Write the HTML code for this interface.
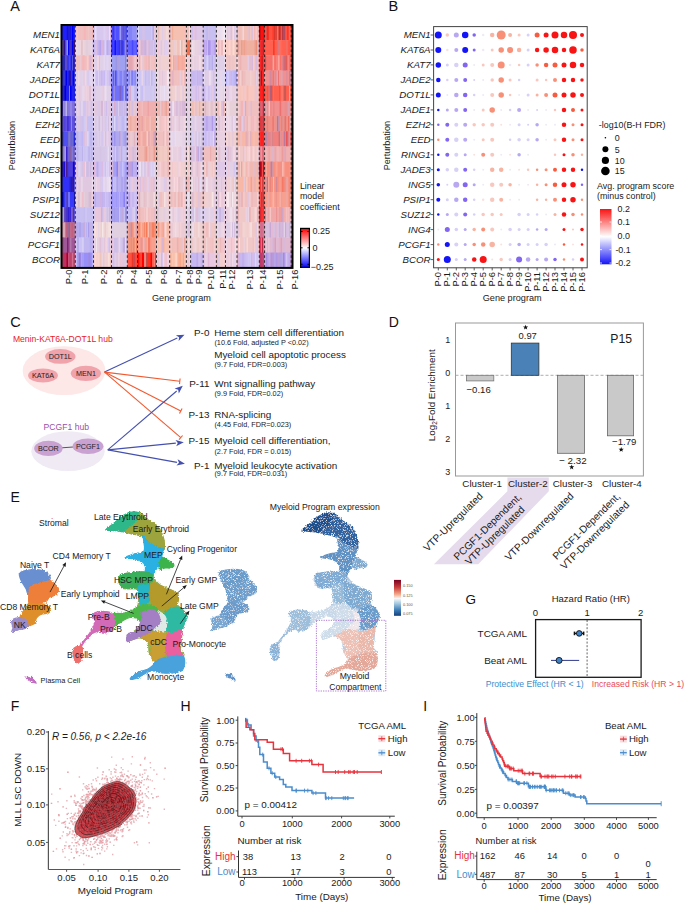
<!DOCTYPE html>
<html><head><meta charset="utf-8"><style>
html,body{margin:0;padding:0;background:#fff;}
svg{display:block;}
text{font-family:"Liberation Sans",sans-serif;}
</style></head><body>
<svg width="685" height="904" viewBox="0 0 685 904" font-family="Liberation Sans, sans-serif">
<rect width="685" height="904" fill="#fff"/>
<text x="10.3" y="11" font-size="14.5" fill="#111">A</text>
<g transform="translate(0,25.00)">
<rect x="62.0" width="13.3" height="15.48" fill="#2020ff"/>
<rect x="66.5" width="1.0" height="15.48" fill="#1b1ae4"/>
<rect x="67.5" width="1.0" height="15.48" fill="#0000ff"/>
<rect x="68.5" width="1.0" height="15.48" fill="#2c28ad"/>
<rect x="69.5" width="1.5" height="15.48" fill="#1a19dd"/>
<rect x="71.0" width="1.0" height="15.48" fill="#2a28dd"/>
<rect x="72.0" width="1.5" height="15.48" fill="#0000ff"/>
<rect x="75.3" width="18.2" height="15.48" fill="#f0c0c0"/>
<rect x="76.8" width="1.5" height="15.48" fill="#f7c6c9"/>
<rect x="78.3" width="1.5" height="15.48" fill="#f4bfc1"/>
<rect x="80.8" width="1.0" height="15.48" fill="#f7bec2"/>
<rect x="83.8" width="2.0" height="15.48" fill="#f5b5b9"/>
<rect x="88.3" width="1.0" height="15.48" fill="#f2c8c8"/>
<rect x="89.3" width="1.5" height="15.48" fill="#e9bfc9"/>
<rect x="92.3" width="1.2" height="15.48" fill="#ebadad"/>
<rect x="93.5" width="18.0" height="15.48" fill="#d8c8f0"/>
<rect x="93.5" width="1.5" height="15.48" fill="#d8c8f0"/>
<rect x="95.0" width="1.5" height="15.48" fill="#e5dbf5"/>
<rect x="103.5" width="1.5" height="15.48" fill="#ddd0f4"/>
<rect x="105.0" width="1.5" height="15.48" fill="#e4cae7"/>
<rect x="109.0" width="1.0" height="15.48" fill="#e8def6"/>
<rect x="110.0" width="1.0" height="15.48" fill="#e4bede"/>
<rect x="111.5" width="15.8" height="15.48" fill="#5050ff"/>
<rect x="112.5" width="1.5" height="15.48" fill="#4237e2"/>
<rect x="115.0" width="1.0" height="15.48" fill="#6262ff"/>
<rect x="119.5" width="1.5" height="15.48" fill="#9e9eff"/>
<rect x="121.0" width="1.5" height="15.48" fill="#7c63bc"/>
<rect x="124.0" width="1.5" height="15.48" fill="#615fe1"/>
<rect x="127.3" width="10.2" height="15.48" fill="#9090f8"/>
<rect x="128.3" width="2.0" height="15.48" fill="#8383f7"/>
<rect x="130.3" width="1.5" height="15.48" fill="#8181f7"/>
<rect x="136.3" width="1.2" height="15.48" fill="#a29ee5"/>
<rect x="137.5" width="19.0" height="15.48" fill="#c8c0f0"/>
<rect x="137.5" width="1.5" height="15.48" fill="#dfdaf6"/>
<rect x="142.5" width="2.0" height="15.48" fill="#d7c0e4"/>
<rect x="151.0" width="1.5" height="15.48" fill="#cfc9f5"/>
<rect x="152.5" width="1.5" height="15.48" fill="#b6abeb"/>
<rect x="154.0" width="1.5" height="15.48" fill="#e7c9e0"/>
<rect x="156.5" width="13.2" height="15.48" fill="#f0d0d0"/>
<rect x="157.5" width="2.0" height="15.48" fill="#eabebe"/>
<rect x="159.5" width="1.0" height="15.48" fill="#efcdcd"/>
<rect x="162.0" width="1.5" height="15.48" fill="#e3cde4"/>
<rect x="163.5" width="1.0" height="15.48" fill="#e9cfdd"/>
<rect x="165.5" width="1.0" height="15.48" fill="#f0d0d0"/>
<rect x="166.5" width="1.0" height="15.48" fill="#f5e0e0"/>
<rect x="169.0" width="0.7" height="15.48" fill="#e5cddf"/>
<rect x="169.7" width="16.7" height="15.48" fill="#f5c0b0"/>
<rect x="169.7" width="1.0" height="15.48" fill="#d8b5d0"/>
<rect x="170.7" width="1.5" height="15.48" fill="#f5c0b1"/>
<rect x="172.2" width="1.0" height="15.48" fill="#f1aa94"/>
<rect x="177.7" width="1.5" height="15.48" fill="#f5c0b1"/>
<rect x="184.2" width="1.5" height="15.48" fill="#f9beb8"/>
<rect x="186.4" width="4.2" height="15.48" fill="#f0c0c0"/>
<rect x="188.9" width="1.7" height="15.48" fill="#f6dbdb"/>
<rect x="190.6" width="12.6" height="15.48" fill="#e0c8e8"/>
<rect x="192.1" width="1.0" height="15.48" fill="#d3c0f1"/>
<rect x="194.6" width="1.5" height="15.48" fill="#eabdd7"/>
<rect x="196.1" width="1.0" height="15.48" fill="#ddc3e6"/>
<rect x="201.6" width="1.0" height="15.48" fill="#e0ceef"/>
<rect x="203.2" width="13.2" height="15.48" fill="#c8c0f0"/>
<rect x="203.2" width="2.0" height="15.48" fill="#c9c1f0"/>
<rect x="206.7" width="1.0" height="15.48" fill="#bab0ec"/>
<rect x="207.7" width="1.0" height="15.48" fill="#d8c3e7"/>
<rect x="208.7" width="1.5" height="15.48" fill="#c6beef"/>
<rect x="215.7" width="0.7" height="15.48" fill="#ccb5e3"/>
<rect x="216.4" width="9.1" height="15.48" fill="#e8e0f0"/>
<rect x="217.9" width="2.0" height="15.48" fill="#f0ddeb"/>
<rect x="220.9" width="1.0" height="15.48" fill="#e9e1f1"/>
<rect x="221.9" width="1.5" height="15.48" fill="#f2e2ee"/>
<rect x="223.4" width="1.5" height="15.48" fill="#f2edf6"/>
<rect x="225.5" width="11.5" height="15.48" fill="#e8d0e0"/>
<rect x="225.5" width="1.5" height="15.48" fill="#ecd9e6"/>
<rect x="227.0" width="1.5" height="15.48" fill="#e9c8d9"/>
<rect x="228.5" width="2.0" height="15.48" fill="#e3d0e9"/>
<rect x="230.5" width="2.0" height="15.48" fill="#e0bfd5"/>
<rect x="232.5" width="1.5" height="15.48" fill="#f7dae3"/>
<rect x="234.0" width="1.0" height="15.48" fill="#e1cae4"/>
<rect x="235.0" width="2.0" height="15.48" fill="#e4d0e7"/>
<rect x="237.0" width="22.3" height="15.48" fill="#f0c0b8"/>
<rect x="237.0" width="1.0" height="15.48" fill="#ecaea4"/>
<rect x="238.0" width="1.0" height="15.48" fill="#f4c2be"/>
<rect x="241.5" width="1.0" height="15.48" fill="#eac6cc"/>
<rect x="242.5" width="1.5" height="15.48" fill="#f5d6d1"/>
<rect x="245.5" width="1.0" height="15.48" fill="#f0c0b8"/>
<rect x="248.5" width="1.5" height="15.48" fill="#d9bddc"/>
<rect x="250.0" width="1.5" height="15.48" fill="#f2c7c0"/>
<rect x="251.5" width="1.5" height="15.48" fill="#dec0d8"/>
<rect x="253.0" width="1.0" height="15.48" fill="#f3cec8"/>
<rect x="254.0" width="1.5" height="15.48" fill="#f5b8b7"/>
<rect x="255.5" width="1.5" height="15.48" fill="#f7c8c6"/>
<rect x="258.0" width="1.3" height="15.48" fill="#f6bbba"/>
<rect x="259.3" width="5.3" height="15.48" fill="#ff1010"/>
<rect x="259.3" width="1.0" height="15.48" fill="#900000"/>
<rect x="263.8" width="0.8" height="15.48" fill="#9a0000"/>
<rect x="264.6" width="27.9" height="15.48" fill="#ff5040"/>
<rect x="265.6" width="1.0" height="15.48" fill="#b8778c"/>
<rect x="266.6" width="1.5" height="15.48" fill="#ff2713"/>
<rect x="268.1" width="1.0" height="15.48" fill="#ff2e1b"/>
<rect x="269.1" width="2.0" height="15.48" fill="#ff5142"/>
<rect x="272.1" width="1.5" height="15.48" fill="#ff4130"/>
<rect x="273.6" width="1.5" height="15.48" fill="#dc372c"/>
<rect x="275.1" width="2.0" height="15.48" fill="#dd453b"/>
<rect x="277.1" width="1.5" height="15.48" fill="#ff7265"/>
<rect x="278.6" width="2.0" height="15.48" fill="#bd322d"/>
<rect x="282.1" width="1.0" height="15.48" fill="#b23749"/>
<rect x="283.1" width="2.0" height="15.48" fill="#af4b60"/>
<rect x="287.6" width="1.0" height="15.48" fill="#ff1000"/>
<rect x="288.6" width="1.5" height="15.48" fill="#ff6759"/>
<rect x="290.1" width="2.0" height="15.48" fill="#ff5849"/>
</g>
<g transform="translate(0,40.18)">
<rect x="62.0" width="13.3" height="15.48" fill="#3030f0"/>
<rect x="62.0" width="1.5" height="15.48" fill="#725cb3"/>
<rect x="63.5" width="2.0" height="15.48" fill="#2e1095"/>
<rect x="65.5" width="1.5" height="15.48" fill="#6a6af4"/>
<rect x="67.0" width="1.0" height="15.48" fill="#8c8cf7"/>
<rect x="68.0" width="1.5" height="15.48" fill="#0505ed"/>
<rect x="69.5" width="1.5" height="15.48" fill="#4636c3"/>
<rect x="72.0" width="1.5" height="15.48" fill="#0000ec"/>
<rect x="73.5" width="1.8" height="15.48" fill="#37117c"/>
<rect x="75.3" width="18.2" height="15.48" fill="#e8d0d8"/>
<rect x="75.3" width="1.0" height="15.48" fill="#efdfe4"/>
<rect x="76.3" width="1.0" height="15.48" fill="#f3dae0"/>
<rect x="77.3" width="1.0" height="15.48" fill="#e7daef"/>
<rect x="78.3" width="1.5" height="15.48" fill="#e5d8ee"/>
<rect x="79.8" width="1.5" height="15.48" fill="#f1d4db"/>
<rect x="81.3" width="1.5" height="15.48" fill="#dfbdc8"/>
<rect x="82.8" width="1.5" height="15.48" fill="#ebd6dd"/>
<rect x="86.3" width="2.0" height="15.48" fill="#e3ccdd"/>
<rect x="88.3" width="1.0" height="15.48" fill="#e6d1de"/>
<rect x="89.3" width="1.5" height="15.48" fill="#e4d1e2"/>
<rect x="90.8" width="1.0" height="15.48" fill="#ecd9df"/>
<rect x="91.8" width="1.7" height="15.48" fill="#dcc8e4"/>
<rect x="93.5" width="18.0" height="15.48" fill="#c8b8f0"/>
<rect x="95.0" width="2.0" height="15.48" fill="#dabee3"/>
<rect x="97.0" width="1.5" height="15.48" fill="#c6b8f1"/>
<rect x="98.5" width="1.5" height="15.48" fill="#bca9ed"/>
<rect x="100.0" width="1.5" height="15.48" fill="#b7a2eb"/>
<rect x="101.5" width="1.0" height="15.48" fill="#dabde3"/>
<rect x="102.5" width="1.0" height="15.48" fill="#dcaed0"/>
<rect x="104.5" width="1.5" height="15.48" fill="#dbd1f5"/>
<rect x="107.0" width="1.5" height="15.48" fill="#b9abf0"/>
<rect x="110.0" width="1.5" height="15.48" fill="#cfb6e6"/>
<rect x="111.5" width="15.8" height="15.48" fill="#4040ff"/>
<rect x="111.5" width="1.0" height="15.48" fill="#2d2dff"/>
<rect x="114.5" width="1.5" height="15.48" fill="#1111ff"/>
<rect x="117.0" width="1.5" height="15.48" fill="#3c3cff"/>
<rect x="118.5" width="1.5" height="15.48" fill="#3131ff"/>
<rect x="120.0" width="1.5" height="15.48" fill="#5755e2"/>
<rect x="121.5" width="1.0" height="15.48" fill="#312ec7"/>
<rect x="124.5" width="2.0" height="15.48" fill="#8888ff"/>
<rect x="126.5" width="0.8" height="15.48" fill="#8167b1"/>
<rect x="127.3" width="10.2" height="15.48" fill="#6060ff"/>
<rect x="131.8" width="1.5" height="15.48" fill="#4747ff"/>
<rect x="136.8" width="0.7" height="15.48" fill="#2a2aff"/>
<rect x="137.5" width="19.0" height="15.48" fill="#d0b8e0"/>
<rect x="137.5" width="1.5" height="15.48" fill="#dfb7d3"/>
<rect x="139.0" width="1.0" height="15.48" fill="#e0d1eb"/>
<rect x="140.0" width="1.0" height="15.48" fill="#e0bfd9"/>
<rect x="141.0" width="1.5" height="15.48" fill="#e0b0cb"/>
<rect x="144.5" width="2.0" height="15.48" fill="#cbb1dd"/>
<rect x="146.5" width="2.0" height="15.48" fill="#dfc4e0"/>
<rect x="148.5" width="1.0" height="15.48" fill="#dab9d9"/>
<rect x="150.5" width="1.0" height="15.48" fill="#d2c5ee"/>
<rect x="152.5" width="1.5" height="15.48" fill="#d4c6ed"/>
<rect x="154.0" width="2.0" height="15.48" fill="#cdbdec"/>
<rect x="156.5" width="13.2" height="15.48" fill="#e8d0e0"/>
<rect x="156.5" width="1.0" height="15.48" fill="#ead5e3"/>
<rect x="157.5" width="1.5" height="15.48" fill="#f3c7d5"/>
<rect x="160.5" width="2.0" height="15.48" fill="#e0c7e1"/>
<rect x="162.5" width="1.5" height="15.48" fill="#efd1de"/>
<rect x="164.0" width="1.0" height="15.48" fill="#e1cce8"/>
<rect x="165.0" width="2.0" height="15.48" fill="#dfceef"/>
<rect x="169.7" width="16.7" height="15.48" fill="#f0c8c0"/>
<rect x="174.2" width="1.5" height="15.48" fill="#eacfd8"/>
<rect x="175.7" width="1.5" height="15.48" fill="#f2cfc8"/>
<rect x="177.2" width="1.5" height="15.48" fill="#eec2b9"/>
<rect x="178.7" width="1.0" height="15.48" fill="#f1beb9"/>
<rect x="179.7" width="1.5" height="15.48" fill="#f6dfda"/>
<rect x="181.2" width="1.5" height="15.48" fill="#eab4a9"/>
<rect x="182.7" width="1.5" height="15.48" fill="#f2cfc8"/>
<rect x="186.4" width="4.2" height="15.48" fill="#f07050"/>
<rect x="190.6" width="12.6" height="15.48" fill="#e8d0e0"/>
<rect x="190.6" width="1.5" height="15.48" fill="#f0cedc"/>
<rect x="192.1" width="1.0" height="15.48" fill="#efdde9"/>
<rect x="193.1" width="1.5" height="15.48" fill="#eddbe7"/>
<rect x="195.6" width="2.0" height="15.48" fill="#e9d2e1"/>
<rect x="199.6" width="2.0" height="15.48" fill="#e2cfea"/>
<rect x="201.6" width="1.0" height="15.48" fill="#e7cfdf"/>
<rect x="203.2" width="13.2" height="15.48" fill="#b8a0f0"/>
<rect x="204.7" width="1.5" height="15.48" fill="#cbade0"/>
<rect x="206.2" width="1.0" height="15.48" fill="#bdaaef"/>
<rect x="207.2" width="1.0" height="15.48" fill="#d1c2f5"/>
<rect x="208.2" width="1.5" height="15.48" fill="#a591e5"/>
<rect x="211.2" width="1.5" height="15.48" fill="#cbb9f4"/>
<rect x="212.7" width="1.5" height="15.48" fill="#c2b1f0"/>
<rect x="216.4" width="9.1" height="15.48" fill="#f0c8c8"/>
<rect x="216.4" width="1.5" height="15.48" fill="#f6dddd"/>
<rect x="217.9" width="1.5" height="15.48" fill="#edbcbc"/>
<rect x="219.4" width="2.0" height="15.48" fill="#f8ccd0"/>
<rect x="221.4" width="1.5" height="15.48" fill="#ebb7b7"/>
<rect x="222.9" width="1.0" height="15.48" fill="#f6dfdf"/>
<rect x="223.9" width="1.5" height="15.48" fill="#f5dbdb"/>
<rect x="225.5" width="11.5" height="15.48" fill="#f8c8c0"/>
<rect x="225.5" width="1.0" height="15.48" fill="#fadad4"/>
<rect x="226.5" width="2.0" height="15.48" fill="#f8ccc4"/>
<rect x="228.5" width="2.0" height="15.48" fill="#fcd3d2"/>
<rect x="232.5" width="2.0" height="15.48" fill="#fadad5"/>
<rect x="237.0" width="22.3" height="15.48" fill="#f0b0a0"/>
<rect x="237.0" width="1.0" height="15.48" fill="#dcacb5"/>
<rect x="238.0" width="1.0" height="15.48" fill="#e2a09c"/>
<rect x="239.0" width="2.0" height="15.48" fill="#f0b2a3"/>
<rect x="241.0" width="1.5" height="15.48" fill="#ec9d89"/>
<rect x="243.5" width="1.5" height="15.48" fill="#eda08c"/>
<rect x="245.0" width="1.5" height="15.48" fill="#eea9a2"/>
<rect x="254.0" width="1.5" height="15.48" fill="#eea698"/>
<rect x="255.5" width="1.5" height="15.48" fill="#ea917a"/>
<rect x="258.0" width="1.3" height="15.48" fill="#deb5c0"/>
<rect x="259.3" width="5.3" height="15.48" fill="#ff2020"/>
<rect x="259.3" width="1.0" height="15.48" fill="#e94748"/>
<rect x="261.8" width="1.0" height="15.48" fill="#db303a"/>
<rect x="262.8" width="1.5" height="15.48" fill="#e31113"/>
<rect x="264.6" width="27.9" height="15.48" fill="#ff6050"/>
<rect x="273.1" width="1.5" height="15.48" fill="#ff3521"/>
<rect x="277.6" width="2.0" height="15.48" fill="#d97980"/>
<rect x="279.6" width="1.0" height="15.48" fill="#ff7c6f"/>
<rect x="280.6" width="1.0" height="15.48" fill="#ff6a5b"/>
<rect x="285.1" width="1.0" height="15.48" fill="#ed695e"/>
<rect x="286.1" width="1.5" height="15.48" fill="#f06e63"/>
<rect x="288.6" width="1.0" height="15.48" fill="#ff4e3d"/>
<rect x="291.6" width="0.9" height="15.48" fill="#f2796f"/>
</g>
<g transform="translate(0,55.36)">
<rect x="62.0" width="13.3" height="15.48" fill="#3838f0"/>
<rect x="63.0" width="2.0" height="15.48" fill="#2b27b9"/>
<rect x="65.0" width="2.0" height="15.48" fill="#5a4bc8"/>
<rect x="69.0" width="1.0" height="15.48" fill="#4d4df2"/>
<rect x="71.0" width="1.0" height="15.48" fill="#1f1fee"/>
<rect x="72.0" width="1.0" height="15.48" fill="#5655df"/>
<rect x="73.0" width="1.5" height="15.48" fill="#1616ed"/>
<rect x="74.5" width="0.8" height="15.48" fill="#3f1f91"/>
<rect x="75.3" width="18.2" height="15.48" fill="#f0c0c0"/>
<rect x="75.3" width="1.5" height="15.48" fill="#f0c1c1"/>
<rect x="79.8" width="1.5" height="15.48" fill="#ecc8d2"/>
<rect x="82.3" width="2.0" height="15.48" fill="#f6b5ba"/>
<rect x="84.3" width="1.0" height="15.48" fill="#f4b8bb"/>
<rect x="86.8" width="1.5" height="15.48" fill="#f3cece"/>
<rect x="88.3" width="1.0" height="15.48" fill="#f7c5c8"/>
<rect x="89.3" width="2.0" height="15.48" fill="#dcb6d2"/>
<rect x="92.8" width="0.7" height="15.48" fill="#dfc3e0"/>
<rect x="93.5" width="18.0" height="15.48" fill="#e0d0e8"/>
<rect x="97.0" width="2.0" height="15.48" fill="#f2d5e3"/>
<rect x="99.0" width="1.0" height="15.48" fill="#d8c4e2"/>
<rect x="103.5" width="1.5" height="15.48" fill="#e4d8f1"/>
<rect x="105.0" width="1.5" height="15.48" fill="#ddd0f2"/>
<rect x="106.5" width="2.0" height="15.48" fill="#e1d5f1"/>
<rect x="111.5" width="15.8" height="15.48" fill="#a0a0f0"/>
<rect x="115.5" width="1.5" height="15.48" fill="#9b96e4"/>
<rect x="118.5" width="1.5" height="15.48" fill="#b69dd2"/>
<rect x="125.0" width="1.0" height="15.48" fill="#8686ec"/>
<rect x="126.0" width="1.3" height="15.48" fill="#aca9ec"/>
<rect x="127.3" width="10.2" height="15.48" fill="#e8b8c0"/>
<rect x="127.3" width="1.0" height="15.48" fill="#e6b1b9"/>
<rect x="128.3" width="2.0" height="15.48" fill="#e3a7b1"/>
<rect x="130.3" width="1.5" height="15.48" fill="#e1a2ad"/>
<rect x="131.8" width="1.0" height="15.48" fill="#e9aab4"/>
<rect x="134.3" width="2.0" height="15.48" fill="#f0c6cd"/>
<rect x="137.5" width="19.0" height="15.48" fill="#f0c0c0"/>
<rect x="137.5" width="1.5" height="15.48" fill="#ecc8d2"/>
<rect x="139.0" width="1.5" height="15.48" fill="#edb2b2"/>
<rect x="140.5" width="1.5" height="15.48" fill="#f4d2d2"/>
<rect x="142.0" width="1.5" height="15.48" fill="#ebc9d4"/>
<rect x="145.5" width="1.5" height="15.48" fill="#f3b8bb"/>
<rect x="148.0" width="2.0" height="15.48" fill="#eeb7b7"/>
<rect x="150.0" width="1.5" height="15.48" fill="#f2c9c9"/>
<rect x="151.5" width="2.0" height="15.48" fill="#f3c2c3"/>
<rect x="155.5" width="1.0" height="15.48" fill="#dcb9d5"/>
<rect x="156.5" width="13.2" height="15.48" fill="#f0d0d0"/>
<rect x="159.5" width="1.0" height="15.48" fill="#e6c9d9"/>
<rect x="166.5" width="2.0" height="15.48" fill="#f0d1d1"/>
<rect x="169.7" width="16.7" height="15.48" fill="#f8b0a0"/>
<rect x="169.7" width="1.0" height="15.48" fill="#f6b0a5"/>
<rect x="170.7" width="1.0" height="15.48" fill="#f9beb1"/>
<rect x="171.7" width="1.5" height="15.48" fill="#facabf"/>
<rect x="173.2" width="1.0" height="15.48" fill="#dfa9b6"/>
<rect x="174.2" width="1.5" height="15.48" fill="#eeb5b3"/>
<rect x="175.7" width="1.0" height="15.48" fill="#dbbbd2"/>
<rect x="176.7" width="1.0" height="15.48" fill="#efb8b5"/>
<rect x="177.7" width="1.5" height="15.48" fill="#f7a796"/>
<rect x="181.7" width="1.5" height="15.48" fill="#f6a99c"/>
<rect x="185.2" width="1.2" height="15.48" fill="#facbc0"/>
<rect x="186.4" width="4.2" height="15.48" fill="#f0d0d8"/>
<rect x="189.9" width="0.7" height="15.48" fill="#ebc2cc"/>
<rect x="190.6" width="12.6" height="15.48" fill="#e8d0e0"/>
<rect x="191.6" width="1.0" height="15.48" fill="#e6ccde"/>
<rect x="192.6" width="1.0" height="15.48" fill="#f1d9e4"/>
<rect x="196.6" width="1.0" height="15.48" fill="#ecd8e5"/>
<rect x="197.6" width="1.0" height="15.48" fill="#e7cedf"/>
<rect x="198.6" width="1.5" height="15.48" fill="#f5d9e3"/>
<rect x="200.1" width="1.0" height="15.48" fill="#eedce8"/>
<rect x="202.1" width="1.1" height="15.48" fill="#f1d2de"/>
<rect x="203.2" width="13.2" height="15.48" fill="#c8c0f0"/>
<rect x="203.2" width="1.0" height="15.48" fill="#d8d2f4"/>
<rect x="204.2" width="1.5" height="15.48" fill="#c6bdef"/>
<rect x="206.7" width="1.0" height="15.48" fill="#e0dbf6"/>
<rect x="209.2" width="1.0" height="15.48" fill="#bbb1ed"/>
<rect x="211.7" width="1.5" height="15.48" fill="#b7adeb"/>
<rect x="213.2" width="1.0" height="15.48" fill="#d7c2e6"/>
<rect x="216.4" width="9.1" height="15.48" fill="#e0d0e8"/>
<rect x="219.9" width="1.0" height="15.48" fill="#e0d0e8"/>
<rect x="223.9" width="1.0" height="15.48" fill="#e5d8ec"/>
<rect x="224.9" width="0.6" height="15.48" fill="#e4d8f0"/>
<rect x="225.5" width="11.5" height="15.48" fill="#f0c8c8"/>
<rect x="227.0" width="2.0" height="15.48" fill="#efc5c5"/>
<rect x="229.0" width="1.5" height="15.48" fill="#eec2c2"/>
<rect x="232.0" width="1.5" height="15.48" fill="#efc6c6"/>
<rect x="235.5" width="1.0" height="15.48" fill="#e7cfe3"/>
<rect x="237.0" width="22.3" height="15.48" fill="#f0c0c0"/>
<rect x="237.0" width="1.0" height="15.48" fill="#f6dbdb"/>
<rect x="239.5" width="2.0" height="15.48" fill="#edb3b3"/>
<rect x="247.5" width="2.0" height="15.48" fill="#e3cbe3"/>
<rect x="249.5" width="1.0" height="15.48" fill="#d5b7de"/>
<rect x="251.5" width="1.5" height="15.48" fill="#d9b8d9"/>
<rect x="253.0" width="1.5" height="15.48" fill="#f8cccf"/>
<rect x="255.5" width="1.5" height="15.48" fill="#dab9d9"/>
<rect x="257.0" width="1.0" height="15.48" fill="#e5c0d1"/>
<rect x="258.0" width="1.3" height="15.48" fill="#f6bcc0"/>
<rect x="259.3" width="5.3" height="15.48" fill="#ff3030"/>
<rect x="259.3" width="1.0" height="15.48" fill="#ff7272"/>
<rect x="260.3" width="1.5" height="15.48" fill="#ff1b1b"/>
<rect x="261.8" width="1.0" height="15.48" fill="#cf090b"/>
<rect x="262.8" width="1.8" height="15.48" fill="#bd5256"/>
<rect x="264.6" width="27.9" height="15.48" fill="#f87068"/>
<rect x="264.6" width="1.5" height="15.48" fill="#d05965"/>
<rect x="270.6" width="2.0" height="15.48" fill="#ec746f"/>
<rect x="272.6" width="1.5" height="15.48" fill="#faa39e"/>
<rect x="276.1" width="1.0" height="15.48" fill="#f9827b"/>
<rect x="277.1" width="1.0" height="15.48" fill="#db9090"/>
<rect x="278.1" width="1.5" height="15.48" fill="#fba9a4"/>
<rect x="281.6" width="1.0" height="15.48" fill="#fa8f89"/>
<rect x="282.6" width="1.5" height="15.48" fill="#bb7b96"/>
<rect x="284.1" width="2.0" height="15.48" fill="#ca6979"/>
<rect x="286.1" width="1.5" height="15.48" fill="#e25b57"/>
<rect x="287.6" width="1.0" height="15.48" fill="#fa9691"/>
<rect x="290.1" width="1.5" height="15.48" fill="#f76158"/>
</g>
<g transform="translate(0,70.54)">
<rect x="62.0" width="13.3" height="15.48" fill="#3030f0"/>
<rect x="64.5" width="1.0" height="15.48" fill="#3f3cc7"/>
<rect x="65.5" width="1.5" height="15.48" fill="#0000ec"/>
<rect x="67.0" width="1.5" height="15.48" fill="#2b29cd"/>
<rect x="68.5" width="1.5" height="15.48" fill="#0e0eee"/>
<rect x="70.0" width="1.5" height="15.48" fill="#2b13a6"/>
<rect x="71.5" width="1.0" height="15.48" fill="#4f4ff2"/>
<rect x="72.5" width="1.5" height="15.48" fill="#0000eb"/>
<rect x="75.3" width="18.2" height="15.48" fill="#e0d0e8"/>
<rect x="78.3" width="1.0" height="15.48" fill="#f2dae7"/>
<rect x="80.8" width="1.0" height="15.48" fill="#e0d0e8"/>
<rect x="81.8" width="1.5" height="15.48" fill="#e1d1e9"/>
<rect x="83.3" width="1.5" height="15.48" fill="#e5cae0"/>
<rect x="84.8" width="1.5" height="15.48" fill="#efd7e6"/>
<rect x="87.3" width="2.0" height="15.48" fill="#d9caf0"/>
<rect x="89.3" width="2.0" height="15.48" fill="#e1d5f1"/>
<rect x="91.3" width="1.0" height="15.48" fill="#f0d9e7"/>
<rect x="92.3" width="1.0" height="15.48" fill="#dfcfe8"/>
<rect x="93.5" width="18.0" height="15.48" fill="#d0c0f0"/>
<rect x="93.5" width="2.0" height="15.48" fill="#e5dcf7"/>
<rect x="95.5" width="1.0" height="15.48" fill="#cfc1f2"/>
<rect x="98.0" width="1.0" height="15.48" fill="#ddd2f4"/>
<rect x="101.0" width="1.5" height="15.48" fill="#c8b5ed"/>
<rect x="103.5" width="1.5" height="15.48" fill="#c9b9f2"/>
<rect x="105.0" width="1.0" height="15.48" fill="#e1c9ea"/>
<rect x="106.0" width="1.0" height="15.48" fill="#dacef3"/>
<rect x="107.0" width="2.0" height="15.48" fill="#d3c4f1"/>
<rect x="109.0" width="1.0" height="15.48" fill="#d4b8e6"/>
<rect x="110.0" width="1.5" height="15.48" fill="#c6b6f2"/>
<rect x="111.5" width="15.8" height="15.48" fill="#8080f8"/>
<rect x="113.0" width="1.0" height="15.48" fill="#5c5cf6"/>
<rect x="114.0" width="1.0" height="15.48" fill="#8988f0"/>
<rect x="115.0" width="1.5" height="15.48" fill="#5050f5"/>
<rect x="117.5" width="2.0" height="15.48" fill="#9999f9"/>
<rect x="122.5" width="1.0" height="15.48" fill="#b4b4fb"/>
<rect x="123.5" width="2.0" height="15.48" fill="#8482e7"/>
<rect x="125.5" width="1.0" height="15.48" fill="#7e7ce9"/>
<rect x="127.3" width="10.2" height="15.48" fill="#9898f8"/>
<rect x="128.8" width="1.0" height="15.48" fill="#8484f7"/>
<rect x="129.8" width="1.0" height="15.48" fill="#bfbffb"/>
<rect x="130.8" width="1.0" height="15.48" fill="#9785dd"/>
<rect x="131.8" width="1.0" height="15.48" fill="#7878f6"/>
<rect x="134.8" width="1.0" height="15.48" fill="#7b7bf6"/>
<rect x="135.8" width="1.0" height="15.48" fill="#bfbffb"/>
<rect x="136.8" width="0.7" height="15.48" fill="#bba8de"/>
<rect x="137.5" width="19.0" height="15.48" fill="#d0c8f0"/>
<rect x="140.0" width="1.5" height="15.48" fill="#d0c8f4"/>
<rect x="141.5" width="2.0" height="15.48" fill="#e8d4ea"/>
<rect x="143.5" width="1.5" height="15.48" fill="#d1c9f4"/>
<rect x="145.0" width="1.5" height="15.48" fill="#c5bbed"/>
<rect x="147.5" width="1.5" height="15.48" fill="#cac1ee"/>
<rect x="149.0" width="1.0" height="15.48" fill="#cac2ee"/>
<rect x="150.0" width="1.0" height="15.48" fill="#d8d1f2"/>
<rect x="151.0" width="1.5" height="15.48" fill="#c2b8ec"/>
<rect x="156.5" width="13.2" height="15.48" fill="#e8d0e0"/>
<rect x="156.5" width="1.0" height="15.48" fill="#f1e2ec"/>
<rect x="157.5" width="1.5" height="15.48" fill="#ebd6e4"/>
<rect x="159.0" width="1.5" height="15.48" fill="#eec9d8"/>
<rect x="162.0" width="1.0" height="15.48" fill="#e4c8da"/>
<rect x="165.5" width="1.5" height="15.48" fill="#f1d2df"/>
<rect x="167.0" width="2.0" height="15.48" fill="#f2e5ee"/>
<rect x="169.0" width="0.7" height="15.48" fill="#edd2df"/>
<rect x="169.7" width="16.7" height="15.48" fill="#f0c0c0"/>
<rect x="169.7" width="1.0" height="15.48" fill="#eeb7b7"/>
<rect x="171.7" width="2.0" height="15.48" fill="#e6b4c0"/>
<rect x="176.7" width="2.0" height="15.48" fill="#f0c1c1"/>
<rect x="179.7" width="1.5" height="15.48" fill="#eacddb"/>
<rect x="181.2" width="1.0" height="15.48" fill="#f5c2c4"/>
<rect x="182.2" width="1.0" height="15.48" fill="#f6c8ca"/>
<rect x="183.2" width="1.0" height="15.48" fill="#f4d2d2"/>
<rect x="184.2" width="1.5" height="15.48" fill="#f2b8ba"/>
<rect x="186.4" width="4.2" height="15.48" fill="#e8d0e8"/>
<rect x="188.9" width="1.0" height="15.48" fill="#e8d0e8"/>
<rect x="189.9" width="0.7" height="15.48" fill="#e6d1ed"/>
<rect x="190.6" width="12.6" height="15.48" fill="#c8b8f0"/>
<rect x="194.6" width="1.0" height="15.48" fill="#c9bdf3"/>
<rect x="195.6" width="1.5" height="15.48" fill="#cbbcf1"/>
<rect x="197.1" width="1.0" height="15.48" fill="#d5aed8"/>
<rect x="199.1" width="1.0" height="15.48" fill="#c4b7f2"/>
<rect x="202.6" width="0.6" height="15.48" fill="#c1b0ee"/>
<rect x="203.2" width="13.2" height="15.48" fill="#e0d0e8"/>
<rect x="203.2" width="1.5" height="15.48" fill="#eadfef"/>
<rect x="204.7" width="1.0" height="15.48" fill="#dbcbe9"/>
<rect x="205.7" width="1.5" height="15.48" fill="#decee7"/>
<rect x="207.2" width="1.0" height="15.48" fill="#e9cade"/>
<rect x="209.2" width="1.5" height="15.48" fill="#ede3f2"/>
<rect x="212.2" width="1.0" height="15.48" fill="#dcccec"/>
<rect x="213.2" width="1.5" height="15.48" fill="#d6c0e0"/>
<rect x="214.7" width="1.5" height="15.48" fill="#dfd1ef"/>
<rect x="216.4" width="9.1" height="15.48" fill="#e0d8f0"/>
<rect x="216.4" width="1.0" height="15.48" fill="#dcd3ee"/>
<rect x="219.9" width="2.0" height="15.48" fill="#e8d7eb"/>
<rect x="225.5" width="11.5" height="15.48" fill="#c0b8f8"/>
<rect x="227.0" width="1.0" height="15.48" fill="#d0cafa"/>
<rect x="228.0" width="1.0" height="15.48" fill="#d1cbfa"/>
<rect x="229.0" width="1.5" height="15.48" fill="#d7bbe3"/>
<rect x="232.5" width="1.0" height="15.48" fill="#cac3f9"/>
<rect x="233.5" width="2.0" height="15.48" fill="#beb5f7"/>
<rect x="235.5" width="1.0" height="15.48" fill="#ada2f6"/>
<rect x="237.0" width="22.3" height="15.48" fill="#f0c8c8"/>
<rect x="237.0" width="1.0" height="15.48" fill="#f3d4d4"/>
<rect x="238.0" width="1.5" height="15.48" fill="#ecb8b8"/>
<rect x="239.5" width="1.0" height="15.48" fill="#f7c4c8"/>
<rect x="240.5" width="1.0" height="15.48" fill="#f4d7d7"/>
<rect x="241.5" width="2.0" height="15.48" fill="#ebb6b6"/>
<rect x="243.5" width="2.0" height="15.48" fill="#edbebe"/>
<rect x="250.0" width="1.5" height="15.48" fill="#f2d0d0"/>
<rect x="254.5" width="1.5" height="15.48" fill="#eec1c1"/>
<rect x="256.0" width="1.0" height="15.48" fill="#e5cde3"/>
<rect x="257.0" width="1.0" height="15.48" fill="#efc5c5"/>
<rect x="258.0" width="1.3" height="15.48" fill="#f1cbcb"/>
<rect x="259.3" width="5.3" height="15.48" fill="#ff2020"/>
<rect x="259.3" width="1.5" height="15.48" fill="#d04b4d"/>
<rect x="260.8" width="1.0" height="15.48" fill="#930d2c"/>
<rect x="264.6" width="27.9" height="15.48" fill="#f09090"/>
<rect x="264.6" width="1.0" height="15.48" fill="#dea5b3"/>
<rect x="269.6" width="2.0" height="15.48" fill="#d0899e"/>
<rect x="272.6" width="1.5" height="15.48" fill="#ec7676"/>
<rect x="275.1" width="1.5" height="15.48" fill="#c793b0"/>
<rect x="276.6" width="1.5" height="15.48" fill="#f29e9e"/>
<rect x="278.1" width="1.0" height="15.48" fill="#ec7272"/>
<rect x="279.1" width="2.0" height="15.48" fill="#eb9a9c"/>
<rect x="281.1" width="1.5" height="15.48" fill="#dca6b6"/>
<rect x="286.1" width="1.5" height="15.48" fill="#de8d99"/>
<rect x="289.1" width="1.5" height="15.48" fill="#bd7fa1"/>
<rect x="290.6" width="1.9" height="15.48" fill="#dc878c"/>
</g>
<g transform="translate(0,85.72)">
<rect x="62.0" width="13.3" height="15.48" fill="#2020f0"/>
<rect x="64.5" width="1.5" height="15.48" fill="#0900ba"/>
<rect x="66.0" width="1.0" height="15.48" fill="#1d1df0"/>
<rect x="69.0" width="1.0" height="15.48" fill="#7c7cf6"/>
<rect x="70.0" width="1.5" height="15.48" fill="#0000ea"/>
<rect x="75.3" width="18.2" height="15.48" fill="#e8d0e0"/>
<rect x="75.3" width="1.0" height="15.48" fill="#deccee"/>
<rect x="78.8" width="1.5" height="15.48" fill="#e4c9db"/>
<rect x="80.3" width="1.0" height="15.48" fill="#e2cde7"/>
<rect x="82.3" width="2.0" height="15.48" fill="#e6d7ef"/>
<rect x="85.8" width="1.5" height="15.48" fill="#efd2df"/>
<rect x="87.3" width="1.0" height="15.48" fill="#f1cedb"/>
<rect x="89.3" width="1.5" height="15.48" fill="#dfbdd4"/>
<rect x="91.8" width="1.0" height="15.48" fill="#e1cfea"/>
<rect x="92.8" width="0.7" height="15.48" fill="#e7d5e9"/>
<rect x="93.5" width="18.0" height="15.48" fill="#e0d0e8"/>
<rect x="93.5" width="1.5" height="15.48" fill="#dacaed"/>
<rect x="95.0" width="1.0" height="15.48" fill="#decde7"/>
<rect x="102.5" width="2.0" height="15.48" fill="#eac9dd"/>
<rect x="104.5" width="2.0" height="15.48" fill="#eadfef"/>
<rect x="111.5" width="15.8" height="15.48" fill="#7070f8"/>
<rect x="111.5" width="2.0" height="15.48" fill="#6060f7"/>
<rect x="113.5" width="1.5" height="15.48" fill="#9489e2"/>
<rect x="119.5" width="1.5" height="15.48" fill="#7a60c2"/>
<rect x="123.0" width="1.0" height="15.48" fill="#9887d6"/>
<rect x="124.0" width="1.0" height="15.48" fill="#aaaafb"/>
<rect x="125.0" width="1.0" height="15.48" fill="#6363f7"/>
<rect x="127.3" width="10.2" height="15.48" fill="#c0b8f0"/>
<rect x="127.3" width="1.5" height="15.48" fill="#ada3ec"/>
<rect x="128.8" width="1.0" height="15.48" fill="#cbbbe9"/>
<rect x="129.8" width="1.5" height="15.48" fill="#d6acd1"/>
<rect x="131.3" width="1.5" height="15.48" fill="#d5d0f5"/>
<rect x="132.8" width="1.5" height="15.48" fill="#d1cbf4"/>
<rect x="135.3" width="1.0" height="15.48" fill="#c1baf0"/>
<rect x="137.5" width="19.0" height="15.48" fill="#d0c8f0"/>
<rect x="138.5" width="2.0" height="15.48" fill="#ddd7f4"/>
<rect x="140.5" width="1.0" height="15.48" fill="#c6bded"/>
<rect x="141.5" width="2.0" height="15.48" fill="#c9bff4"/>
<rect x="143.5" width="1.0" height="15.48" fill="#e1d3ed"/>
<rect x="150.0" width="1.0" height="15.48" fill="#d0c7f0"/>
<rect x="152.5" width="1.0" height="15.48" fill="#d6cff2"/>
<rect x="153.5" width="1.0" height="15.48" fill="#e6c6df"/>
<rect x="154.5" width="1.0" height="15.48" fill="#c9c0f2"/>
<rect x="155.5" width="1.0" height="15.48" fill="#e1cae6"/>
<rect x="156.5" width="13.2" height="15.48" fill="#e8d8e8"/>
<rect x="158.0" width="2.0" height="15.48" fill="#e5d3e5"/>
<rect x="160.0" width="1.0" height="15.48" fill="#eadcea"/>
<rect x="162.5" width="1.5" height="15.48" fill="#e7d9ee"/>
<rect x="164.0" width="1.0" height="15.48" fill="#e9dff6"/>
<rect x="167.5" width="1.0" height="15.48" fill="#e9e0f6"/>
<rect x="168.5" width="1.0" height="15.48" fill="#ede0ed"/>
<rect x="169.7" width="16.7" height="15.48" fill="#f0d0d0"/>
<rect x="170.7" width="1.5" height="15.48" fill="#efcccc"/>
<rect x="175.2" width="1.5" height="15.48" fill="#f4dddd"/>
<rect x="176.7" width="2.0" height="15.48" fill="#e5cee3"/>
<rect x="178.7" width="1.5" height="15.48" fill="#f2ccce"/>
<rect x="180.2" width="2.0" height="15.48" fill="#f2d7d7"/>
<rect x="182.2" width="2.0" height="15.48" fill="#e5cce0"/>
<rect x="186.4" width="4.2" height="15.48" fill="#e0d0e8"/>
<rect x="190.6" width="12.6" height="15.48" fill="#d8c8f0"/>
<rect x="194.6" width="1.0" height="15.48" fill="#e6c2df"/>
<rect x="195.6" width="1.5" height="15.48" fill="#d1beed"/>
<rect x="198.1" width="1.5" height="15.48" fill="#d9bee7"/>
<rect x="199.6" width="1.0" height="15.48" fill="#ead1e9"/>
<rect x="202.6" width="0.6" height="15.48" fill="#c9b3ea"/>
<rect x="203.2" width="13.2" height="15.48" fill="#d0c0f0"/>
<rect x="203.2" width="1.5" height="15.48" fill="#cab8ee"/>
<rect x="205.7" width="1.0" height="15.48" fill="#dcd0f4"/>
<rect x="206.7" width="1.0" height="15.48" fill="#e0d5f5"/>
<rect x="209.7" width="2.0" height="15.48" fill="#d9cdf3"/>
<rect x="211.7" width="2.0" height="15.48" fill="#e5cae6"/>
<rect x="215.7" width="0.7" height="15.48" fill="#dfd5f5"/>
<rect x="216.4" width="9.1" height="15.48" fill="#e8d8e8"/>
<rect x="217.9" width="1.0" height="15.48" fill="#e4d8f3"/>
<rect x="222.9" width="1.5" height="15.48" fill="#e3d4ec"/>
<rect x="224.4" width="1.0" height="15.48" fill="#eee2ee"/>
<rect x="225.5" width="11.5" height="15.48" fill="#e8d0e0"/>
<rect x="225.5" width="2.0" height="15.48" fill="#e6ccde"/>
<rect x="228.5" width="1.0" height="15.48" fill="#decae9"/>
<rect x="229.5" width="1.0" height="15.48" fill="#f5d9e3"/>
<rect x="230.5" width="1.5" height="15.48" fill="#e7d8ee"/>
<rect x="235.5" width="1.5" height="15.48" fill="#e8d5e9"/>
<rect x="237.0" width="22.3" height="15.48" fill="#f8c8c0"/>
<rect x="239.5" width="2.0" height="15.48" fill="#f7c4bb"/>
<rect x="243.0" width="1.5" height="15.48" fill="#edc5cd"/>
<rect x="246.5" width="2.0" height="15.48" fill="#f6bbb2"/>
<rect x="254.5" width="2.0" height="15.48" fill="#edc4cc"/>
<rect x="256.5" width="1.0" height="15.48" fill="#e1c2dc"/>
<rect x="257.5" width="1.8" height="15.48" fill="#f8c5bd"/>
<rect x="259.3" width="5.3" height="15.48" fill="#ff2020"/>
<rect x="262.8" width="1.0" height="15.48" fill="#ff0000"/>
<rect x="263.8" width="0.8" height="15.48" fill="#ff0000"/>
<rect x="264.6" width="27.9" height="15.48" fill="#ff6050"/>
<rect x="264.6" width="1.5" height="15.48" fill="#da6c66"/>
<rect x="267.6" width="1.0" height="15.48" fill="#e44844"/>
<rect x="268.6" width="1.0" height="15.48" fill="#f3837a"/>
<rect x="269.6" width="2.0" height="15.48" fill="#af627c"/>
<rect x="271.6" width="1.0" height="15.48" fill="#ff331e"/>
<rect x="272.6" width="1.0" height="15.48" fill="#e47e78"/>
<rect x="279.1" width="1.0" height="15.48" fill="#db5a52"/>
<rect x="281.1" width="2.0" height="15.48" fill="#ff7668"/>
<rect x="283.1" width="1.0" height="15.48" fill="#d0726f"/>
<rect x="284.1" width="2.0" height="15.48" fill="#c85956"/>
<rect x="289.1" width="1.0" height="15.48" fill="#ffa69d"/>
</g>
<g transform="translate(0,100.90)">
<rect x="62.0" width="13.3" height="15.48" fill="#8070e0"/>
<rect x="62.0" width="1.0" height="15.48" fill="#503ad4"/>
<rect x="63.0" width="1.0" height="15.48" fill="#9588e5"/>
<rect x="64.0" width="1.5" height="15.48" fill="#8d80dd"/>
<rect x="65.5" width="1.5" height="15.48" fill="#b9b0ee"/>
<rect x="68.5" width="1.5" height="15.48" fill="#877ad6"/>
<rect x="70.0" width="2.0" height="15.48" fill="#9385e5"/>
<rect x="75.3" width="18.2" height="15.48" fill="#d8c8e8"/>
<rect x="76.8" width="2.0" height="15.48" fill="#e6d3e8"/>
<rect x="78.8" width="1.0" height="15.48" fill="#e6cce3"/>
<rect x="81.3" width="1.5" height="15.48" fill="#e4daef"/>
<rect x="82.8" width="1.0" height="15.48" fill="#d4c6ef"/>
<rect x="83.8" width="2.0" height="15.48" fill="#d2c4ef"/>
<rect x="85.8" width="1.0" height="15.48" fill="#e1cbe5"/>
<rect x="88.3" width="1.5" height="15.48" fill="#e9cbe0"/>
<rect x="89.8" width="1.0" height="15.48" fill="#e2cae3"/>
<rect x="90.8" width="1.0" height="15.48" fill="#d0c3f3"/>
<rect x="93.5" width="18.0" height="15.48" fill="#e0c8e0"/>
<rect x="93.5" width="1.0" height="15.48" fill="#ebd3e4"/>
<rect x="98.5" width="1.5" height="15.48" fill="#d6c6f0"/>
<rect x="101.0" width="2.0" height="15.48" fill="#d7b7d7"/>
<rect x="103.0" width="1.0" height="15.48" fill="#e6d2e6"/>
<rect x="104.0" width="2.0" height="15.48" fill="#dcc7e5"/>
<rect x="106.0" width="1.5" height="15.48" fill="#d1bdeb"/>
<rect x="107.5" width="1.0" height="15.48" fill="#e6d2e6"/>
<rect x="108.5" width="1.5" height="15.48" fill="#dbc8ea"/>
<rect x="111.5" width="15.8" height="15.48" fill="#c8b8e8"/>
<rect x="112.5" width="1.5" height="15.48" fill="#ccc1ef"/>
<rect x="114.0" width="1.5" height="15.48" fill="#d9adce"/>
<rect x="116.5" width="1.5" height="15.48" fill="#c4b8ee"/>
<rect x="118.0" width="1.0" height="15.48" fill="#d9ceef"/>
<rect x="121.5" width="1.5" height="15.48" fill="#c7b9eb"/>
<rect x="123.0" width="1.0" height="15.48" fill="#e0bad5"/>
<rect x="125.0" width="1.0" height="15.48" fill="#d8b9dc"/>
<rect x="126.0" width="1.3" height="15.48" fill="#c5b7ec"/>
<rect x="127.3" width="10.2" height="15.48" fill="#e8c8d0"/>
<rect x="128.8" width="1.5" height="15.48" fill="#e2bbc5"/>
<rect x="131.3" width="2.0" height="15.48" fill="#d6bee2"/>
<rect x="134.8" width="2.0" height="15.48" fill="#ddc6e1"/>
<rect x="136.8" width="0.7" height="15.48" fill="#f2c0c9"/>
<rect x="137.5" width="19.0" height="15.48" fill="#f0b0b0"/>
<rect x="140.0" width="1.5" height="15.48" fill="#f1b4b4"/>
<rect x="141.5" width="1.5" height="15.48" fill="#f2bcbc"/>
<rect x="147.5" width="1.5" height="15.48" fill="#eda2a3"/>
<rect x="155.5" width="1.0" height="15.48" fill="#eda3a3"/>
<rect x="156.5" width="13.2" height="15.48" fill="#f0b8b0"/>
<rect x="160.0" width="1.5" height="15.48" fill="#eac6cd"/>
<rect x="161.5" width="1.5" height="15.48" fill="#f1b0ae"/>
<rect x="164.0" width="1.5" height="15.48" fill="#efb4ac"/>
<rect x="165.5" width="1.5" height="15.48" fill="#eba298"/>
<rect x="168.5" width="1.0" height="15.48" fill="#f3b8b7"/>
<rect x="169.7" width="16.7" height="15.48" fill="#e0c8e0"/>
<rect x="169.7" width="1.0" height="15.48" fill="#eecede"/>
<rect x="170.7" width="1.5" height="15.48" fill="#d4c2ed"/>
<rect x="172.2" width="2.0" height="15.48" fill="#eddfed"/>
<rect x="174.2" width="2.0" height="15.48" fill="#e5c5da"/>
<rect x="176.2" width="1.5" height="15.48" fill="#d8bad8"/>
<rect x="179.7" width="1.0" height="15.48" fill="#d6b7d6"/>
<rect x="180.7" width="1.5" height="15.48" fill="#e8bfd4"/>
<rect x="182.2" width="1.5" height="15.48" fill="#d5b5d5"/>
<rect x="183.7" width="1.5" height="15.48" fill="#d6b6d6"/>
<rect x="186.4" width="4.2" height="15.48" fill="#e0d0e8"/>
<rect x="186.4" width="1.5" height="15.48" fill="#e4c9e0"/>
<rect x="187.9" width="2.0" height="15.48" fill="#e7d1e5"/>
<rect x="189.9" width="0.7" height="15.48" fill="#dbc8e4"/>
<rect x="190.6" width="12.6" height="15.48" fill="#f0c8c0"/>
<rect x="190.6" width="1.0" height="15.48" fill="#f7c8c8"/>
<rect x="191.6" width="1.0" height="15.48" fill="#f0c7bf"/>
<rect x="192.6" width="1.0" height="15.48" fill="#ebb6ab"/>
<rect x="193.6" width="1.5" height="15.48" fill="#f5c8c5"/>
<rect x="195.1" width="2.0" height="15.48" fill="#e6c2ca"/>
<rect x="199.1" width="1.0" height="15.48" fill="#eab4a9"/>
<rect x="202.6" width="0.6" height="15.48" fill="#f1cdc5"/>
<rect x="203.2" width="13.2" height="15.48" fill="#e8c8d0"/>
<rect x="203.2" width="1.5" height="15.48" fill="#e6c4cd"/>
<rect x="204.7" width="1.5" height="15.48" fill="#e1b8c3"/>
<rect x="208.7" width="1.5" height="15.48" fill="#ecd1d8"/>
<rect x="211.2" width="1.5" height="15.48" fill="#e5c0ca"/>
<rect x="213.7" width="1.0" height="15.48" fill="#efd9df"/>
<rect x="214.7" width="1.5" height="15.48" fill="#e5c1ca"/>
<rect x="216.4" width="9.1" height="15.48" fill="#f0c0c0"/>
<rect x="219.4" width="1.5" height="15.48" fill="#f6d9d9"/>
<rect x="221.9" width="1.0" height="15.48" fill="#dbc0e1"/>
<rect x="222.9" width="1.0" height="15.48" fill="#ebacac"/>
<rect x="225.5" width="11.5" height="15.48" fill="#e8d0d8"/>
<rect x="225.5" width="1.5" height="15.48" fill="#e9d3da"/>
<rect x="227.0" width="1.5" height="15.48" fill="#f0e0e6"/>
<rect x="228.5" width="1.0" height="15.48" fill="#eedce2"/>
<rect x="237.0" width="22.3" height="15.48" fill="#f0c0c0"/>
<rect x="238.5" width="1.0" height="15.48" fill="#f6dada"/>
<rect x="239.5" width="1.5" height="15.48" fill="#efbebe"/>
<rect x="241.0" width="2.0" height="15.48" fill="#f3b4b7"/>
<rect x="243.0" width="2.0" height="15.48" fill="#e5c5d7"/>
<rect x="245.0" width="1.5" height="15.48" fill="#eaa9a9"/>
<rect x="246.5" width="1.5" height="15.48" fill="#f2bcbe"/>
<rect x="249.0" width="1.5" height="15.48" fill="#dfc3df"/>
<rect x="250.5" width="1.5" height="15.48" fill="#e6bac7"/>
<rect x="259.3" width="5.3" height="15.48" fill="#e06070"/>
<rect x="259.3" width="1.0" height="15.48" fill="#ca5362"/>
<rect x="262.8" width="1.5" height="15.48" fill="#d42238"/>
<rect x="264.6" width="27.9" height="15.48" fill="#f09090"/>
<rect x="264.6" width="1.0" height="15.48" fill="#ca9bb8"/>
<rect x="265.6" width="1.5" height="15.48" fill="#e4a4a7"/>
<rect x="267.1" width="1.5" height="15.48" fill="#f09191"/>
<rect x="268.6" width="1.5" height="15.48" fill="#f7c0c0"/>
<rect x="270.1" width="1.5" height="15.48" fill="#ef8989"/>
<rect x="273.1" width="1.5" height="15.48" fill="#ee8383"/>
<rect x="274.6" width="2.0" height="15.48" fill="#f09090"/>
<rect x="279.6" width="1.5" height="15.48" fill="#ec7272"/>
<rect x="281.1" width="1.0" height="15.48" fill="#e68b8d"/>
<rect x="284.1" width="1.5" height="15.48" fill="#f08e8e"/>
<rect x="285.6" width="1.0" height="15.48" fill="#e68b8d"/>
<rect x="288.1" width="1.5" height="15.48" fill="#daa1b2"/>
<rect x="291.1" width="1.4" height="15.48" fill="#d4a1b7"/>
</g>
<g transform="translate(0,116.08)">
<rect x="62.0" width="13.3" height="15.48" fill="#6050e0"/>
<rect x="63.5" width="2.0" height="15.48" fill="#5341dd"/>
<rect x="67.5" width="1.0" height="15.48" fill="#250fd4"/>
<rect x="68.5" width="1.0" height="15.48" fill="#4e3cdc"/>
<rect x="71.0" width="1.0" height="15.48" fill="#8f84e9"/>
<rect x="75.3" width="18.2" height="15.48" fill="#c8c0f0"/>
<rect x="76.8" width="2.0" height="15.48" fill="#e5c6df"/>
<rect x="78.8" width="1.5" height="15.48" fill="#d0caf2"/>
<rect x="80.3" width="2.0" height="15.48" fill="#d9c0e3"/>
<rect x="83.3" width="1.0" height="15.48" fill="#ccc5f7"/>
<rect x="84.3" width="1.5" height="15.48" fill="#d5cef3"/>
<rect x="85.8" width="1.0" height="15.48" fill="#eacce2"/>
<rect x="93.5" width="18.0" height="15.48" fill="#e0d0e8"/>
<rect x="94.5" width="1.0" height="15.48" fill="#e8d4e7"/>
<rect x="95.5" width="1.0" height="15.48" fill="#d5c0e0"/>
<rect x="96.5" width="2.0" height="15.48" fill="#ddd0f0"/>
<rect x="98.5" width="1.5" height="15.48" fill="#d4bedf"/>
<rect x="101.0" width="1.0" height="15.48" fill="#dcd1f4"/>
<rect x="102.0" width="1.5" height="15.48" fill="#d9c5e3"/>
<rect x="103.5" width="1.0" height="15.48" fill="#dfd0ec"/>
<rect x="104.5" width="1.5" height="15.48" fill="#dac7e4"/>
<rect x="106.0" width="1.0" height="15.48" fill="#d9cbef"/>
<rect x="108.0" width="1.0" height="15.48" fill="#d5c0e0"/>
<rect x="109.0" width="1.5" height="15.48" fill="#ded2f4"/>
<rect x="110.5" width="1.0" height="15.48" fill="#e5cae0"/>
<rect x="111.5" width="15.8" height="15.48" fill="#c0b8f0"/>
<rect x="111.5" width="1.0" height="15.48" fill="#d0cbf4"/>
<rect x="114.0" width="1.5" height="15.48" fill="#dbd6f6"/>
<rect x="117.5" width="1.0" height="15.48" fill="#c7c0f4"/>
<rect x="118.5" width="1.0" height="15.48" fill="#dfc8e4"/>
<rect x="119.5" width="2.0" height="15.48" fill="#cbc4f3"/>
<rect x="124.5" width="2.0" height="15.48" fill="#cec8f5"/>
<rect x="127.3" width="10.2" height="15.48" fill="#f0b8b0"/>
<rect x="130.3" width="1.0" height="15.48" fill="#eca79d"/>
<rect x="134.8" width="1.0" height="15.48" fill="#efb1a9"/>
<rect x="135.8" width="1.5" height="15.48" fill="#f2b5b3"/>
<rect x="137.5" width="19.0" height="15.48" fill="#f0b0a8"/>
<rect x="138.5" width="1.0" height="15.48" fill="#d5a2b7"/>
<rect x="139.5" width="2.0" height="15.48" fill="#f0aea5"/>
<rect x="141.5" width="1.5" height="15.48" fill="#eca3a3"/>
<rect x="144.5" width="1.5" height="15.48" fill="#f2bab3"/>
<rect x="149.5" width="1.5" height="15.48" fill="#f3bfb9"/>
<rect x="156.5" width="13.2" height="15.48" fill="#f0c8c8"/>
<rect x="156.5" width="1.0" height="15.48" fill="#f4d7d7"/>
<rect x="157.5" width="1.5" height="15.48" fill="#f3d4d4"/>
<rect x="160.5" width="1.0" height="15.48" fill="#ecbbbb"/>
<rect x="161.5" width="1.0" height="15.48" fill="#f7c2c6"/>
<rect x="164.5" width="2.0" height="15.48" fill="#f9ced2"/>
<rect x="166.5" width="1.0" height="15.48" fill="#ecb9b9"/>
<rect x="167.5" width="1.0" height="15.48" fill="#f6dfdf"/>
<rect x="169.7" width="16.7" height="15.48" fill="#e8d0e0"/>
<rect x="169.7" width="1.0" height="15.48" fill="#e6d1e6"/>
<rect x="170.7" width="1.0" height="15.48" fill="#e0c0d5"/>
<rect x="172.7" width="1.0" height="15.48" fill="#f0c7d6"/>
<rect x="174.7" width="1.5" height="15.48" fill="#eddae7"/>
<rect x="178.7" width="1.0" height="15.48" fill="#e0c0d6"/>
<rect x="181.2" width="1.0" height="15.48" fill="#eed0de"/>
<rect x="183.2" width="1.5" height="15.48" fill="#f2d2de"/>
<rect x="184.7" width="1.0" height="15.48" fill="#f1e2ec"/>
<rect x="186.4" width="4.2" height="15.48" fill="#e0d0e8"/>
<rect x="190.6" width="12.6" height="15.48" fill="#e0d0e8"/>
<rect x="192.1" width="1.0" height="15.48" fill="#dfcee7"/>
<rect x="193.1" width="1.5" height="15.48" fill="#e5c8df"/>
<rect x="194.6" width="1.5" height="15.48" fill="#e4d7eb"/>
<rect x="197.6" width="2.0" height="15.48" fill="#e2cbe3"/>
<rect x="201.6" width="1.6" height="15.48" fill="#d9c6e3"/>
<rect x="203.2" width="13.2" height="15.48" fill="#c8b8f0"/>
<rect x="205.2" width="1.0" height="15.48" fill="#c2b3f1"/>
<rect x="206.2" width="1.0" height="15.48" fill="#b9a5ec"/>
<rect x="207.2" width="1.0" height="15.48" fill="#bda9ed"/>
<rect x="211.7" width="1.5" height="15.48" fill="#b29cea"/>
<rect x="213.2" width="2.0" height="15.48" fill="#c8bcf3"/>
<rect x="216.4" width="9.1" height="15.48" fill="#e8d0e0"/>
<rect x="218.4" width="1.5" height="15.48" fill="#e0c0d6"/>
<rect x="222.4" width="1.0" height="15.48" fill="#ecc8d8"/>
<rect x="223.4" width="1.0" height="15.48" fill="#f2d5e0"/>
<rect x="225.5" width="11.5" height="15.48" fill="#e8d8e8"/>
<rect x="227.5" width="1.5" height="15.48" fill="#f1dbe8"/>
<rect x="231.5" width="1.5" height="15.48" fill="#dfc9df"/>
<rect x="233.0" width="1.5" height="15.48" fill="#efdae7"/>
<rect x="234.5" width="1.5" height="15.48" fill="#e3d5f1"/>
<rect x="236.0" width="1.0" height="15.48" fill="#f4d6e2"/>
<rect x="237.0" width="22.3" height="15.48" fill="#f0c0c0"/>
<rect x="237.0" width="1.0" height="15.48" fill="#f4cacb"/>
<rect x="239.5" width="2.0" height="15.48" fill="#ecaeae"/>
<rect x="241.5" width="2.0" height="15.48" fill="#e2cce5"/>
<rect x="243.5" width="1.5" height="15.48" fill="#e3b8c9"/>
<rect x="246.5" width="2.0" height="15.48" fill="#edb4b4"/>
<rect x="248.5" width="1.0" height="15.48" fill="#f5d3d3"/>
<rect x="249.5" width="1.5" height="15.48" fill="#f3c2c3"/>
<rect x="251.0" width="1.5" height="15.48" fill="#f2b9bb"/>
<rect x="252.5" width="1.5" height="15.48" fill="#f3b9bc"/>
<rect x="254.0" width="2.0" height="15.48" fill="#f7c2c5"/>
<rect x="256.0" width="1.5" height="15.48" fill="#f0c1c1"/>
<rect x="257.5" width="1.5" height="15.48" fill="#eeb7b7"/>
<rect x="259.3" width="5.3" height="15.48" fill="#f03030"/>
<rect x="259.3" width="1.0" height="15.48" fill="#ba4658"/>
<rect x="261.3" width="2.0" height="15.48" fill="#d4434d"/>
<rect x="263.3" width="1.3" height="15.48" fill="#bb3135"/>
<rect x="264.6" width="27.9" height="15.48" fill="#f09088"/>
<rect x="265.6" width="1.0" height="15.48" fill="#e59896"/>
<rect x="266.6" width="1.5" height="15.48" fill="#ee8077"/>
<rect x="272.6" width="1.0" height="15.48" fill="#eb6a60"/>
<rect x="275.1" width="2.0" height="15.48" fill="#e29493"/>
<rect x="277.1" width="1.0" height="15.48" fill="#ea6459"/>
<rect x="278.1" width="1.5" height="15.48" fill="#c190ad"/>
<rect x="281.1" width="1.5" height="15.48" fill="#dd8685"/>
<rect x="282.6" width="2.0" height="15.48" fill="#e29392"/>
<rect x="284.6" width="1.5" height="15.48" fill="#ec7167"/>
<rect x="288.1" width="1.5" height="15.48" fill="#ec6f65"/>
<rect x="289.6" width="1.5" height="15.48" fill="#e6a9a9"/>
<rect x="291.1" width="1.4" height="15.48" fill="#eb685d"/>
</g>
<g transform="translate(0,131.26)">
<rect x="62.0" width="13.3" height="15.48" fill="#5050f0"/>
<rect x="62.0" width="1.5" height="15.48" fill="#433fbc"/>
<rect x="68.0" width="1.5" height="15.48" fill="#7370c8"/>
<rect x="69.5" width="1.0" height="15.48" fill="#8a8af5"/>
<rect x="70.5" width="1.5" height="15.48" fill="#7860b8"/>
<rect x="72.0" width="1.0" height="15.48" fill="#6a68d1"/>
<rect x="74.0" width="1.3" height="15.48" fill="#2d2ded"/>
<rect x="75.3" width="18.2" height="15.48" fill="#c8c0f0"/>
<rect x="75.3" width="1.5" height="15.48" fill="#bdb4ed"/>
<rect x="76.8" width="1.5" height="15.48" fill="#bdb4ed"/>
<rect x="80.3" width="1.5" height="15.48" fill="#c4bcf4"/>
<rect x="81.8" width="1.5" height="15.48" fill="#bfb6f6"/>
<rect x="83.3" width="1.5" height="15.48" fill="#dfbddc"/>
<rect x="84.8" width="2.0" height="15.48" fill="#e7c4dc"/>
<rect x="86.8" width="2.0" height="15.48" fill="#dbd6f5"/>
<rect x="88.8" width="1.0" height="15.48" fill="#cac2f8"/>
<rect x="89.8" width="2.0" height="15.48" fill="#c0b7ee"/>
<rect x="93.5" width="18.0" height="15.48" fill="#d8c8e8"/>
<rect x="93.5" width="1.5" height="15.48" fill="#d7c9ef"/>
<rect x="97.5" width="1.5" height="15.48" fill="#ddcfeb"/>
<rect x="100.5" width="1.0" height="15.48" fill="#e1d5ee"/>
<rect x="101.5" width="1.0" height="15.48" fill="#d1c3f1"/>
<rect x="103.5" width="1.5" height="15.48" fill="#e6d2e8"/>
<rect x="105.0" width="1.5" height="15.48" fill="#cec0f3"/>
<rect x="106.5" width="2.0" height="15.48" fill="#edd1e3"/>
<rect x="108.5" width="2.0" height="15.48" fill="#e1cbe5"/>
<rect x="110.5" width="1.0" height="15.48" fill="#d3c0e5"/>
<rect x="111.5" width="15.8" height="15.48" fill="#b0a8f0"/>
<rect x="111.5" width="1.0" height="15.48" fill="#a298e9"/>
<rect x="114.0" width="1.5" height="15.48" fill="#9f95ed"/>
<rect x="116.5" width="1.0" height="15.48" fill="#afa7ec"/>
<rect x="119.0" width="1.5" height="15.48" fill="#bb9ad1"/>
<rect x="120.5" width="1.5" height="15.48" fill="#cab1dd"/>
<rect x="122.0" width="1.0" height="15.48" fill="#b8b1ef"/>
<rect x="124.5" width="1.5" height="15.48" fill="#a59ceb"/>
<rect x="126.0" width="1.3" height="15.48" fill="#b7b0ee"/>
<rect x="127.3" width="10.2" height="15.48" fill="#e8c8d0"/>
<rect x="127.3" width="2.0" height="15.48" fill="#e4bfc9"/>
<rect x="129.3" width="1.0" height="15.48" fill="#ebc1ca"/>
<rect x="130.3" width="1.5" height="15.48" fill="#f0c9d0"/>
<rect x="133.8" width="1.5" height="15.48" fill="#e1b6c1"/>
<rect x="136.3" width="1.2" height="15.48" fill="#e0c4d9"/>
<rect x="137.5" width="19.0" height="15.48" fill="#f0a8a0"/>
<rect x="140.5" width="2.0" height="15.48" fill="#f3bab3"/>
<rect x="146.5" width="2.0" height="15.48" fill="#f6cbc6"/>
<rect x="148.5" width="1.0" height="15.48" fill="#d999a6"/>
<rect x="149.5" width="2.0" height="15.48" fill="#f2bab6"/>
<rect x="151.5" width="1.0" height="15.48" fill="#f2b5af"/>
<rect x="152.5" width="1.0" height="15.48" fill="#efb5b3"/>
<rect x="153.5" width="1.5" height="15.48" fill="#d2a3bb"/>
<rect x="155.0" width="1.5" height="15.48" fill="#eb8b81"/>
<rect x="156.5" width="13.2" height="15.48" fill="#f0c0c0"/>
<rect x="156.5" width="1.5" height="15.48" fill="#f1c6c6"/>
<rect x="163.0" width="1.5" height="15.48" fill="#eeb8b8"/>
<rect x="164.5" width="1.5" height="15.48" fill="#f4d2d2"/>
<rect x="167.5" width="1.0" height="15.48" fill="#e1b8cc"/>
<rect x="168.5" width="1.2" height="15.48" fill="#f5c8ca"/>
<rect x="169.7" width="16.7" height="15.48" fill="#e8d8e8"/>
<rect x="172.7" width="2.0" height="15.48" fill="#e2d5f3"/>
<rect x="174.7" width="1.0" height="15.48" fill="#f1dfeb"/>
<rect x="182.2" width="2.0" height="15.48" fill="#e6d4e6"/>
<rect x="184.2" width="2.0" height="15.48" fill="#e5d3e5"/>
<rect x="186.4" width="4.2" height="15.48" fill="#e0d0e8"/>
<rect x="186.4" width="1.0" height="15.48" fill="#eadfef"/>
<rect x="190.6" width="12.6" height="15.48" fill="#d8c8e8"/>
<rect x="191.6" width="2.0" height="15.48" fill="#d9cef4"/>
<rect x="193.6" width="2.0" height="15.48" fill="#e3cfe8"/>
<rect x="195.6" width="1.5" height="15.48" fill="#d8c8e8"/>
<rect x="197.1" width="1.0" height="15.48" fill="#efd3e4"/>
<rect x="200.1" width="1.0" height="15.48" fill="#e0d4ed"/>
<rect x="203.2" width="13.2" height="15.48" fill="#d0c0f0"/>
<rect x="203.2" width="2.0" height="15.48" fill="#cdc1f7"/>
<rect x="205.2" width="1.5" height="15.48" fill="#c8b9f2"/>
<rect x="206.7" width="1.0" height="15.48" fill="#d8cbf3"/>
<rect x="208.7" width="1.0" height="15.48" fill="#cdbdef"/>
<rect x="209.7" width="1.5" height="15.48" fill="#d3c8f8"/>
<rect x="211.2" width="2.0" height="15.48" fill="#d4c6f1"/>
<rect x="213.2" width="1.0" height="15.48" fill="#e5dcf7"/>
<rect x="214.2" width="1.5" height="15.48" fill="#c0aaeb"/>
<rect x="215.7" width="0.7" height="15.48" fill="#e1b8da"/>
<rect x="216.4" width="9.1" height="15.48" fill="#e8d0e0"/>
<rect x="222.4" width="1.5" height="15.48" fill="#e9d2e1"/>
<rect x="224.9" width="0.6" height="15.48" fill="#e5d7f2"/>
<rect x="225.5" width="11.5" height="15.48" fill="#f0d0d0"/>
<rect x="225.5" width="1.5" height="15.48" fill="#f1d3d3"/>
<rect x="227.0" width="1.5" height="15.48" fill="#f4d4d5"/>
<rect x="228.5" width="1.0" height="15.48" fill="#e4c8db"/>
<rect x="232.0" width="1.5" height="15.48" fill="#e7cad7"/>
<rect x="237.0" width="22.3" height="15.48" fill="#f8b8a8"/>
<rect x="240.5" width="1.0" height="15.48" fill="#e2c5d7"/>
<rect x="242.5" width="1.5" height="15.48" fill="#f7b5ae"/>
<rect x="245.5" width="1.5" height="15.48" fill="#e6aeb4"/>
<rect x="247.0" width="1.5" height="15.48" fill="#ebb2b2"/>
<rect x="248.5" width="1.5" height="15.48" fill="#eac6cf"/>
<rect x="250.0" width="1.5" height="15.48" fill="#e2b0bd"/>
<rect x="253.5" width="1.0" height="15.48" fill="#f8beb6"/>
<rect x="257.5" width="1.0" height="15.48" fill="#e5b8c3"/>
<rect x="259.3" width="5.3" height="15.48" fill="#ff2020"/>
<rect x="259.3" width="1.0" height="15.48" fill="#ff4141"/>
<rect x="264.6" width="27.9" height="15.48" fill="#f08080"/>
<rect x="264.6" width="1.0" height="15.48" fill="#db8390"/>
<rect x="265.6" width="1.5" height="15.48" fill="#bc87a6"/>
<rect x="267.1" width="1.5" height="15.48" fill="#e0838c"/>
<rect x="270.6" width="1.5" height="15.48" fill="#d294a8"/>
<rect x="272.1" width="1.0" height="15.48" fill="#d78286"/>
<rect x="278.6" width="1.5" height="15.48" fill="#d36e72"/>
<rect x="280.1" width="1.5" height="15.48" fill="#dd979b"/>
<rect x="282.6" width="1.0" height="15.48" fill="#f49f9f"/>
<rect x="283.6" width="1.5" height="15.48" fill="#ba7a9a"/>
<rect x="286.1" width="1.5" height="15.48" fill="#ea5050"/>
<rect x="287.6" width="1.0" height="15.48" fill="#d66f73"/>
<rect x="288.6" width="1.5" height="15.48" fill="#d19baf"/>
<rect x="290.1" width="2.0" height="15.48" fill="#ee6e6e"/>
</g>
<g transform="translate(0,146.44)">
<rect x="62.0" width="13.3" height="15.48" fill="#7060d8"/>
<rect x="62.0" width="1.5" height="15.48" fill="#796fbf"/>
<rect x="63.5" width="1.5" height="15.48" fill="#968ae2"/>
<rect x="65.0" width="1.0" height="15.48" fill="#a49ae6"/>
<rect x="66.0" width="1.5" height="15.48" fill="#3821c9"/>
<rect x="70.0" width="1.5" height="15.48" fill="#8661a5"/>
<rect x="71.5" width="1.5" height="15.48" fill="#8276d6"/>
<rect x="74.0" width="1.3" height="15.48" fill="#796ada"/>
<rect x="75.3" width="18.2" height="15.48" fill="#c8c0f0"/>
<rect x="75.3" width="1.5" height="15.48" fill="#c0b7f7"/>
<rect x="76.8" width="1.5" height="15.48" fill="#bbb1ec"/>
<rect x="82.3" width="1.0" height="15.48" fill="#b9afec"/>
<rect x="83.3" width="1.0" height="15.48" fill="#d3ccf5"/>
<rect x="84.3" width="1.0" height="15.48" fill="#ccc4f1"/>
<rect x="85.3" width="2.0" height="15.48" fill="#cfc8f4"/>
<rect x="87.3" width="1.0" height="15.48" fill="#cdc6f1"/>
<rect x="88.3" width="1.5" height="15.48" fill="#bdb4ed"/>
<rect x="91.3" width="1.0" height="15.48" fill="#bfb6ee"/>
<rect x="93.5" width="18.0" height="15.48" fill="#d8c8e8"/>
<rect x="99.5" width="2.0" height="15.48" fill="#d5c4e6"/>
<rect x="105.5" width="2.0" height="15.48" fill="#d9cae9"/>
<rect x="107.5" width="1.5" height="15.48" fill="#e5daef"/>
<rect x="111.5" width="15.8" height="15.48" fill="#c8c0f0"/>
<rect x="111.5" width="1.0" height="15.48" fill="#e6cbe3"/>
<rect x="112.5" width="1.5" height="15.48" fill="#c5bcf6"/>
<rect x="114.0" width="1.0" height="15.48" fill="#c1b8f1"/>
<rect x="115.0" width="1.0" height="15.48" fill="#d1caf5"/>
<rect x="116.0" width="1.5" height="15.48" fill="#bcb2ed"/>
<rect x="117.5" width="1.0" height="15.48" fill="#b5aaeb"/>
<rect x="118.5" width="1.5" height="15.48" fill="#c5bdef"/>
<rect x="120.0" width="1.0" height="15.48" fill="#cfbde8"/>
<rect x="121.0" width="1.5" height="15.48" fill="#bab0ec"/>
<rect x="122.5" width="2.0" height="15.48" fill="#cbc3f1"/>
<rect x="127.3" width="10.2" height="15.48" fill="#e0c8e0"/>
<rect x="127.3" width="1.5" height="15.48" fill="#eecede"/>
<rect x="128.8" width="1.0" height="15.48" fill="#e6bfd6"/>
<rect x="129.8" width="1.5" height="15.48" fill="#e9c1d5"/>
<rect x="131.3" width="1.0" height="15.48" fill="#d9c5e9"/>
<rect x="132.3" width="2.0" height="15.48" fill="#d8bbd8"/>
<rect x="134.3" width="1.5" height="15.48" fill="#dbbfdb"/>
<rect x="137.5" width="19.0" height="15.48" fill="#f0b8b0"/>
<rect x="137.5" width="1.0" height="15.48" fill="#e5b8c0"/>
<rect x="144.5" width="1.0" height="15.48" fill="#eba096"/>
<rect x="145.5" width="2.0" height="15.48" fill="#ea9c91"/>
<rect x="147.5" width="1.5" height="15.48" fill="#f0bab2"/>
<rect x="149.0" width="1.5" height="15.48" fill="#f1adac"/>
<rect x="150.5" width="1.0" height="15.48" fill="#f0b9b1"/>
<rect x="153.5" width="1.5" height="15.48" fill="#eb9f94"/>
<rect x="155.0" width="1.5" height="15.48" fill="#edaba1"/>
<rect x="156.5" width="13.2" height="15.48" fill="#f0c8c0"/>
<rect x="156.5" width="1.5" height="15.48" fill="#eab3a8"/>
<rect x="160.5" width="1.5" height="15.48" fill="#f1cbc3"/>
<rect x="164.0" width="2.0" height="15.48" fill="#f4cac6"/>
<rect x="166.0" width="1.0" height="15.48" fill="#f1ccc4"/>
<rect x="167.0" width="1.0" height="15.48" fill="#dfc2d8"/>
<rect x="168.0" width="1.5" height="15.48" fill="#edbdb3"/>
<rect x="169.7" width="16.7" height="15.48" fill="#e8d0e0"/>
<rect x="169.7" width="2.0" height="15.48" fill="#eecddb"/>
<rect x="171.7" width="1.0" height="15.48" fill="#efdee9"/>
<rect x="176.7" width="1.5" height="15.48" fill="#eed3e1"/>
<rect x="179.7" width="1.0" height="15.48" fill="#e3c6da"/>
<rect x="180.7" width="1.5" height="15.48" fill="#e5d0e6"/>
<rect x="182.2" width="1.5" height="15.48" fill="#e4d5f0"/>
<rect x="183.7" width="1.0" height="15.48" fill="#f2d5e1"/>
<rect x="184.7" width="1.5" height="15.48" fill="#e5d3ec"/>
<rect x="186.4" width="4.2" height="15.48" fill="#f0c8c8"/>
<rect x="186.4" width="1.0" height="15.48" fill="#debfda"/>
<rect x="187.4" width="1.5" height="15.48" fill="#f7e0e0"/>
<rect x="188.9" width="1.7" height="15.48" fill="#eec0c0"/>
<rect x="190.6" width="12.6" height="15.48" fill="#d0c0e8"/>
<rect x="190.6" width="1.0" height="15.48" fill="#cdbce7"/>
<rect x="191.6" width="1.5" height="15.48" fill="#dec4e2"/>
<rect x="193.1" width="1.5" height="15.48" fill="#e3c0db"/>
<rect x="194.6" width="1.5" height="15.48" fill="#ddd2ef"/>
<rect x="196.1" width="1.5" height="15.48" fill="#deb4d4"/>
<rect x="197.6" width="1.5" height="15.48" fill="#bfa9e0"/>
<rect x="199.1" width="1.0" height="15.48" fill="#e5c6df"/>
<rect x="200.1" width="2.0" height="15.48" fill="#ccbbe6"/>
<rect x="202.1" width="1.1" height="15.48" fill="#dac1e2"/>
<rect x="203.2" width="13.2" height="15.48" fill="#f0c0c0"/>
<rect x="210.2" width="1.0" height="15.48" fill="#ebabab"/>
<rect x="216.4" width="9.1" height="15.48" fill="#e8d0e0"/>
<rect x="216.4" width="1.0" height="15.48" fill="#eedce8"/>
<rect x="217.4" width="1.0" height="15.48" fill="#f0c9d7"/>
<rect x="218.4" width="2.0" height="15.48" fill="#e3c5d9"/>
<rect x="222.4" width="1.5" height="15.48" fill="#e5d1e7"/>
<rect x="223.9" width="1.6" height="15.48" fill="#e7cedf"/>
<rect x="225.5" width="11.5" height="15.48" fill="#e8d0e0"/>
<rect x="225.5" width="2.0" height="15.48" fill="#e1ceea"/>
<rect x="227.5" width="2.0" height="15.48" fill="#dfbed4"/>
<rect x="229.5" width="2.0" height="15.48" fill="#e3c5d9"/>
<rect x="233.0" width="2.0" height="15.48" fill="#f3d7e2"/>
<rect x="237.0" width="22.3" height="15.48" fill="#f0c8c8"/>
<rect x="239.0" width="1.0" height="15.48" fill="#f5d3d4"/>
<rect x="243.0" width="1.5" height="15.48" fill="#dec1dd"/>
<rect x="244.5" width="1.0" height="15.48" fill="#f8d2d5"/>
<rect x="247.0" width="1.5" height="15.48" fill="#f7cdd0"/>
<rect x="248.5" width="2.0" height="15.48" fill="#f5d9d9"/>
<rect x="250.5" width="2.0" height="15.48" fill="#f3c0c3"/>
<rect x="252.5" width="2.0" height="15.48" fill="#f7d4d6"/>
<rect x="256.5" width="1.5" height="15.48" fill="#f6ced1"/>
<rect x="258.0" width="1.3" height="15.48" fill="#e9cad6"/>
<rect x="259.3" width="5.3" height="15.48" fill="#e06070"/>
<rect x="260.3" width="2.0" height="15.48" fill="#ea929d"/>
<rect x="262.3" width="1.5" height="15.48" fill="#e26b7a"/>
<rect x="263.8" width="0.8" height="15.48" fill="#e06272"/>
<rect x="264.6" width="27.9" height="15.48" fill="#f0b0b0"/>
<rect x="264.6" width="1.0" height="15.48" fill="#f3c2c4"/>
<rect x="265.6" width="2.0" height="15.48" fill="#f0b5b8"/>
<rect x="267.6" width="1.5" height="15.48" fill="#efa8a8"/>
<rect x="269.1" width="1.0" height="15.48" fill="#eea3a3"/>
<rect x="271.6" width="1.5" height="15.48" fill="#dfb4c7"/>
<rect x="274.6" width="1.5" height="15.48" fill="#e3a8b5"/>
<rect x="277.6" width="1.0" height="15.48" fill="#f3bebe"/>
<rect x="278.6" width="1.0" height="15.48" fill="#efb0b3"/>
<rect x="281.6" width="2.0" height="15.48" fill="#ec9b9b"/>
<rect x="283.6" width="1.0" height="15.48" fill="#eda7aa"/>
<rect x="284.6" width="1.5" height="15.48" fill="#d8a9c2"/>
</g>
<g transform="translate(0,161.62)">
<rect x="62.0" width="13.3" height="15.48" fill="#4838e0"/>
<rect x="62.0" width="1.5" height="15.48" fill="#301edc"/>
<rect x="63.5" width="1.5" height="15.48" fill="#1f0bd9"/>
<rect x="65.0" width="1.0" height="15.48" fill="#6356e5"/>
<rect x="66.0" width="1.5" height="15.48" fill="#461d8d"/>
<rect x="69.5" width="1.0" height="15.48" fill="#5348b9"/>
<rect x="70.5" width="1.5" height="15.48" fill="#4f3fe1"/>
<rect x="73.0" width="1.5" height="15.48" fill="#1200d7"/>
<rect x="75.3" width="18.2" height="15.48" fill="#d8c8e8"/>
<rect x="76.3" width="2.0" height="15.48" fill="#e4c0da"/>
<rect x="78.3" width="2.0" height="15.48" fill="#ddd3f5"/>
<rect x="81.8" width="2.0" height="15.48" fill="#d4c2e5"/>
<rect x="83.8" width="1.5" height="15.48" fill="#e9bfd5"/>
<rect x="85.3" width="1.0" height="15.48" fill="#e9dff2"/>
<rect x="86.3" width="1.5" height="15.48" fill="#cebae2"/>
<rect x="87.8" width="1.0" height="15.48" fill="#cfbce3"/>
<rect x="89.8" width="1.5" height="15.48" fill="#cfbbe2"/>
<rect x="93.5" width="18.0" height="15.48" fill="#d0c0f0"/>
<rect x="93.5" width="1.5" height="15.48" fill="#deb6db"/>
<rect x="96.5" width="2.0" height="15.48" fill="#c0abeb"/>
<rect x="101.5" width="2.0" height="15.48" fill="#d9bbe3"/>
<rect x="103.5" width="1.0" height="15.48" fill="#e0d6f5"/>
<rect x="106.0" width="1.5" height="15.48" fill="#ded3f4"/>
<rect x="107.5" width="1.5" height="15.48" fill="#ded3f4"/>
<rect x="109.0" width="1.5" height="15.48" fill="#d8bee8"/>
<rect x="110.5" width="1.0" height="15.48" fill="#e6c8e4"/>
<rect x="111.5" width="15.8" height="15.48" fill="#a8a0f8"/>
<rect x="111.5" width="2.0" height="15.48" fill="#cfb3d8"/>
<rect x="113.5" width="1.5" height="15.48" fill="#a8a0ef"/>
<rect x="116.5" width="1.5" height="15.48" fill="#8b81f6"/>
<rect x="118.0" width="2.0" height="15.48" fill="#c7afdf"/>
<rect x="120.0" width="2.0" height="15.48" fill="#b5aef3"/>
<rect x="122.0" width="1.0" height="15.48" fill="#c7c2fb"/>
<rect x="123.0" width="1.5" height="15.48" fill="#beb8fa"/>
<rect x="127.3" width="10.2" height="15.48" fill="#b8a8f0"/>
<rect x="127.3" width="1.5" height="15.48" fill="#c09cd4"/>
<rect x="130.3" width="1.5" height="15.48" fill="#c39dd3"/>
<rect x="131.8" width="1.5" height="15.48" fill="#a99aea"/>
<rect x="133.3" width="1.5" height="15.48" fill="#c1b3f2"/>
<rect x="134.8" width="1.0" height="15.48" fill="#bdb1ef"/>
<rect x="137.5" width="19.0" height="15.48" fill="#d8c8e8"/>
<rect x="139.0" width="2.0" height="15.48" fill="#e9e0f2"/>
<rect x="142.5" width="1.5" height="15.48" fill="#e3d7ee"/>
<rect x="145.0" width="1.0" height="15.48" fill="#e9c3d9"/>
<rect x="146.0" width="1.5" height="15.48" fill="#e7cfe5"/>
<rect x="147.5" width="1.5" height="15.48" fill="#dfbfdd"/>
<rect x="150.5" width="1.5" height="15.48" fill="#ded3f2"/>
<rect x="152.0" width="1.5" height="15.48" fill="#d9cef4"/>
<rect x="153.5" width="1.5" height="15.48" fill="#e1d5ed"/>
<rect x="155.0" width="1.5" height="15.48" fill="#d9ccf0"/>
<rect x="156.5" width="13.2" height="15.48" fill="#f0c8c8"/>
<rect x="156.5" width="1.0" height="15.48" fill="#f5dcdc"/>
<rect x="157.5" width="1.0" height="15.48" fill="#dfc6e3"/>
<rect x="158.5" width="1.0" height="15.48" fill="#f2cfcf"/>
<rect x="159.5" width="1.5" height="15.48" fill="#f7ced1"/>
<rect x="161.0" width="1.5" height="15.48" fill="#f4c5c8"/>
<rect x="162.5" width="2.0" height="15.48" fill="#f0bfc0"/>
<rect x="167.5" width="1.5" height="15.48" fill="#ebb5b5"/>
<rect x="169.0" width="0.7" height="15.48" fill="#eec2c2"/>
<rect x="169.7" width="16.7" height="15.48" fill="#f0d0d0"/>
<rect x="172.2" width="1.0" height="15.48" fill="#f3c9cc"/>
<rect x="173.2" width="1.5" height="15.48" fill="#f6ced1"/>
<rect x="177.7" width="1.0" height="15.48" fill="#eacfda"/>
<rect x="178.7" width="1.0" height="15.48" fill="#edd9e5"/>
<rect x="179.7" width="1.5" height="15.48" fill="#f7d3d6"/>
<rect x="184.7" width="1.0" height="15.48" fill="#efcccc"/>
<rect x="186.4" width="4.2" height="15.48" fill="#f0d0d0"/>
<rect x="187.4" width="2.0" height="15.48" fill="#f2cbcd"/>
<rect x="190.6" width="12.6" height="15.48" fill="#e8d0e0"/>
<rect x="190.6" width="1.0" height="15.48" fill="#e1c2d7"/>
<rect x="191.6" width="1.5" height="15.48" fill="#e5c9db"/>
<rect x="193.1" width="1.0" height="15.48" fill="#e9d2e1"/>
<rect x="194.1" width="1.5" height="15.48" fill="#f0d2df"/>
<rect x="195.6" width="1.5" height="15.48" fill="#e4c8da"/>
<rect x="197.1" width="1.5" height="15.48" fill="#dfbed4"/>
<rect x="198.6" width="1.5" height="15.48" fill="#efc8d7"/>
<rect x="200.1" width="1.0" height="15.48" fill="#f0d0dd"/>
<rect x="201.1" width="2.0" height="15.48" fill="#eadaed"/>
<rect x="203.2" width="13.2" height="15.48" fill="#f0c8c8"/>
<rect x="204.7" width="1.5" height="15.48" fill="#f2cece"/>
<rect x="206.2" width="1.5" height="15.48" fill="#ebb7b7"/>
<rect x="207.7" width="1.0" height="15.48" fill="#e9cddb"/>
<rect x="208.7" width="1.5" height="15.48" fill="#ebcfdc"/>
<rect x="210.2" width="1.5" height="15.48" fill="#f3d1d1"/>
<rect x="212.7" width="1.5" height="15.48" fill="#f7ced1"/>
<rect x="214.2" width="2.0" height="15.48" fill="#f0c9c9"/>
<rect x="216.4" width="9.1" height="15.48" fill="#e0c8e8"/>
<rect x="216.4" width="1.5" height="15.48" fill="#dcc9ef"/>
<rect x="224.9" width="0.6" height="15.48" fill="#f1d0e2"/>
<rect x="225.5" width="11.5" height="15.48" fill="#e0d0e8"/>
<rect x="226.5" width="1.5" height="15.48" fill="#e1d1e9"/>
<rect x="228.0" width="1.5" height="15.48" fill="#eccbde"/>
<rect x="231.5" width="2.0" height="15.48" fill="#e4cfe5"/>
<rect x="233.5" width="1.5" height="15.48" fill="#d7c8f1"/>
<rect x="235.0" width="1.5" height="15.48" fill="#dcceef"/>
<rect x="237.0" width="22.3" height="15.48" fill="#f0b8b0"/>
<rect x="237.0" width="1.0" height="15.48" fill="#f2bab5"/>
<rect x="240.0" width="1.0" height="15.48" fill="#f4ccc6"/>
<rect x="241.0" width="1.5" height="15.48" fill="#eca49a"/>
<rect x="242.5" width="1.0" height="15.48" fill="#f4c7c4"/>
<rect x="243.5" width="2.0" height="15.48" fill="#f4ccc6"/>
<rect x="247.5" width="2.0" height="15.48" fill="#f5c6c5"/>
<rect x="253.0" width="1.5" height="15.48" fill="#dbbed8"/>
<rect x="257.5" width="1.5" height="15.48" fill="#e3b3bb"/>
<rect x="259.3" width="5.3" height="15.48" fill="#ff2020"/>
<rect x="259.3" width="1.5" height="15.48" fill="#86001b"/>
<rect x="260.8" width="1.5" height="15.48" fill="#c6181b"/>
<rect x="262.3" width="1.0" height="15.48" fill="#ff5858"/>
<rect x="263.3" width="1.0" height="15.48" fill="#af000f"/>
<rect x="264.6" width="27.9" height="15.48" fill="#f89080"/>
<rect x="264.6" width="1.0" height="15.48" fill="#d5838e"/>
<rect x="265.6" width="1.0" height="15.48" fill="#fab3a8"/>
<rect x="270.1" width="1.0" height="15.48" fill="#d08c9c"/>
<rect x="271.1" width="1.0" height="15.48" fill="#f66c57"/>
<rect x="272.1" width="1.0" height="15.48" fill="#cd95a9"/>
<rect x="275.6" width="2.0" height="15.48" fill="#f9a093"/>
<rect x="280.6" width="1.5" height="15.48" fill="#e8958f"/>
<rect x="282.1" width="1.0" height="15.48" fill="#fbbbb1"/>
<rect x="283.1" width="1.0" height="15.48" fill="#faaea2"/>
<rect x="284.1" width="1.0" height="15.48" fill="#f99d8f"/>
<rect x="289.1" width="1.0" height="15.48" fill="#e69a9b"/>
<rect x="291.1" width="1.4" height="15.48" fill="#faaea2"/>
</g>
<g transform="translate(0,176.80)">
<rect x="62.0" width="13.3" height="15.48" fill="#3030f8"/>
<rect x="69.5" width="1.0" height="15.48" fill="#1d1df7"/>
<rect x="70.5" width="2.0" height="15.48" fill="#231ea7"/>
<rect x="72.5" width="2.0" height="15.48" fill="#391485"/>
<rect x="74.5" width="0.8" height="15.48" fill="#8080fb"/>
<rect x="75.3" width="18.2" height="15.48" fill="#e0c8e0"/>
<rect x="75.3" width="1.0" height="15.48" fill="#f0c9d8"/>
<rect x="76.3" width="1.0" height="15.48" fill="#d5c0e8"/>
<rect x="77.3" width="1.0" height="15.48" fill="#e9d7e9"/>
<rect x="80.8" width="2.0" height="15.48" fill="#e8d6e8"/>
<rect x="90.8" width="1.0" height="15.48" fill="#e3cde3"/>
<rect x="91.8" width="1.5" height="15.48" fill="#ebdbeb"/>
<rect x="93.5" width="18.0" height="15.48" fill="#e0d0e8"/>
<rect x="96.0" width="1.0" height="15.48" fill="#ebd5e7"/>
<rect x="98.5" width="1.0" height="15.48" fill="#edcadc"/>
<rect x="100.5" width="1.0" height="15.48" fill="#d6c0e0"/>
<rect x="101.5" width="1.5" height="15.48" fill="#d7c9ef"/>
<rect x="103.0" width="1.5" height="15.48" fill="#e1d6f4"/>
<rect x="104.5" width="1.0" height="15.48" fill="#ebe0f0"/>
<rect x="105.5" width="1.0" height="15.48" fill="#dccdec"/>
<rect x="106.5" width="2.0" height="15.48" fill="#e8dcee"/>
<rect x="108.5" width="2.0" height="15.48" fill="#ece3f1"/>
<rect x="110.5" width="1.0" height="15.48" fill="#eacee1"/>
<rect x="111.5" width="15.8" height="15.48" fill="#b8b0f0"/>
<rect x="111.5" width="1.5" height="15.48" fill="#a49aec"/>
<rect x="113.0" width="1.5" height="15.48" fill="#c7c1f2"/>
<rect x="114.5" width="2.0" height="15.48" fill="#c6bff2"/>
<rect x="116.5" width="1.5" height="15.48" fill="#aca2ed"/>
<rect x="121.5" width="1.0" height="15.48" fill="#a399ec"/>
<rect x="124.5" width="1.0" height="15.48" fill="#9d92ea"/>
<rect x="127.3" width="10.2" height="15.48" fill="#e0c8e0"/>
<rect x="127.3" width="1.5" height="15.48" fill="#dccdef"/>
<rect x="128.8" width="1.0" height="15.48" fill="#d9bcd9"/>
<rect x="129.8" width="1.5" height="15.48" fill="#d9c7ed"/>
<rect x="131.3" width="1.5" height="15.48" fill="#eccadc"/>
<rect x="135.8" width="1.0" height="15.48" fill="#dbc9ec"/>
<rect x="136.8" width="0.7" height="15.48" fill="#d2beea"/>
<rect x="137.5" width="19.0" height="15.48" fill="#e8c8d8"/>
<rect x="137.5" width="1.5" height="15.48" fill="#ecc5d4"/>
<rect x="140.0" width="1.5" height="15.48" fill="#dbbfe0"/>
<rect x="141.5" width="1.0" height="15.48" fill="#edc9d7"/>
<rect x="142.5" width="2.0" height="15.48" fill="#edc0cf"/>
<rect x="144.5" width="1.0" height="15.48" fill="#dbc3e6"/>
<rect x="147.0" width="2.0" height="15.48" fill="#e3cde7"/>
<rect x="151.0" width="1.5" height="15.48" fill="#e6c3d5"/>
<rect x="152.5" width="1.0" height="15.48" fill="#ecc2d2"/>
<rect x="153.5" width="1.0" height="15.48" fill="#dbbddd"/>
<rect x="156.5" width="13.2" height="15.48" fill="#e8d0e0"/>
<rect x="156.5" width="2.0" height="15.48" fill="#e6d5eb"/>
<rect x="158.5" width="2.0" height="15.48" fill="#f4d9e3"/>
<rect x="161.5" width="1.0" height="15.48" fill="#ead4e2"/>
<rect x="164.0" width="2.0" height="15.48" fill="#decaea"/>
<rect x="166.0" width="1.0" height="15.48" fill="#e5c9dc"/>
<rect x="169.7" width="16.7" height="15.48" fill="#ecccd4"/>
<rect x="173.7" width="1.5" height="15.48" fill="#f8d7dd"/>
<rect x="175.2" width="1.5" height="15.48" fill="#f5ced6"/>
<rect x="176.7" width="1.5" height="15.48" fill="#f6d7dd"/>
<rect x="178.2" width="2.0" height="15.48" fill="#e8c3cc"/>
<rect x="183.7" width="1.0" height="15.48" fill="#f4e2e6"/>
<rect x="184.7" width="1.0" height="15.48" fill="#dec7e6"/>
<rect x="185.7" width="0.7" height="15.48" fill="#e9c4cd"/>
<rect x="186.4" width="4.2" height="15.48" fill="#f0c0c0"/>
<rect x="186.4" width="1.0" height="15.48" fill="#ecadad"/>
<rect x="187.4" width="2.0" height="15.48" fill="#f2babc"/>
<rect x="190.6" width="12.6" height="15.48" fill="#e8d0e0"/>
<rect x="190.6" width="1.5" height="15.48" fill="#eedce8"/>
<rect x="192.1" width="1.0" height="15.48" fill="#eedce8"/>
<rect x="193.1" width="1.0" height="15.48" fill="#e1cbe5"/>
<rect x="194.1" width="1.0" height="15.48" fill="#edd0df"/>
<rect x="195.1" width="1.5" height="15.48" fill="#e5cadc"/>
<rect x="196.6" width="1.5" height="15.48" fill="#e4d0e8"/>
<rect x="198.1" width="1.5" height="15.48" fill="#dfbfd4"/>
<rect x="199.6" width="2.0" height="15.48" fill="#e6daf3"/>
<rect x="201.6" width="1.0" height="15.48" fill="#efd2df"/>
<rect x="202.6" width="0.6" height="15.48" fill="#e5cadc"/>
<rect x="203.2" width="13.2" height="15.48" fill="#e8d0e0"/>
<rect x="203.2" width="1.5" height="15.48" fill="#dfbed4"/>
<rect x="206.2" width="1.5" height="15.48" fill="#f2e4ed"/>
<rect x="210.7" width="1.0" height="15.48" fill="#f2d3df"/>
<rect x="213.7" width="1.5" height="15.48" fill="#e4c8db"/>
<rect x="216.4" width="9.1" height="15.48" fill="#e8d0e0"/>
<rect x="216.4" width="1.5" height="15.48" fill="#e4c8db"/>
<rect x="218.9" width="1.5" height="15.48" fill="#e0cfed"/>
<rect x="221.4" width="1.0" height="15.48" fill="#e0bfd5"/>
<rect x="222.4" width="1.5" height="15.48" fill="#e7cede"/>
<rect x="224.9" width="0.6" height="15.48" fill="#dfc7e4"/>
<rect x="225.5" width="11.5" height="15.48" fill="#f0d0d0"/>
<rect x="225.5" width="1.5" height="15.48" fill="#e6c7d5"/>
<rect x="227.0" width="1.0" height="15.48" fill="#f7cfd3"/>
<rect x="228.0" width="1.0" height="15.48" fill="#f0d0d0"/>
<rect x="230.0" width="1.0" height="15.48" fill="#edd6df"/>
<rect x="232.5" width="1.5" height="15.48" fill="#edc8c8"/>
<rect x="234.0" width="1.0" height="15.48" fill="#ebd8e7"/>
<rect x="235.0" width="1.0" height="15.48" fill="#e8c8d3"/>
<rect x="236.0" width="1.0" height="15.48" fill="#f5d9da"/>
<rect x="237.0" width="22.3" height="15.48" fill="#f8b8a8"/>
<rect x="242.0" width="1.5" height="15.48" fill="#f8b6a5"/>
<rect x="243.5" width="1.5" height="15.48" fill="#e5c7d8"/>
<rect x="246.0" width="1.5" height="15.48" fill="#fac8bb"/>
<rect x="248.5" width="1.0" height="15.48" fill="#edb1ae"/>
<rect x="249.5" width="1.0" height="15.48" fill="#f8bdae"/>
<rect x="250.5" width="1.5" height="15.48" fill="#f69f89"/>
<rect x="252.0" width="1.5" height="15.48" fill="#f7b4ac"/>
<rect x="253.5" width="1.0" height="15.48" fill="#e6b7bf"/>
<rect x="254.5" width="1.0" height="15.48" fill="#e9abac"/>
<rect x="259.3" width="5.3" height="15.48" fill="#ff2828"/>
<rect x="260.8" width="1.5" height="15.48" fill="#ff7171"/>
<rect x="262.3" width="1.5" height="15.48" fill="#c04447"/>
<rect x="263.8" width="0.8" height="15.48" fill="#ff8686"/>
<rect x="264.6" width="27.9" height="15.48" fill="#f89080"/>
<rect x="266.1" width="1.0" height="15.48" fill="#da949d"/>
<rect x="267.1" width="1.0" height="15.48" fill="#f5644d"/>
<rect x="268.1" width="1.5" height="15.48" fill="#f9a79a"/>
<rect x="269.6" width="1.0" height="15.48" fill="#de7e79"/>
<rect x="273.1" width="1.0" height="15.48" fill="#fbbdb4"/>
<rect x="276.1" width="1.0" height="15.48" fill="#ce899a"/>
<rect x="277.1" width="1.0" height="15.48" fill="#e4928e"/>
<rect x="279.6" width="1.0" height="15.48" fill="#f9a295"/>
<rect x="282.1" width="1.5" height="15.48" fill="#f67662"/>
<rect x="283.6" width="1.0" height="15.48" fill="#ed887d"/>
<rect x="286.1" width="2.0" height="15.48" fill="#e9a4a0"/>
<rect x="289.6" width="2.0" height="15.48" fill="#f7816f"/>
<rect x="291.6" width="0.9" height="15.48" fill="#e18a86"/>
</g>
<g transform="translate(0,191.98)">
<rect x="62.0" width="13.3" height="15.48" fill="#3838f8"/>
<rect x="62.0" width="1.5" height="15.48" fill="#0000f6"/>
<rect x="65.5" width="1.0" height="15.48" fill="#6464fa"/>
<rect x="66.5" width="1.5" height="15.48" fill="#5a3ca2"/>
<rect x="68.0" width="2.0" height="15.48" fill="#7272fa"/>
<rect x="74.0" width="1.0" height="15.48" fill="#1b16ab"/>
<rect x="75.3" width="18.2" height="15.48" fill="#e0c8d8"/>
<rect x="76.3" width="1.5" height="15.48" fill="#e7d5e1"/>
<rect x="77.8" width="2.0" height="15.48" fill="#dbbfd2"/>
<rect x="79.8" width="1.0" height="15.48" fill="#e8d6e2"/>
<rect x="80.8" width="1.0" height="15.48" fill="#f2d4dd"/>
<rect x="81.8" width="2.0" height="15.48" fill="#eebecc"/>
<rect x="83.8" width="1.0" height="15.48" fill="#e4d0dd"/>
<rect x="88.3" width="1.0" height="15.48" fill="#d8c1db"/>
<rect x="89.3" width="1.5" height="15.48" fill="#d7b8cc"/>
<rect x="92.3" width="1.2" height="15.48" fill="#efd0db"/>
<rect x="93.5" width="18.0" height="15.48" fill="#c8b8f0"/>
<rect x="94.5" width="1.5" height="15.48" fill="#bbadf1"/>
<rect x="100.0" width="2.0" height="15.48" fill="#cfb2e3"/>
<rect x="102.0" width="1.5" height="15.48" fill="#c4b2ef"/>
<rect x="103.5" width="1.0" height="15.48" fill="#c6b6ef"/>
<rect x="105.5" width="1.0" height="15.48" fill="#dacff5"/>
<rect x="106.5" width="1.0" height="15.48" fill="#c4b5f1"/>
<rect x="107.5" width="1.0" height="15.48" fill="#d1c6f5"/>
<rect x="108.5" width="2.0" height="15.48" fill="#c2b4f2"/>
<rect x="111.5" width="15.8" height="15.48" fill="#a8a0f8"/>
<rect x="111.5" width="1.5" height="15.48" fill="#9d94f7"/>
<rect x="116.0" width="1.0" height="15.48" fill="#a199f7"/>
<rect x="119.0" width="1.0" height="15.48" fill="#beb0ed"/>
<rect x="121.0" width="1.5" height="15.48" fill="#aaa2f8"/>
<rect x="123.5" width="1.5" height="15.48" fill="#8b80f6"/>
<rect x="125.0" width="1.5" height="15.48" fill="#b4adf0"/>
<rect x="127.3" width="10.2" height="15.48" fill="#c8b8f0"/>
<rect x="127.3" width="1.0" height="15.48" fill="#d5c8f3"/>
<rect x="128.3" width="1.5" height="15.48" fill="#b8a4ec"/>
<rect x="130.8" width="1.0" height="15.48" fill="#e4c1dc"/>
<rect x="131.8" width="2.0" height="15.48" fill="#c7b7f0"/>
<rect x="133.8" width="1.0" height="15.48" fill="#d1c4f2"/>
<rect x="134.8" width="1.5" height="15.48" fill="#d0c2f2"/>
<rect x="137.5" width="19.0" height="15.48" fill="#e8c8d0"/>
<rect x="138.5" width="1.5" height="15.48" fill="#dfb2bd"/>
<rect x="141.5" width="1.5" height="15.48" fill="#ebcfd6"/>
<rect x="144.0" width="1.5" height="15.48" fill="#e5c0c9"/>
<rect x="147.5" width="1.0" height="15.48" fill="#efd9df"/>
<rect x="148.5" width="1.5" height="15.48" fill="#e9cad2"/>
<rect x="153.0" width="1.0" height="15.48" fill="#ecd3d9"/>
<rect x="154.0" width="1.0" height="15.48" fill="#efd9de"/>
<rect x="155.0" width="1.5" height="15.48" fill="#ebbec8"/>
<rect x="156.5" width="13.2" height="15.48" fill="#f0c8c8"/>
<rect x="156.5" width="1.0" height="15.48" fill="#f4d6d6"/>
<rect x="157.5" width="1.5" height="15.48" fill="#e5cde2"/>
<rect x="159.0" width="1.5" height="15.48" fill="#efc4c4"/>
<rect x="160.5" width="1.0" height="15.48" fill="#ecbaba"/>
<rect x="164.0" width="1.5" height="15.48" fill="#f7e0e0"/>
<rect x="165.5" width="1.0" height="15.48" fill="#f6dddd"/>
<rect x="166.5" width="1.5" height="15.48" fill="#ebd2df"/>
<rect x="169.7" width="16.7" height="15.48" fill="#f0c4c4"/>
<rect x="169.7" width="1.5" height="15.48" fill="#f1c9c9"/>
<rect x="171.2" width="1.0" height="15.48" fill="#eebbbb"/>
<rect x="173.7" width="1.0" height="15.48" fill="#f3c0c2"/>
<rect x="174.7" width="1.0" height="15.48" fill="#edb9b9"/>
<rect x="176.7" width="1.0" height="15.48" fill="#f6dcdc"/>
<rect x="177.7" width="1.0" height="15.48" fill="#eaadad"/>
<rect x="178.7" width="1.5" height="15.48" fill="#f0b9bb"/>
<rect x="181.2" width="1.5" height="15.48" fill="#ebb0b0"/>
<rect x="182.7" width="2.0" height="15.48" fill="#f9ccd0"/>
<rect x="184.7" width="1.5" height="15.48" fill="#f8cccf"/>
<rect x="186.4" width="4.2" height="15.48" fill="#e0d0e8"/>
<rect x="186.4" width="1.0" height="15.48" fill="#dfcfe8"/>
<rect x="187.4" width="2.0" height="15.48" fill="#eadfef"/>
<rect x="189.4" width="1.2" height="15.48" fill="#e1d2e9"/>
<rect x="190.6" width="12.6" height="15.48" fill="#f0c8c8"/>
<rect x="190.6" width="1.0" height="15.48" fill="#f4d8d8"/>
<rect x="191.6" width="2.0" height="15.48" fill="#e1bdd2"/>
<rect x="194.6" width="1.0" height="15.48" fill="#e5d1e8"/>
<rect x="197.1" width="1.0" height="15.48" fill="#f4c2c5"/>
<rect x="198.1" width="1.0" height="15.48" fill="#e0c2db"/>
<rect x="199.1" width="1.5" height="15.48" fill="#e5c4d4"/>
<rect x="202.1" width="1.1" height="15.48" fill="#f5c9cb"/>
<rect x="203.2" width="13.2" height="15.48" fill="#f0d0d0"/>
<rect x="203.2" width="1.0" height="15.48" fill="#ebc1c1"/>
<rect x="208.7" width="1.5" height="15.48" fill="#e6cfe2"/>
<rect x="211.7" width="2.0" height="15.48" fill="#f7e5e5"/>
<rect x="213.7" width="1.0" height="15.48" fill="#e2cbe4"/>
<rect x="216.4" width="9.1" height="15.48" fill="#e8d0e0"/>
<rect x="216.4" width="1.5" height="15.48" fill="#dcc9ec"/>
<rect x="217.9" width="1.5" height="15.48" fill="#e0bfd5"/>
<rect x="219.4" width="2.0" height="15.48" fill="#f6d8e2"/>
<rect x="221.4" width="1.5" height="15.48" fill="#ecc7d7"/>
<rect x="223.9" width="1.5" height="15.48" fill="#e6cdde"/>
<rect x="225.5" width="11.5" height="15.48" fill="#f0d8e0"/>
<rect x="225.5" width="1.5" height="15.48" fill="#f1d9e1"/>
<rect x="227.0" width="2.0" height="15.48" fill="#f6e7ec"/>
<rect x="231.0" width="1.0" height="15.48" fill="#eac9d4"/>
<rect x="232.0" width="1.0" height="15.48" fill="#f6e9ed"/>
<rect x="237.0" width="22.3" height="15.48" fill="#f0c0c0"/>
<rect x="239.0" width="1.5" height="15.48" fill="#debfda"/>
<rect x="240.5" width="1.0" height="15.48" fill="#f0c2c2"/>
<rect x="241.5" width="1.0" height="15.48" fill="#eaa7a7"/>
<rect x="243.5" width="1.0" height="15.48" fill="#f4d0d0"/>
<rect x="247.0" width="1.0" height="15.48" fill="#e3c4d9"/>
<rect x="248.0" width="1.5" height="15.48" fill="#e3c5dc"/>
<rect x="249.5" width="1.0" height="15.48" fill="#f4d1d1"/>
<rect x="250.5" width="1.0" height="15.48" fill="#f2c8c8"/>
<rect x="251.5" width="1.0" height="15.48" fill="#edb2b2"/>
<rect x="256.0" width="1.0" height="15.48" fill="#f0c0c0"/>
<rect x="257.0" width="1.5" height="15.48" fill="#f6cecf"/>
<rect x="259.3" width="5.3" height="15.48" fill="#f83030"/>
<rect x="259.3" width="1.5" height="15.48" fill="#f95c5c"/>
<rect x="260.8" width="1.0" height="15.48" fill="#f71d1d"/>
<rect x="261.8" width="1.0" height="15.48" fill="#e44445"/>
<rect x="262.8" width="1.0" height="15.48" fill="#b33337"/>
<rect x="263.8" width="0.8" height="15.48" fill="#e15253"/>
<rect x="264.6" width="27.9" height="15.48" fill="#f8a090"/>
<rect x="266.1" width="1.5" height="15.48" fill="#f89d8d"/>
<rect x="267.6" width="2.0" height="15.48" fill="#eca7a4"/>
<rect x="269.6" width="1.0" height="15.48" fill="#f79684"/>
<rect x="272.6" width="1.5" height="15.48" fill="#f9b4a7"/>
<rect x="275.6" width="1.5" height="15.48" fill="#ee958b"/>
<rect x="279.6" width="1.5" height="15.48" fill="#f6aea4"/>
<rect x="281.1" width="1.0" height="15.48" fill="#ea9e9b"/>
<rect x="286.1" width="1.5" height="15.48" fill="#efa7a1"/>
<rect x="288.6" width="1.5" height="15.48" fill="#f68975"/>
<rect x="291.1" width="1.4" height="15.48" fill="#f68772"/>
</g>
<g transform="translate(0,207.16)">
<rect x="62.0" width="13.3" height="15.48" fill="#6050e0"/>
<rect x="62.0" width="2.0" height="15.48" fill="#a39aed"/>
<rect x="64.0" width="1.5" height="15.48" fill="#644ac3"/>
<rect x="65.5" width="2.0" height="15.48" fill="#4736c6"/>
<rect x="67.5" width="2.0" height="15.48" fill="#321dd7"/>
<rect x="69.5" width="1.5" height="15.48" fill="#3a26d9"/>
<rect x="71.0" width="1.5" height="15.48" fill="#815ca2"/>
<rect x="73.5" width="1.0" height="15.48" fill="#230dd4"/>
<rect x="74.5" width="0.8" height="15.48" fill="#8478e7"/>
<rect x="75.3" width="18.2" height="15.48" fill="#c8c0f0"/>
<rect x="77.8" width="1.5" height="15.48" fill="#c6bef4"/>
<rect x="83.8" width="1.5" height="15.48" fill="#c5bdef"/>
<rect x="85.3" width="1.5" height="15.48" fill="#cfc8f4"/>
<rect x="93.5" width="18.0" height="15.48" fill="#d8c8e8"/>
<rect x="95.0" width="1.0" height="15.48" fill="#e6c9e0"/>
<rect x="96.0" width="2.0" height="15.48" fill="#ebc7db"/>
<rect x="98.0" width="2.0" height="15.48" fill="#e7c7de"/>
<rect x="100.0" width="1.0" height="15.48" fill="#e8c4da"/>
<rect x="101.0" width="1.5" height="15.48" fill="#c8b2df"/>
<rect x="104.0" width="2.0" height="15.48" fill="#e8cae0"/>
<rect x="107.0" width="1.0" height="15.48" fill="#d3c1e5"/>
<rect x="109.0" width="1.5" height="15.48" fill="#cab5e0"/>
<rect x="110.5" width="1.0" height="15.48" fill="#d1bee4"/>
<rect x="111.5" width="15.8" height="15.48" fill="#a8a0f0"/>
<rect x="111.5" width="1.0" height="15.48" fill="#a097ea"/>
<rect x="114.0" width="1.0" height="15.48" fill="#a59dec"/>
<rect x="118.0" width="1.0" height="15.48" fill="#a69ef0"/>
<rect x="119.0" width="1.5" height="15.48" fill="#c8c3f6"/>
<rect x="120.5" width="1.5" height="15.48" fill="#b6b0ed"/>
<rect x="122.0" width="1.5" height="15.48" fill="#c0aadd"/>
<rect x="123.5" width="1.5" height="15.48" fill="#c4bff5"/>
<rect x="125.0" width="2.0" height="15.48" fill="#9f96ea"/>
<rect x="127.3" width="10.2" height="15.48" fill="#c8c0f0"/>
<rect x="129.8" width="1.5" height="15.48" fill="#c4bbf4"/>
<rect x="132.3" width="1.5" height="15.48" fill="#dac7e9"/>
<rect x="133.8" width="1.0" height="15.48" fill="#dfdbf6"/>
<rect x="134.8" width="1.5" height="15.48" fill="#d3b8e0"/>
<rect x="136.3" width="1.2" height="15.48" fill="#b2a7ea"/>
<rect x="137.5" width="19.0" height="15.48" fill="#f0c0c0"/>
<rect x="137.5" width="1.0" height="15.48" fill="#f7b7bc"/>
<rect x="138.5" width="1.0" height="15.48" fill="#f2bdbf"/>
<rect x="139.5" width="1.0" height="15.48" fill="#eaa8a8"/>
<rect x="140.5" width="1.0" height="15.48" fill="#f0bfbf"/>
<rect x="144.0" width="1.0" height="15.48" fill="#f4c4c6"/>
<rect x="146.0" width="2.0" height="15.48" fill="#f4cfcf"/>
<rect x="149.5" width="1.5" height="15.48" fill="#f3c3c5"/>
<rect x="154.0" width="2.0" height="15.48" fill="#e7bcc8"/>
<rect x="156.5" width="13.2" height="15.48" fill="#e8d0d8"/>
<rect x="156.5" width="1.5" height="15.48" fill="#dfbdc8"/>
<rect x="158.0" width="1.0" height="15.48" fill="#e1c8d9"/>
<rect x="161.5" width="2.0" height="15.48" fill="#e9d2da"/>
<rect x="163.5" width="2.0" height="15.48" fill="#e5cfde"/>
<rect x="165.5" width="1.0" height="15.48" fill="#e1d3ee"/>
<rect x="166.5" width="1.5" height="15.48" fill="#ead3db"/>
<rect x="169.7" width="16.7" height="15.48" fill="#e8d0e0"/>
<rect x="169.7" width="2.0" height="15.48" fill="#efdee9"/>
<rect x="173.2" width="1.0" height="15.48" fill="#dfcbe9"/>
<rect x="174.2" width="1.5" height="15.48" fill="#f0d4e1"/>
<rect x="175.7" width="2.0" height="15.48" fill="#ead8e9"/>
<rect x="177.7" width="2.0" height="15.48" fill="#e3cde5"/>
<rect x="181.7" width="1.0" height="15.48" fill="#f2d2de"/>
<rect x="182.7" width="1.5" height="15.48" fill="#e7cfdf"/>
<rect x="184.2" width="1.0" height="15.48" fill="#f4ceda"/>
<rect x="185.2" width="1.2" height="15.48" fill="#e2d0eb"/>
<rect x="186.4" width="4.2" height="15.48" fill="#e0d0e8"/>
<rect x="187.9" width="1.0" height="15.48" fill="#e7d3e6"/>
<rect x="188.9" width="1.0" height="15.48" fill="#d7c7ee"/>
<rect x="190.6" width="12.6" height="15.48" fill="#d8c8e8"/>
<rect x="190.6" width="1.0" height="15.48" fill="#dbd1f6"/>
<rect x="191.6" width="1.0" height="15.48" fill="#d5c4e6"/>
<rect x="192.6" width="1.5" height="15.48" fill="#d4c2e5"/>
<rect x="194.1" width="1.0" height="15.48" fill="#e8def1"/>
<rect x="195.1" width="1.0" height="15.48" fill="#dccdea"/>
<rect x="196.1" width="2.0" height="15.48" fill="#e0beda"/>
<rect x="199.6" width="1.0" height="15.48" fill="#dacae9"/>
<rect x="200.6" width="2.0" height="15.48" fill="#dfd4f1"/>
<rect x="203.2" width="13.2" height="15.48" fill="#e0d0e8"/>
<rect x="203.2" width="1.5" height="15.48" fill="#dccff2"/>
<rect x="208.7" width="1.5" height="15.48" fill="#ecd6e6"/>
<rect x="213.7" width="2.0" height="15.48" fill="#f0cddd"/>
<rect x="215.7" width="0.7" height="15.48" fill="#d9c5e3"/>
<rect x="216.4" width="9.1" height="15.48" fill="#d8c8e8"/>
<rect x="216.4" width="1.0" height="15.48" fill="#ccb7e1"/>
<rect x="217.4" width="2.0" height="15.48" fill="#d4c7f3"/>
<rect x="219.4" width="1.5" height="15.48" fill="#c9b3df"/>
<rect x="220.9" width="2.0" height="15.48" fill="#d4c5eb"/>
<rect x="224.4" width="1.1" height="15.48" fill="#eeccdd"/>
<rect x="225.5" width="11.5" height="15.48" fill="#e8d0e0"/>
<rect x="228.5" width="1.5" height="15.48" fill="#efd8e4"/>
<rect x="230.0" width="2.0" height="15.48" fill="#f0e0eb"/>
<rect x="232.0" width="1.0" height="15.48" fill="#edd4e1"/>
<rect x="234.5" width="1.0" height="15.48" fill="#f0e1eb"/>
<rect x="235.5" width="1.5" height="15.48" fill="#e1c1d6"/>
<rect x="237.0" width="22.3" height="15.48" fill="#f0c8c8"/>
<rect x="237.0" width="2.0" height="15.48" fill="#ebb7b7"/>
<rect x="245.5" width="1.5" height="15.48" fill="#e9d1e2"/>
<rect x="247.0" width="1.0" height="15.48" fill="#e5cce1"/>
<rect x="248.0" width="1.0" height="15.48" fill="#ebd4e3"/>
<rect x="249.0" width="1.0" height="15.48" fill="#ebb4b4"/>
<rect x="250.0" width="1.0" height="15.48" fill="#ecb8b8"/>
<rect x="254.5" width="1.5" height="15.48" fill="#f4d7d7"/>
<rect x="256.0" width="1.0" height="15.48" fill="#f8cfd2"/>
<rect x="257.0" width="2.0" height="15.48" fill="#ebb4b4"/>
<rect x="259.3" width="5.3" height="15.48" fill="#ff3030"/>
<rect x="259.3" width="1.5" height="15.48" fill="#c2273a"/>
<rect x="260.8" width="1.0" height="15.48" fill="#ff2626"/>
<rect x="263.3" width="1.0" height="15.48" fill="#ff2c2c"/>
<rect x="264.6" width="27.9" height="15.48" fill="#f0a8a8"/>
<rect x="264.6" width="1.5" height="15.48" fill="#eb8b8b"/>
<rect x="266.1" width="1.5" height="15.48" fill="#e8b7c2"/>
<rect x="268.6" width="1.0" height="15.48" fill="#eba6a9"/>
<rect x="269.6" width="1.5" height="15.48" fill="#f5c4c4"/>
<rect x="276.1" width="1.0" height="15.48" fill="#ec9292"/>
<rect x="279.1" width="1.5" height="15.48" fill="#ed9999"/>
<rect x="280.6" width="1.5" height="15.48" fill="#ed9999"/>
<rect x="282.1" width="1.5" height="15.48" fill="#cca5c8"/>
<rect x="283.6" width="2.0" height="15.48" fill="#efaeb0"/>
<rect x="285.6" width="2.0" height="15.48" fill="#f4bfbf"/>
<rect x="287.6" width="1.5" height="15.48" fill="#f3bbbb"/>
<rect x="289.1" width="2.0" height="15.48" fill="#edb2b6"/>
<rect x="291.1" width="1.0" height="15.48" fill="#eaa4a8"/>
</g>
<g transform="translate(0,222.34)">
<rect x="62.0" width="13.3" height="15.48" fill="#c06080"/>
<rect x="62.0" width="1.0" height="15.48" fill="#d594aa"/>
<rect x="63.0" width="2.0" height="15.48" fill="#dca6b8"/>
<rect x="65.0" width="1.0" height="15.48" fill="#b481a3"/>
<rect x="67.5" width="1.5" height="15.48" fill="#9a6895"/>
<rect x="69.0" width="1.0" height="15.48" fill="#9b608c"/>
<rect x="70.0" width="1.5" height="15.48" fill="#c46b89"/>
<rect x="73.5" width="1.8" height="15.48" fill="#b77395"/>
<rect x="75.3" width="18.2" height="15.48" fill="#b8b0f0"/>
<rect x="75.3" width="1.0" height="15.48" fill="#afa7ed"/>
<rect x="76.3" width="1.5" height="15.48" fill="#bca4df"/>
<rect x="77.8" width="1.0" height="15.48" fill="#b8b0f0"/>
<rect x="78.8" width="1.0" height="15.48" fill="#aba1ec"/>
<rect x="79.8" width="1.0" height="15.48" fill="#aba1ec"/>
<rect x="83.8" width="1.0" height="15.48" fill="#caa5d2"/>
<rect x="84.8" width="1.0" height="15.48" fill="#c7c1f3"/>
<rect x="86.8" width="1.5" height="15.48" fill="#c3bdf2"/>
<rect x="88.3" width="1.0" height="15.48" fill="#a095eb"/>
<rect x="89.3" width="1.0" height="15.48" fill="#beb7f1"/>
<rect x="90.3" width="1.5" height="15.48" fill="#cbb3df"/>
<rect x="93.5" width="18.0" height="15.48" fill="#f0d8d8"/>
<rect x="93.5" width="1.5" height="15.48" fill="#f1dbdb"/>
<rect x="95.0" width="1.0" height="15.48" fill="#ece0f1"/>
<rect x="96.0" width="2.0" height="15.48" fill="#f6d9dd"/>
<rect x="98.0" width="1.5" height="15.48" fill="#e7d4e5"/>
<rect x="99.5" width="1.0" height="15.48" fill="#f0d9d9"/>
<rect x="100.5" width="1.5" height="15.48" fill="#edcfcf"/>
<rect x="102.0" width="1.5" height="15.48" fill="#f6e7e7"/>
<rect x="103.5" width="1.0" height="15.48" fill="#ecd7df"/>
<rect x="104.5" width="1.5" height="15.48" fill="#ebcccc"/>
<rect x="107.5" width="1.0" height="15.48" fill="#f3d9da"/>
<rect x="108.5" width="1.0" height="15.48" fill="#f4e3e3"/>
<rect x="109.5" width="1.5" height="15.48" fill="#f8e0e3"/>
<rect x="111.5" width="15.8" height="15.48" fill="#e0d0e0"/>
<rect x="111.5" width="1.5" height="15.48" fill="#dccee9"/>
<rect x="126.5" width="0.8" height="15.48" fill="#d7c7e7"/>
<rect x="127.3" width="10.2" height="15.48" fill="#f0a090"/>
<rect x="129.3" width="2.0" height="15.48" fill="#d496a0"/>
<rect x="131.3" width="1.0" height="15.48" fill="#ea7a64"/>
<rect x="132.3" width="1.0" height="15.48" fill="#ee917f"/>
<rect x="133.3" width="1.0" height="15.48" fill="#f0a293"/>
<rect x="134.3" width="1.5" height="15.48" fill="#f4bbaf"/>
<rect x="135.8" width="1.0" height="15.48" fill="#cfa0b4"/>
<rect x="137.5" width="19.0" height="15.48" fill="#f8a088"/>
<rect x="137.5" width="2.0" height="15.48" fill="#f78e71"/>
<rect x="139.5" width="1.0" height="15.48" fill="#f68668"/>
<rect x="140.5" width="1.5" height="15.48" fill="#f9b3a0"/>
<rect x="144.0" width="1.0" height="15.48" fill="#f6896b"/>
<rect x="146.0" width="1.0" height="15.48" fill="#f57a58"/>
<rect x="147.0" width="1.0" height="15.48" fill="#e79e97"/>
<rect x="148.0" width="1.0" height="15.48" fill="#fabdad"/>
<rect x="149.0" width="1.5" height="15.48" fill="#eb9387"/>
<rect x="150.5" width="1.5" height="15.48" fill="#ec998d"/>
<rect x="152.0" width="2.0" height="15.48" fill="#f68060"/>
<rect x="154.0" width="2.0" height="15.48" fill="#f78c6f"/>
<rect x="156.5" width="13.2" height="15.48" fill="#f8b8a8"/>
<rect x="156.5" width="1.5" height="15.48" fill="#f7aa97"/>
<rect x="158.0" width="1.5" height="15.48" fill="#f59c86"/>
<rect x="159.5" width="1.0" height="15.48" fill="#f7bab3"/>
<rect x="161.5" width="1.5" height="15.48" fill="#f7aa97"/>
<rect x="163.0" width="1.5" height="15.48" fill="#d8aac1"/>
<rect x="164.5" width="2.0" height="15.48" fill="#fbd6cd"/>
<rect x="167.5" width="1.5" height="15.48" fill="#f8b9a9"/>
<rect x="169.7" width="16.7" height="15.48" fill="#ecccd4"/>
<rect x="169.7" width="1.0" height="15.48" fill="#efc4cd"/>
<rect x="173.2" width="2.0" height="15.48" fill="#efd5db"/>
<rect x="175.2" width="1.5" height="15.48" fill="#f3dfe4"/>
<rect x="176.7" width="2.0" height="15.48" fill="#efd4db"/>
<rect x="180.2" width="1.0" height="15.48" fill="#f7d4db"/>
<rect x="186.4" width="4.2" height="15.48" fill="#d8c8e8"/>
<rect x="188.4" width="1.5" height="15.48" fill="#e1c0dc"/>
<rect x="190.6" width="12.6" height="15.48" fill="#f0d0d0"/>
<rect x="192.1" width="2.0" height="15.48" fill="#ebdaea"/>
<rect x="196.1" width="1.0" height="15.48" fill="#efcdcd"/>
<rect x="198.1" width="1.5" height="15.48" fill="#f4dcdc"/>
<rect x="203.2" width="13.2" height="15.48" fill="#f0c8c8"/>
<rect x="203.2" width="1.0" height="15.48" fill="#edbcbc"/>
<rect x="206.2" width="1.5" height="15.48" fill="#f3bdc0"/>
<rect x="207.7" width="1.0" height="15.48" fill="#edbebe"/>
<rect x="208.7" width="1.5" height="15.48" fill="#f5dada"/>
<rect x="210.2" width="1.0" height="15.48" fill="#e6cbdd"/>
<rect x="216.4" width="9.1" height="15.48" fill="#e8d0e0"/>
<rect x="216.4" width="1.0" height="15.48" fill="#edd9e6"/>
<rect x="218.4" width="1.0" height="15.48" fill="#e7d6ec"/>
<rect x="219.4" width="1.0" height="15.48" fill="#e3cfe9"/>
<rect x="221.4" width="1.5" height="15.48" fill="#efd7e4"/>
<rect x="222.9" width="1.5" height="15.48" fill="#e7daf3"/>
<rect x="224.4" width="1.1" height="15.48" fill="#edc7d7"/>
<rect x="225.5" width="11.5" height="15.48" fill="#e0d0e8"/>
<rect x="230.0" width="1.0" height="15.48" fill="#e9d6e8"/>
<rect x="231.0" width="1.0" height="15.48" fill="#eadfef"/>
<rect x="232.0" width="1.0" height="15.48" fill="#d5c0e0"/>
<rect x="233.0" width="1.0" height="15.48" fill="#f0d4e3"/>
<rect x="234.0" width="1.0" height="15.48" fill="#d7c3e1"/>
<rect x="237.0" width="22.3" height="15.48" fill="#f0c8c8"/>
<rect x="237.0" width="1.5" height="15.48" fill="#efc3c3"/>
<rect x="238.5" width="1.0" height="15.48" fill="#dbc1e3"/>
<rect x="239.5" width="1.0" height="15.48" fill="#f0caca"/>
<rect x="240.5" width="2.0" height="15.48" fill="#efc6c6"/>
<rect x="242.5" width="1.5" height="15.48" fill="#f3d3d3"/>
<rect x="244.0" width="1.5" height="15.48" fill="#f3d2d2"/>
<rect x="245.5" width="1.0" height="15.48" fill="#f3d1d1"/>
<rect x="246.5" width="1.0" height="15.48" fill="#f2d1d1"/>
<rect x="248.5" width="1.5" height="15.48" fill="#f6d4d6"/>
<rect x="250.0" width="2.0" height="15.48" fill="#f6dddd"/>
<rect x="255.5" width="1.5" height="15.48" fill="#e2c7df"/>
<rect x="257.0" width="1.0" height="15.48" fill="#f8d2d5"/>
<rect x="259.3" width="5.3" height="15.48" fill="#d87090"/>
<rect x="260.8" width="1.5" height="15.48" fill="#ce6f8a"/>
<rect x="263.8" width="0.8" height="15.48" fill="#d5859b"/>
<rect x="264.6" width="27.9" height="15.48" fill="#d8c0e0"/>
<rect x="269.6" width="1.5" height="15.48" fill="#c9a8d4"/>
<rect x="271.1" width="1.5" height="15.48" fill="#eab7cd"/>
<rect x="275.1" width="1.5" height="15.48" fill="#e2b5d0"/>
<rect x="279.1" width="1.0" height="15.48" fill="#cdafd7"/>
<rect x="280.1" width="1.5" height="15.48" fill="#d2b6db"/>
<rect x="281.6" width="1.0" height="15.48" fill="#d3b8dc"/>
<rect x="282.6" width="1.0" height="15.48" fill="#ccadd7"/>
<rect x="283.6" width="1.5" height="15.48" fill="#e3d1e8"/>
<rect x="285.1" width="1.0" height="15.48" fill="#c9a8d4"/>
<rect x="289.1" width="1.0" height="15.48" fill="#c8b3e9"/>
<rect x="290.1" width="1.0" height="15.48" fill="#ddc9e4"/>
<rect x="291.1" width="1.0" height="15.48" fill="#e8daed"/>
</g>
<g transform="translate(0,237.52)">
<rect x="62.0" width="13.3" height="15.48" fill="#a05898"/>
<rect x="62.0" width="1.5" height="15.48" fill="#924579"/>
<rect x="67.0" width="1.5" height="15.48" fill="#802075"/>
<rect x="70.0" width="1.5" height="15.48" fill="#b277ab"/>
<rect x="75.3" width="18.2" height="15.48" fill="#c0b8f0"/>
<rect x="75.3" width="1.0" height="15.48" fill="#c7c0f4"/>
<rect x="76.3" width="1.0" height="15.48" fill="#d2ccf4"/>
<rect x="77.3" width="1.5" height="15.48" fill="#b0a6ec"/>
<rect x="78.8" width="1.0" height="15.48" fill="#cfc9f4"/>
<rect x="79.8" width="1.0" height="15.48" fill="#ccc5f5"/>
<rect x="80.8" width="1.0" height="15.48" fill="#cbc5f4"/>
<rect x="81.8" width="2.0" height="15.48" fill="#d5cff5"/>
<rect x="86.8" width="1.0" height="15.48" fill="#cbb6e4"/>
<rect x="89.8" width="1.0" height="15.48" fill="#b5acf1"/>
<rect x="90.8" width="1.0" height="15.48" fill="#bbb2f0"/>
<rect x="91.8" width="1.0" height="15.48" fill="#b8aff0"/>
<rect x="92.8" width="0.7" height="15.48" fill="#d8abce"/>
<rect x="93.5" width="18.0" height="15.48" fill="#e8d0e0"/>
<rect x="93.5" width="1.5" height="15.48" fill="#e9d2e1"/>
<rect x="96.0" width="1.0" height="15.48" fill="#f1e2ec"/>
<rect x="99.0" width="1.0" height="15.48" fill="#e4c8db"/>
<rect x="100.0" width="1.0" height="15.48" fill="#e0c0d6"/>
<rect x="101.0" width="1.5" height="15.48" fill="#dfccea"/>
<rect x="104.0" width="1.5" height="15.48" fill="#e3c6da"/>
<rect x="105.5" width="1.5" height="15.48" fill="#f0d5e1"/>
<rect x="108.0" width="1.0" height="15.48" fill="#dac8ee"/>
<rect x="109.0" width="1.0" height="15.48" fill="#dfbed4"/>
<rect x="111.5" width="15.8" height="15.48" fill="#d0c0e8"/>
<rect x="111.5" width="1.5" height="15.48" fill="#e0bedb"/>
<rect x="113.0" width="1.0" height="15.48" fill="#e1c7e3"/>
<rect x="117.0" width="1.5" height="15.48" fill="#e6bcd5"/>
<rect x="118.5" width="1.5" height="15.48" fill="#e1d6f0"/>
<rect x="120.0" width="1.5" height="15.48" fill="#d6caf0"/>
<rect x="123.0" width="2.0" height="15.48" fill="#c3aee1"/>
<rect x="125.0" width="1.0" height="15.48" fill="#e3daf1"/>
<rect x="127.3" width="10.2" height="15.48" fill="#f09880"/>
<rect x="127.3" width="2.0" height="15.48" fill="#f0977f"/>
<rect x="130.8" width="1.0" height="15.48" fill="#e98b76"/>
<rect x="133.3" width="1.5" height="15.48" fill="#ed8467"/>
<rect x="134.8" width="1.0" height="15.48" fill="#f6bfb1"/>
<rect x="135.8" width="1.0" height="15.48" fill="#eb7757"/>
<rect x="136.8" width="0.7" height="15.48" fill="#ef9076"/>
<rect x="137.5" width="19.0" height="15.48" fill="#f8a090"/>
<rect x="137.5" width="1.5" height="15.48" fill="#f79482"/>
<rect x="140.5" width="2.0" height="15.48" fill="#e69595"/>
<rect x="143.5" width="1.0" height="15.48" fill="#fbc5bb"/>
<rect x="144.5" width="1.5" height="15.48" fill="#e2a5ab"/>
<rect x="147.0" width="1.0" height="15.48" fill="#f4aca3"/>
<rect x="148.0" width="2.0" height="15.48" fill="#f57b65"/>
<rect x="150.0" width="1.5" height="15.48" fill="#f79380"/>
<rect x="155.5" width="1.0" height="15.48" fill="#eda39e"/>
<rect x="156.5" width="13.2" height="15.48" fill="#f8c0b0"/>
<rect x="156.5" width="1.5" height="15.48" fill="#e3c9df"/>
<rect x="159.0" width="1.5" height="15.48" fill="#fbc3bd"/>
<rect x="161.5" width="1.5" height="15.48" fill="#d9b5d2"/>
<rect x="163.0" width="1.5" height="15.48" fill="#f6b09b"/>
<rect x="169.7" width="16.7" height="15.48" fill="#f0c0b8"/>
<rect x="169.7" width="2.0" height="15.48" fill="#f6c6c4"/>
<rect x="173.7" width="1.0" height="15.48" fill="#f6bfbe"/>
<rect x="174.7" width="1.0" height="15.48" fill="#f3bcb9"/>
<rect x="175.7" width="1.0" height="15.48" fill="#f5c8c5"/>
<rect x="176.7" width="1.5" height="15.48" fill="#edb1a8"/>
<rect x="178.2" width="1.0" height="15.48" fill="#f3b5b2"/>
<rect x="181.2" width="1.5" height="15.48" fill="#e2c4d8"/>
<rect x="182.7" width="1.5" height="15.48" fill="#f7c6c5"/>
<rect x="184.2" width="1.0" height="15.48" fill="#eaa79c"/>
<rect x="186.4" width="4.2" height="15.48" fill="#f0d0d0"/>
<rect x="186.4" width="1.5" height="15.48" fill="#edc6c6"/>
<rect x="187.9" width="1.0" height="15.48" fill="#f7d6d9"/>
<rect x="190.6" width="12.6" height="15.48" fill="#f0d0d0"/>
<rect x="190.6" width="1.0" height="15.48" fill="#e1c9e2"/>
<rect x="191.6" width="1.5" height="15.48" fill="#eec9c9"/>
<rect x="194.6" width="1.5" height="15.48" fill="#ecd5e1"/>
<rect x="197.1" width="2.0" height="15.48" fill="#eec9c9"/>
<rect x="201.1" width="1.0" height="15.48" fill="#f0cfcf"/>
<rect x="203.2" width="13.2" height="15.48" fill="#f0c8c8"/>
<rect x="203.2" width="1.5" height="15.48" fill="#ecb9b9"/>
<rect x="204.7" width="1.5" height="15.48" fill="#efc4c4"/>
<rect x="206.2" width="1.0" height="15.48" fill="#f4d8d8"/>
<rect x="210.2" width="2.0" height="15.48" fill="#f5c1c4"/>
<rect x="212.2" width="1.5" height="15.48" fill="#eec0c0"/>
<rect x="213.7" width="2.0" height="15.48" fill="#f2cece"/>
<rect x="215.7" width="0.7" height="15.48" fill="#f1caca"/>
<rect x="216.4" width="9.1" height="15.48" fill="#f0c8c8"/>
<rect x="220.4" width="1.0" height="15.48" fill="#eab2b2"/>
<rect x="221.4" width="1.5" height="15.48" fill="#f3c2c5"/>
<rect x="224.4" width="1.0" height="15.48" fill="#e1bed4"/>
<rect x="225.5" width="11.5" height="15.48" fill="#f0d0d8"/>
<rect x="225.5" width="1.0" height="15.48" fill="#f7e4e9"/>
<rect x="226.5" width="1.5" height="15.48" fill="#e5d2ec"/>
<rect x="230.0" width="1.0" height="15.48" fill="#f4cdd6"/>
<rect x="231.0" width="1.0" height="15.48" fill="#ecc2cc"/>
<rect x="232.0" width="1.0" height="15.48" fill="#f7c9d2"/>
<rect x="235.0" width="2.0" height="15.48" fill="#f4dce2"/>
<rect x="237.0" width="22.3" height="15.48" fill="#f0c8c8"/>
<rect x="237.0" width="2.0" height="15.48" fill="#f6c3c7"/>
<rect x="239.0" width="1.0" height="15.48" fill="#f6dfdf"/>
<rect x="243.5" width="1.5" height="15.48" fill="#edd0da"/>
<rect x="246.5" width="1.5" height="15.48" fill="#f5d9d9"/>
<rect x="252.5" width="1.5" height="15.48" fill="#eec2c2"/>
<rect x="254.0" width="1.0" height="15.48" fill="#f5cdcf"/>
<rect x="256.0" width="2.0" height="15.48" fill="#e1c8e1"/>
<rect x="258.0" width="1.0" height="15.48" fill="#f6cccf"/>
<rect x="259.3" width="5.3" height="15.48" fill="#e04060"/>
<rect x="259.3" width="1.5" height="15.48" fill="#dd2d50"/>
<rect x="260.8" width="1.5" height="15.48" fill="#e76a83"/>
<rect x="262.3" width="1.0" height="15.48" fill="#ac1c37"/>
<rect x="263.3" width="1.0" height="15.48" fill="#ec899d"/>
<rect x="264.6" width="27.9" height="15.48" fill="#e0b8d0"/>
<rect x="264.6" width="1.0" height="15.48" fill="#e3b7cc"/>
<rect x="265.6" width="1.0" height="15.48" fill="#ebd0e0"/>
<rect x="268.1" width="1.5" height="15.48" fill="#ecc7d6"/>
<rect x="271.1" width="1.5" height="15.48" fill="#d5bde3"/>
<rect x="272.6" width="2.0" height="15.48" fill="#ddb1cb"/>
<rect x="274.6" width="1.5" height="15.48" fill="#d6a1c1"/>
<rect x="276.1" width="1.5" height="15.48" fill="#e1bad1"/>
<rect x="279.1" width="1.5" height="15.48" fill="#eab1c2"/>
<rect x="280.6" width="1.5" height="15.48" fill="#d7a4c3"/>
<rect x="283.6" width="1.0" height="15.48" fill="#d6bade"/>
<rect x="290.1" width="1.0" height="15.48" fill="#d8a6c4"/>
</g>
<g transform="translate(0,252.70)">
<rect x="62.0" width="13.3" height="15.48" fill="#c03060"/>
<rect x="62.0" width="1.0" height="15.48" fill="#a13957"/>
<rect x="66.5" width="1.5" height="15.48" fill="#aa0029"/>
<rect x="68.0" width="1.0" height="15.48" fill="#ca5179"/>
<rect x="69.0" width="1.5" height="15.48" fill="#c74671"/>
<rect x="70.5" width="1.5" height="15.48" fill="#ba4e70"/>
<rect x="72.0" width="1.5" height="15.48" fill="#d36e8f"/>
<rect x="73.5" width="1.5" height="15.48" fill="#bb4b6e"/>
<rect x="75.3" width="18.2" height="15.48" fill="#9890f8"/>
<rect x="75.3" width="2.0" height="15.48" fill="#c1bcfb"/>
<rect x="77.3" width="1.5" height="15.48" fill="#b29ee2"/>
<rect x="78.8" width="1.0" height="15.48" fill="#8980e2"/>
<rect x="79.8" width="1.0" height="15.48" fill="#957edf"/>
<rect x="80.8" width="1.5" height="15.48" fill="#b7a3e2"/>
<rect x="82.3" width="1.5" height="15.48" fill="#a6a0f9"/>
<rect x="88.3" width="2.0" height="15.48" fill="#9f89e0"/>
<rect x="91.8" width="1.5" height="15.48" fill="#b1abfa"/>
<rect x="93.5" width="18.0" height="15.48" fill="#f0c8c0"/>
<rect x="94.5" width="1.5" height="15.48" fill="#f5d9d3"/>
<rect x="96.0" width="1.5" height="15.48" fill="#f9d1d1"/>
<rect x="97.5" width="2.0" height="15.48" fill="#f7d3d1"/>
<rect x="100.5" width="1.0" height="15.48" fill="#eebfb6"/>
<rect x="101.5" width="1.5" height="15.48" fill="#ebd4dd"/>
<rect x="104.5" width="2.0" height="15.48" fill="#e5d3e8"/>
<rect x="106.5" width="1.5" height="15.48" fill="#f7cfcd"/>
<rect x="108.0" width="1.0" height="15.48" fill="#f6dfda"/>
<rect x="109.0" width="1.5" height="15.48" fill="#f5dad5"/>
<rect x="110.5" width="1.0" height="15.48" fill="#ebb6ab"/>
<rect x="111.5" width="15.8" height="15.48" fill="#e0c8e0"/>
<rect x="112.5" width="2.0" height="15.48" fill="#d4c2ed"/>
<rect x="114.5" width="1.5" height="15.48" fill="#deceee"/>
<rect x="117.5" width="1.0" height="15.48" fill="#eac2d5"/>
<rect x="118.5" width="1.0" height="15.48" fill="#ede0ed"/>
<rect x="119.5" width="2.0" height="15.48" fill="#e9c3d7"/>
<rect x="122.5" width="1.0" height="15.48" fill="#e8c1d6"/>
<rect x="126.5" width="0.8" height="15.48" fill="#e5d1e5"/>
<rect x="127.3" width="10.2" height="15.48" fill="#ff5040"/>
<rect x="131.8" width="1.5" height="15.48" fill="#e93426"/>
<rect x="133.3" width="2.0" height="15.48" fill="#cf464b"/>
<rect x="136.8" width="0.7" height="15.48" fill="#ff311f"/>
<rect x="137.5" width="19.0" height="15.48" fill="#ff3020"/>
<rect x="137.5" width="1.5" height="15.48" fill="#ff0900"/>
<rect x="140.0" width="2.0" height="15.48" fill="#ff4233"/>
<rect x="142.0" width="2.0" height="15.48" fill="#ff0000"/>
<rect x="144.0" width="2.0" height="15.48" fill="#ff8076"/>
<rect x="146.0" width="1.5" height="15.48" fill="#c0504d"/>
<rect x="150.5" width="1.5" height="15.48" fill="#ff0000"/>
<rect x="152.0" width="1.5" height="15.48" fill="#ff5c4f"/>
<rect x="153.5" width="1.5" height="15.48" fill="#ff7f75"/>
<rect x="156.5" width="13.2" height="15.48" fill="#e8c8d8"/>
<rect x="156.5" width="1.0" height="15.48" fill="#e0ccea"/>
<rect x="159.0" width="2.0" height="15.48" fill="#ebd0de"/>
<rect x="161.0" width="1.0" height="15.48" fill="#e0b6cb"/>
<rect x="162.0" width="1.0" height="15.48" fill="#d9c4eb"/>
<rect x="163.0" width="1.5" height="15.48" fill="#f0dbe5"/>
<rect x="164.5" width="1.0" height="15.48" fill="#efbfce"/>
<rect x="165.5" width="2.0" height="15.48" fill="#f1bfcd"/>
<rect x="167.5" width="1.0" height="15.48" fill="#f1dde7"/>
<rect x="169.7" width="16.7" height="15.48" fill="#f8b8a0"/>
<rect x="171.7" width="2.0" height="15.48" fill="#f9c4b0"/>
<rect x="173.7" width="1.5" height="15.48" fill="#f9c3ae"/>
<rect x="175.2" width="2.0" height="15.48" fill="#fbd4c5"/>
<rect x="177.2" width="1.0" height="15.48" fill="#f8bdac"/>
<rect x="178.2" width="1.5" height="15.48" fill="#f7ae93"/>
<rect x="179.7" width="1.0" height="15.48" fill="#f6a182"/>
<rect x="183.2" width="1.0" height="15.48" fill="#f6a688"/>
<rect x="184.2" width="1.5" height="15.48" fill="#f9c3af"/>
<rect x="185.7" width="0.7" height="15.48" fill="#f9bea8"/>
<rect x="186.4" width="4.2" height="15.48" fill="#e8c8d8"/>
<rect x="186.4" width="1.0" height="15.48" fill="#efd0dd"/>
<rect x="188.9" width="1.5" height="15.48" fill="#f4ced9"/>
<rect x="190.6" width="12.6" height="15.48" fill="#c8b8f0"/>
<rect x="192.1" width="1.5" height="15.48" fill="#c5b8f3"/>
<rect x="196.6" width="1.0" height="15.48" fill="#b8a3ec"/>
<rect x="198.6" width="2.0" height="15.48" fill="#cdbef1"/>
<rect x="200.6" width="1.0" height="15.48" fill="#d2b3e0"/>
<rect x="201.6" width="1.0" height="15.48" fill="#c3b4f0"/>
<rect x="203.2" width="13.2" height="15.48" fill="#e8c8e0"/>
<rect x="203.2" width="1.0" height="15.48" fill="#e1b7d6"/>
<rect x="205.2" width="1.5" height="15.48" fill="#ecd3e6"/>
<rect x="208.2" width="1.0" height="15.48" fill="#e0b4d5"/>
<rect x="214.7" width="1.0" height="15.48" fill="#ebcfe4"/>
<rect x="215.7" width="0.7" height="15.48" fill="#f2c0d2"/>
<rect x="216.4" width="9.1" height="15.48" fill="#f0c8c8"/>
<rect x="216.4" width="1.5" height="15.48" fill="#ecb8b8"/>
<rect x="217.9" width="1.5" height="15.48" fill="#e0c8e3"/>
<rect x="220.4" width="1.0" height="15.48" fill="#f4d6d6"/>
<rect x="222.4" width="1.5" height="15.48" fill="#f7d2d4"/>
<rect x="224.9" width="0.6" height="15.48" fill="#f4d5d5"/>
<rect x="225.5" width="11.5" height="15.48" fill="#e8d0e0"/>
<rect x="227.5" width="1.0" height="15.48" fill="#efc9d7"/>
<rect x="228.5" width="1.0" height="15.48" fill="#f2cfdc"/>
<rect x="229.5" width="1.0" height="15.48" fill="#e8d7ea"/>
<rect x="230.5" width="1.5" height="15.48" fill="#e3c6d9"/>
<rect x="232.0" width="1.5" height="15.48" fill="#f1d8e4"/>
<rect x="233.5" width="2.0" height="15.48" fill="#e6d3e9"/>
<rect x="235.5" width="1.5" height="15.48" fill="#f2d0dc"/>
<rect x="237.0" width="22.3" height="15.48" fill="#c8b8f0"/>
<rect x="237.0" width="1.0" height="15.48" fill="#b49eeb"/>
<rect x="238.0" width="1.5" height="15.48" fill="#d7aed6"/>
<rect x="242.5" width="1.0" height="15.48" fill="#bba7ec"/>
<rect x="245.5" width="2.0" height="15.48" fill="#cdbef1"/>
<rect x="247.5" width="2.0" height="15.48" fill="#d0c5f5"/>
<rect x="249.5" width="1.5" height="15.48" fill="#d3c7f3"/>
<rect x="251.0" width="1.5" height="15.48" fill="#c4b7f3"/>
<rect x="252.5" width="1.0" height="15.48" fill="#e0bfde"/>
<rect x="253.5" width="1.5" height="15.48" fill="#ccbff3"/>
<rect x="255.0" width="1.5" height="15.48" fill="#ded4f6"/>
<rect x="257.5" width="1.5" height="15.48" fill="#dad0f5"/>
<rect x="259.3" width="5.3" height="15.48" fill="#c04070"/>
<rect x="260.3" width="1.0" height="15.48" fill="#bd3769"/>
<rect x="262.3" width="1.5" height="15.48" fill="#c14372"/>
<rect x="264.6" width="27.9" height="15.48" fill="#b8a0e8"/>
<rect x="264.6" width="1.5" height="15.48" fill="#c0abeb"/>
<rect x="266.1" width="1.0" height="15.48" fill="#a78de2"/>
<rect x="268.6" width="2.0" height="15.48" fill="#c0abeb"/>
<rect x="270.6" width="2.0" height="15.48" fill="#c091c3"/>
<rect x="272.6" width="2.0" height="15.48" fill="#af9ce4"/>
<rect x="274.6" width="1.0" height="15.48" fill="#c4b0ec"/>
<rect x="275.6" width="1.0" height="15.48" fill="#ae93e5"/>
<rect x="276.6" width="1.0" height="15.48" fill="#ae9ae3"/>
<rect x="278.6" width="1.5" height="15.48" fill="#c89bc5"/>
<rect x="280.1" width="1.5" height="15.48" fill="#b1a0e4"/>
<rect x="281.6" width="1.5" height="15.48" fill="#b7a8e5"/>
<rect x="283.1" width="1.5" height="15.48" fill="#a384e1"/>
<rect x="284.6" width="1.0" height="15.48" fill="#baa2e9"/>
<rect x="285.6" width="2.0" height="15.48" fill="#d2c3f0"/>
<rect x="288.6" width="1.0" height="15.48" fill="#d2c3f0"/>
<rect x="289.6" width="1.5" height="15.48" fill="#bd9ad7"/>
<rect x="291.1" width="1.4" height="15.48" fill="#cb9dc4"/>
</g>
<line x1="75.3" y1="25" x2="75.3" y2="267.5" stroke="#1a1a1a" stroke-width="0.9" stroke-dasharray="2.6,2.3"/>
<line x1="93.5" y1="25" x2="93.5" y2="267.5" stroke="#1a1a1a" stroke-width="0.9" stroke-dasharray="2.6,2.3"/>
<line x1="111.5" y1="25" x2="111.5" y2="267.5" stroke="#1a1a1a" stroke-width="0.9" stroke-dasharray="2.6,2.3"/>
<line x1="127.3" y1="25" x2="127.3" y2="267.5" stroke="#1a1a1a" stroke-width="0.9" stroke-dasharray="2.6,2.3"/>
<line x1="137.5" y1="25" x2="137.5" y2="267.5" stroke="#1a1a1a" stroke-width="0.9" stroke-dasharray="2.6,2.3"/>
<line x1="156.5" y1="25" x2="156.5" y2="267.5" stroke="#1a1a1a" stroke-width="0.9" stroke-dasharray="2.6,2.3"/>
<line x1="169.7" y1="25" x2="169.7" y2="267.5" stroke="#1a1a1a" stroke-width="0.9" stroke-dasharray="2.6,2.3"/>
<line x1="186.4" y1="25" x2="186.4" y2="267.5" stroke="#1a1a1a" stroke-width="0.9" stroke-dasharray="2.6,2.3"/>
<line x1="190.6" y1="25" x2="190.6" y2="267.5" stroke="#1a1a1a" stroke-width="0.9" stroke-dasharray="2.6,2.3"/>
<line x1="203.2" y1="25" x2="203.2" y2="267.5" stroke="#1a1a1a" stroke-width="0.9" stroke-dasharray="2.6,2.3"/>
<line x1="216.4" y1="25" x2="216.4" y2="267.5" stroke="#1a1a1a" stroke-width="0.9" stroke-dasharray="2.6,2.3"/>
<line x1="225.5" y1="25" x2="225.5" y2="267.5" stroke="#1a1a1a" stroke-width="0.9" stroke-dasharray="2.6,2.3"/>
<line x1="237.0" y1="25" x2="237.0" y2="267.5" stroke="#1a1a1a" stroke-width="0.9" stroke-dasharray="2.6,2.3"/>
<line x1="259.3" y1="25" x2="259.3" y2="267.5" stroke="#1a1a1a" stroke-width="0.9" stroke-dasharray="2.6,2.3"/>
<line x1="264.6" y1="25" x2="264.6" y2="267.5" stroke="#1a1a1a" stroke-width="0.9" stroke-dasharray="2.6,2.3"/>
<line x1="291.2" y1="25" x2="291.2" y2="267.5" stroke="#1a1a1a" stroke-width="0.9" stroke-dasharray="2.6,2.3"/>
<rect x="61.5" y="25" width="231" height="242.9" fill="none" stroke="#000" stroke-width="2"/>
<text x="60" y="38.1" font-size="9.7" text-anchor="end" fill="#1a1a1a" font-style="italic">MEN1</text>
<text x="430.6" y="38.2" font-size="9.7" text-anchor="end" fill="#1a1a1a" font-style="italic">MEN1</text>
<line x1="430.6" y1="35.0" x2="433.5" y2="35.0" stroke="#333" stroke-width="0.8"/>
<text x="60" y="53.1" font-size="9.7" text-anchor="end" fill="#1a1a1a" font-style="italic">KAT6A</text>
<text x="430.6" y="53.2" font-size="9.7" text-anchor="end" fill="#1a1a1a" font-style="italic">KAT6A</text>
<line x1="430.6" y1="50.0" x2="433.5" y2="50.0" stroke="#333" stroke-width="0.8"/>
<text x="60" y="68.1" font-size="9.7" text-anchor="end" fill="#1a1a1a" font-style="italic">KAT7</text>
<text x="430.6" y="68.2" font-size="9.7" text-anchor="end" fill="#1a1a1a" font-style="italic">KAT7</text>
<line x1="430.6" y1="64.9" x2="433.5" y2="64.9" stroke="#333" stroke-width="0.8"/>
<text x="60" y="83.1" font-size="9.7" text-anchor="end" fill="#1a1a1a" font-style="italic">JADE2</text>
<text x="430.6" y="83.2" font-size="9.7" text-anchor="end" fill="#1a1a1a" font-style="italic">JADE2</text>
<line x1="430.6" y1="79.9" x2="433.5" y2="79.9" stroke="#333" stroke-width="0.8"/>
<text x="60" y="98.1" font-size="9.7" text-anchor="end" fill="#1a1a1a" font-style="italic">DOT1L</text>
<text x="430.6" y="98.2" font-size="9.7" text-anchor="end" fill="#1a1a1a" font-style="italic">DOT1L</text>
<line x1="430.6" y1="94.9" x2="433.5" y2="94.9" stroke="#333" stroke-width="0.8"/>
<text x="60" y="113.1" font-size="9.7" text-anchor="end" fill="#1a1a1a" font-style="italic">JADE1</text>
<text x="430.6" y="113.2" font-size="9.7" text-anchor="end" fill="#1a1a1a" font-style="italic">JADE1</text>
<line x1="430.6" y1="109.9" x2="433.5" y2="109.9" stroke="#333" stroke-width="0.8"/>
<text x="60" y="128.1" font-size="9.7" text-anchor="end" fill="#1a1a1a" font-style="italic">EZH2</text>
<text x="430.6" y="128.2" font-size="9.7" text-anchor="end" fill="#1a1a1a" font-style="italic">EZH2</text>
<line x1="430.6" y1="124.8" x2="433.5" y2="124.8" stroke="#333" stroke-width="0.8"/>
<text x="60" y="143.1" font-size="9.7" text-anchor="end" fill="#1a1a1a" font-style="italic">EED</text>
<text x="430.6" y="143.2" font-size="9.7" text-anchor="end" fill="#1a1a1a" font-style="italic">EED</text>
<line x1="430.6" y1="139.8" x2="433.5" y2="139.8" stroke="#333" stroke-width="0.8"/>
<text x="60" y="158.1" font-size="9.7" text-anchor="end" fill="#1a1a1a" font-style="italic">RING1</text>
<text x="430.6" y="158.2" font-size="9.7" text-anchor="end" fill="#1a1a1a" font-style="italic">RING1</text>
<line x1="430.6" y1="154.8" x2="433.5" y2="154.8" stroke="#333" stroke-width="0.8"/>
<text x="60" y="173.1" font-size="9.7" text-anchor="end" fill="#1a1a1a" font-style="italic">JADE3</text>
<text x="430.6" y="173.2" font-size="9.7" text-anchor="end" fill="#1a1a1a" font-style="italic">JADE3</text>
<line x1="430.6" y1="169.7" x2="433.5" y2="169.7" stroke="#333" stroke-width="0.8"/>
<text x="60" y="188.1" font-size="9.7" text-anchor="end" fill="#1a1a1a" font-style="italic">ING5</text>
<text x="430.6" y="188.2" font-size="9.7" text-anchor="end" fill="#1a1a1a" font-style="italic">ING5</text>
<line x1="430.6" y1="184.7" x2="433.5" y2="184.7" stroke="#333" stroke-width="0.8"/>
<text x="60" y="203.1" font-size="9.7" text-anchor="end" fill="#1a1a1a" font-style="italic">PSIP1</text>
<text x="430.6" y="203.2" font-size="9.7" text-anchor="end" fill="#1a1a1a" font-style="italic">PSIP1</text>
<line x1="430.6" y1="199.7" x2="433.5" y2="199.7" stroke="#333" stroke-width="0.8"/>
<text x="60" y="218.1" font-size="9.7" text-anchor="end" fill="#1a1a1a" font-style="italic">SUZ12</text>
<text x="430.6" y="218.2" font-size="9.7" text-anchor="end" fill="#1a1a1a" font-style="italic">SUZ12</text>
<line x1="430.6" y1="214.6" x2="433.5" y2="214.6" stroke="#333" stroke-width="0.8"/>
<text x="60" y="233.1" font-size="9.7" text-anchor="end" fill="#1a1a1a" font-style="italic">ING4</text>
<text x="430.6" y="233.2" font-size="9.7" text-anchor="end" fill="#1a1a1a" font-style="italic">ING4</text>
<line x1="430.6" y1="229.6" x2="433.5" y2="229.6" stroke="#333" stroke-width="0.8"/>
<text x="60" y="248.1" font-size="9.7" text-anchor="end" fill="#1a1a1a" font-style="italic">PCGF1</text>
<text x="430.6" y="248.2" font-size="9.7" text-anchor="end" fill="#1a1a1a" font-style="italic">PCGF1</text>
<line x1="430.6" y1="244.6" x2="433.5" y2="244.6" stroke="#333" stroke-width="0.8"/>
<text x="60" y="263.1" font-size="9.7" text-anchor="end" fill="#1a1a1a" font-style="italic">BCOR</text>
<text x="430.6" y="263.2" font-size="9.7" text-anchor="end" fill="#1a1a1a" font-style="italic">BCOR</text>
<line x1="430.6" y1="259.6" x2="433.5" y2="259.6" stroke="#333" stroke-width="0.8"/>
<text transform="translate(15.2,145.6) rotate(-90)" font-size="9.05" text-anchor="middle" fill="#1a1a1a">Perturbation</text>
<text transform="translate(390.3,145.7) rotate(-90)" font-size="9.05" text-anchor="middle" fill="#1a1a1a">Perturbation</text>
<text transform="translate(72.3,269.6) rotate(-90)" font-size="9.4" text-anchor="end" fill="#1a1a1a">P-0</text>
<text transform="translate(87.8,269.6) rotate(-90)" font-size="9.4" text-anchor="end" fill="#1a1a1a">P-1</text>
<text transform="translate(106.9,269.6) rotate(-90)" font-size="9.4" text-anchor="end" fill="#1a1a1a">P-2</text>
<text transform="translate(123.0,269.6) rotate(-90)" font-size="9.4" text-anchor="end" fill="#1a1a1a">P-3</text>
<text transform="translate(136.8,269.6) rotate(-90)" font-size="9.4" text-anchor="end" fill="#1a1a1a">P-4</text>
<text transform="translate(151.8,269.6) rotate(-90)" font-size="9.4" text-anchor="end" fill="#1a1a1a">P-5</text>
<text transform="translate(167.3,269.6) rotate(-90)" font-size="9.4" text-anchor="end" fill="#1a1a1a">P-6</text>
<text transform="translate(182.2,269.6) rotate(-90)" font-size="9.4" text-anchor="end" fill="#1a1a1a">P-7</text>
<text transform="translate(192.5,269.6) rotate(-90)" font-size="9.4" text-anchor="end" fill="#1a1a1a">P-8</text>
<text transform="translate(202.1,269.6) rotate(-90)" font-size="9.4" text-anchor="end" fill="#1a1a1a">P-9</text>
<text transform="translate(214.3,269.6) rotate(-90)" font-size="9.4" text-anchor="end" fill="#1a1a1a">P-10</text>
<text transform="translate(226.0,269.6) rotate(-90)" font-size="9.4" text-anchor="end" fill="#1a1a1a">P-11</text>
<text transform="translate(234.8,269.6) rotate(-90)" font-size="9.4" text-anchor="end" fill="#1a1a1a">P-12</text>
<text transform="translate(252.6,269.6) rotate(-90)" font-size="9.4" text-anchor="end" fill="#1a1a1a">P-13</text>
<text transform="translate(266.2,269.6) rotate(-90)" font-size="9.4" text-anchor="end" fill="#1a1a1a">P-14</text>
<text transform="translate(282.7,269.6) rotate(-90)" font-size="9.4" text-anchor="end" fill="#1a1a1a">P-15</text>
<text transform="translate(297.6,269.6) rotate(-90)" font-size="9.4" text-anchor="end" fill="#1a1a1a">P-16</text>
<text x="181.4" y="301" font-size="9.15" text-anchor="middle" fill="#1a1a1a">Gene program</text>
<defs><linearGradient id="cbA" x1="0" y1="0" x2="0" y2="1"><stop offset="0" stop-color="#ff0000"/><stop offset="0.5" stop-color="#ffffff"/><stop offset="1" stop-color="#0000ff"/></linearGradient><linearGradient id="cbB" x1="0" y1="0" x2="0" y2="1"><stop offset="0" stop-color="#f81414"/><stop offset="0.5" stop-color="#ffffff"/><stop offset="1" stop-color="#1414f8"/></linearGradient><linearGradient id="cbE" x1="0" y1="0" x2="0" y2="1"><stop offset="0" stop-color="#7a0022"/><stop offset="0.2" stop-color="#c63a3a"/><stop offset="0.4" stop-color="#f4a88a"/><stop offset="0.52" stop-color="#f7f7f7"/><stop offset="0.65" stop-color="#a8cce2"/><stop offset="0.85" stop-color="#3a78b4"/><stop offset="1" stop-color="#163f78"/></linearGradient></defs>
<rect x="300.6" y="228.4" width="8.8" height="39" fill="url(#cbA)" stroke="#000" stroke-width="1.2"/>
<line x1="300.6" y1="231.5" x2="302.6" y2="231.5" stroke="#000" stroke-width="0.9"/><line x1="307.4" y1="231.5" x2="309.4" y2="231.5" stroke="#000" stroke-width="0.9"/>
<line x1="300.6" y1="247.8" x2="302.6" y2="247.8" stroke="#000" stroke-width="0.9"/><line x1="307.4" y1="247.8" x2="309.4" y2="247.8" stroke="#000" stroke-width="0.9"/>
<line x1="300.6" y1="264.3" x2="302.6" y2="264.3" stroke="#000" stroke-width="0.9"/><line x1="307.4" y1="264.3" x2="309.4" y2="264.3" stroke="#000" stroke-width="0.9"/>
<text x="312.6" y="234.3" font-size="9" fill="#1a1a1a">0.25</text>
<text x="312.6" y="250.9" font-size="9" fill="#1a1a1a">0</text>
<text x="310.8" y="269.5" font-size="9" fill="#1a1a1a">−0.25</text>
<text x="299.9" y="188.6" font-size="8.9" fill="#1a1a1a">Linear</text>
<text x="299.9" y="199.4" font-size="8.9" fill="#1a1a1a">model</text>
<text x="299.9" y="210.1" font-size="8.9" fill="#1a1a1a">coefficient</text>
<text x="388.6" y="11.1" font-size="14.5" fill="#111">B</text>
<circle cx="438.3" cy="35.0" r="3.50" fill="#1414f8"/>
<circle cx="447.3" cy="35.0" r="1.75" fill="#f8c8bf"/>
<circle cx="456.3" cy="35.0" r="2.50" fill="#b8a8f2"/>
<circle cx="465.2" cy="35.0" r="3.25" fill="#1414f8"/>
<circle cx="474.2" cy="35.0" r="1.75" fill="#8266f2"/>
<circle cx="483.2" cy="35.0" r="1.25" fill="#eeeaf4"/>
<circle cx="492.2" cy="35.0" r="2.25" fill="#f8b4a2"/>
<circle cx="501.2" cy="35.0" r="4.50" fill="#f89078"/>
<circle cx="510.1" cy="35.0" r="2.00" fill="#f8b4a2"/>
<circle cx="519.1" cy="35.0" r="1.50" fill="#f8c8bf"/>
<circle cx="528.1" cy="35.0" r="1.50" fill="#d8d0f6"/>
<circle cx="537.1" cy="35.0" r="2.50" fill="#f85c40"/>
<circle cx="546.1" cy="35.0" r="2.50" fill="#f81414"/>
<circle cx="555.0" cy="35.0" r="3.50" fill="#f81414"/>
<circle cx="564.0" cy="35.0" r="3.25" fill="#f81414"/>
<circle cx="573.0" cy="35.0" r="4.00" fill="#f81414"/>
<circle cx="582.0" cy="35.0" r="2.00" fill="#f81414"/>
<circle cx="438.3" cy="50.0" r="3.00" fill="#1414f8"/>
<circle cx="447.3" cy="50.0" r="1.25" fill="#f8e2de"/>
<circle cx="456.3" cy="50.0" r="2.00" fill="#b8a8f2"/>
<circle cx="465.2" cy="50.0" r="3.00" fill="#1414f8"/>
<circle cx="474.2" cy="50.0" r="1.50" fill="#8266f2"/>
<circle cx="483.2" cy="50.0" r="1.25" fill="#eeeaf4"/>
<circle cx="492.2" cy="50.0" r="1.50" fill="#f8c8bf"/>
<circle cx="501.2" cy="50.0" r="2.75" fill="#f89078"/>
<circle cx="510.1" cy="50.0" r="3.00" fill="#f89078"/>
<circle cx="519.1" cy="50.0" r="2.25" fill="#f8b4a2"/>
<circle cx="528.1" cy="50.0" r="1.50" fill="#d8d0f6"/>
<circle cx="537.1" cy="50.0" r="2.25" fill="#f81414"/>
<circle cx="546.1" cy="50.0" r="2.75" fill="#f81414"/>
<circle cx="555.0" cy="50.0" r="3.25" fill="#f81414"/>
<circle cx="564.0" cy="50.0" r="2.25" fill="#f81414"/>
<circle cx="573.0" cy="50.0" r="3.75" fill="#f81414"/>
<circle cx="582.0" cy="50.0" r="1.75" fill="#f85c40"/>
<circle cx="438.3" cy="64.9" r="2.75" fill="#1414f8"/>
<circle cx="447.3" cy="64.9" r="1.50" fill="#d8d0f6"/>
<circle cx="456.3" cy="64.9" r="2.25" fill="#d8d0f6"/>
<circle cx="465.2" cy="64.9" r="2.50" fill="#8266f2"/>
<circle cx="474.2" cy="64.9" r="1.00" fill="#eeeaf4"/>
<circle cx="483.2" cy="64.9" r="1.50" fill="#f8c8bf"/>
<circle cx="492.2" cy="64.9" r="2.00" fill="#f8c8bf"/>
<circle cx="501.2" cy="64.9" r="3.50" fill="#f89078"/>
<circle cx="510.1" cy="64.9" r="1.25" fill="#eeeaf4"/>
<circle cx="519.1" cy="64.9" r="1.25" fill="#f8c8bf"/>
<circle cx="528.1" cy="64.9" r="1.50" fill="#d8d0f6"/>
<circle cx="537.1" cy="64.9" r="1.75" fill="#f89078"/>
<circle cx="546.1" cy="64.9" r="2.25" fill="#f85c40"/>
<circle cx="555.0" cy="64.9" r="2.50" fill="#f85c40"/>
<circle cx="564.0" cy="64.9" r="2.50" fill="#f81414"/>
<circle cx="573.0" cy="64.9" r="3.25" fill="#f81414"/>
<circle cx="582.0" cy="64.9" r="2.25" fill="#f81414"/>
<circle cx="438.3" cy="79.9" r="2.25" fill="#1414f8"/>
<circle cx="447.3" cy="79.9" r="1.25" fill="#d8d0f6"/>
<circle cx="456.3" cy="79.9" r="2.00" fill="#b8a8f2"/>
<circle cx="465.2" cy="79.9" r="2.00" fill="#8266f2"/>
<circle cx="474.2" cy="79.9" r="1.00" fill="#d8d0f6"/>
<circle cx="483.2" cy="79.9" r="1.00" fill="#eeeaf4"/>
<circle cx="492.2" cy="79.9" r="1.75" fill="#f8c8bf"/>
<circle cx="501.2" cy="79.9" r="2.75" fill="#f89078"/>
<circle cx="510.1" cy="79.9" r="1.50" fill="#f8c8bf"/>
<circle cx="519.1" cy="79.9" r="1.25" fill="#d8d0f6"/>
<circle cx="537.1" cy="79.9" r="1.50" fill="#f8c8bf"/>
<circle cx="546.1" cy="79.9" r="1.25" fill="#f8c8bf"/>
<circle cx="555.0" cy="79.9" r="2.00" fill="#f89078"/>
<circle cx="564.0" cy="79.9" r="2.25" fill="#f81414"/>
<circle cx="573.0" cy="79.9" r="2.25" fill="#f81414"/>
<circle cx="582.0" cy="79.9" r="1.75" fill="#f81414"/>
<circle cx="438.3" cy="94.9" r="2.50" fill="#1414f8"/>
<circle cx="447.3" cy="94.9" r="1.00" fill="#eeeaf4"/>
<circle cx="456.3" cy="94.9" r="2.25" fill="#b8a8f2"/>
<circle cx="465.2" cy="94.9" r="2.25" fill="#8266f2"/>
<circle cx="474.2" cy="94.9" r="1.25" fill="#d8d0f6"/>
<circle cx="483.2" cy="94.9" r="1.00" fill="#eeeaf4"/>
<circle cx="492.2" cy="94.9" r="2.00" fill="#f8c8bf"/>
<circle cx="501.2" cy="94.9" r="2.75" fill="#f89078"/>
<circle cx="510.1" cy="94.9" r="1.25" fill="#f8c8bf"/>
<circle cx="519.1" cy="94.9" r="1.00" fill="#eeeaf4"/>
<circle cx="528.1" cy="94.9" r="1.50" fill="#d8d0f6"/>
<circle cx="537.1" cy="94.9" r="1.50" fill="#f8b4a2"/>
<circle cx="546.1" cy="94.9" r="2.00" fill="#f89078"/>
<circle cx="555.0" cy="94.9" r="2.50" fill="#f85c40"/>
<circle cx="564.0" cy="94.9" r="2.50" fill="#f81414"/>
<circle cx="573.0" cy="94.9" r="2.75" fill="#f81414"/>
<circle cx="582.0" cy="94.9" r="2.00" fill="#f81414"/>
<circle cx="438.3" cy="109.9" r="1.25" fill="#1414f8"/>
<circle cx="447.3" cy="109.9" r="1.50" fill="#b8a8f2"/>
<circle cx="456.3" cy="109.9" r="2.00" fill="#b8a8f2"/>
<circle cx="465.2" cy="109.9" r="2.00" fill="#8266f2"/>
<circle cx="474.2" cy="109.9" r="1.00" fill="#eeeaf4"/>
<circle cx="483.2" cy="109.9" r="1.50" fill="#f8c8bf"/>
<circle cx="492.2" cy="109.9" r="2.75" fill="#f89078"/>
<circle cx="501.2" cy="109.9" r="1.00" fill="#eeeaf4"/>
<circle cx="510.1" cy="109.9" r="1.25" fill="#d8d0f6"/>
<circle cx="519.1" cy="109.9" r="2.00" fill="#b8a8f2"/>
<circle cx="528.1" cy="109.9" r="1.00" fill="#eeeaf4"/>
<circle cx="537.1" cy="109.9" r="1.00" fill="#d8d0f6"/>
<circle cx="546.1" cy="109.9" r="1.00" fill="#eeeaf4"/>
<circle cx="555.0" cy="109.9" r="1.25" fill="#f8c8bf"/>
<circle cx="564.0" cy="109.9" r="2.25" fill="#f81414"/>
<circle cx="573.0" cy="109.9" r="2.00" fill="#f85c40"/>
<circle cx="582.0" cy="109.9" r="1.50" fill="#f81414"/>
<circle cx="438.3" cy="124.8" r="1.25" fill="#8266f2"/>
<circle cx="447.3" cy="124.8" r="2.00" fill="#8266f2"/>
<circle cx="456.3" cy="124.8" r="2.00" fill="#d8d0f6"/>
<circle cx="465.2" cy="124.8" r="2.00" fill="#b8a8f2"/>
<circle cx="474.2" cy="124.8" r="1.75" fill="#f8c8bf"/>
<circle cx="483.2" cy="124.8" r="1.75" fill="#f8c8bf"/>
<circle cx="492.2" cy="124.8" r="2.00" fill="#f8c8bf"/>
<circle cx="501.2" cy="124.8" r="1.00" fill="#f8e2de"/>
<circle cx="510.1" cy="124.8" r="1.00" fill="#eeeaf4"/>
<circle cx="519.1" cy="124.8" r="1.50" fill="#d8d0f6"/>
<circle cx="528.1" cy="124.8" r="1.00" fill="#d8d0f6"/>
<circle cx="537.1" cy="124.8" r="1.75" fill="#b8a8f2"/>
<circle cx="546.1" cy="124.8" r="1.00" fill="#eeeaf4"/>
<circle cx="555.0" cy="124.8" r="1.00" fill="#eeeaf4"/>
<circle cx="564.0" cy="124.8" r="2.25" fill="#f81414"/>
<circle cx="573.0" cy="124.8" r="1.50" fill="#f89078"/>
<circle cx="582.0" cy="124.8" r="1.50" fill="#f81414"/>
<circle cx="438.3" cy="139.8" r="1.25" fill="#f89078"/>
<circle cx="447.3" cy="139.8" r="2.00" fill="#8266f2"/>
<circle cx="456.3" cy="139.8" r="2.25" fill="#d8d0f6"/>
<circle cx="465.2" cy="139.8" r="2.00" fill="#b8a8f2"/>
<circle cx="474.2" cy="139.8" r="1.00" fill="#eeeaf4"/>
<circle cx="483.2" cy="139.8" r="1.50" fill="#f8c8bf"/>
<circle cx="492.2" cy="139.8" r="2.00" fill="#f8c8bf"/>
<circle cx="510.1" cy="139.8" r="1.25" fill="#d8d0f6"/>
<circle cx="519.1" cy="139.8" r="1.75" fill="#d8d0f6"/>
<circle cx="528.1" cy="139.8" r="1.50" fill="#d8d0f6"/>
<circle cx="537.1" cy="139.8" r="1.75" fill="#b8a8f2"/>
<circle cx="546.1" cy="139.8" r="1.00" fill="#eeeaf4"/>
<circle cx="555.0" cy="139.8" r="1.50" fill="#f8c8bf"/>
<circle cx="564.0" cy="139.8" r="2.25" fill="#f81414"/>
<circle cx="573.0" cy="139.8" r="1.50" fill="#f89078"/>
<circle cx="582.0" cy="139.8" r="1.50" fill="#f81414"/>
<circle cx="438.3" cy="154.8" r="1.25" fill="#1414f8"/>
<circle cx="447.3" cy="154.8" r="2.00" fill="#8266f2"/>
<circle cx="456.3" cy="154.8" r="2.00" fill="#d8d0f6"/>
<circle cx="465.2" cy="154.8" r="1.50" fill="#b8a8f2"/>
<circle cx="474.2" cy="154.8" r="1.00" fill="#f8e2de"/>
<circle cx="483.2" cy="154.8" r="2.00" fill="#f89078"/>
<circle cx="492.2" cy="154.8" r="2.00" fill="#f8c8bf"/>
<circle cx="501.2" cy="154.8" r="1.00" fill="#eeeaf4"/>
<circle cx="510.1" cy="154.8" r="1.00" fill="#f8e2de"/>
<circle cx="519.1" cy="154.8" r="1.75" fill="#b8a8f2"/>
<circle cx="528.1" cy="154.8" r="1.00" fill="#eeeaf4"/>
<circle cx="555.0" cy="154.8" r="1.25" fill="#f8c8bf"/>
<circle cx="564.0" cy="154.8" r="1.50" fill="#f81414"/>
<circle cx="573.0" cy="154.8" r="1.75" fill="#f89078"/>
<circle cx="582.0" cy="154.8" r="1.25" fill="#f8b4a2"/>
<circle cx="438.3" cy="169.7" r="1.50" fill="#1414f8"/>
<circle cx="447.3" cy="169.7" r="1.75" fill="#d8d0f6"/>
<circle cx="456.3" cy="169.7" r="2.25" fill="#d8d0f6"/>
<circle cx="465.2" cy="169.7" r="2.00" fill="#8266f2"/>
<circle cx="474.2" cy="169.7" r="1.25" fill="#d8d0f6"/>
<circle cx="483.2" cy="169.7" r="1.00" fill="#eeeaf4"/>
<circle cx="492.2" cy="169.7" r="2.25" fill="#f8b4a2"/>
<circle cx="501.2" cy="169.7" r="2.25" fill="#f8b4a2"/>
<circle cx="510.1" cy="169.7" r="1.00" fill="#eeeaf4"/>
<circle cx="519.1" cy="169.7" r="1.00" fill="#f8e2de"/>
<circle cx="528.1" cy="169.7" r="1.25" fill="#f8c8bf"/>
<circle cx="537.1" cy="169.7" r="1.25" fill="#f89078"/>
<circle cx="546.1" cy="169.7" r="1.50" fill="#f89078"/>
<circle cx="555.0" cy="169.7" r="2.00" fill="#f85c40"/>
<circle cx="564.0" cy="169.7" r="2.25" fill="#f81414"/>
<circle cx="573.0" cy="169.7" r="2.25" fill="#f81414"/>
<circle cx="582.0" cy="169.7" r="1.25" fill="#1414f8"/>
<circle cx="438.3" cy="184.7" r="1.75" fill="#1414f8"/>
<circle cx="447.3" cy="184.7" r="1.00" fill="#d8d0f6"/>
<circle cx="456.3" cy="184.7" r="3.00" fill="#b8a8f2"/>
<circle cx="465.2" cy="184.7" r="2.50" fill="#8266f2"/>
<circle cx="474.2" cy="184.7" r="1.50" fill="#b8a8f2"/>
<circle cx="483.2" cy="184.7" r="1.00" fill="#eeeaf4"/>
<circle cx="492.2" cy="184.7" r="2.25" fill="#f8c8bf"/>
<circle cx="501.2" cy="184.7" r="2.00" fill="#f8c8bf"/>
<circle cx="510.1" cy="184.7" r="1.75" fill="#f8b4a2"/>
<circle cx="519.1" cy="184.7" r="1.00" fill="#eeeaf4"/>
<circle cx="528.1" cy="184.7" r="1.00" fill="#eeeaf4"/>
<circle cx="537.1" cy="184.7" r="1.25" fill="#f8b4a2"/>
<circle cx="546.1" cy="184.7" r="1.50" fill="#f89078"/>
<circle cx="555.0" cy="184.7" r="2.25" fill="#f85c40"/>
<circle cx="564.0" cy="184.7" r="2.50" fill="#f81414"/>
<circle cx="573.0" cy="184.7" r="2.75" fill="#f81414"/>
<circle cx="582.0" cy="184.7" r="1.25" fill="#8266f2"/>
<circle cx="438.3" cy="199.7" r="2.00" fill="#1414f8"/>
<circle cx="447.3" cy="199.7" r="1.50" fill="#d8d0f6"/>
<circle cx="456.3" cy="199.7" r="2.25" fill="#b8a8f2"/>
<circle cx="465.2" cy="199.7" r="2.25" fill="#8266f2"/>
<circle cx="474.2" cy="199.7" r="1.25" fill="#d8d0f6"/>
<circle cx="483.2" cy="199.7" r="1.25" fill="#f8e2de"/>
<circle cx="492.2" cy="199.7" r="2.25" fill="#f8c8bf"/>
<circle cx="501.2" cy="199.7" r="2.00" fill="#f8b4a2"/>
<circle cx="510.1" cy="199.7" r="1.00" fill="#eeeaf4"/>
<circle cx="519.1" cy="199.7" r="1.00" fill="#eeeaf4"/>
<circle cx="537.1" cy="199.7" r="1.25" fill="#f8b4a2"/>
<circle cx="546.1" cy="199.7" r="1.25" fill="#f8b4a2"/>
<circle cx="555.0" cy="199.7" r="2.00" fill="#f89078"/>
<circle cx="564.0" cy="199.7" r="2.25" fill="#f81414"/>
<circle cx="573.0" cy="199.7" r="2.75" fill="#f81414"/>
<circle cx="582.0" cy="199.7" r="1.25" fill="#f89078"/>
<circle cx="438.3" cy="214.6" r="1.25" fill="#1414f8"/>
<circle cx="447.3" cy="214.6" r="1.50" fill="#b8a8f2"/>
<circle cx="456.3" cy="214.6" r="2.00" fill="#d8d0f6"/>
<circle cx="465.2" cy="214.6" r="2.00" fill="#8266f2"/>
<circle cx="474.2" cy="214.6" r="1.25" fill="#d8d0f6"/>
<circle cx="483.2" cy="214.6" r="1.75" fill="#f8c8bf"/>
<circle cx="492.2" cy="214.6" r="1.75" fill="#f8c8bf"/>
<circle cx="501.2" cy="214.6" r="1.50" fill="#f8c8bf"/>
<circle cx="519.1" cy="214.6" r="1.75" fill="#d8d0f6"/>
<circle cx="528.1" cy="214.6" r="1.50" fill="#d8d0f6"/>
<circle cx="537.1" cy="214.6" r="1.25" fill="#d8d0f6"/>
<circle cx="546.1" cy="214.6" r="1.00" fill="#eeeaf4"/>
<circle cx="555.0" cy="214.6" r="1.50" fill="#f8b4a2"/>
<circle cx="564.0" cy="214.6" r="2.25" fill="#f81414"/>
<circle cx="573.0" cy="214.6" r="1.75" fill="#f89078"/>
<circle cx="582.0" cy="214.6" r="1.25" fill="#f89078"/>
<circle cx="438.3" cy="229.6" r="1.00" fill="#eeeaf4"/>
<circle cx="447.3" cy="229.6" r="2.50" fill="#8266f2"/>
<circle cx="456.3" cy="229.6" r="1.75" fill="#d8d0f6"/>
<circle cx="465.2" cy="229.6" r="1.50" fill="#b8a8f2"/>
<circle cx="474.2" cy="229.6" r="1.75" fill="#f8b4a2"/>
<circle cx="483.2" cy="229.6" r="2.00" fill="#f89078"/>
<circle cx="492.2" cy="229.6" r="2.00" fill="#f8c8bf"/>
<circle cx="501.2" cy="229.6" r="1.00" fill="#eeeaf4"/>
<circle cx="510.1" cy="229.6" r="1.75" fill="#d8d0f6"/>
<circle cx="519.1" cy="229.6" r="1.50" fill="#d8d0f6"/>
<circle cx="528.1" cy="229.6" r="1.50" fill="#d8d0f6"/>
<circle cx="537.1" cy="229.6" r="1.25" fill="#b8a8f2"/>
<circle cx="546.1" cy="229.6" r="1.50" fill="#b8a8f2"/>
<circle cx="564.0" cy="229.6" r="1.50" fill="#f81414"/>
<circle cx="573.0" cy="229.6" r="1.00" fill="#f8c8bf"/>
<circle cx="582.0" cy="229.6" r="1.75" fill="#f81414"/>
<circle cx="438.3" cy="244.6" r="1.25" fill="#f89078"/>
<circle cx="447.3" cy="244.6" r="2.50" fill="#1414f8"/>
<circle cx="456.3" cy="244.6" r="2.00" fill="#d8d0f6"/>
<circle cx="465.2" cy="244.6" r="1.50" fill="#b8a8f2"/>
<circle cx="474.2" cy="244.6" r="1.75" fill="#f89078"/>
<circle cx="483.2" cy="244.6" r="2.25" fill="#f89078"/>
<circle cx="492.2" cy="244.6" r="2.75" fill="#f8b4a2"/>
<circle cx="501.2" cy="244.6" r="1.00" fill="#f8e2de"/>
<circle cx="510.1" cy="244.6" r="1.50" fill="#d8d0f6"/>
<circle cx="519.1" cy="244.6" r="1.75" fill="#b8a8f2"/>
<circle cx="528.1" cy="244.6" r="1.50" fill="#d8d0f6"/>
<circle cx="537.1" cy="244.6" r="1.50" fill="#d8d0f6"/>
<circle cx="546.1" cy="244.6" r="1.75" fill="#d8d0f6"/>
<circle cx="555.0" cy="244.6" r="1.00" fill="#eeeaf4"/>
<circle cx="564.0" cy="244.6" r="1.25" fill="#f85c40"/>
<circle cx="573.0" cy="244.6" r="1.00" fill="#f8e2de"/>
<circle cx="582.0" cy="244.6" r="1.25" fill="#f81414"/>
<circle cx="438.3" cy="259.6" r="1.50" fill="#f81414"/>
<circle cx="447.3" cy="259.6" r="3.50" fill="#1414f8"/>
<circle cx="456.3" cy="259.6" r="1.50" fill="#d8d0f6"/>
<circle cx="465.2" cy="259.6" r="1.50" fill="#b8a8f2"/>
<circle cx="474.2" cy="259.6" r="2.25" fill="#f81414"/>
<circle cx="483.2" cy="259.6" r="3.50" fill="#f81414"/>
<circle cx="492.2" cy="259.6" r="1.00" fill="#f8e2de"/>
<circle cx="501.2" cy="259.6" r="1.75" fill="#f8c8bf"/>
<circle cx="510.1" cy="259.6" r="1.50" fill="#d8d0f6"/>
<circle cx="519.1" cy="259.6" r="3.00" fill="#8266f2"/>
<circle cx="528.1" cy="259.6" r="2.25" fill="#b8a8f2"/>
<circle cx="537.1" cy="259.6" r="1.50" fill="#b8a8f2"/>
<circle cx="546.1" cy="259.6" r="2.00" fill="#b8a8f2"/>
<circle cx="555.0" cy="259.6" r="1.75" fill="#8266f2"/>
<circle cx="564.0" cy="259.6" r="1.25" fill="#f89078"/>
<circle cx="573.0" cy="259.6" r="1.25" fill="#d8d0f6"/>
<circle cx="582.0" cy="259.6" r="2.00" fill="#f81414"/>
<rect x="433.6" y="26.6" width="153.6" height="241.2" fill="none" stroke="#444" stroke-width="1"/>
<line x1="438.3" y1="267.8" x2="438.3" y2="270.4" stroke="#333" stroke-width="0.8"/>
<text transform="translate(440.9,272.0) rotate(-90)" font-size="9.4" text-anchor="end" fill="#1a1a1a">P-0</text>
<line x1="447.3" y1="267.8" x2="447.3" y2="270.4" stroke="#333" stroke-width="0.8"/>
<text transform="translate(449.9,272.0) rotate(-90)" font-size="9.4" text-anchor="end" fill="#1a1a1a">P-1</text>
<line x1="456.3" y1="267.8" x2="456.3" y2="270.4" stroke="#333" stroke-width="0.8"/>
<text transform="translate(458.9,272.0) rotate(-90)" font-size="9.4" text-anchor="end" fill="#1a1a1a">P-2</text>
<line x1="465.2" y1="267.8" x2="465.2" y2="270.4" stroke="#333" stroke-width="0.8"/>
<text transform="translate(467.8,272.0) rotate(-90)" font-size="9.4" text-anchor="end" fill="#1a1a1a">P-3</text>
<line x1="474.2" y1="267.8" x2="474.2" y2="270.4" stroke="#333" stroke-width="0.8"/>
<text transform="translate(476.8,272.0) rotate(-90)" font-size="9.4" text-anchor="end" fill="#1a1a1a">P-4</text>
<line x1="483.2" y1="267.8" x2="483.2" y2="270.4" stroke="#333" stroke-width="0.8"/>
<text transform="translate(485.8,272.0) rotate(-90)" font-size="9.4" text-anchor="end" fill="#1a1a1a">P-5</text>
<line x1="492.2" y1="267.8" x2="492.2" y2="270.4" stroke="#333" stroke-width="0.8"/>
<text transform="translate(494.8,272.0) rotate(-90)" font-size="9.4" text-anchor="end" fill="#1a1a1a">P-6</text>
<line x1="501.2" y1="267.8" x2="501.2" y2="270.4" stroke="#333" stroke-width="0.8"/>
<text transform="translate(503.8,272.0) rotate(-90)" font-size="9.4" text-anchor="end" fill="#1a1a1a">P-7</text>
<line x1="510.1" y1="267.8" x2="510.1" y2="270.4" stroke="#333" stroke-width="0.8"/>
<text transform="translate(512.7,272.0) rotate(-90)" font-size="9.4" text-anchor="end" fill="#1a1a1a">P-8</text>
<line x1="519.1" y1="267.8" x2="519.1" y2="270.4" stroke="#333" stroke-width="0.8"/>
<text transform="translate(521.7,272.0) rotate(-90)" font-size="9.4" text-anchor="end" fill="#1a1a1a">P-9</text>
<line x1="528.1" y1="267.8" x2="528.1" y2="270.4" stroke="#333" stroke-width="0.8"/>
<text transform="translate(530.7,272.0) rotate(-90)" font-size="9.4" text-anchor="end" fill="#1a1a1a">P-10</text>
<line x1="537.1" y1="267.8" x2="537.1" y2="270.4" stroke="#333" stroke-width="0.8"/>
<text transform="translate(539.7,272.0) rotate(-90)" font-size="9.4" text-anchor="end" fill="#1a1a1a">P-11</text>
<line x1="546.1" y1="267.8" x2="546.1" y2="270.4" stroke="#333" stroke-width="0.8"/>
<text transform="translate(548.7,272.0) rotate(-90)" font-size="9.4" text-anchor="end" fill="#1a1a1a">P-12</text>
<line x1="555.0" y1="267.8" x2="555.0" y2="270.4" stroke="#333" stroke-width="0.8"/>
<text transform="translate(557.6,272.0) rotate(-90)" font-size="9.4" text-anchor="end" fill="#1a1a1a">P-13</text>
<line x1="564.0" y1="267.8" x2="564.0" y2="270.4" stroke="#333" stroke-width="0.8"/>
<text transform="translate(566.6,272.0) rotate(-90)" font-size="9.4" text-anchor="end" fill="#1a1a1a">P-14</text>
<line x1="573.0" y1="267.8" x2="573.0" y2="270.4" stroke="#333" stroke-width="0.8"/>
<text transform="translate(575.6,272.0) rotate(-90)" font-size="9.4" text-anchor="end" fill="#1a1a1a">P-15</text>
<line x1="582.0" y1="267.8" x2="582.0" y2="270.4" stroke="#333" stroke-width="0.8"/>
<text transform="translate(584.6,272.0) rotate(-90)" font-size="9.4" text-anchor="end" fill="#1a1a1a">P-16</text>
<text x="512.2" y="301.4" font-size="9.15" text-anchor="middle" fill="#1a1a1a">Gene program</text>
<text x="598.8" y="127.7" font-size="8.9" fill="#1a1a1a">-log10(B-H FDR)</text>
<circle cx="605.4" cy="137.8" r="0.8" fill="#000"/>
<text x="614.8" y="141.0" font-size="8.9" fill="#1a1a1a">0</text>
<circle cx="605.4" cy="149.3" r="3.0" fill="#000"/>
<text x="614.8" y="152.5" font-size="8.9" fill="#1a1a1a">5</text>
<circle cx="605.4" cy="160.4" r="3.6" fill="#000"/>
<text x="614.8" y="163.6" font-size="8.9" fill="#1a1a1a">10</text>
<circle cx="605.4" cy="171" r="4.3" fill="#000"/>
<text x="614.8" y="174.2" font-size="8.9" fill="#1a1a1a">15</text>
<text x="597" y="188.8" font-size="8.9" fill="#1a1a1a">Avg. program score</text>
<text x="597" y="199.4" font-size="8.9" fill="#1a1a1a">(minus control)</text>
<rect x="600" y="209" width="11.5" height="55.3" fill="url(#cbB)"/>
<text x="617.6" y="211.6" font-size="8.9" fill="#1a1a1a">0.2</text>
<line x1="600" y1="208.4" x2="602" y2="208.4" stroke="#fff" stroke-width="0.8"/><line x1="609.5" y1="208.4" x2="611.5" y2="208.4" stroke="#fff" stroke-width="0.8"/>
<text x="617.6" y="225.2" font-size="8.9" fill="#1a1a1a">0.1</text>
<line x1="600" y1="222.0" x2="602" y2="222.0" stroke="#fff" stroke-width="0.8"/><line x1="609.5" y1="222.0" x2="611.5" y2="222.0" stroke="#fff" stroke-width="0.8"/>
<text x="617.6" y="238.89999999999998" font-size="8.9" fill="#1a1a1a">0.0</text>
<line x1="600" y1="235.7" x2="602" y2="235.7" stroke="#fff" stroke-width="0.8"/><line x1="609.5" y1="235.7" x2="611.5" y2="235.7" stroke="#fff" stroke-width="0.8"/>
<text x="615.4" y="252.79999999999998" font-size="8.9" fill="#1a1a1a">-0.1</text>
<line x1="600" y1="249.6" x2="602" y2="249.6" stroke="#fff" stroke-width="0.8"/><line x1="609.5" y1="249.6" x2="611.5" y2="249.6" stroke="#fff" stroke-width="0.8"/>
<text x="615.4" y="266.2" font-size="8.9" fill="#1a1a1a">-0.2</text>
<line x1="600" y1="263.0" x2="602" y2="263.0" stroke="#fff" stroke-width="0.8"/><line x1="609.5" y1="263.0" x2="611.5" y2="263.0" stroke="#fff" stroke-width="0.8"/>
<text x="10.2" y="327.4" font-size="14.5" fill="#111">C</text>
<text x="12.9" y="342" font-size="8.6" fill="#e8202a">Menin-KAT6A-DOT1L hub</text>
<ellipse cx="64" cy="370.7" rx="41.3" ry="24.4" fill="#fde7e7"/>
<ellipse cx="60.3" cy="356.4" rx="15.2" ry="7.4" fill="#f0a3ab"/>
<text x="60.3" y="359.0" font-size="7.2" text-anchor="middle" fill="#222">DOT1L</text>
<ellipse cx="43" cy="375.5" rx="14.9" ry="6.9" fill="#f0a3ab"/>
<text x="43" y="378.1" font-size="7.2" text-anchor="middle" fill="#222">KAT6A</text>
<ellipse cx="85.9" cy="373.3" rx="15.1" ry="7.6" fill="#f0a3ab"/>
<text x="85.9" y="375.90000000000003" font-size="7.2" text-anchor="middle" fill="#222">MEN1</text>
<text x="43.6" y="430.4" font-size="8.6" fill="#9b4fa8">PCGF1 hub</text>
<ellipse cx="68" cy="451.2" rx="36.7" ry="19.9" fill="#f0eaf4"/>
<line x1="62" y1="447.8" x2="73" y2="447" stroke="#555" stroke-width="1"/>
<ellipse cx="48.4" cy="448.4" rx="14.2" ry="7.6" fill="#c9a2d2"/>
<text x="48.4" y="451.0" font-size="7.2" text-anchor="middle" fill="#222">BCOR</text>
<ellipse cx="88" cy="446.3" rx="15.4" ry="7.8" fill="#c9a2d2"/>
<text x="88" y="448.90000000000003" font-size="7.2" text-anchor="middle" fill="#222">PCGF1</text>
<line x1="104.5" y1="372.1" x2="177.3" y2="338.1" stroke="#4450b0" stroke-width="1.1"/><polygon points="184.5,334.7 178.6,341.0 179.1,337.2 175.9,335.2" fill="#4450b0"/>
<line x1="104.5" y1="372.1" x2="179.8" y2="381.3" stroke="#f05a30" stroke-width="1.1"/><line x1="179.5" y1="384.1" x2="180.1" y2="378.5" stroke="#f05a30" stroke-width="1.1"/>
<line x1="104.5" y1="372.1" x2="180.8" y2="411" stroke="#f05a30" stroke-width="1.1"/><line x1="179.5" y1="413.5" x2="182.1" y2="408.5" stroke="#f05a30" stroke-width="1.1"/>
<line x1="104.5" y1="372.1" x2="180.8" y2="437.6" stroke="#f05a30" stroke-width="1.1"/><line x1="179.0" y1="439.7" x2="182.6" y2="435.5" stroke="#f05a30" stroke-width="1.1"/>
<line x1="107.8" y1="449.9" x2="176.7" y2="391.0" stroke="#4450b0" stroke-width="1.1"/><polygon points="182.8,385.8 178.8,393.4 178.2,389.7 174.6,388.6" fill="#4450b0"/>
<line x1="107.8" y1="449.9" x2="175.8" y2="443.1" stroke="#4450b0" stroke-width="1.1"/><polygon points="183.8,442.3 176.2,446.3 177.8,442.9 175.5,439.9" fill="#4450b0"/>
<line x1="107.8" y1="449.9" x2="177.0" y2="462.4" stroke="#4450b0" stroke-width="1.1"/><polygon points="184.9,463.8 176.5,465.5 179.0,462.7 177.6,459.2" fill="#4450b0"/>
<text x="209.4" y="335.8" font-size="9.88" text-anchor="end" fill="#1a1a1a">P-0</text>
<text x="209.4" y="387" font-size="9.88" text-anchor="end" fill="#1a1a1a">P-11</text>
<text x="209.4" y="418.1" font-size="9.88" text-anchor="end" fill="#1a1a1a">P-13</text>
<text x="209.4" y="443.6" font-size="9.88" text-anchor="end" fill="#1a1a1a">P-15</text>
<text x="209.4" y="468.6" font-size="9.88" text-anchor="end" fill="#1a1a1a">P-1</text>
<text x="214.2" y="335.8" font-size="9.88" fill="#1a1a1a">Heme stem cell differentiation</text>
<text x="214.2" y="358.1" font-size="9.88" fill="#1a1a1a">Myeloid cell apoptotic process</text>
<text x="214.2" y="387" font-size="9.88" fill="#1a1a1a">Wnt signalling pathway</text>
<text x="214.2" y="418.1" font-size="9.88" fill="#1a1a1a">RNA-splicing</text>
<text x="214.2" y="443.6" font-size="9.88" fill="#1a1a1a">Myeloid cell differentiation,</text>
<text x="214.2" y="468.6" font-size="9.88" fill="#1a1a1a">Myeloid leukocyte activation</text>
<text x="214.4" y="345" font-size="7.3" fill="#1a1a1a">(10.6 Fold, adjusted P &lt;0.02)</text>
<text x="214.4" y="367.3" font-size="7.3" fill="#1a1a1a">(9.7 Fold, FDR=0.003)</text>
<text x="214.4" y="396.2" font-size="7.3" fill="#1a1a1a">(9.9 Fold, FDR=0.02)</text>
<text x="214.4" y="426.5" font-size="7.3" fill="#1a1a1a">(4.45 Fold, FDR=0.023)</text>
<text x="214.4" y="454.1" font-size="7.3" fill="#1a1a1a">(2.7 Fold, FDR = 0.015)</text>
<text x="214.4" y="476.4" font-size="7.3" fill="#1a1a1a">(9.7 Fold, FDR=0.031)</text>
<text x="388.7" y="327.2" font-size="14" fill="#111">D</text>
<polygon points="507.4,477.5 548.8,477.5 548.8,491.3 478.2,564.2 433.9,564.2 507.4,491.3" fill="#e6dbec"/>
<rect x="455.5" y="323" width="187.9" height="153" fill="none" stroke="#999" stroke-width="1"/>
<line x1="455.5" y1="375.3" x2="643.4" y2="375.3" stroke="#999" stroke-width="0.8" stroke-dasharray="3,2"/>
<rect x="466.4" y="375.3" width="27.4" height="5.6" fill="#c9c9c9" stroke="#777" stroke-width="0.8"/>
<rect x="511.3" y="343.1" width="27.6" height="32.2" fill="#4a82b8" stroke="#333" stroke-width="0.8"/>
<rect x="557.6" y="375.3" width="27" height="78" fill="#c9c9c9" stroke="#666" stroke-width="0.8"/>
<rect x="607.4" y="375.3" width="26.2" height="60.5" fill="#c9c9c9" stroke="#666" stroke-width="0.8"/>
<text x="447.8" y="342.7" font-size="9" text-anchor="middle" fill="#1a1a1a">1</text>
<text x="447.8" y="376.0" font-size="9" text-anchor="middle" fill="#1a1a1a">0</text>
<text x="447.8" y="409.3" font-size="9" text-anchor="middle" fill="#1a1a1a">1</text>
<text x="447.8" y="442.1" font-size="9" text-anchor="middle" fill="#1a1a1a">2</text>
<text x="447.8" y="475.2" font-size="9" text-anchor="middle" fill="#1a1a1a">3</text>
<text x="478.6" y="393.3" font-size="9.6" text-anchor="middle" fill="#1a1a1a">−0.16</text>
<text x="527.7" y="338.9" font-size="9.4" text-anchor="middle" fill="#1a1a1a">0.97</text>
<text x="572.9" y="464" font-size="9.8" text-anchor="middle" fill="#1a1a1a">− 2.32</text>
<text x="624.2" y="444.7" font-size="9.6" text-anchor="middle" fill="#1a1a1a">−1.79</text>
<polygon points="525.60,324.70 526.27,326.48 528.17,326.57 526.68,327.75 527.19,329.58 525.60,328.53 524.01,329.58 524.52,327.75 523.03,326.57 524.93,326.48" fill="#111"/>
<polygon points="571.70,464.50 572.37,466.28 574.27,466.37 572.78,467.55 573.29,469.38 571.70,468.33 570.11,469.38 570.62,467.55 569.13,466.37 571.03,466.28" fill="#111"/>
<polygon points="621.20,446.90 621.87,448.68 623.77,448.77 622.28,449.95 622.79,451.78 621.20,450.73 619.61,451.78 620.12,449.95 618.63,448.77 620.53,448.68" fill="#111"/>
<text x="610.3" y="343" font-size="12.2" fill="#1a1a1a">P15</text>
<text transform="translate(434.6,395.2) rotate(-90)" font-size="9.9" text-anchor="middle" fill="#1a1a1a">Log<tspan font-size="6.5" dy="2">2</tspan><tspan dy="-2">Fold Enrichment</tspan></text>
<text x="482.2" y="486.6" font-size="9.8" text-anchor="middle" fill="#1a1a1a">Cluster-1</text>
<text x="527.9" y="486.6" font-size="9.8" text-anchor="middle" fill="#1a1a1a">Cluster-2</text>
<text x="572.6" y="486.6" font-size="9.8" text-anchor="middle" fill="#1a1a1a">Cluster-3</text>
<text x="621.8" y="486.6" font-size="9.8" text-anchor="middle" fill="#1a1a1a">Cluster-4</text>
<text transform="translate(483.6,496.8) rotate(-44.5)" font-size="10.2" text-anchor="end" fill="#1a1a1a">VTP-Upregulated</text>
<text transform="translate(489.9,529.3) rotate(-44.5)" font-size="10.2" text-anchor="middle" fill="#1a1a1a">PCGF1-Dependent,</text>
<text transform="translate(497.3,537.9) rotate(-44.5)" font-size="10.2" text-anchor="middle" fill="#1a1a1a">VTP-Upregulated</text>
<text transform="translate(574.4,496.9) rotate(-44.5)" font-size="10.2" text-anchor="end" fill="#1a1a1a">VTP-Downregulated</text>
<text transform="translate(588.8,528.7) rotate(-44.5)" font-size="10.2" text-anchor="middle" fill="#1a1a1a">PCGF1-Dependent,</text>
<text transform="translate(597.2,537.8) rotate(-44.5)" font-size="10.2" text-anchor="middle" fill="#1a1a1a">VTP-Downregulated</text>
<text x="10.5" y="501.7" font-size="14" fill="#111">E</text>
<defs><filter id="rough" x="-5%" y="-5%" width="110%" height="110%"><feTurbulence type="fractalNoise" baseFrequency="0.8" numOctaves="2" seed="4" result="n"/><feDisplacementMap in="SourceGraphic" in2="n" scale="3.2" xChannelSelector="R" yChannelSelector="G"/></filter><filter id="rough2" x="-5%" y="-5%" width="110%" height="110%"><feTurbulence type="fractalNoise" baseFrequency="0.8" numOctaves="2" seed="4" result="n"/><feDisplacementMap in="SourceGraphic" in2="n" scale="3.2" xChannelSelector="R" yChannelSelector="G" result="d"/><feTurbulence type="fractalNoise" baseFrequency="1.6" numOctaves="1" seed="12" result="t"/><feColorMatrix in="t" type="matrix" values="0 0 0 0 1  0 0 0 0 1  0 0 0 0 1  4 0 0 0 -2.15" result="w"/><feComposite in="w" in2="d" operator="in" result="ws"/><feMerge><feMergeNode in="d"/><feMergeNode in="ws"/></feMerge></filter></defs>
<g filter="url(#rough)">
<path d="M121.0,575.0 C125.7,572.3 144.7,571.7 150.0,572.0 C155.3,572.3 151.3,574.8 153.0,577.0 C154.7,579.2 156.3,582.5 160.0,585.0 C163.7,587.5 171.9,589.8 175.0,592.0 C178.1,594.2 178.1,595.8 178.5,598.0 C178.9,600.2 176.6,602.8 177.5,605.0 C178.4,607.2 182.4,609.0 184.0,611.0 C185.6,613.0 187.0,614.8 187.0,617.0 C187.0,619.2 184.8,621.8 184.0,624.0 C183.2,626.2 182.4,627.3 182.0,630.0 C181.6,632.7 181.8,636.7 181.5,640.0 C181.2,643.3 180.2,647.3 180.5,650.0 C180.8,652.7 186.4,654.3 183.0,656.0 C179.6,657.7 165.5,660.2 160.0,660.0 C154.5,659.8 152.0,657.8 150.0,655.0 C148.0,652.2 149.7,645.8 148.0,643.0 C146.3,640.2 143.2,638.4 140.0,638.0 C136.8,637.6 130.5,641.2 129.0,640.5 C127.5,639.8 129.5,636.1 131.0,634.0 C132.5,631.9 136.3,630.3 138.0,628.0 C139.7,625.7 141.3,622.0 141.0,620.0 C140.7,618.0 138.2,616.8 136.0,616.0 C133.8,615.2 129.7,615.9 128.0,615.5 C126.3,615.1 125.2,614.2 126.0,613.5 C126.8,612.8 131.0,612.4 133.0,611.0 C135.0,609.6 137.1,607.7 138.0,605.0 C138.9,602.3 138.8,597.7 138.5,595.0 C138.2,592.3 138.8,590.2 136.0,589.0 C133.2,587.8 124.5,590.3 122.0,588.0 C119.5,585.7 116.3,577.7 121.0,575.0Z" fill="#8fae48" stroke="#8fae48" stroke-width="1.2" stroke-linejoin="round"/>
<path d="M105.6,530.0 C105.3,529.5 107.1,528.4 108.2,527.5 C109.3,526.6 111.0,525.4 112.3,524.4 C113.6,523.4 114.9,522.5 116.3,521.3 C117.7,520.1 119.0,518.4 120.4,517.3 C121.8,516.2 123.0,515.5 124.5,514.7 C126.0,513.9 128.1,512.9 129.6,512.4 C131.1,511.9 132.4,511.9 133.7,511.9 C135.0,511.9 136.3,512.0 137.5,512.3 C138.7,512.6 140.6,512.5 141.0,513.5 C141.4,514.5 140.7,516.7 140.0,518.0 C139.3,519.3 138.2,520.3 137.0,521.5 C135.8,522.7 134.5,523.5 133.0,525.0 C131.5,526.5 129.2,529.3 128.0,530.5 C126.8,531.7 127.3,532.2 126.0,532.3 C124.7,532.4 122.2,531.6 120.4,531.3 C118.6,531.0 117.0,530.8 115.3,530.7 C113.6,530.6 111.8,530.6 110.2,530.5 C108.6,530.4 105.9,530.5 105.6,530.0Z" fill="#2db88a" stroke="#2db88a" stroke-width="1.2" stroke-linejoin="round"/>
<path d="M139.5,513.2 C140.2,512.9 141.6,513.9 143.0,515.0 C144.4,516.1 146.3,518.4 147.8,519.6 C149.3,520.8 150.7,521.1 152.0,522.0 C153.3,522.9 154.7,523.7 155.9,524.7 C157.1,525.7 158.0,526.7 159.0,528.0 C160.0,529.3 160.9,530.8 161.7,532.7 C162.5,534.6 163.4,537.3 163.9,539.3 C164.4,541.3 164.4,543.2 164.4,544.9 C164.4,546.6 165.0,549.0 163.9,549.5 C162.8,550.0 160.0,548.8 158.0,548.0 C156.0,547.2 153.8,546.1 152.0,545.0 C150.2,543.9 148.5,542.8 147.0,541.5 C145.5,540.2 144.1,538.4 143.0,537.5 C141.9,536.6 141.8,536.7 140.5,536.2 C139.2,535.7 137.1,535.0 135.0,534.5 C132.9,534.0 129.8,533.4 128.0,533.0 C126.2,532.6 124.5,532.9 124.5,532.3 C124.5,531.7 126.6,530.7 128.0,529.5 C129.4,528.3 131.5,526.3 133.0,525.0 C134.5,523.7 136.0,522.8 137.0,521.5 C138.0,520.2 138.6,518.4 139.0,517.0 C139.4,515.6 138.8,513.5 139.5,513.2Z" fill="#9ea43c" stroke="#9ea43c" stroke-width="1.2" stroke-linejoin="round"/>
<path d="M142.6,535.5 C143.2,535.7 145.4,539.5 147.0,541.0 C148.6,542.5 150.2,543.4 152.0,544.5 C153.8,545.6 156.0,546.8 158.0,547.5 C160.0,548.2 163.1,548.3 163.9,548.9 C164.7,549.5 163.2,549.9 162.9,551.1 C162.6,552.3 162.2,554.5 161.9,556.2 C161.6,557.9 161.4,559.8 160.9,561.3 C160.4,562.8 159.5,564.2 158.8,565.4 C158.1,566.6 157.7,567.3 156.8,568.5 C156.0,569.7 154.4,571.2 153.7,572.6 C153.0,574.0 154.1,576.1 152.7,576.7 C151.2,577.3 146.4,576.6 145.0,576.0 C143.6,575.4 144.4,574.2 144.5,573.1 C144.6,572.0 145.4,570.8 145.5,569.5 C145.6,568.2 145.5,566.7 145.0,565.4 C144.5,564.1 143.9,562.9 142.5,561.9 C141.1,560.9 138.4,559.9 136.3,559.3 C134.2,558.7 132.0,558.6 130.2,558.3 C128.4,558.0 125.4,557.9 125.4,557.4 C125.4,556.9 128.5,555.8 130.2,555.2 C131.8,554.6 133.6,554.1 135.3,553.7 C137.0,553.3 139.0,553.1 140.4,552.7 C141.8,552.3 143.3,552.1 144.0,551.1 C144.7,550.1 144.6,548.9 144.5,547.0 C144.4,545.1 143.8,541.9 143.5,540.0 C143.2,538.1 142.0,535.3 142.6,535.5Z" fill="#2ab0e2" stroke="#2ab0e2" stroke-width="1.2" stroke-linejoin="round"/>
<path d="M161.9,557.3 C163.2,557.2 166.1,559.3 168.0,560.3 C169.9,561.3 172.2,562.4 173.1,563.4 C174.0,564.4 174.1,565.7 173.6,566.5 C173.1,567.3 171.5,567.8 170.1,568.0 C168.7,568.2 166.5,567.8 165.0,568.0 C163.5,568.2 161.9,569.8 160.9,569.5 C159.9,569.2 158.9,567.9 158.8,566.5 C158.7,565.1 160.0,562.5 160.5,561.0 C161.0,559.5 160.7,557.4 161.9,557.3Z" fill="#3cb44b" stroke="#3cb44b" stroke-width="1.2" stroke-linejoin="round"/>
<path d="M120.5,574.6 C121.3,573.5 122.6,574.0 125.1,573.6 C127.6,573.2 131.9,572.4 135.3,572.1 C138.7,571.9 142.8,571.8 145.5,572.1 C148.2,572.4 150.5,573.2 151.7,574.1 C152.9,575.0 152.7,576.2 152.7,577.7 C152.7,579.2 152.9,581.4 151.7,582.8 C150.5,584.2 148.2,585.0 145.5,585.9 C142.8,586.8 138.7,587.6 135.3,587.9 C131.9,588.2 127.5,588.2 125.1,587.9 C122.7,587.6 121.8,587.2 121.0,585.9 C120.2,584.6 120.1,581.9 120.0,580.0 C119.9,578.1 119.7,575.7 120.5,574.6Z" fill="#3aaf5c" stroke="#3aaf5c" stroke-width="1.2" stroke-linejoin="round"/>
<path d="M138.4,585.9 C139.6,584.2 143.4,585.1 145.5,585.0 C147.6,584.9 149.9,584.2 150.7,585.5 C151.4,586.8 150.2,590.8 150.0,593.0 C149.8,595.2 150.2,596.9 149.7,598.7 C149.2,600.5 148.4,602.5 147.2,603.7 C146.0,605.0 143.5,606.4 142.3,606.2 C141.1,606.0 140.4,604.3 139.8,602.4 C139.2,600.5 138.7,597.8 138.5,595.0 C138.3,592.2 137.2,587.6 138.4,585.9Z" fill="#27b5c4" stroke="#27b5c4" stroke-width="1.2" stroke-linejoin="round"/>
<path d="M151.7,582.8 C153.4,582.8 158.2,584.9 160.9,585.9 C163.6,586.9 165.6,588.0 168.0,589.0 C170.4,590.0 173.5,591.0 175.2,592.0 C176.9,593.0 177.7,593.8 178.2,595.1 C178.7,596.4 178.3,598.8 178.2,600.0 C178.1,601.2 178.2,601.2 177.6,602.4 C177.0,603.6 176.1,606.1 174.5,607.4 C172.9,608.6 170.4,609.7 168.3,609.9 C166.2,610.1 164.0,608.6 162.1,608.6 C160.2,608.6 158.5,610.3 157.1,609.9 C155.7,609.5 154.4,607.9 153.4,606.2 C152.4,604.6 151.5,602.2 150.9,600.0 C150.3,597.8 150.0,595.3 150.0,593.0 C150.0,590.7 150.4,587.7 150.7,586.0 C151.0,584.3 150.0,582.8 151.7,582.8Z" fill="#b49a2c" stroke="#b49a2c" stroke-width="1.2" stroke-linejoin="round"/>
<path d="M113.0,614.5 C114.2,612.2 118.5,613.9 121.0,613.5 C123.5,613.1 125.8,612.8 128.0,612.0 C130.2,611.2 132.0,610.0 134.0,609.0 C136.0,608.0 137.8,606.7 140.0,606.0 C142.2,605.3 144.8,604.9 147.0,604.9 C149.2,604.9 151.7,605.4 153.4,606.2 C155.1,607.0 157.1,608.9 157.1,609.9 C157.1,610.9 155.1,611.8 153.4,612.4 C151.8,613.0 148.8,613.0 147.2,613.6 C145.5,614.2 144.5,615.1 143.5,616.1 C142.5,617.1 141.6,619.0 141.0,619.8 C140.4,620.6 140.6,621.4 139.8,621.1 C139.0,620.8 137.6,618.6 136.0,618.0 C134.4,617.4 132.0,617.2 130.0,617.5 C128.0,617.8 126.0,618.9 124.0,620.0 C122.0,621.1 119.8,622.8 118.0,624.0 C116.2,625.2 114.3,628.6 113.5,627.0 C112.7,625.4 111.8,616.8 113.0,614.5Z" fill="#4cb84a" stroke="#4cb84a" stroke-width="1.2" stroke-linejoin="round"/>
<path d="M168.3,609.9 C170.0,609.1 172.6,607.8 174.5,607.4 C176.4,607.0 177.8,606.6 179.5,607.4 C181.2,608.2 183.2,610.8 184.4,612.4 C185.6,614.0 186.9,615.4 186.9,617.3 C186.9,619.1 185.2,621.4 184.4,623.5 C183.6,625.6 182.8,628.2 182.0,629.7 C181.2,631.2 180.8,631.8 179.5,632.2 C178.2,632.6 176.4,632.4 174.5,632.2 C172.6,632.0 170.4,631.6 168.3,631.0 C166.2,630.4 163.6,629.8 162.1,628.5 C160.6,627.2 159.6,625.4 159.6,623.5 C159.6,621.6 161.3,619.1 162.1,617.3 C162.9,615.4 163.6,613.6 164.6,612.4 C165.6,611.2 166.7,610.7 168.3,609.9Z" fill="#2fb9a2" stroke="#2fb9a2" stroke-width="1.2" stroke-linejoin="round"/>
<path d="M157.0,612.5 C158.2,611.2 161.4,612.8 163.0,614.0 C164.6,615.2 166.0,617.7 166.5,620.0 C167.0,622.3 166.6,625.8 166.0,628.0 C165.4,630.2 164.3,632.0 163.0,633.0 C161.7,634.0 159.5,634.5 158.0,634.0 C156.5,633.5 154.3,632.0 154.0,630.0 C153.7,628.0 155.5,624.9 156.0,622.0 C156.5,619.1 155.8,613.8 157.0,612.5Z" fill="#dfeae6" stroke="#dfeae6" stroke-width="1.2" stroke-linejoin="round"/>
<path d="M141.9,638.1 C141.2,636.6 142.3,634.9 144.1,633.8 C145.9,632.7 150.0,631.8 152.9,631.6 C155.8,631.4 159.1,632.0 161.6,632.7 C164.1,633.4 167.1,633.6 168.2,636.0 C169.3,638.4 168.6,644.0 168.2,646.9 C167.8,649.8 167.1,651.7 166.0,653.5 C164.9,655.3 163.2,656.6 161.6,657.9 C159.9,659.2 157.5,660.8 156.1,661.1 C154.7,661.5 153.8,661.1 152.9,660.0 C152.0,658.9 151.0,656.4 150.7,654.6 C150.4,652.8 151.6,651.1 151.2,649.1 C150.8,647.1 150.1,644.3 148.5,642.5 C146.9,640.7 142.6,639.6 141.9,638.1Z" fill="#c99e30" stroke="#c99e30" stroke-width="1.2" stroke-linejoin="round"/>
<path d="M142.3,612.4 C143.7,611.4 148.4,609.9 150.9,609.9 C153.4,609.9 155.7,611.2 157.1,612.4 C158.5,613.6 159.2,615.4 159.6,617.3 C160.0,619.1 160.4,621.8 159.6,623.5 C158.8,625.2 156.1,626.0 154.7,627.3 C153.2,628.5 152.6,629.8 150.9,631.0 C149.2,632.2 146.8,633.7 144.7,634.7 C142.6,635.7 140.6,636.4 138.5,637.2 C136.4,638.0 134.2,639.0 132.3,639.7 C130.4,640.4 127.9,642.4 127.1,641.4 C126.3,640.4 126.4,635.3 127.7,633.8 C129.0,632.3 133.0,633.3 134.8,632.2 C136.6,631.1 137.5,629.1 138.5,627.3 C139.5,625.4 140.4,623.0 141.0,621.1 C141.6,619.2 142.1,617.6 142.3,616.1 C142.5,614.6 140.9,613.4 142.3,612.4Z" fill="#a47fc4" stroke="#a47fc4" stroke-width="1.2" stroke-linejoin="round"/>
<path d="M167.1,634.9 C168.2,632.5 170.6,633.4 172.6,632.7 C174.6,632.0 177.5,631.0 179.1,630.5 C180.7,630.0 181.8,628.6 182.2,629.5 C182.6,630.4 181.7,633.5 181.3,636.0 C180.9,638.5 179.9,642.2 179.7,644.7 C179.5,647.2 179.8,649.5 180.2,651.3 C180.6,653.1 183.3,654.8 182.4,655.7 C181.5,656.6 177.4,656.8 174.8,656.8 C172.2,656.8 168.6,657.4 167.1,655.7 C165.6,654.1 166.0,650.4 166.0,646.9 C166.0,643.4 166.0,637.3 167.1,634.9Z" fill="#ea5f9f" stroke="#ea5f9f" stroke-width="1.2" stroke-linejoin="round"/>
<path d="M156.1,661.1 C157.9,659.8 161.1,658.6 163.8,657.9 C166.6,657.2 169.5,657.2 172.6,656.8 C175.7,656.4 180.4,655.2 182.4,655.7 C184.4,656.2 184.3,658.2 184.6,660.0 C184.9,661.8 184.6,664.8 184.1,666.6 C183.6,668.4 182.9,670.0 181.3,671.0 C179.8,672.0 177.4,672.2 174.8,672.6 C172.2,673.0 168.8,673.3 166.0,673.2 C163.2,673.1 160.5,672.5 158.3,672.1 C156.1,671.7 154.7,671.0 152.9,671.0 C151.1,671.0 149.2,671.4 147.4,672.1 C145.6,672.8 143.9,674.3 141.9,675.4 C139.9,676.5 137.2,678.1 135.3,678.7 C133.4,679.3 131.0,679.6 130.4,679.2 C129.8,678.8 131.0,677.5 132.0,676.5 C133.0,675.5 134.8,674.1 136.4,673.2 C138.1,672.3 139.9,671.7 141.9,671.0 C143.9,670.3 146.7,669.7 148.5,668.8 C150.3,667.9 151.6,666.8 152.9,665.5 C154.2,664.2 154.3,662.4 156.1,661.1Z" fill="#48a2dc" stroke="#48a2dc" stroke-width="1.2" stroke-linejoin="round"/>
<path d="M19.3,573.4 C19.8,572.1 21.5,571.7 23.4,571.1 C25.2,570.5 27.9,570.1 30.4,569.9 C32.9,569.7 36.1,569.6 38.6,569.9 C41.1,570.2 43.9,570.8 45.6,571.7 C47.4,572.6 48.3,574.0 49.1,575.2 C49.9,576.4 50.6,577.5 50.2,578.7 C49.8,579.9 48.5,581.2 46.7,582.2 C45.0,583.2 41.8,583.9 39.7,584.5 C37.6,585.1 35.5,585.3 33.9,585.7 C32.3,586.1 31.2,586.1 30.4,586.9 C29.6,587.7 29.6,589.0 29.2,590.4 C28.8,591.8 28.5,595.2 28.0,595.0 C27.5,594.8 27.1,591.0 26.3,589.2 C25.5,587.5 24.4,586.2 23.4,584.5 C22.4,582.8 21.1,580.6 20.4,578.7 C19.7,576.9 18.8,574.7 19.3,573.4Z" fill="#6a8fd0" stroke="#6a8fd0" stroke-width="1.2" stroke-linejoin="round"/>
<path d="M30.4,586.9 C32.0,585.5 35.9,584.3 38.6,583.4 C41.3,582.5 44.6,582.0 46.7,581.6 C48.8,581.2 49.8,580.3 51.4,581.0 C53.0,581.7 54.9,584.4 56.1,585.7 C57.3,587.0 58.2,587.2 58.4,588.6 C58.6,590.0 58.2,592.6 57.2,593.9 C56.2,595.2 54.0,595.6 52.6,596.2 C51.2,596.8 50.1,596.6 49.1,597.4 C48.1,598.2 47.9,599.9 46.7,600.9 C45.5,601.9 44.1,602.6 42.1,603.2 C40.1,603.8 37.1,604.4 35.0,604.4 C32.9,604.4 30.3,604.4 29.2,603.2 C28.1,602.0 28.6,599.4 28.6,597.4 C28.6,595.4 28.9,593.2 29.2,591.5 C29.5,589.8 28.8,588.2 30.4,586.9Z" fill="#ee7f3a" stroke="#ee7f3a" stroke-width="1.2" stroke-linejoin="round"/>
<path d="M29.2,603.2 C30.9,602.8 34.7,604.2 37.4,604.4 C40.1,604.6 43.5,603.6 45.6,604.4 C47.7,605.2 49.6,607.7 50.2,609.1 C50.8,610.5 50.1,611.8 49.1,612.6 C48.1,613.4 46.0,613.3 44.4,613.7 C42.8,614.1 41.1,614.1 39.7,614.9 C38.3,615.7 37.0,617.0 36.2,618.4 C35.4,619.8 36.0,621.9 35.0,623.1 C34.0,624.3 31.8,624.8 30.4,625.4 C29.0,626.0 28.1,627.0 26.9,626.6 C25.7,626.2 24.6,624.5 23.4,623.1 C22.2,621.7 20.1,620.1 19.9,618.4 C19.7,616.6 21.0,614.5 22.2,612.6 C23.4,610.7 25.7,608.3 26.9,606.7 C28.1,605.1 27.4,603.6 29.2,603.2Z" fill="#df8f2c" stroke="#df8f2c" stroke-width="1.2" stroke-linejoin="round"/>
<path d="M11.7,620.7 C12.5,619.0 15.6,618.2 17.5,617.8 C19.4,617.4 21.8,617.7 23.4,618.4 C25.0,619.1 26.1,620.5 26.9,621.9 C27.7,623.3 28.6,625.4 28.0,626.6 C27.4,627.8 25.1,628.3 23.4,628.9 C21.6,629.5 19.4,629.5 17.5,630.1 C15.6,630.7 12.5,632.8 11.7,632.4 C10.9,632.0 12.9,629.8 12.9,627.8 C12.9,625.8 10.9,622.4 11.7,620.7Z" fill="#9a8ccb" stroke="#9a8ccb" stroke-width="1.2" stroke-linejoin="round"/>
<path d="M93.6,613.4 C94.7,612.6 97.0,611.9 99.4,611.6 C101.8,611.4 106.0,611.5 108.2,611.9 C110.4,612.3 111.5,612.9 112.6,614.1 C113.7,615.3 114.5,617.4 114.7,619.2 C114.9,621.0 114.3,623.3 114.0,625.0 C113.7,626.7 113.6,628.2 112.6,629.4 C111.6,630.6 109.9,631.7 108.2,632.3 C106.5,632.9 103.8,633.3 102.3,633.1 C100.8,632.9 100.6,631.0 99.4,630.9 C98.2,630.8 96.2,631.8 95.0,632.3 C93.8,632.8 93.1,633.1 92.1,633.8 C91.1,634.5 90.4,635.5 89.2,636.7 C88.0,637.9 86.0,639.6 84.8,641.1 C83.6,642.6 82.6,644.8 81.9,645.5 C81.2,646.2 79.9,646.5 80.4,645.5 C80.9,644.5 83.3,641.6 84.8,639.6 C86.3,637.6 87.7,636.0 89.2,633.8 C90.7,631.6 92.6,628.7 93.6,626.5 C94.6,624.3 95.1,622.4 95.0,620.7 C94.9,619.0 93.0,617.5 92.8,616.3 C92.6,615.1 92.5,614.2 93.6,613.4Z" fill="#d26bb8" stroke="#d26bb8" stroke-width="1.2" stroke-linejoin="round"/>
<path d="M76.1,646.9 C77.2,646.5 79.3,646.0 80.4,646.2 C81.5,646.5 82.3,647.1 82.6,648.4 C82.8,649.7 82.1,652.2 81.9,654.2 C81.7,656.2 81.8,658.6 81.2,660.1 C80.6,661.6 79.2,662.8 78.2,663.0 C77.2,663.2 76.0,662.5 75.3,661.5 C74.6,660.5 74.3,658.9 73.9,657.2 C73.5,655.5 72.8,652.8 72.8,651.3 C72.8,649.8 73.4,649.1 73.9,648.4 C74.5,647.7 75.0,647.3 76.1,646.9Z" fill="#ee6e6c" stroke="#ee6e6c" stroke-width="1.2" stroke-linejoin="round"/>
<path d="M26.0,677.0 C26.3,676.7 29.0,677.9 30.0,677.8 C31.0,677.7 31.5,676.1 32.0,676.3 C32.5,676.5 32.3,677.9 33.0,679.0 C33.7,680.1 36.1,682.3 36.0,682.8 C35.9,683.3 33.8,682.5 32.5,682.0 C31.2,681.5 29.1,680.6 28.0,679.8 C26.9,679.0 25.7,677.3 26.0,677.0Z" fill="#c06cc0" stroke="#c06cc0" stroke-width="1.2" stroke-linejoin="round"/>
</g>
<g filter="url(#rough2)"><g transform="matrix(0.9566,0,0,0.9755,200.6,13.6)">
<path d="M121.0,575.0 C125.7,572.3 144.7,571.7 150.0,572.0 C155.3,572.3 151.3,574.8 153.0,577.0 C154.7,579.2 156.3,582.5 160.0,585.0 C163.7,587.5 171.9,589.8 175.0,592.0 C178.1,594.2 178.1,595.8 178.5,598.0 C178.9,600.2 176.6,602.8 177.5,605.0 C178.4,607.2 182.4,609.0 184.0,611.0 C185.6,613.0 187.0,614.8 187.0,617.0 C187.0,619.2 184.8,621.8 184.0,624.0 C183.2,626.2 182.4,627.3 182.0,630.0 C181.6,632.7 181.8,636.7 181.5,640.0 C181.2,643.3 180.2,647.3 180.5,650.0 C180.8,652.7 186.4,654.3 183.0,656.0 C179.6,657.7 165.5,660.2 160.0,660.0 C154.5,659.8 152.0,657.8 150.0,655.0 C148.0,652.2 149.7,645.8 148.0,643.0 C146.3,640.2 143.2,638.4 140.0,638.0 C136.8,637.6 130.5,641.2 129.0,640.5 C127.5,639.8 129.5,636.1 131.0,634.0 C132.5,631.9 136.3,630.3 138.0,628.0 C139.7,625.7 141.3,622.0 141.0,620.0 C140.7,618.0 138.2,616.8 136.0,616.0 C133.8,615.2 129.7,615.9 128.0,615.5 C126.3,615.1 125.2,614.2 126.0,613.5 C126.8,612.8 131.0,612.4 133.0,611.0 C135.0,609.6 137.1,607.7 138.0,605.0 C138.9,602.3 138.8,597.7 138.5,595.0 C138.2,592.3 138.8,590.2 136.0,589.0 C133.2,587.8 124.5,590.3 122.0,588.0 C119.5,585.7 116.3,577.7 121.0,575.0Z" fill="#b4cce2" stroke="#b4cce2" stroke-width="1.2" stroke-linejoin="round"/>
<path d="M105.6,530.0 C105.3,529.5 107.1,528.4 108.2,527.5 C109.3,526.6 111.0,525.4 112.3,524.4 C113.6,523.4 114.9,522.5 116.3,521.3 C117.7,520.1 119.0,518.4 120.4,517.3 C121.8,516.2 123.0,515.5 124.5,514.7 C126.0,513.9 128.1,512.9 129.6,512.4 C131.1,511.9 132.4,511.9 133.7,511.9 C135.0,511.9 136.3,512.0 137.5,512.3 C138.7,512.6 140.6,512.5 141.0,513.5 C141.4,514.5 140.7,516.7 140.0,518.0 C139.3,519.3 138.2,520.3 137.0,521.5 C135.8,522.7 134.5,523.5 133.0,525.0 C131.5,526.5 129.2,529.3 128.0,530.5 C126.8,531.7 127.3,532.2 126.0,532.3 C124.7,532.4 122.2,531.6 120.4,531.3 C118.6,531.0 117.0,530.8 115.3,530.7 C113.6,530.6 111.8,530.6 110.2,530.5 C108.6,530.4 105.9,530.5 105.6,530.0Z" fill="#1f4f8c" stroke="#1f4f8c" stroke-width="1.2" stroke-linejoin="round"/>
<path d="M139.5,513.2 C140.2,512.9 141.6,513.9 143.0,515.0 C144.4,516.1 146.3,518.4 147.8,519.6 C149.3,520.8 150.7,521.1 152.0,522.0 C153.3,522.9 154.7,523.7 155.9,524.7 C157.1,525.7 158.0,526.7 159.0,528.0 C160.0,529.3 160.9,530.8 161.7,532.7 C162.5,534.6 163.4,537.3 163.9,539.3 C164.4,541.3 164.4,543.2 164.4,544.9 C164.4,546.6 165.0,549.0 163.9,549.5 C162.8,550.0 160.0,548.8 158.0,548.0 C156.0,547.2 153.8,546.1 152.0,545.0 C150.2,543.9 148.5,542.8 147.0,541.5 C145.5,540.2 144.1,538.4 143.0,537.5 C141.9,536.6 141.8,536.7 140.5,536.2 C139.2,535.7 137.1,535.0 135.0,534.5 C132.9,534.0 129.8,533.4 128.0,533.0 C126.2,532.6 124.5,532.9 124.5,532.3 C124.5,531.7 126.6,530.7 128.0,529.5 C129.4,528.3 131.5,526.3 133.0,525.0 C134.5,523.7 136.0,522.8 137.0,521.5 C138.0,520.2 138.6,518.4 139.0,517.0 C139.4,515.6 138.8,513.5 139.5,513.2Z" fill="#2d62a0" stroke="#2d62a0" stroke-width="1.2" stroke-linejoin="round"/>
<path d="M142.6,535.5 C143.2,535.7 145.4,539.5 147.0,541.0 C148.6,542.5 150.2,543.4 152.0,544.5 C153.8,545.6 156.0,546.8 158.0,547.5 C160.0,548.2 163.1,548.3 163.9,548.9 C164.7,549.5 163.2,549.9 162.9,551.1 C162.6,552.3 162.2,554.5 161.9,556.2 C161.6,557.9 161.4,559.8 160.9,561.3 C160.4,562.8 159.5,564.2 158.8,565.4 C158.1,566.6 157.7,567.3 156.8,568.5 C156.0,569.7 154.4,571.2 153.7,572.6 C153.0,574.0 154.1,576.1 152.7,576.7 C151.2,577.3 146.4,576.6 145.0,576.0 C143.6,575.4 144.4,574.2 144.5,573.1 C144.6,572.0 145.4,570.8 145.5,569.5 C145.6,568.2 145.5,566.7 145.0,565.4 C144.5,564.1 143.9,562.9 142.5,561.9 C141.1,560.9 138.4,559.9 136.3,559.3 C134.2,558.7 132.0,558.6 130.2,558.3 C128.4,558.0 125.4,557.9 125.4,557.4 C125.4,556.9 128.5,555.8 130.2,555.2 C131.8,554.6 133.6,554.1 135.3,553.7 C137.0,553.3 139.0,553.1 140.4,552.7 C141.8,552.3 143.3,552.1 144.0,551.1 C144.7,550.1 144.6,548.9 144.5,547.0 C144.4,545.1 143.8,541.9 143.5,540.0 C143.2,538.1 142.0,535.3 142.6,535.5Z" fill="#5f92c4" stroke="#5f92c4" stroke-width="1.2" stroke-linejoin="round"/>
<path d="M161.9,557.3 C163.2,557.2 166.1,559.3 168.0,560.3 C169.9,561.3 172.2,562.4 173.1,563.4 C174.0,564.4 174.1,565.7 173.6,566.5 C173.1,567.3 171.5,567.8 170.1,568.0 C168.7,568.2 166.5,567.8 165.0,568.0 C163.5,568.2 161.9,569.8 160.9,569.5 C159.9,569.2 158.9,567.9 158.8,566.5 C158.7,565.1 160.0,562.5 160.5,561.0 C161.0,559.5 160.7,557.4 161.9,557.3Z" fill="#7eaad2" stroke="#7eaad2" stroke-width="1.2" stroke-linejoin="round"/>
<path d="M120.5,574.6 C121.3,573.5 122.6,574.0 125.1,573.6 C127.6,573.2 131.9,572.4 135.3,572.1 C138.7,571.9 142.8,571.8 145.5,572.1 C148.2,572.4 150.5,573.2 151.7,574.1 C152.9,575.0 152.7,576.2 152.7,577.7 C152.7,579.2 152.9,581.4 151.7,582.8 C150.5,584.2 148.2,585.0 145.5,585.9 C142.8,586.8 138.7,587.6 135.3,587.9 C131.9,588.2 127.5,588.2 125.1,587.9 C122.7,587.6 121.8,587.2 121.0,585.9 C120.2,584.6 120.1,581.9 120.0,580.0 C119.9,578.1 119.7,575.7 120.5,574.6Z" fill="#7eaad4" stroke="#7eaad4" stroke-width="1.2" stroke-linejoin="round"/>
<path d="M138.4,585.9 C139.6,584.2 143.4,585.1 145.5,585.0 C147.6,584.9 149.9,584.2 150.7,585.5 C151.4,586.8 150.2,590.8 150.0,593.0 C149.8,595.2 150.2,596.9 149.7,598.7 C149.2,600.5 148.4,602.5 147.2,603.7 C146.0,605.0 143.5,606.4 142.3,606.2 C141.1,606.0 140.4,604.3 139.8,602.4 C139.2,600.5 138.7,597.8 138.5,595.0 C138.3,592.2 137.2,587.6 138.4,585.9Z" fill="#94bada" stroke="#94bada" stroke-width="1.2" stroke-linejoin="round"/>
<path d="M151.7,582.8 C153.4,582.8 158.2,584.9 160.9,585.9 C163.6,586.9 165.6,588.0 168.0,589.0 C170.4,590.0 173.5,591.0 175.2,592.0 C176.9,593.0 177.7,593.8 178.2,595.1 C178.7,596.4 178.3,598.8 178.2,600.0 C178.1,601.2 178.2,601.2 177.6,602.4 C177.0,603.6 176.1,606.1 174.5,607.4 C172.9,608.6 170.4,609.7 168.3,609.9 C166.2,610.1 164.0,608.6 162.1,608.6 C160.2,608.6 158.5,610.3 157.1,609.9 C155.7,609.5 154.4,607.9 153.4,606.2 C152.4,604.6 151.5,602.2 150.9,600.0 C150.3,597.8 150.0,595.3 150.0,593.0 C150.0,590.7 150.4,587.7 150.7,586.0 C151.0,584.3 150.0,582.8 151.7,582.8Z" fill="#7eaad2" stroke="#7eaad2" stroke-width="1.2" stroke-linejoin="round"/>
<path d="M113.0,614.5 C114.2,612.2 118.5,613.9 121.0,613.5 C123.5,613.1 125.8,612.8 128.0,612.0 C130.2,611.2 132.0,610.0 134.0,609.0 C136.0,608.0 137.8,606.7 140.0,606.0 C142.2,605.3 144.8,604.9 147.0,604.9 C149.2,604.9 151.7,605.4 153.4,606.2 C155.1,607.0 157.1,608.9 157.1,609.9 C157.1,610.9 155.1,611.8 153.4,612.4 C151.8,613.0 148.8,613.0 147.2,613.6 C145.5,614.2 144.5,615.1 143.5,616.1 C142.5,617.1 141.6,619.0 141.0,619.8 C140.4,620.6 140.6,621.4 139.8,621.1 C139.0,620.8 137.6,618.6 136.0,618.0 C134.4,617.4 132.0,617.2 130.0,617.5 C128.0,617.8 126.0,618.9 124.0,620.0 C122.0,621.1 119.8,622.8 118.0,624.0 C116.2,625.2 114.3,628.6 113.5,627.0 C112.7,625.4 111.8,616.8 113.0,614.5Z" fill="#c8d8e8" stroke="#c8d8e8" stroke-width="1.2" stroke-linejoin="round"/>
<path d="M168.3,609.9 C170.0,609.1 172.6,607.8 174.5,607.4 C176.4,607.0 177.8,606.6 179.5,607.4 C181.2,608.2 183.2,610.8 184.4,612.4 C185.6,614.0 186.9,615.4 186.9,617.3 C186.9,619.1 185.2,621.4 184.4,623.5 C183.6,625.6 182.8,628.2 182.0,629.7 C181.2,631.2 180.8,631.8 179.5,632.2 C178.2,632.6 176.4,632.4 174.5,632.2 C172.6,632.0 170.4,631.6 168.3,631.0 C166.2,630.4 163.6,629.8 162.1,628.5 C160.6,627.2 159.6,625.4 159.6,623.5 C159.6,621.6 161.3,619.1 162.1,617.3 C162.9,615.4 163.6,613.6 164.6,612.4 C165.6,611.2 166.7,610.7 168.3,609.9Z" fill="#6a9ccb" stroke="#6a9ccb" stroke-width="1.2" stroke-linejoin="round"/>
<path d="M157.0,612.5 C158.2,611.2 161.4,612.8 163.0,614.0 C164.6,615.2 166.0,617.7 166.5,620.0 C167.0,622.3 166.6,625.8 166.0,628.0 C165.4,630.2 164.3,632.0 163.0,633.0 C161.7,634.0 159.5,634.5 158.0,634.0 C156.5,633.5 154.3,632.0 154.0,630.0 C153.7,628.0 155.5,624.9 156.0,622.0 C156.5,619.1 155.8,613.8 157.0,612.5Z" fill="#eee6ea" stroke="#eee6ea" stroke-width="1.2" stroke-linejoin="round"/>
<path d="M141.9,638.1 C141.2,636.6 142.3,634.9 144.1,633.8 C145.9,632.7 150.0,631.8 152.9,631.6 C155.8,631.4 159.1,632.0 161.6,632.7 C164.1,633.4 167.1,633.6 168.2,636.0 C169.3,638.4 168.6,644.0 168.2,646.9 C167.8,649.8 167.1,651.7 166.0,653.5 C164.9,655.3 163.2,656.6 161.6,657.9 C159.9,659.2 157.5,660.8 156.1,661.1 C154.7,661.5 153.8,661.1 152.9,660.0 C152.0,658.9 151.0,656.4 150.7,654.6 C150.4,652.8 151.6,651.1 151.2,649.1 C150.8,647.1 150.1,644.3 148.5,642.5 C146.9,640.7 142.6,639.6 141.9,638.1Z" fill="#ecc0b4" stroke="#ecc0b4" stroke-width="1.2" stroke-linejoin="round"/>
<path d="M142.3,612.4 C143.7,611.4 148.4,609.9 150.9,609.9 C153.4,609.9 155.7,611.2 157.1,612.4 C158.5,613.6 159.2,615.4 159.6,617.3 C160.0,619.1 160.4,621.8 159.6,623.5 C158.8,625.2 156.1,626.0 154.7,627.3 C153.2,628.5 152.6,629.8 150.9,631.0 C149.2,632.2 146.8,633.7 144.7,634.7 C142.6,635.7 140.6,636.4 138.5,637.2 C136.4,638.0 134.2,639.0 132.3,639.7 C130.4,640.4 127.9,642.4 127.1,641.4 C126.3,640.4 126.4,635.3 127.7,633.8 C129.0,632.3 133.0,633.3 134.8,632.2 C136.6,631.1 137.5,629.1 138.5,627.3 C139.5,625.4 140.4,623.0 141.0,621.1 C141.6,619.2 142.1,617.6 142.3,616.1 C142.5,614.6 140.9,613.4 142.3,612.4Z" fill="#cfdcea" stroke="#cfdcea" stroke-width="1.2" stroke-linejoin="round"/>
<path d="M167.1,634.9 C168.2,632.5 170.6,633.4 172.6,632.7 C174.6,632.0 177.5,631.0 179.1,630.5 C180.7,630.0 181.8,628.6 182.2,629.5 C182.6,630.4 181.7,633.5 181.3,636.0 C180.9,638.5 179.9,642.2 179.7,644.7 C179.5,647.2 179.8,649.5 180.2,651.3 C180.6,653.1 183.3,654.8 182.4,655.7 C181.5,656.6 177.4,656.8 174.8,656.8 C172.2,656.8 168.6,657.4 167.1,655.7 C165.6,654.1 166.0,650.4 166.0,646.9 C166.0,643.4 166.0,637.3 167.1,634.9Z" fill="#eab8aa" stroke="#eab8aa" stroke-width="1.2" stroke-linejoin="round"/>
<path d="M156.1,661.1 C157.9,659.8 161.1,658.6 163.8,657.9 C166.6,657.2 169.5,657.2 172.6,656.8 C175.7,656.4 180.4,655.2 182.4,655.7 C184.4,656.2 184.3,658.2 184.6,660.0 C184.9,661.8 184.6,664.8 184.1,666.6 C183.6,668.4 182.9,670.0 181.3,671.0 C179.8,672.0 177.4,672.2 174.8,672.6 C172.2,673.0 168.8,673.3 166.0,673.2 C163.2,673.1 160.5,672.5 158.3,672.1 C156.1,671.7 154.7,671.0 152.9,671.0 C151.1,671.0 149.2,671.4 147.4,672.1 C145.6,672.8 143.9,674.3 141.9,675.4 C139.9,676.5 137.2,678.1 135.3,678.7 C133.4,679.3 131.0,679.6 130.4,679.2 C129.8,678.8 131.0,677.5 132.0,676.5 C133.0,675.5 134.8,674.1 136.4,673.2 C138.1,672.3 139.9,671.7 141.9,671.0 C143.9,670.3 146.7,669.7 148.5,668.8 C150.3,667.9 151.6,666.8 152.9,665.5 C154.2,664.2 154.3,662.4 156.1,661.1Z" fill="#e4a89a" stroke="#e4a89a" stroke-width="1.2" stroke-linejoin="round"/>
<path d="M19.3,573.4 C19.8,572.1 21.5,571.7 23.4,571.1 C25.2,570.5 27.9,570.1 30.4,569.9 C32.9,569.7 36.1,569.6 38.6,569.9 C41.1,570.2 43.9,570.8 45.6,571.7 C47.4,572.6 48.3,574.0 49.1,575.2 C49.9,576.4 50.6,577.5 50.2,578.7 C49.8,579.9 48.5,581.2 46.7,582.2 C45.0,583.2 41.8,583.9 39.7,584.5 C37.6,585.1 35.5,585.3 33.9,585.7 C32.3,586.1 31.2,586.1 30.4,586.9 C29.6,587.7 29.6,589.0 29.2,590.4 C28.8,591.8 28.5,595.2 28.0,595.0 C27.5,594.8 27.1,591.0 26.3,589.2 C25.5,587.5 24.4,586.2 23.4,584.5 C22.4,582.8 21.1,580.6 20.4,578.7 C19.7,576.9 18.8,574.7 19.3,573.4Z" fill="#6a9ccb" stroke="#6a9ccb" stroke-width="1.2" stroke-linejoin="round"/>
<path d="M30.4,586.9 C32.0,585.5 35.9,584.3 38.6,583.4 C41.3,582.5 44.6,582.0 46.7,581.6 C48.8,581.2 49.8,580.3 51.4,581.0 C53.0,581.7 54.9,584.4 56.1,585.7 C57.3,587.0 58.2,587.2 58.4,588.6 C58.6,590.0 58.2,592.6 57.2,593.9 C56.2,595.2 54.0,595.6 52.6,596.2 C51.2,596.8 50.1,596.6 49.1,597.4 C48.1,598.2 47.9,599.9 46.7,600.9 C45.5,601.9 44.1,602.6 42.1,603.2 C40.1,603.8 37.1,604.4 35.0,604.4 C32.9,604.4 30.3,604.4 29.2,603.2 C28.1,602.0 28.6,599.4 28.6,597.4 C28.6,595.4 28.9,593.2 29.2,591.5 C29.5,589.8 28.8,588.2 30.4,586.9Z" fill="#6e9fcc" stroke="#6e9fcc" stroke-width="1.2" stroke-linejoin="round"/>
<path d="M29.2,603.2 C30.9,602.8 34.7,604.2 37.4,604.4 C40.1,604.6 43.5,603.6 45.6,604.4 C47.7,605.2 49.6,607.7 50.2,609.1 C50.8,610.5 50.1,611.8 49.1,612.6 C48.1,613.4 46.0,613.3 44.4,613.7 C42.8,614.1 41.1,614.1 39.7,614.9 C38.3,615.7 37.0,617.0 36.2,618.4 C35.4,619.8 36.0,621.9 35.0,623.1 C34.0,624.3 31.8,624.8 30.4,625.4 C29.0,626.0 28.1,627.0 26.9,626.6 C25.7,626.2 24.6,624.5 23.4,623.1 C22.2,621.7 20.1,620.1 19.9,618.4 C19.7,616.6 21.0,614.5 22.2,612.6 C23.4,610.7 25.7,608.3 26.9,606.7 C28.1,605.1 27.4,603.6 29.2,603.2Z" fill="#6a9bca" stroke="#6a9bca" stroke-width="1.2" stroke-linejoin="round"/>
<path d="M11.7,620.7 C12.5,619.0 15.6,618.2 17.5,617.8 C19.4,617.4 21.8,617.7 23.4,618.4 C25.0,619.1 26.1,620.5 26.9,621.9 C27.7,623.3 28.6,625.4 28.0,626.6 C27.4,627.8 25.1,628.3 23.4,628.9 C21.6,629.5 19.4,629.5 17.5,630.1 C15.6,630.7 12.5,632.8 11.7,632.4 C10.9,632.0 12.9,629.8 12.9,627.8 C12.9,625.8 10.9,622.4 11.7,620.7Z" fill="#78a6d0" stroke="#78a6d0" stroke-width="1.2" stroke-linejoin="round"/>
<path d="M93.6,613.4 C94.7,612.6 97.0,611.9 99.4,611.6 C101.8,611.4 106.0,611.5 108.2,611.9 C110.4,612.3 111.5,612.9 112.6,614.1 C113.7,615.3 114.5,617.4 114.7,619.2 C114.9,621.0 114.3,623.3 114.0,625.0 C113.7,626.7 113.6,628.2 112.6,629.4 C111.6,630.6 109.9,631.7 108.2,632.3 C106.5,632.9 103.8,633.3 102.3,633.1 C100.8,632.9 100.6,631.0 99.4,630.9 C98.2,630.8 96.2,631.8 95.0,632.3 C93.8,632.8 93.1,633.1 92.1,633.8 C91.1,634.5 90.4,635.5 89.2,636.7 C88.0,637.9 86.0,639.6 84.8,641.1 C83.6,642.6 82.6,644.8 81.9,645.5 C81.2,646.2 79.9,646.5 80.4,645.5 C80.9,644.5 83.3,641.6 84.8,639.6 C86.3,637.6 87.7,636.0 89.2,633.8 C90.7,631.6 92.6,628.7 93.6,626.5 C94.6,624.3 95.1,622.4 95.0,620.7 C94.9,619.0 93.0,617.5 92.8,616.3 C92.6,615.1 92.5,614.2 93.6,613.4Z" fill="#9dbedb" stroke="#9dbedb" stroke-width="1.2" stroke-linejoin="round"/>
<path d="M76.1,646.9 C77.2,646.5 79.3,646.0 80.4,646.2 C81.5,646.5 82.3,647.1 82.6,648.4 C82.8,649.7 82.1,652.2 81.9,654.2 C81.7,656.2 81.8,658.6 81.2,660.1 C80.6,661.6 79.2,662.8 78.2,663.0 C77.2,663.2 76.0,662.5 75.3,661.5 C74.6,660.5 74.3,658.9 73.9,657.2 C73.5,655.5 72.8,652.8 72.8,651.3 C72.8,649.8 73.4,649.1 73.9,648.4 C74.5,647.7 75.0,647.3 76.1,646.9Z" fill="#88b2d8" stroke="#88b2d8" stroke-width="1.2" stroke-linejoin="round"/>
<path d="M26.0,677.0 C26.3,676.7 29.0,677.9 30.0,677.8 C31.0,677.7 31.5,676.1 32.0,676.3 C32.5,676.5 32.3,677.9 33.0,679.0 C33.7,680.1 36.1,682.3 36.0,682.8 C35.9,683.3 33.8,682.5 32.5,682.0 C31.2,681.5 29.1,680.6 28.0,679.8 C26.9,679.0 25.7,677.3 26.0,677.0Z" fill="#5d92c8" stroke="#5d92c8" stroke-width="1.2" stroke-linejoin="round"/>
</g></g>
<circle cx="52.1" cy="518.5" r="0.6" fill="#e06080"/>
<text x="39.1" y="525.8" font-size="8.6" fill="#1a1a1a">Stromal</text>
<text x="94" y="519.8" font-size="8.6" fill="#1a1a1a">Late Erythroid</text>
<text x="132.8" y="531.5" font-size="8.6" fill="#1a1a1a">Early Erythroid</text>
<text x="144" y="557.8" font-size="8.6" fill="#1a1a1a">MEP</text>
<text x="166.8" y="552.2" font-size="8.6" fill="#1a1a1a">Cycling Progenitor</text>
<text x="52.6" y="559.2" font-size="8.6" fill="#1a1a1a">CD4 Memory T</text>
<text x="19.9" y="567.6" font-size="8.6" fill="#1a1a1a">Naive T</text>
<text x="113.9" y="582.5" font-size="8.6" fill="#1a1a1a">HSC MPP</text>
<text x="175.6" y="583.1" font-size="8.6" fill="#1a1a1a">Early GMP</text>
<text x="60.7" y="597.3" font-size="8.6" fill="#1a1a1a">Early Lymphoid</text>
<text x="125.7" y="598.8" font-size="8.6" fill="#1a1a1a">LMPP</text>
<text x="0" y="610" font-size="8.6" fill="#1a1a1a">CD8 Memory T</text>
<text x="180" y="608.7" font-size="8.6" fill="#1a1a1a">Late GMP</text>
<text x="87.7" y="619.9" font-size="8.6" fill="#1a1a1a">Pre-B</text>
<text x="13.8" y="627.5" font-size="8.6" fill="#1a1a1a">NK</text>
<text x="100.1" y="632" font-size="8.6" fill="#1a1a1a">Pro-B</text>
<text x="135.6" y="631.2" font-size="8.6" fill="#1a1a1a">pDC</text>
<text x="150.2" y="644.5" font-size="8.6" fill="#1a1a1a">cDC</text>
<text x="172.6" y="646.8" font-size="8.6" fill="#1a1a1a">Pro-Monocyte</text>
<text x="67" y="657.9" font-size="8.6" fill="#1a1a1a">B cells</text>
<text x="147" y="679.6" font-size="8.6" fill="#1a1a1a">Monocyte</text>
<text x="40.6" y="682.8" font-size="7.4" fill="#1a1a1a">Plasma Cell</text>
<line x1="50" y1="592.1" x2="64.0" y2="566.0" stroke="#1a1a1a" stroke-width="0.8"/><polygon points="66,562.3 65.6,566.9 62.4,565.1" fill="#1a1a1a"/>
<line x1="133.7" y1="613.4" x2="104.8" y2="602.0" stroke="#1a1a1a" stroke-width="0.8"/><polygon points="100.9,600.5 105.5,600.4 104.1,603.7" fill="#1a1a1a"/>
<line x1="166.4" y1="594.3" x2="180.6" y2="559.4" stroke="#1a1a1a" stroke-width="0.8"/><polygon points="182.2,555.5 182.3,560.1 178.9,558.7" fill="#1a1a1a"/>
<line x1="161.8" y1="606.1" x2="183.6" y2="587.8" stroke="#1a1a1a" stroke-width="0.8"/><polygon points="186.8,585.1 184.7,589.2 182.4,586.4" fill="#1a1a1a"/>
<line x1="180.2" y1="623.8" x2="187.0" y2="614.1" stroke="#1a1a1a" stroke-width="0.8"/><polygon points="189.4,610.7 188.5,615.2 185.5,613.1" fill="#1a1a1a"/>
<text x="269.7" y="509.9" font-size="8.7" fill="#1a1a1a">Myeloid Program expression</text>
<rect x="316.4" y="620.3" width="69.4" height="70.7" fill="none" stroke="#a468c8" stroke-width="0.9" stroke-dasharray="1.2,1.2"/>
<text x="354.5" y="678.6" font-size="8.6" text-anchor="middle" fill="#1a1a1a">Myeloid</text>
<text x="355.4" y="689.7" font-size="8.6" text-anchor="middle" fill="#1a1a1a">Compartment</text>
<rect x="394" y="579.9" width="7" height="35.9" fill="url(#cbE)"/>
<text x="403" y="586.9" font-size="3.8" fill="#555">0.150</text>
<text x="403" y="596.5" font-size="3.8" fill="#555">0.125</text>
<text x="403" y="605.5999999999999" font-size="3.8" fill="#555">0.100</text>
<text x="403" y="615.0" font-size="3.8" fill="#555">0.075</text>
<text x="10.7" y="710.8" font-size="14" fill="#111">F</text>
<path fill="#cc5a66" fill-opacity="0.45" d="M115.7 819.0h1.4v1.4h-1.4zM98.2 811.3h1.4v1.4h-1.4zM110.3 816.4h1.4v1.4h-1.4zM107.3 795.6h1.4v1.4h-1.4zM78.0 812.9h1.4v1.4h-1.4zM101.5 809.4h1.4v1.4h-1.4zM106.5 812.8h1.4v1.4h-1.4zM87.0 798.3h1.4v1.4h-1.4zM94.4 834.8h1.4v1.4h-1.4zM109.5 800.8h1.4v1.4h-1.4zM118.5 796.4h1.4v1.4h-1.4zM92.5 820.7h1.4v1.4h-1.4zM73.6 822.2h1.4v1.4h-1.4zM115.2 769.2h1.4v1.4h-1.4zM114.8 775.4h1.4v1.4h-1.4zM99.4 806.3h1.4v1.4h-1.4zM107.3 813.7h1.4v1.4h-1.4zM132.8 800.5h1.4v1.4h-1.4zM110.9 828.5h1.4v1.4h-1.4zM101.6 811.0h1.4v1.4h-1.4zM120.7 771.5h1.4v1.4h-1.4zM106.5 814.6h1.4v1.4h-1.4zM117.0 814.1h1.4v1.4h-1.4zM135.6 792.4h1.4v1.4h-1.4zM112.4 796.5h1.4v1.4h-1.4zM87.7 810.9h1.4v1.4h-1.4zM117.9 794.1h1.4v1.4h-1.4zM112.6 816.0h1.4v1.4h-1.4zM103.8 811.3h1.4v1.4h-1.4zM125.6 796.0h1.4v1.4h-1.4zM90.1 812.3h1.4v1.4h-1.4zM81.8 799.0h1.4v1.4h-1.4zM75.0 804.5h1.4v1.4h-1.4zM92.9 814.4h1.4v1.4h-1.4zM100.4 828.2h1.4v1.4h-1.4zM104.9 807.8h1.4v1.4h-1.4zM106.9 818.2h1.4v1.4h-1.4zM118.2 813.3h1.4v1.4h-1.4zM106.2 820.9h1.4v1.4h-1.4zM107.8 801.9h1.4v1.4h-1.4zM112.1 794.9h1.4v1.4h-1.4zM96.6 816.2h1.4v1.4h-1.4zM115.4 812.3h1.4v1.4h-1.4zM104.0 794.6h1.4v1.4h-1.4zM103.7 801.4h1.4v1.4h-1.4zM97.3 824.1h1.4v1.4h-1.4zM138.6 783.6h1.4v1.4h-1.4zM82.5 843.1h1.4v1.4h-1.4zM92.4 795.3h1.4v1.4h-1.4zM109.0 819.6h1.4v1.4h-1.4zM93.7 814.4h1.4v1.4h-1.4zM117.0 788.7h1.4v1.4h-1.4zM119.7 783.1h1.4v1.4h-1.4zM116.4 811.5h1.4v1.4h-1.4zM87.1 842.6h1.4v1.4h-1.4zM119.0 826.3h1.4v1.4h-1.4zM104.3 818.7h1.4v1.4h-1.4zM127.8 813.1h1.4v1.4h-1.4zM106.0 808.5h1.4v1.4h-1.4zM117.8 803.5h1.4v1.4h-1.4zM96.1 825.5h1.4v1.4h-1.4zM117.6 803.8h1.4v1.4h-1.4zM141.9 773.7h1.4v1.4h-1.4zM106.7 820.3h1.4v1.4h-1.4zM91.8 815.2h1.4v1.4h-1.4zM124.2 807.0h1.4v1.4h-1.4zM115.4 806.2h1.4v1.4h-1.4zM102.2 800.1h1.4v1.4h-1.4zM97.0 823.1h1.4v1.4h-1.4zM92.9 831.1h1.4v1.4h-1.4zM72.4 831.3h1.4v1.4h-1.4zM87.6 838.1h1.4v1.4h-1.4zM117.8 785.5h1.4v1.4h-1.4zM132.2 805.6h1.4v1.4h-1.4zM101.6 794.1h1.4v1.4h-1.4zM135.2 801.5h1.4v1.4h-1.4zM104.0 805.8h1.4v1.4h-1.4zM111.0 797.2h1.4v1.4h-1.4zM133.7 805.0h1.4v1.4h-1.4zM120.2 792.7h1.4v1.4h-1.4zM99.7 799.0h1.4v1.4h-1.4zM82.8 783.0h1.4v1.4h-1.4zM77.9 823.5h1.4v1.4h-1.4zM115.3 821.1h1.4v1.4h-1.4zM102.0 823.6h1.4v1.4h-1.4zM123.7 803.3h1.4v1.4h-1.4zM101.9 805.3h1.4v1.4h-1.4zM91.3 807.6h1.4v1.4h-1.4zM111.8 798.3h1.4v1.4h-1.4zM115.9 793.4h1.4v1.4h-1.4zM115.0 812.4h1.4v1.4h-1.4zM106.6 818.6h1.4v1.4h-1.4zM110.2 827.1h1.4v1.4h-1.4zM94.2 814.4h1.4v1.4h-1.4zM87.6 827.9h1.4v1.4h-1.4zM106.0 840.8h1.4v1.4h-1.4zM89.2 826.5h1.4v1.4h-1.4zM105.7 794.5h1.4v1.4h-1.4zM109.1 796.6h1.4v1.4h-1.4zM97.5 819.1h1.4v1.4h-1.4zM75.5 804.7h1.4v1.4h-1.4zM114.7 812.6h1.4v1.4h-1.4zM112.9 781.4h1.4v1.4h-1.4zM107.1 822.4h1.4v1.4h-1.4zM134.3 800.6h1.4v1.4h-1.4zM72.5 823.7h1.4v1.4h-1.4zM94.8 825.6h1.4v1.4h-1.4zM117.0 797.0h1.4v1.4h-1.4zM115.7 830.9h1.4v1.4h-1.4zM109.4 803.8h1.4v1.4h-1.4zM97.9 793.9h1.4v1.4h-1.4zM82.2 809.5h1.4v1.4h-1.4zM123.0 790.8h1.4v1.4h-1.4zM93.8 820.8h1.4v1.4h-1.4zM96.5 814.5h1.4v1.4h-1.4zM130.9 815.1h1.4v1.4h-1.4zM111.2 802.5h1.4v1.4h-1.4zM87.1 815.8h1.4v1.4h-1.4zM106.8 820.7h1.4v1.4h-1.4zM98.0 799.5h1.4v1.4h-1.4zM111.3 819.0h1.4v1.4h-1.4zM95.8 818.3h1.4v1.4h-1.4zM105.2 822.8h1.4v1.4h-1.4zM97.7 847.7h1.4v1.4h-1.4zM113.2 807.8h1.4v1.4h-1.4zM113.5 811.9h1.4v1.4h-1.4zM104.7 790.3h1.4v1.4h-1.4zM101.6 819.1h1.4v1.4h-1.4zM113.9 813.3h1.4v1.4h-1.4zM101.8 786.2h1.4v1.4h-1.4zM86.3 820.6h1.4v1.4h-1.4zM96.4 807.4h1.4v1.4h-1.4zM70.6 820.7h1.4v1.4h-1.4zM91.1 808.9h1.4v1.4h-1.4zM125.9 816.2h1.4v1.4h-1.4zM91.4 810.5h1.4v1.4h-1.4zM109.3 802.5h1.4v1.4h-1.4zM120.0 802.3h1.4v1.4h-1.4zM72.3 830.7h1.4v1.4h-1.4zM100.1 808.0h1.4v1.4h-1.4zM120.3 788.3h1.4v1.4h-1.4zM102.2 783.4h1.4v1.4h-1.4zM95.7 795.7h1.4v1.4h-1.4zM120.9 803.7h1.4v1.4h-1.4zM92.8 804.9h1.4v1.4h-1.4zM108.1 822.7h1.4v1.4h-1.4zM131.2 815.4h1.4v1.4h-1.4zM100.7 826.7h1.4v1.4h-1.4zM115.3 802.4h1.4v1.4h-1.4zM98.5 818.5h1.4v1.4h-1.4zM99.3 822.5h1.4v1.4h-1.4zM127.4 812.2h1.4v1.4h-1.4zM95.2 823.5h1.4v1.4h-1.4zM95.0 830.6h1.4v1.4h-1.4zM110.1 812.5h1.4v1.4h-1.4zM86.4 813.7h1.4v1.4h-1.4zM99.1 804.9h1.4v1.4h-1.4zM114.0 798.5h1.4v1.4h-1.4zM104.7 793.3h1.4v1.4h-1.4zM75.2 802.9h1.4v1.4h-1.4zM115.4 803.7h1.4v1.4h-1.4zM127.7 798.4h1.4v1.4h-1.4zM119.8 795.9h1.4v1.4h-1.4zM108.6 806.5h1.4v1.4h-1.4zM110.5 804.3h1.4v1.4h-1.4zM120.4 806.9h1.4v1.4h-1.4zM111.7 801.6h1.4v1.4h-1.4zM107.4 793.9h1.4v1.4h-1.4zM100.2 819.9h1.4v1.4h-1.4zM109.1 815.7h1.4v1.4h-1.4zM96.3 805.0h1.4v1.4h-1.4zM103.9 808.9h1.4v1.4h-1.4zM100.6 809.0h1.4v1.4h-1.4zM78.0 811.6h1.4v1.4h-1.4zM116.8 787.5h1.4v1.4h-1.4zM121.2 803.3h1.4v1.4h-1.4zM95.2 815.0h1.4v1.4h-1.4zM109.5 813.4h1.4v1.4h-1.4zM103.7 810.8h1.4v1.4h-1.4zM117.7 817.5h1.4v1.4h-1.4zM80.0 817.1h1.4v1.4h-1.4zM110.9 810.9h1.4v1.4h-1.4zM143.2 784.2h1.4v1.4h-1.4zM122.7 803.8h1.4v1.4h-1.4zM85.2 814.4h1.4v1.4h-1.4zM103.2 827.7h1.4v1.4h-1.4zM107.4 793.0h1.4v1.4h-1.4zM89.6 820.0h1.4v1.4h-1.4zM102.1 832.1h1.4v1.4h-1.4zM97.7 802.7h1.4v1.4h-1.4zM114.9 815.0h1.4v1.4h-1.4zM102.1 815.7h1.4v1.4h-1.4zM121.0 788.1h1.4v1.4h-1.4zM72.2 817.8h1.4v1.4h-1.4zM128.8 781.4h1.4v1.4h-1.4zM101.2 800.2h1.4v1.4h-1.4zM113.0 835.0h1.4v1.4h-1.4zM98.5 805.0h1.4v1.4h-1.4zM130.3 795.4h1.4v1.4h-1.4zM102.8 831.4h1.4v1.4h-1.4zM118.4 806.5h1.4v1.4h-1.4zM128.4 810.3h1.4v1.4h-1.4zM131.4 785.1h1.4v1.4h-1.4zM107.3 823.1h1.4v1.4h-1.4zM99.5 836.2h1.4v1.4h-1.4zM116.4 785.0h1.4v1.4h-1.4zM105.7 807.6h1.4v1.4h-1.4zM92.9 818.3h1.4v1.4h-1.4zM100.4 799.5h1.4v1.4h-1.4zM109.3 806.7h1.4v1.4h-1.4zM93.0 828.3h1.4v1.4h-1.4zM118.9 805.8h1.4v1.4h-1.4zM96.1 825.9h1.4v1.4h-1.4zM84.7 813.1h1.4v1.4h-1.4zM109.8 814.2h1.4v1.4h-1.4zM80.1 830.3h1.4v1.4h-1.4zM108.3 810.3h1.4v1.4h-1.4zM114.3 794.5h1.4v1.4h-1.4zM104.7 794.0h1.4v1.4h-1.4zM113.8 811.1h1.4v1.4h-1.4zM90.9 818.6h1.4v1.4h-1.4zM103.8 797.6h1.4v1.4h-1.4zM107.1 824.4h1.4v1.4h-1.4zM106.7 781.4h1.4v1.4h-1.4zM87.0 818.1h1.4v1.4h-1.4zM74.0 794.5h1.4v1.4h-1.4zM100.7 826.3h1.4v1.4h-1.4zM97.0 810.4h1.4v1.4h-1.4zM95.8 835.8h1.4v1.4h-1.4zM131.6 778.4h1.4v1.4h-1.4zM108.1 815.4h1.4v1.4h-1.4zM116.8 805.6h1.4v1.4h-1.4zM82.4 826.1h1.4v1.4h-1.4zM105.9 808.8h1.4v1.4h-1.4zM117.8 804.6h1.4v1.4h-1.4zM101.4 812.6h1.4v1.4h-1.4zM149.7 807.3h1.4v1.4h-1.4zM80.2 806.1h1.4v1.4h-1.4zM102.3 804.6h1.4v1.4h-1.4zM107.5 805.7h1.4v1.4h-1.4zM103.4 816.5h1.4v1.4h-1.4zM109.0 817.8h1.4v1.4h-1.4zM96.6 853.2h1.4v1.4h-1.4zM139.8 764.3h1.4v1.4h-1.4zM99.1 842.5h1.4v1.4h-1.4zM106.2 812.4h1.4v1.4h-1.4zM100.9 796.9h1.4v1.4h-1.4zM93.5 826.5h1.4v1.4h-1.4zM71.4 821.2h1.4v1.4h-1.4zM139.2 773.5h1.4v1.4h-1.4zM109.4 811.4h1.4v1.4h-1.4zM109.4 800.1h1.4v1.4h-1.4zM97.2 776.6h1.4v1.4h-1.4zM103.6 806.0h1.4v1.4h-1.4zM124.3 809.4h1.4v1.4h-1.4zM102.0 821.9h1.4v1.4h-1.4zM135.3 781.5h1.4v1.4h-1.4zM115.6 838.5h1.4v1.4h-1.4zM84.2 828.2h1.4v1.4h-1.4zM116.2 836.5h1.4v1.4h-1.4zM76.5 829.3h1.4v1.4h-1.4zM84.8 837.6h1.4v1.4h-1.4zM112.2 776.6h1.4v1.4h-1.4zM90.5 848.8h1.4v1.4h-1.4zM75.3 827.2h1.4v1.4h-1.4zM96.7 805.2h1.4v1.4h-1.4zM99.4 823.4h1.4v1.4h-1.4zM97.6 813.2h1.4v1.4h-1.4zM94.2 812.7h1.4v1.4h-1.4zM106.9 812.5h1.4v1.4h-1.4zM82.2 825.2h1.4v1.4h-1.4zM114.6 795.1h1.4v1.4h-1.4zM111.0 796.6h1.4v1.4h-1.4zM108.3 816.8h1.4v1.4h-1.4zM109.6 808.7h1.4v1.4h-1.4zM106.5 802.0h1.4v1.4h-1.4zM91.2 821.3h1.4v1.4h-1.4zM101.6 816.1h1.4v1.4h-1.4zM122.2 803.8h1.4v1.4h-1.4zM108.1 809.0h1.4v1.4h-1.4zM118.0 784.1h1.4v1.4h-1.4zM74.9 822.0h1.4v1.4h-1.4zM137.9 798.3h1.4v1.4h-1.4zM78.1 829.5h1.4v1.4h-1.4zM82.6 834.9h1.4v1.4h-1.4zM124.5 792.2h1.4v1.4h-1.4zM113.1 844.7h1.4v1.4h-1.4zM92.5 812.5h1.4v1.4h-1.4zM111.1 788.2h1.4v1.4h-1.4zM97.8 821.7h1.4v1.4h-1.4zM123.5 820.2h1.4v1.4h-1.4zM114.0 796.1h1.4v1.4h-1.4zM123.2 799.4h1.4v1.4h-1.4zM106.3 805.7h1.4v1.4h-1.4zM115.1 811.7h1.4v1.4h-1.4zM105.3 816.2h1.4v1.4h-1.4zM94.8 815.4h1.4v1.4h-1.4zM81.0 807.0h1.4v1.4h-1.4zM98.0 827.2h1.4v1.4h-1.4zM102.6 814.5h1.4v1.4h-1.4zM88.9 825.4h1.4v1.4h-1.4zM97.9 807.9h1.4v1.4h-1.4zM99.3 852.8h1.4v1.4h-1.4zM97.5 805.0h1.4v1.4h-1.4zM124.0 805.4h1.4v1.4h-1.4zM76.8 827.8h1.4v1.4h-1.4zM78.1 820.7h1.4v1.4h-1.4zM98.7 798.8h1.4v1.4h-1.4zM112.9 792.8h1.4v1.4h-1.4zM97.7 800.5h1.4v1.4h-1.4zM98.6 803.5h1.4v1.4h-1.4zM116.5 822.4h1.4v1.4h-1.4zM124.6 805.5h1.4v1.4h-1.4zM118.3 811.9h1.4v1.4h-1.4zM95.4 814.6h1.4v1.4h-1.4zM124.2 817.2h1.4v1.4h-1.4zM72.9 830.5h1.4v1.4h-1.4zM103.5 815.1h1.4v1.4h-1.4zM111.0 803.3h1.4v1.4h-1.4zM98.5 820.6h1.4v1.4h-1.4zM88.1 818.0h1.4v1.4h-1.4zM128.5 788.9h1.4v1.4h-1.4zM129.1 803.0h1.4v1.4h-1.4zM75.9 845.2h1.4v1.4h-1.4zM124.7 811.8h1.4v1.4h-1.4zM97.0 837.5h1.4v1.4h-1.4zM94.0 806.7h1.4v1.4h-1.4zM86.4 821.4h1.4v1.4h-1.4zM123.7 812.3h1.4v1.4h-1.4zM72.3 837.2h1.4v1.4h-1.4zM104.7 814.1h1.4v1.4h-1.4zM114.8 796.3h1.4v1.4h-1.4zM97.2 801.6h1.4v1.4h-1.4zM84.1 822.8h1.4v1.4h-1.4zM125.4 808.2h1.4v1.4h-1.4zM111.7 805.5h1.4v1.4h-1.4zM70.7 851.7h1.4v1.4h-1.4zM105.3 809.7h1.4v1.4h-1.4zM109.2 810.4h1.4v1.4h-1.4zM111.5 804.2h1.4v1.4h-1.4zM104.1 797.6h1.4v1.4h-1.4zM115.7 816.8h1.4v1.4h-1.4zM118.7 819.8h1.4v1.4h-1.4zM87.2 818.2h1.4v1.4h-1.4zM109.3 807.7h1.4v1.4h-1.4zM94.2 815.4h1.4v1.4h-1.4zM85.2 808.4h1.4v1.4h-1.4zM106.5 814.2h1.4v1.4h-1.4zM139.9 800.0h1.4v1.4h-1.4zM100.9 817.0h1.4v1.4h-1.4zM90.7 822.9h1.4v1.4h-1.4zM104.8 812.1h1.4v1.4h-1.4zM85.9 800.2h1.4v1.4h-1.4zM95.7 808.2h1.4v1.4h-1.4zM107.0 816.1h1.4v1.4h-1.4zM109.5 806.2h1.4v1.4h-1.4zM130.8 800.6h1.4v1.4h-1.4zM76.9 832.9h1.4v1.4h-1.4zM52.7 850.7h1.4v1.4h-1.4zM78.5 805.1h1.4v1.4h-1.4zM91.1 817.4h1.4v1.4h-1.4zM118.3 801.8h1.4v1.4h-1.4zM96.7 819.6h1.4v1.4h-1.4zM87.8 791.0h1.4v1.4h-1.4zM105.6 814.4h1.4v1.4h-1.4zM95.1 812.6h1.4v1.4h-1.4zM120.0 812.8h1.4v1.4h-1.4zM92.3 816.5h1.4v1.4h-1.4zM92.4 798.7h1.4v1.4h-1.4zM109.4 816.7h1.4v1.4h-1.4zM84.9 815.6h1.4v1.4h-1.4zM99.9 799.6h1.4v1.4h-1.4zM99.7 819.1h1.4v1.4h-1.4zM84.9 798.0h1.4v1.4h-1.4zM102.5 792.4h1.4v1.4h-1.4zM92.5 779.3h1.4v1.4h-1.4zM114.7 799.0h1.4v1.4h-1.4zM100.6 817.6h1.4v1.4h-1.4zM98.5 821.9h1.4v1.4h-1.4zM107.2 811.6h1.4v1.4h-1.4zM90.6 847.6h1.4v1.4h-1.4zM110.4 799.7h1.4v1.4h-1.4zM124.1 824.0h1.4v1.4h-1.4zM117.8 816.8h1.4v1.4h-1.4zM94.5 819.1h1.4v1.4h-1.4zM88.6 787.8h1.4v1.4h-1.4zM112.0 812.6h1.4v1.4h-1.4zM121.6 783.9h1.4v1.4h-1.4zM138.3 793.2h1.4v1.4h-1.4zM112.9 801.1h1.4v1.4h-1.4zM100.0 809.4h1.4v1.4h-1.4zM103.1 828.9h1.4v1.4h-1.4zM133.7 805.0h1.4v1.4h-1.4zM104.9 817.9h1.4v1.4h-1.4zM106.9 824.9h1.4v1.4h-1.4zM109.6 822.3h1.4v1.4h-1.4zM97.4 794.5h1.4v1.4h-1.4zM108.5 795.1h1.4v1.4h-1.4zM108.0 797.4h1.4v1.4h-1.4zM123.4 796.6h1.4v1.4h-1.4zM93.8 824.9h1.4v1.4h-1.4zM112.2 804.0h1.4v1.4h-1.4zM103.1 797.6h1.4v1.4h-1.4zM108.7 785.3h1.4v1.4h-1.4zM127.7 798.2h1.4v1.4h-1.4zM88.2 831.7h1.4v1.4h-1.4zM81.5 805.5h1.4v1.4h-1.4zM110.1 801.1h1.4v1.4h-1.4zM114.5 831.6h1.4v1.4h-1.4zM103.4 808.5h1.4v1.4h-1.4zM120.9 818.3h1.4v1.4h-1.4zM94.1 789.4h1.4v1.4h-1.4zM67.4 834.2h1.4v1.4h-1.4zM133.4 806.2h1.4v1.4h-1.4zM99.3 809.1h1.4v1.4h-1.4zM108.7 799.1h1.4v1.4h-1.4zM113.3 795.2h1.4v1.4h-1.4zM96.7 806.5h1.4v1.4h-1.4zM100.7 798.0h1.4v1.4h-1.4zM94.7 801.2h1.4v1.4h-1.4zM96.2 824.1h1.4v1.4h-1.4zM91.9 814.1h1.4v1.4h-1.4zM89.6 829.0h1.4v1.4h-1.4zM89.9 824.0h1.4v1.4h-1.4zM125.5 816.1h1.4v1.4h-1.4zM123.3 802.5h1.4v1.4h-1.4zM117.9 814.8h1.4v1.4h-1.4zM105.3 810.3h1.4v1.4h-1.4zM118.3 795.7h1.4v1.4h-1.4zM82.4 808.6h1.4v1.4h-1.4zM88.6 833.2h1.4v1.4h-1.4zM106.4 820.0h1.4v1.4h-1.4zM79.8 832.6h1.4v1.4h-1.4zM125.0 800.9h1.4v1.4h-1.4zM105.6 812.3h1.4v1.4h-1.4zM135.1 800.5h1.4v1.4h-1.4zM85.6 799.8h1.4v1.4h-1.4zM148.6 842.1h1.4v1.4h-1.4zM119.6 825.9h1.4v1.4h-1.4zM120.2 809.8h1.4v1.4h-1.4zM122.4 783.7h1.4v1.4h-1.4zM66.7 817.9h1.4v1.4h-1.4zM115.0 808.5h1.4v1.4h-1.4zM98.7 802.3h1.4v1.4h-1.4zM73.6 801.8h1.4v1.4h-1.4zM101.6 824.3h1.4v1.4h-1.4zM88.6 793.2h1.4v1.4h-1.4zM83.2 828.0h1.4v1.4h-1.4zM102.0 828.3h1.4v1.4h-1.4zM125.4 793.7h1.4v1.4h-1.4zM89.0 817.6h1.4v1.4h-1.4zM75.7 821.1h1.4v1.4h-1.4zM106.6 786.6h1.4v1.4h-1.4zM101.8 819.4h1.4v1.4h-1.4zM98.0 798.8h1.4v1.4h-1.4zM110.3 834.4h1.4v1.4h-1.4zM90.0 818.0h1.4v1.4h-1.4zM116.1 838.9h1.4v1.4h-1.4zM108.8 816.5h1.4v1.4h-1.4zM96.8 809.9h1.4v1.4h-1.4zM99.9 828.2h1.4v1.4h-1.4zM78.7 776.3h1.4v1.4h-1.4zM121.1 790.5h1.4v1.4h-1.4zM131.7 793.2h1.4v1.4h-1.4zM108.2 833.8h1.4v1.4h-1.4zM120.1 829.9h1.4v1.4h-1.4zM99.8 801.7h1.4v1.4h-1.4zM111.4 787.4h1.4v1.4h-1.4zM105.9 808.1h1.4v1.4h-1.4zM121.6 802.1h1.4v1.4h-1.4zM107.7 831.7h1.4v1.4h-1.4zM103.2 815.6h1.4v1.4h-1.4zM122.1 830.6h1.4v1.4h-1.4zM110.4 792.2h1.4v1.4h-1.4zM106.2 793.8h1.4v1.4h-1.4zM82.7 852.9h1.4v1.4h-1.4zM113.7 812.8h1.4v1.4h-1.4zM137.2 813.4h1.4v1.4h-1.4zM82.4 837.9h1.4v1.4h-1.4zM102.3 799.3h1.4v1.4h-1.4zM92.7 804.3h1.4v1.4h-1.4zM123.2 816.0h1.4v1.4h-1.4zM116.1 786.0h1.4v1.4h-1.4zM95.0 810.5h1.4v1.4h-1.4zM111.8 791.1h1.4v1.4h-1.4zM115.2 805.8h1.4v1.4h-1.4zM131.5 803.8h1.4v1.4h-1.4zM107.6 793.8h1.4v1.4h-1.4zM82.5 822.3h1.4v1.4h-1.4zM116.9 822.9h1.4v1.4h-1.4zM81.4 820.3h1.4v1.4h-1.4zM120.3 775.3h1.4v1.4h-1.4zM101.2 786.6h1.4v1.4h-1.4zM98.7 812.1h1.4v1.4h-1.4zM102.9 806.7h1.4v1.4h-1.4zM114.7 800.8h1.4v1.4h-1.4zM118.3 795.3h1.4v1.4h-1.4zM106.4 804.0h1.4v1.4h-1.4zM141.6 792.5h1.4v1.4h-1.4zM107.4 812.0h1.4v1.4h-1.4zM124.2 793.3h1.4v1.4h-1.4zM96.6 804.7h1.4v1.4h-1.4zM96.0 815.7h1.4v1.4h-1.4zM87.1 817.6h1.4v1.4h-1.4zM115.5 823.0h1.4v1.4h-1.4zM117.5 797.4h1.4v1.4h-1.4zM118.6 793.7h1.4v1.4h-1.4zM119.1 814.6h1.4v1.4h-1.4zM77.8 808.3h1.4v1.4h-1.4zM127.2 809.0h1.4v1.4h-1.4zM114.3 803.2h1.4v1.4h-1.4zM92.4 803.8h1.4v1.4h-1.4zM62.6 831.3h1.4v1.4h-1.4zM109.1 827.8h1.4v1.4h-1.4zM108.1 804.4h1.4v1.4h-1.4zM115.5 824.2h1.4v1.4h-1.4zM108.0 789.9h1.4v1.4h-1.4zM120.3 806.4h1.4v1.4h-1.4zM110.0 828.0h1.4v1.4h-1.4zM104.7 805.9h1.4v1.4h-1.4zM122.8 800.1h1.4v1.4h-1.4zM95.1 841.4h1.4v1.4h-1.4zM140.6 782.0h1.4v1.4h-1.4zM133.3 814.8h1.4v1.4h-1.4zM94.8 807.9h1.4v1.4h-1.4zM101.9 794.9h1.4v1.4h-1.4zM86.1 811.4h1.4v1.4h-1.4zM101.5 804.5h1.4v1.4h-1.4zM117.1 803.0h1.4v1.4h-1.4zM105.2 786.8h1.4v1.4h-1.4zM132.7 788.9h1.4v1.4h-1.4zM109.6 802.5h1.4v1.4h-1.4zM102.1 804.4h1.4v1.4h-1.4zM108.4 800.0h1.4v1.4h-1.4zM90.7 818.3h1.4v1.4h-1.4zM81.6 834.5h1.4v1.4h-1.4zM107.0 798.9h1.4v1.4h-1.4zM99.7 828.1h1.4v1.4h-1.4zM91.9 828.2h1.4v1.4h-1.4zM108.4 802.8h1.4v1.4h-1.4zM89.3 822.0h1.4v1.4h-1.4zM105.4 784.2h1.4v1.4h-1.4zM114.1 796.3h1.4v1.4h-1.4zM107.7 786.0h1.4v1.4h-1.4zM118.0 810.4h1.4v1.4h-1.4zM103.5 806.6h1.4v1.4h-1.4zM130.4 791.2h1.4v1.4h-1.4zM82.5 838.1h1.4v1.4h-1.4zM101.5 799.3h1.4v1.4h-1.4zM111.0 789.1h1.4v1.4h-1.4zM88.8 817.0h1.4v1.4h-1.4zM129.6 818.8h1.4v1.4h-1.4zM120.7 795.3h1.4v1.4h-1.4zM118.0 809.8h1.4v1.4h-1.4zM112.7 798.2h1.4v1.4h-1.4zM97.9 820.4h1.4v1.4h-1.4zM101.3 826.7h1.4v1.4h-1.4zM106.1 848.2h1.4v1.4h-1.4zM109.7 792.8h1.4v1.4h-1.4zM117.8 806.9h1.4v1.4h-1.4zM108.6 799.1h1.4v1.4h-1.4zM108.8 808.8h1.4v1.4h-1.4zM98.0 815.4h1.4v1.4h-1.4zM97.3 820.5h1.4v1.4h-1.4zM117.1 804.3h1.4v1.4h-1.4zM112.9 824.1h1.4v1.4h-1.4zM103.1 823.7h1.4v1.4h-1.4zM125.6 821.3h1.4v1.4h-1.4zM135.4 776.4h1.4v1.4h-1.4zM105.7 824.7h1.4v1.4h-1.4zM113.2 813.9h1.4v1.4h-1.4zM94.3 825.0h1.4v1.4h-1.4zM133.4 790.8h1.4v1.4h-1.4zM124.9 788.2h1.4v1.4h-1.4zM95.5 824.5h1.4v1.4h-1.4zM94.5 814.8h1.4v1.4h-1.4zM111.5 830.1h1.4v1.4h-1.4zM107.4 813.3h1.4v1.4h-1.4zM128.0 781.0h1.4v1.4h-1.4zM116.0 814.3h1.4v1.4h-1.4zM92.4 822.4h1.4v1.4h-1.4zM97.0 828.8h1.4v1.4h-1.4zM101.4 810.5h1.4v1.4h-1.4zM114.8 812.1h1.4v1.4h-1.4zM115.0 812.9h1.4v1.4h-1.4zM103.8 821.6h1.4v1.4h-1.4zM99.6 811.9h1.4v1.4h-1.4zM149.9 766.9h1.4v1.4h-1.4zM105.0 816.3h1.4v1.4h-1.4zM101.0 795.2h1.4v1.4h-1.4zM88.5 806.9h1.4v1.4h-1.4zM107.3 817.7h1.4v1.4h-1.4zM100.6 836.2h1.4v1.4h-1.4zM83.5 824.2h1.4v1.4h-1.4zM136.7 805.5h1.4v1.4h-1.4zM121.1 814.6h1.4v1.4h-1.4zM136.3 800.7h1.4v1.4h-1.4zM95.5 800.2h1.4v1.4h-1.4zM103.1 813.2h1.4v1.4h-1.4zM112.1 808.9h1.4v1.4h-1.4zM86.8 822.7h1.4v1.4h-1.4zM105.8 809.7h1.4v1.4h-1.4zM93.9 811.9h1.4v1.4h-1.4zM93.0 813.7h1.4v1.4h-1.4zM123.6 817.2h1.4v1.4h-1.4zM131.9 817.8h1.4v1.4h-1.4zM95.6 787.5h1.4v1.4h-1.4zM110.4 829.3h1.4v1.4h-1.4zM126.7 806.7h1.4v1.4h-1.4zM112.4 806.3h1.4v1.4h-1.4zM90.5 793.8h1.4v1.4h-1.4zM92.1 843.7h1.4v1.4h-1.4zM105.4 791.0h1.4v1.4h-1.4zM103.6 813.5h1.4v1.4h-1.4zM112.4 822.8h1.4v1.4h-1.4zM120.0 805.5h1.4v1.4h-1.4zM109.9 804.9h1.4v1.4h-1.4zM119.1 790.8h1.4v1.4h-1.4zM135.2 786.0h1.4v1.4h-1.4zM94.1 832.9h1.4v1.4h-1.4zM116.9 822.9h1.4v1.4h-1.4zM102.2 827.2h1.4v1.4h-1.4zM108.5 791.5h1.4v1.4h-1.4zM116.0 777.8h1.4v1.4h-1.4zM131.2 800.7h1.4v1.4h-1.4zM80.4 830.3h1.4v1.4h-1.4zM115.1 802.4h1.4v1.4h-1.4zM93.6 810.1h1.4v1.4h-1.4zM124.6 782.0h1.4v1.4h-1.4zM104.8 798.7h1.4v1.4h-1.4zM106.3 810.1h1.4v1.4h-1.4zM111.3 806.9h1.4v1.4h-1.4zM100.7 805.7h1.4v1.4h-1.4zM101.5 835.7h1.4v1.4h-1.4zM93.2 808.7h1.4v1.4h-1.4zM97.7 799.7h1.4v1.4h-1.4zM107.1 814.2h1.4v1.4h-1.4zM147.8 797.4h1.4v1.4h-1.4zM102.0 802.5h1.4v1.4h-1.4zM128.5 788.0h1.4v1.4h-1.4zM98.7 791.1h1.4v1.4h-1.4zM106.7 779.4h1.4v1.4h-1.4zM122.4 814.7h1.4v1.4h-1.4zM74.6 812.4h1.4v1.4h-1.4zM84.1 798.8h1.4v1.4h-1.4zM115.5 805.8h1.4v1.4h-1.4zM87.2 801.0h1.4v1.4h-1.4zM85.8 804.3h1.4v1.4h-1.4zM105.1 793.5h1.4v1.4h-1.4zM118.0 807.0h1.4v1.4h-1.4zM81.6 835.4h1.4v1.4h-1.4zM84.6 832.3h1.4v1.4h-1.4zM122.1 810.8h1.4v1.4h-1.4zM99.6 810.7h1.4v1.4h-1.4zM99.2 816.9h1.4v1.4h-1.4zM106.5 796.6h1.4v1.4h-1.4zM111.5 821.7h1.4v1.4h-1.4zM102.7 808.5h1.4v1.4h-1.4zM110.4 791.2h1.4v1.4h-1.4zM102.1 804.6h1.4v1.4h-1.4zM88.7 804.9h1.4v1.4h-1.4zM94.8 811.6h1.4v1.4h-1.4zM119.7 794.2h1.4v1.4h-1.4zM88.8 815.4h1.4v1.4h-1.4zM90.5 822.2h1.4v1.4h-1.4zM95.5 822.7h1.4v1.4h-1.4zM114.3 801.2h1.4v1.4h-1.4zM115.7 806.2h1.4v1.4h-1.4zM84.2 827.5h1.4v1.4h-1.4zM126.0 792.3h1.4v1.4h-1.4zM106.8 817.3h1.4v1.4h-1.4zM104.0 816.2h1.4v1.4h-1.4zM110.1 786.0h1.4v1.4h-1.4zM80.1 825.3h1.4v1.4h-1.4zM77.6 825.9h1.4v1.4h-1.4zM83.2 852.6h1.4v1.4h-1.4zM117.1 808.7h1.4v1.4h-1.4zM91.5 827.4h1.4v1.4h-1.4zM107.7 799.5h1.4v1.4h-1.4zM86.1 816.3h1.4v1.4h-1.4zM97.1 807.3h1.4v1.4h-1.4zM81.6 837.3h1.4v1.4h-1.4zM85.6 819.3h1.4v1.4h-1.4zM123.9 806.3h1.4v1.4h-1.4zM115.1 771.6h1.4v1.4h-1.4zM84.6 832.1h1.4v1.4h-1.4zM112.8 815.2h1.4v1.4h-1.4zM108.7 818.7h1.4v1.4h-1.4zM91.6 790.3h1.4v1.4h-1.4zM87.1 805.6h1.4v1.4h-1.4zM124.6 816.0h1.4v1.4h-1.4zM101.3 809.5h1.4v1.4h-1.4zM111.9 803.8h1.4v1.4h-1.4zM124.8 808.8h1.4v1.4h-1.4zM117.7 802.2h1.4v1.4h-1.4zM96.7 767.3h1.4v1.4h-1.4zM115.5 790.0h1.4v1.4h-1.4zM96.4 823.0h1.4v1.4h-1.4zM90.0 811.8h1.4v1.4h-1.4zM91.5 802.5h1.4v1.4h-1.4zM99.4 800.7h1.4v1.4h-1.4zM105.0 817.8h1.4v1.4h-1.4zM100.3 803.1h1.4v1.4h-1.4zM89.8 815.0h1.4v1.4h-1.4zM163.5 778.4h1.4v1.4h-1.4zM115.0 801.5h1.4v1.4h-1.4zM119.0 786.8h1.4v1.4h-1.4zM100.3 833.0h1.4v1.4h-1.4zM92.1 831.2h1.4v1.4h-1.4zM79.3 822.3h1.4v1.4h-1.4zM89.4 818.7h1.4v1.4h-1.4zM109.3 810.6h1.4v1.4h-1.4zM84.9 816.3h1.4v1.4h-1.4zM108.1 817.6h1.4v1.4h-1.4zM100.0 811.9h1.4v1.4h-1.4zM109.6 814.8h1.4v1.4h-1.4zM115.6 790.9h1.4v1.4h-1.4zM91.0 823.6h1.4v1.4h-1.4zM109.8 812.3h1.4v1.4h-1.4zM72.4 823.2h1.4v1.4h-1.4zM111.6 824.9h1.4v1.4h-1.4zM117.7 823.9h1.4v1.4h-1.4zM98.6 809.7h1.4v1.4h-1.4zM121.8 804.4h1.4v1.4h-1.4zM99.7 805.4h1.4v1.4h-1.4zM103.8 811.1h1.4v1.4h-1.4zM99.8 818.4h1.4v1.4h-1.4zM117.1 809.5h1.4v1.4h-1.4zM69.5 828.2h1.4v1.4h-1.4zM127.6 804.6h1.4v1.4h-1.4zM84.8 828.3h1.4v1.4h-1.4zM133.0 802.1h1.4v1.4h-1.4zM109.2 807.8h1.4v1.4h-1.4zM99.1 830.5h1.4v1.4h-1.4zM86.3 788.6h1.4v1.4h-1.4zM85.4 837.3h1.4v1.4h-1.4zM86.6 809.2h1.4v1.4h-1.4zM90.2 841.1h1.4v1.4h-1.4zM114.7 812.4h1.4v1.4h-1.4zM103.4 799.6h1.4v1.4h-1.4zM84.6 837.3h1.4v1.4h-1.4zM96.9 823.7h1.4v1.4h-1.4zM119.3 792.7h1.4v1.4h-1.4zM110.3 791.7h1.4v1.4h-1.4zM87.2 829.7h1.4v1.4h-1.4zM81.7 828.7h1.4v1.4h-1.4zM98.7 831.4h1.4v1.4h-1.4zM110.8 815.0h1.4v1.4h-1.4zM116.3 800.0h1.4v1.4h-1.4zM90.3 824.0h1.4v1.4h-1.4zM101.1 812.9h1.4v1.4h-1.4zM111.0 814.3h1.4v1.4h-1.4zM106.7 823.5h1.4v1.4h-1.4zM101.1 807.4h1.4v1.4h-1.4zM100.6 807.3h1.4v1.4h-1.4zM97.7 805.2h1.4v1.4h-1.4zM66.5 813.6h1.4v1.4h-1.4zM120.3 807.9h1.4v1.4h-1.4zM89.3 819.9h1.4v1.4h-1.4zM90.3 831.7h1.4v1.4h-1.4zM110.1 783.8h1.4v1.4h-1.4zM89.5 836.3h1.4v1.4h-1.4zM124.2 819.5h1.4v1.4h-1.4zM105.7 802.4h1.4v1.4h-1.4zM101.0 816.5h1.4v1.4h-1.4zM118.3 779.0h1.4v1.4h-1.4zM99.4 831.7h1.4v1.4h-1.4zM113.4 827.2h1.4v1.4h-1.4zM104.2 824.1h1.4v1.4h-1.4zM99.8 819.9h1.4v1.4h-1.4zM95.0 798.8h1.4v1.4h-1.4zM108.6 814.1h1.4v1.4h-1.4zM113.8 820.6h1.4v1.4h-1.4zM103.8 821.2h1.4v1.4h-1.4zM105.3 802.6h1.4v1.4h-1.4zM99.2 802.4h1.4v1.4h-1.4zM125.5 802.5h1.4v1.4h-1.4zM117.6 802.8h1.4v1.4h-1.4zM85.3 836.3h1.4v1.4h-1.4zM85.9 835.7h1.4v1.4h-1.4zM100.9 806.6h1.4v1.4h-1.4zM83.0 820.7h1.4v1.4h-1.4zM100.7 816.0h1.4v1.4h-1.4zM90.6 817.7h1.4v1.4h-1.4zM102.6 820.8h1.4v1.4h-1.4zM126.8 820.9h1.4v1.4h-1.4zM78.3 823.8h1.4v1.4h-1.4zM107.8 808.1h1.4v1.4h-1.4zM118.0 798.9h1.4v1.4h-1.4zM103.4 817.6h1.4v1.4h-1.4zM99.5 804.5h1.4v1.4h-1.4zM126.8 826.5h1.4v1.4h-1.4zM117.3 795.1h1.4v1.4h-1.4zM83.8 840.6h1.4v1.4h-1.4zM122.5 809.8h1.4v1.4h-1.4zM105.2 799.5h1.4v1.4h-1.4zM118.2 812.9h1.4v1.4h-1.4zM94.6 815.6h1.4v1.4h-1.4zM105.3 812.4h1.4v1.4h-1.4zM102.1 803.1h1.4v1.4h-1.4zM106.6 792.9h1.4v1.4h-1.4zM88.3 834.9h1.4v1.4h-1.4zM138.4 803.1h1.4v1.4h-1.4zM98.1 813.7h1.4v1.4h-1.4zM114.5 817.2h1.4v1.4h-1.4zM107.1 806.3h1.4v1.4h-1.4zM163.6 808.6h1.4v1.4h-1.4zM111.8 806.2h1.4v1.4h-1.4zM64.9 825.8h1.4v1.4h-1.4zM106.8 840.1h1.4v1.4h-1.4zM137.1 806.4h1.4v1.4h-1.4zM91.1 834.0h1.4v1.4h-1.4zM89.5 814.7h1.4v1.4h-1.4zM91.4 802.1h1.4v1.4h-1.4zM107.8 790.2h1.4v1.4h-1.4zM126.0 791.2h1.4v1.4h-1.4zM84.8 818.4h1.4v1.4h-1.4zM100.7 823.5h1.4v1.4h-1.4zM110.4 793.6h1.4v1.4h-1.4zM97.5 798.5h1.4v1.4h-1.4zM102.4 815.1h1.4v1.4h-1.4zM110.2 785.2h1.4v1.4h-1.4zM96.0 835.0h1.4v1.4h-1.4zM125.2 821.1h1.4v1.4h-1.4zM121.5 813.0h1.4v1.4h-1.4zM110.9 789.4h1.4v1.4h-1.4zM109.6 832.8h1.4v1.4h-1.4zM87.5 821.0h1.4v1.4h-1.4zM128.8 812.2h1.4v1.4h-1.4zM117.5 812.0h1.4v1.4h-1.4zM117.4 785.5h1.4v1.4h-1.4zM96.8 801.4h1.4v1.4h-1.4zM85.9 819.1h1.4v1.4h-1.4zM104.4 802.3h1.4v1.4h-1.4zM110.1 803.9h1.4v1.4h-1.4zM84.7 799.5h1.4v1.4h-1.4zM98.6 805.4h1.4v1.4h-1.4zM111.5 805.4h1.4v1.4h-1.4zM103.6 823.9h1.4v1.4h-1.4zM115.6 804.2h1.4v1.4h-1.4zM121.0 808.3h1.4v1.4h-1.4zM105.7 814.4h1.4v1.4h-1.4zM123.8 811.0h1.4v1.4h-1.4zM101.1 849.2h1.4v1.4h-1.4zM119.5 812.9h1.4v1.4h-1.4zM93.7 804.4h1.4v1.4h-1.4zM69.1 831.0h1.4v1.4h-1.4zM101.4 791.3h1.4v1.4h-1.4zM100.1 801.7h1.4v1.4h-1.4zM117.7 805.1h1.4v1.4h-1.4zM105.8 808.8h1.4v1.4h-1.4zM108.5 838.2h1.4v1.4h-1.4zM137.1 807.3h1.4v1.4h-1.4zM108.1 808.9h1.4v1.4h-1.4zM95.5 821.4h1.4v1.4h-1.4zM94.5 828.9h1.4v1.4h-1.4zM118.9 819.1h1.4v1.4h-1.4zM99.0 796.3h1.4v1.4h-1.4zM107.1 799.4h1.4v1.4h-1.4zM104.9 793.1h1.4v1.4h-1.4zM82.0 827.4h1.4v1.4h-1.4zM97.4 806.9h1.4v1.4h-1.4zM125.5 796.2h1.4v1.4h-1.4zM107.1 798.8h1.4v1.4h-1.4zM102.2 813.8h1.4v1.4h-1.4zM133.7 803.5h1.4v1.4h-1.4zM130.2 799.5h1.4v1.4h-1.4zM96.0 810.3h1.4v1.4h-1.4zM101.0 833.6h1.4v1.4h-1.4zM126.3 798.1h1.4v1.4h-1.4zM131.5 795.6h1.4v1.4h-1.4zM117.6 784.5h1.4v1.4h-1.4zM78.3 814.7h1.4v1.4h-1.4zM95.9 839.1h1.4v1.4h-1.4zM124.6 798.5h1.4v1.4h-1.4zM119.9 799.2h1.4v1.4h-1.4zM107.2 791.8h1.4v1.4h-1.4zM110.8 791.8h1.4v1.4h-1.4zM113.0 814.4h1.4v1.4h-1.4zM103.5 815.8h1.4v1.4h-1.4zM94.5 821.3h1.4v1.4h-1.4zM119.4 791.7h1.4v1.4h-1.4zM95.0 821.3h1.4v1.4h-1.4zM121.0 820.6h1.4v1.4h-1.4zM101.4 825.1h1.4v1.4h-1.4zM103.0 825.9h1.4v1.4h-1.4zM111.6 814.2h1.4v1.4h-1.4zM96.3 834.9h1.4v1.4h-1.4zM55.8 848.2h1.4v1.4h-1.4zM105.6 808.4h1.4v1.4h-1.4zM94.1 794.5h1.4v1.4h-1.4zM127.9 802.1h1.4v1.4h-1.4zM117.9 814.8h1.4v1.4h-1.4zM113.9 800.5h1.4v1.4h-1.4zM93.9 806.4h1.4v1.4h-1.4zM115.9 808.9h1.4v1.4h-1.4zM109.0 790.1h1.4v1.4h-1.4zM108.7 810.2h1.4v1.4h-1.4zM71.4 841.9h1.4v1.4h-1.4zM80.1 810.4h1.4v1.4h-1.4zM103.8 819.8h1.4v1.4h-1.4zM100.7 817.4h1.4v1.4h-1.4zM95.5 798.2h1.4v1.4h-1.4zM157.5 795.7h1.4v1.4h-1.4zM115.5 802.2h1.4v1.4h-1.4zM113.6 808.2h1.4v1.4h-1.4zM120.6 820.4h1.4v1.4h-1.4zM130.2 773.9h1.4v1.4h-1.4zM98.9 807.6h1.4v1.4h-1.4zM79.5 805.9h1.4v1.4h-1.4zM86.3 809.3h1.4v1.4h-1.4zM108.2 831.4h1.4v1.4h-1.4zM104.3 836.6h1.4v1.4h-1.4zM96.1 815.7h1.4v1.4h-1.4zM99.6 807.1h1.4v1.4h-1.4zM94.7 816.7h1.4v1.4h-1.4zM106.7 846.0h1.4v1.4h-1.4zM79.4 810.5h1.4v1.4h-1.4zM105.0 833.6h1.4v1.4h-1.4zM133.7 792.0h1.4v1.4h-1.4zM91.9 815.4h1.4v1.4h-1.4zM125.7 782.5h1.4v1.4h-1.4zM97.5 802.4h1.4v1.4h-1.4zM131.5 785.8h1.4v1.4h-1.4zM107.0 819.5h1.4v1.4h-1.4zM87.0 813.5h1.4v1.4h-1.4zM121.5 835.8h1.4v1.4h-1.4zM94.0 807.0h1.4v1.4h-1.4zM115.5 803.1h1.4v1.4h-1.4zM111.8 813.6h1.4v1.4h-1.4zM124.7 807.9h1.4v1.4h-1.4zM94.9 811.9h1.4v1.4h-1.4zM111.7 824.1h1.4v1.4h-1.4zM117.0 801.5h1.4v1.4h-1.4zM91.8 811.5h1.4v1.4h-1.4zM103.0 813.5h1.4v1.4h-1.4zM100.5 832.5h1.4v1.4h-1.4zM109.2 829.5h1.4v1.4h-1.4zM92.7 812.9h1.4v1.4h-1.4zM110.3 793.4h1.4v1.4h-1.4zM79.1 819.9h1.4v1.4h-1.4zM99.2 836.8h1.4v1.4h-1.4zM111.6 810.6h1.4v1.4h-1.4zM105.1 827.4h1.4v1.4h-1.4zM104.2 809.8h1.4v1.4h-1.4zM102.0 800.9h1.4v1.4h-1.4zM101.7 799.2h1.4v1.4h-1.4zM89.0 821.3h1.4v1.4h-1.4zM133.8 780.7h1.4v1.4h-1.4zM137.9 801.6h1.4v1.4h-1.4zM132.7 789.3h1.4v1.4h-1.4zM100.6 820.3h1.4v1.4h-1.4zM101.8 810.5h1.4v1.4h-1.4zM113.4 783.9h1.4v1.4h-1.4zM106.3 814.2h1.4v1.4h-1.4zM100.6 822.6h1.4v1.4h-1.4zM96.6 835.3h1.4v1.4h-1.4zM104.5 803.1h1.4v1.4h-1.4zM93.7 822.8h1.4v1.4h-1.4zM93.8 846.4h1.4v1.4h-1.4zM94.0 830.2h1.4v1.4h-1.4zM103.0 816.8h1.4v1.4h-1.4zM111.5 827.6h1.4v1.4h-1.4zM101.0 798.7h1.4v1.4h-1.4zM91.6 806.7h1.4v1.4h-1.4zM121.0 791.2h1.4v1.4h-1.4zM109.3 791.5h1.4v1.4h-1.4zM110.1 787.2h1.4v1.4h-1.4zM106.2 843.6h1.4v1.4h-1.4zM104.2 792.0h1.4v1.4h-1.4zM119.3 819.4h1.4v1.4h-1.4zM78.8 826.7h1.4v1.4h-1.4zM93.4 808.4h1.4v1.4h-1.4zM107.0 825.3h1.4v1.4h-1.4zM122.1 806.5h1.4v1.4h-1.4zM119.9 823.5h1.4v1.4h-1.4zM99.8 806.4h1.4v1.4h-1.4zM127.1 809.0h1.4v1.4h-1.4zM87.3 819.9h1.4v1.4h-1.4zM120.7 802.7h1.4v1.4h-1.4zM79.3 830.9h1.4v1.4h-1.4zM112.7 796.1h1.4v1.4h-1.4zM85.7 785.1h1.4v1.4h-1.4zM123.0 796.1h1.4v1.4h-1.4zM97.9 836.6h1.4v1.4h-1.4zM93.4 817.6h1.4v1.4h-1.4zM113.1 804.1h1.4v1.4h-1.4zM130.2 794.4h1.4v1.4h-1.4zM114.0 802.7h1.4v1.4h-1.4zM94.1 820.9h1.4v1.4h-1.4zM128.3 782.9h1.4v1.4h-1.4zM94.5 821.5h1.4v1.4h-1.4zM109.8 829.6h1.4v1.4h-1.4zM80.2 836.7h1.4v1.4h-1.4zM108.9 787.0h1.4v1.4h-1.4zM132.4 799.8h1.4v1.4h-1.4zM116.4 784.8h1.4v1.4h-1.4zM97.5 816.1h1.4v1.4h-1.4zM103.1 835.2h1.4v1.4h-1.4zM148.2 822.2h1.4v1.4h-1.4zM80.0 821.3h1.4v1.4h-1.4zM99.5 806.4h1.4v1.4h-1.4zM108.6 811.9h1.4v1.4h-1.4zM92.7 813.4h1.4v1.4h-1.4zM105.8 808.1h1.4v1.4h-1.4zM84.6 818.6h1.4v1.4h-1.4zM123.7 804.3h1.4v1.4h-1.4zM92.5 822.7h1.4v1.4h-1.4zM138.7 794.8h1.4v1.4h-1.4zM116.2 825.9h1.4v1.4h-1.4zM71.6 836.9h1.4v1.4h-1.4zM95.8 818.5h1.4v1.4h-1.4zM115.1 810.0h1.4v1.4h-1.4zM68.7 822.5h1.4v1.4h-1.4zM100.8 800.6h1.4v1.4h-1.4zM96.3 825.9h1.4v1.4h-1.4zM114.3 820.9h1.4v1.4h-1.4zM88.4 815.5h1.4v1.4h-1.4zM135.6 799.2h1.4v1.4h-1.4zM145.8 778.8h1.4v1.4h-1.4zM83.8 824.2h1.4v1.4h-1.4zM114.4 821.3h1.4v1.4h-1.4zM115.6 810.6h1.4v1.4h-1.4zM103.5 799.0h1.4v1.4h-1.4zM94.7 820.2h1.4v1.4h-1.4zM107.0 826.7h1.4v1.4h-1.4zM86.7 834.9h1.4v1.4h-1.4zM110.3 824.4h1.4v1.4h-1.4zM102.1 813.0h1.4v1.4h-1.4zM130.0 822.0h1.4v1.4h-1.4zM86.9 839.5h1.4v1.4h-1.4zM89.9 840.9h1.4v1.4h-1.4zM109.2 799.6h1.4v1.4h-1.4zM78.7 854.9h1.4v1.4h-1.4zM111.1 815.7h1.4v1.4h-1.4zM112.2 813.9h1.4v1.4h-1.4zM118.6 807.0h1.4v1.4h-1.4zM69.7 817.3h1.4v1.4h-1.4zM119.3 802.4h1.4v1.4h-1.4zM128.3 794.9h1.4v1.4h-1.4zM90.8 783.0h1.4v1.4h-1.4zM74.8 842.0h1.4v1.4h-1.4zM109.6 807.2h1.4v1.4h-1.4zM99.5 819.3h1.4v1.4h-1.4zM93.5 820.7h1.4v1.4h-1.4zM112.1 801.1h1.4v1.4h-1.4zM95.1 813.2h1.4v1.4h-1.4zM100.8 794.8h1.4v1.4h-1.4zM104.7 803.1h1.4v1.4h-1.4zM102.4 771.3h1.4v1.4h-1.4zM104.8 799.2h1.4v1.4h-1.4zM118.2 793.8h1.4v1.4h-1.4zM101.3 800.9h1.4v1.4h-1.4zM112.9 796.4h1.4v1.4h-1.4zM139.8 801.0h1.4v1.4h-1.4zM86.5 830.0h1.4v1.4h-1.4zM107.3 834.8h1.4v1.4h-1.4zM125.3 800.4h1.4v1.4h-1.4zM112.4 809.8h1.4v1.4h-1.4zM113.7 807.6h1.4v1.4h-1.4zM113.9 835.1h1.4v1.4h-1.4zM120.3 800.1h1.4v1.4h-1.4zM80.4 821.9h1.4v1.4h-1.4zM130.1 803.5h1.4v1.4h-1.4zM100.7 825.2h1.4v1.4h-1.4zM91.4 814.0h1.4v1.4h-1.4zM116.5 815.9h1.4v1.4h-1.4zM120.1 786.4h1.4v1.4h-1.4zM119.9 816.3h1.4v1.4h-1.4zM102.1 823.1h1.4v1.4h-1.4zM116.1 801.4h1.4v1.4h-1.4zM77.9 834.1h1.4v1.4h-1.4zM96.7 819.3h1.4v1.4h-1.4zM107.8 803.5h1.4v1.4h-1.4zM113.0 803.0h1.4v1.4h-1.4zM126.4 817.9h1.4v1.4h-1.4zM107.5 814.1h1.4v1.4h-1.4zM112.9 799.4h1.4v1.4h-1.4zM106.7 820.2h1.4v1.4h-1.4zM96.6 843.9h1.4v1.4h-1.4zM109.1 821.2h1.4v1.4h-1.4zM104.6 792.7h1.4v1.4h-1.4zM107.4 818.4h1.4v1.4h-1.4zM103.3 792.6h1.4v1.4h-1.4zM100.0 818.9h1.4v1.4h-1.4zM124.2 794.6h1.4v1.4h-1.4zM106.0 819.1h1.4v1.4h-1.4zM108.5 816.0h1.4v1.4h-1.4zM85.8 795.9h1.4v1.4h-1.4zM91.2 829.7h1.4v1.4h-1.4zM102.5 794.9h1.4v1.4h-1.4zM113.4 795.0h1.4v1.4h-1.4zM110.5 814.8h1.4v1.4h-1.4zM106.4 817.3h1.4v1.4h-1.4zM137.4 786.2h1.4v1.4h-1.4zM106.1 812.9h1.4v1.4h-1.4zM122.1 801.1h1.4v1.4h-1.4zM97.2 834.8h1.4v1.4h-1.4zM121.3 795.0h1.4v1.4h-1.4zM111.2 796.4h1.4v1.4h-1.4zM121.5 831.0h1.4v1.4h-1.4zM99.4 803.6h1.4v1.4h-1.4zM125.1 815.5h1.4v1.4h-1.4zM109.2 797.1h1.4v1.4h-1.4zM117.6 799.4h1.4v1.4h-1.4zM102.1 795.7h1.4v1.4h-1.4zM106.7 828.0h1.4v1.4h-1.4zM88.9 808.4h1.4v1.4h-1.4zM108.9 800.0h1.4v1.4h-1.4zM138.3 812.5h1.4v1.4h-1.4zM87.3 797.3h1.4v1.4h-1.4zM107.7 809.8h1.4v1.4h-1.4zM107.0 823.4h1.4v1.4h-1.4zM79.7 804.3h1.4v1.4h-1.4zM93.5 811.9h1.4v1.4h-1.4zM91.5 835.7h1.4v1.4h-1.4zM102.7 787.0h1.4v1.4h-1.4zM109.5 805.3h1.4v1.4h-1.4zM68.0 833.7h1.4v1.4h-1.4zM95.4 830.6h1.4v1.4h-1.4zM120.0 803.0h1.4v1.4h-1.4zM109.1 797.4h1.4v1.4h-1.4zM66.4 834.9h1.4v1.4h-1.4zM106.9 813.9h1.4v1.4h-1.4zM58.2 820.5h1.4v1.4h-1.4zM92.9 800.3h1.4v1.4h-1.4zM100.4 802.5h1.4v1.4h-1.4zM120.2 800.2h1.4v1.4h-1.4zM93.7 820.5h1.4v1.4h-1.4zM121.3 802.3h1.4v1.4h-1.4zM115.8 800.2h1.4v1.4h-1.4zM110.7 794.5h1.4v1.4h-1.4zM121.9 835.5h1.4v1.4h-1.4zM103.2 802.3h1.4v1.4h-1.4zM77.3 840.7h1.4v1.4h-1.4zM111.1 807.1h1.4v1.4h-1.4zM118.4 792.4h1.4v1.4h-1.4zM118.4 792.3h1.4v1.4h-1.4zM97.3 809.8h1.4v1.4h-1.4zM116.1 789.4h1.4v1.4h-1.4zM103.8 823.1h1.4v1.4h-1.4zM132.0 791.8h1.4v1.4h-1.4zM94.1 792.7h1.4v1.4h-1.4zM93.6 803.9h1.4v1.4h-1.4zM130.7 802.3h1.4v1.4h-1.4zM111.0 817.0h1.4v1.4h-1.4zM89.0 819.9h1.4v1.4h-1.4zM147.7 778.8h1.4v1.4h-1.4zM109.0 798.9h1.4v1.4h-1.4zM94.6 823.4h1.4v1.4h-1.4zM104.2 810.8h1.4v1.4h-1.4zM95.4 832.5h1.4v1.4h-1.4zM93.0 838.5h1.4v1.4h-1.4zM86.5 821.2h1.4v1.4h-1.4zM110.1 827.4h1.4v1.4h-1.4zM110.1 810.8h1.4v1.4h-1.4zM98.7 825.3h1.4v1.4h-1.4zM66.2 800.1h1.4v1.4h-1.4zM120.2 793.8h1.4v1.4h-1.4zM104.2 805.0h1.4v1.4h-1.4zM128.8 791.3h1.4v1.4h-1.4zM99.8 804.8h1.4v1.4h-1.4zM130.8 785.0h1.4v1.4h-1.4zM110.8 778.1h1.4v1.4h-1.4zM108.2 822.2h1.4v1.4h-1.4zM105.5 825.8h1.4v1.4h-1.4zM124.6 799.8h1.4v1.4h-1.4zM111.0 793.6h1.4v1.4h-1.4zM101.3 819.1h1.4v1.4h-1.4zM111.5 819.7h1.4v1.4h-1.4zM92.9 846.0h1.4v1.4h-1.4zM119.1 809.7h1.4v1.4h-1.4zM97.2 802.9h1.4v1.4h-1.4zM111.6 790.6h1.4v1.4h-1.4zM103.8 800.9h1.4v1.4h-1.4zM120.0 790.3h1.4v1.4h-1.4zM99.7 797.1h1.4v1.4h-1.4zM79.5 805.0h1.4v1.4h-1.4zM92.4 815.1h1.4v1.4h-1.4zM94.1 814.8h1.4v1.4h-1.4zM111.3 798.9h1.4v1.4h-1.4zM93.5 793.9h1.4v1.4h-1.4zM122.6 802.9h1.4v1.4h-1.4zM102.7 829.7h1.4v1.4h-1.4zM87.4 787.7h1.4v1.4h-1.4zM83.6 841.9h1.4v1.4h-1.4zM100.9 820.5h1.4v1.4h-1.4zM127.0 780.7h1.4v1.4h-1.4zM90.9 811.3h1.4v1.4h-1.4zM108.4 814.7h1.4v1.4h-1.4zM101.4 815.7h1.4v1.4h-1.4zM116.0 777.6h1.4v1.4h-1.4zM104.8 803.9h1.4v1.4h-1.4zM75.5 850.6h1.4v1.4h-1.4zM105.0 798.0h1.4v1.4h-1.4zM115.9 817.5h1.4v1.4h-1.4zM89.2 801.3h1.4v1.4h-1.4zM122.8 813.4h1.4v1.4h-1.4zM134.0 794.3h1.4v1.4h-1.4zM112.2 812.9h1.4v1.4h-1.4zM68.4 859.2h1.4v1.4h-1.4zM106.2 825.1h1.4v1.4h-1.4zM97.2 823.4h1.4v1.4h-1.4zM104.3 808.1h1.4v1.4h-1.4zM92.9 831.5h1.4v1.4h-1.4zM88.7 813.0h1.4v1.4h-1.4zM111.5 796.5h1.4v1.4h-1.4zM105.3 818.3h1.4v1.4h-1.4zM100.1 816.8h1.4v1.4h-1.4zM89.0 828.2h1.4v1.4h-1.4zM80.2 816.8h1.4v1.4h-1.4zM126.3 809.7h1.4v1.4h-1.4zM93.0 809.3h1.4v1.4h-1.4zM91.3 818.3h1.4v1.4h-1.4zM93.4 805.2h1.4v1.4h-1.4zM119.8 788.1h1.4v1.4h-1.4zM100.4 808.1h1.4v1.4h-1.4zM97.2 813.6h1.4v1.4h-1.4zM112.7 823.3h1.4v1.4h-1.4zM76.1 842.1h1.4v1.4h-1.4zM140.2 794.0h1.4v1.4h-1.4zM93.9 820.6h1.4v1.4h-1.4zM90.8 819.3h1.4v1.4h-1.4zM88.7 830.5h1.4v1.4h-1.4zM121.8 807.0h1.4v1.4h-1.4zM117.4 811.8h1.4v1.4h-1.4zM111.0 821.1h1.4v1.4h-1.4zM104.2 796.3h1.4v1.4h-1.4zM136.0 841.3h1.4v1.4h-1.4zM117.7 809.3h1.4v1.4h-1.4zM129.3 808.5h1.4v1.4h-1.4zM120.3 805.1h1.4v1.4h-1.4zM114.4 802.4h1.4v1.4h-1.4zM110.7 805.6h1.4v1.4h-1.4zM85.0 827.3h1.4v1.4h-1.4zM104.7 794.4h1.4v1.4h-1.4zM125.4 817.5h1.4v1.4h-1.4zM97.2 813.1h1.4v1.4h-1.4zM90.2 818.2h1.4v1.4h-1.4zM102.0 821.2h1.4v1.4h-1.4zM96.7 813.2h1.4v1.4h-1.4zM133.7 808.2h1.4v1.4h-1.4zM77.8 816.9h1.4v1.4h-1.4zM105.6 832.2h1.4v1.4h-1.4zM102.2 799.4h1.4v1.4h-1.4zM109.6 801.7h1.4v1.4h-1.4zM82.9 802.0h1.4v1.4h-1.4zM95.4 815.3h1.4v1.4h-1.4zM83.3 832.0h1.4v1.4h-1.4zM96.0 815.5h1.4v1.4h-1.4zM131.3 804.3h1.4v1.4h-1.4zM126.5 823.3h1.4v1.4h-1.4zM129.8 792.3h1.4v1.4h-1.4zM105.3 840.0h1.4v1.4h-1.4zM117.1 788.2h1.4v1.4h-1.4zM87.6 820.4h1.4v1.4h-1.4zM129.7 815.5h1.4v1.4h-1.4zM120.9 809.4h1.4v1.4h-1.4zM106.6 828.5h1.4v1.4h-1.4zM95.5 832.4h1.4v1.4h-1.4zM97.8 807.6h1.4v1.4h-1.4zM101.0 846.6h1.4v1.4h-1.4zM105.9 813.6h1.4v1.4h-1.4zM113.8 819.7h1.4v1.4h-1.4zM117.2 800.5h1.4v1.4h-1.4zM147.2 775.4h1.4v1.4h-1.4zM86.5 813.9h1.4v1.4h-1.4zM110.7 811.1h1.4v1.4h-1.4zM103.7 825.2h1.4v1.4h-1.4zM93.3 815.8h1.4v1.4h-1.4zM110.9 780.0h1.4v1.4h-1.4zM98.3 805.2h1.4v1.4h-1.4zM111.1 810.8h1.4v1.4h-1.4zM98.9 790.0h1.4v1.4h-1.4zM112.4 817.8h1.4v1.4h-1.4zM111.1 813.1h1.4v1.4h-1.4zM125.0 796.5h1.4v1.4h-1.4zM126.8 794.6h1.4v1.4h-1.4zM112.8 802.8h1.4v1.4h-1.4zM103.9 822.7h1.4v1.4h-1.4zM98.0 813.4h1.4v1.4h-1.4zM134.4 818.0h1.4v1.4h-1.4zM91.0 800.5h1.4v1.4h-1.4zM83.9 843.3h1.4v1.4h-1.4zM107.5 796.0h1.4v1.4h-1.4zM102.6 800.9h1.4v1.4h-1.4zM96.1 812.1h1.4v1.4h-1.4zM101.6 810.1h1.4v1.4h-1.4zM114.3 795.1h1.4v1.4h-1.4zM92.0 830.7h1.4v1.4h-1.4zM106.7 806.6h1.4v1.4h-1.4zM108.4 813.6h1.4v1.4h-1.4zM112.7 822.0h1.4v1.4h-1.4zM112.7 819.6h1.4v1.4h-1.4zM81.0 833.7h1.4v1.4h-1.4zM105.5 806.8h1.4v1.4h-1.4zM114.9 803.6h1.4v1.4h-1.4zM74.9 836.9h1.4v1.4h-1.4zM124.3 801.3h1.4v1.4h-1.4zM101.4 814.5h1.4v1.4h-1.4zM98.1 806.6h1.4v1.4h-1.4zM107.0 794.7h1.4v1.4h-1.4zM111.0 822.3h1.4v1.4h-1.4zM141.1 780.1h1.4v1.4h-1.4zM105.6 792.9h1.4v1.4h-1.4zM105.2 805.9h1.4v1.4h-1.4zM102.5 811.7h1.4v1.4h-1.4zM101.9 844.8h1.4v1.4h-1.4zM104.7 802.3h1.4v1.4h-1.4zM96.1 812.2h1.4v1.4h-1.4zM111.1 819.2h1.4v1.4h-1.4zM80.9 827.1h1.4v1.4h-1.4zM92.3 790.3h1.4v1.4h-1.4zM92.4 811.2h1.4v1.4h-1.4zM104.2 816.9h1.4v1.4h-1.4zM103.5 810.1h1.4v1.4h-1.4zM124.3 815.9h1.4v1.4h-1.4zM76.5 802.2h1.4v1.4h-1.4zM113.3 815.8h1.4v1.4h-1.4zM119.9 813.8h1.4v1.4h-1.4zM97.9 806.0h1.4v1.4h-1.4zM109.1 806.2h1.4v1.4h-1.4zM96.3 817.8h1.4v1.4h-1.4zM82.1 823.9h1.4v1.4h-1.4zM105.2 832.5h1.4v1.4h-1.4zM116.0 821.3h1.4v1.4h-1.4zM103.0 788.9h1.4v1.4h-1.4zM104.2 815.2h1.4v1.4h-1.4zM111.2 802.8h1.4v1.4h-1.4zM105.0 816.7h1.4v1.4h-1.4zM91.9 822.5h1.4v1.4h-1.4zM97.3 807.8h1.4v1.4h-1.4zM98.6 792.6h1.4v1.4h-1.4zM108.2 787.5h1.4v1.4h-1.4zM81.4 833.1h1.4v1.4h-1.4zM105.2 823.3h1.4v1.4h-1.4zM130.7 785.2h1.4v1.4h-1.4zM85.4 822.2h1.4v1.4h-1.4zM107.5 824.3h1.4v1.4h-1.4zM86.4 840.8h1.4v1.4h-1.4zM85.7 802.5h1.4v1.4h-1.4zM116.6 779.6h1.4v1.4h-1.4zM105.2 786.1h1.4v1.4h-1.4zM90.2 806.6h1.4v1.4h-1.4zM118.8 804.9h1.4v1.4h-1.4zM106.1 824.0h1.4v1.4h-1.4zM116.8 818.7h1.4v1.4h-1.4zM111.3 799.6h1.4v1.4h-1.4zM87.4 833.0h1.4v1.4h-1.4zM109.2 804.8h1.4v1.4h-1.4zM89.3 824.5h1.4v1.4h-1.4zM128.4 776.4h1.4v1.4h-1.4zM105.1 806.4h1.4v1.4h-1.4zM105.8 828.6h1.4v1.4h-1.4zM117.5 807.0h1.4v1.4h-1.4zM127.7 805.6h1.4v1.4h-1.4zM85.5 801.4h1.4v1.4h-1.4zM114.6 832.3h1.4v1.4h-1.4zM95.4 816.5h1.4v1.4h-1.4zM98.1 811.3h1.4v1.4h-1.4zM114.2 809.3h1.4v1.4h-1.4zM105.5 775.5h1.4v1.4h-1.4zM94.0 828.7h1.4v1.4h-1.4zM95.7 818.0h1.4v1.4h-1.4zM151.6 780.2h1.4v1.4h-1.4zM109.1 817.6h1.4v1.4h-1.4zM89.4 812.1h1.4v1.4h-1.4zM119.2 809.3h1.4v1.4h-1.4zM107.9 807.5h1.4v1.4h-1.4zM94.6 817.1h1.4v1.4h-1.4zM121.1 778.9h1.4v1.4h-1.4zM125.4 808.3h1.4v1.4h-1.4zM86.0 832.6h1.4v1.4h-1.4zM147.1 811.1h1.4v1.4h-1.4zM137.2 813.0h1.4v1.4h-1.4zM145.9 788.1h1.4v1.4h-1.4zM93.4 829.2h1.4v1.4h-1.4zM111.1 795.1h1.4v1.4h-1.4zM105.9 823.0h1.4v1.4h-1.4zM105.5 810.4h1.4v1.4h-1.4zM101.0 834.3h1.4v1.4h-1.4zM108.7 799.5h1.4v1.4h-1.4zM153.8 787.9h1.4v1.4h-1.4zM103.6 801.0h1.4v1.4h-1.4zM110.3 794.2h1.4v1.4h-1.4zM104.7 803.8h1.4v1.4h-1.4zM99.0 819.1h1.4v1.4h-1.4zM135.8 797.3h1.4v1.4h-1.4zM107.3 831.3h1.4v1.4h-1.4zM97.6 810.7h1.4v1.4h-1.4zM93.4 835.1h1.4v1.4h-1.4zM105.3 806.8h1.4v1.4h-1.4zM100.6 825.2h1.4v1.4h-1.4zM100.9 811.7h1.4v1.4h-1.4zM84.4 807.6h1.4v1.4h-1.4zM110.6 824.5h1.4v1.4h-1.4zM104.4 812.5h1.4v1.4h-1.4zM121.4 774.1h1.4v1.4h-1.4zM113.3 790.7h1.4v1.4h-1.4zM97.8 828.4h1.4v1.4h-1.4zM116.4 815.3h1.4v1.4h-1.4zM115.4 801.6h1.4v1.4h-1.4zM104.8 814.3h1.4v1.4h-1.4zM103.6 800.2h1.4v1.4h-1.4zM95.0 811.8h1.4v1.4h-1.4zM121.8 828.9h1.4v1.4h-1.4zM123.3 802.8h1.4v1.4h-1.4zM81.9 822.0h1.4v1.4h-1.4zM113.2 789.2h1.4v1.4h-1.4zM104.9 810.9h1.4v1.4h-1.4zM102.3 822.9h1.4v1.4h-1.4zM61.6 835.2h1.4v1.4h-1.4zM99.2 819.8h1.4v1.4h-1.4zM113.9 795.8h1.4v1.4h-1.4zM114.0 835.3h1.4v1.4h-1.4zM104.1 819.3h1.4v1.4h-1.4zM83.9 816.4h1.4v1.4h-1.4zM120.7 787.7h1.4v1.4h-1.4zM104.7 812.8h1.4v1.4h-1.4zM119.0 800.2h1.4v1.4h-1.4zM92.0 834.0h1.4v1.4h-1.4zM92.8 816.3h1.4v1.4h-1.4zM126.9 809.9h1.4v1.4h-1.4zM74.4 801.7h1.4v1.4h-1.4zM102.5 818.7h1.4v1.4h-1.4zM101.0 808.3h1.4v1.4h-1.4zM115.6 801.6h1.4v1.4h-1.4zM110.5 826.0h1.4v1.4h-1.4zM102.4 810.1h1.4v1.4h-1.4zM91.0 833.6h1.4v1.4h-1.4zM88.1 826.6h1.4v1.4h-1.4zM87.1 795.6h1.4v1.4h-1.4zM98.9 794.2h1.4v1.4h-1.4zM139.4 807.6h1.4v1.4h-1.4zM94.7 818.0h1.4v1.4h-1.4zM106.8 826.5h1.4v1.4h-1.4zM118.0 779.1h1.4v1.4h-1.4zM109.8 816.6h1.4v1.4h-1.4zM144.4 756.8h1.4v1.4h-1.4zM95.3 826.5h1.4v1.4h-1.4zM87.9 824.6h1.4v1.4h-1.4zM103.2 818.7h1.4v1.4h-1.4zM94.7 799.9h1.4v1.4h-1.4zM102.1 816.4h1.4v1.4h-1.4zM90.9 808.8h1.4v1.4h-1.4zM100.2 798.9h1.4v1.4h-1.4zM117.7 817.2h1.4v1.4h-1.4zM87.8 824.6h1.4v1.4h-1.4zM94.8 807.4h1.4v1.4h-1.4zM85.5 816.0h1.4v1.4h-1.4zM88.5 810.8h1.4v1.4h-1.4zM100.0 813.9h1.4v1.4h-1.4zM109.5 804.8h1.4v1.4h-1.4zM100.6 794.6h1.4v1.4h-1.4zM77.3 825.0h1.4v1.4h-1.4zM75.8 833.9h1.4v1.4h-1.4zM118.8 791.3h1.4v1.4h-1.4zM99.1 809.3h1.4v1.4h-1.4zM120.3 823.2h1.4v1.4h-1.4zM100.9 825.8h1.4v1.4h-1.4zM100.6 802.6h1.4v1.4h-1.4zM91.5 818.2h1.4v1.4h-1.4zM84.3 808.6h1.4v1.4h-1.4zM98.0 808.6h1.4v1.4h-1.4zM107.9 822.3h1.4v1.4h-1.4zM109.5 799.2h1.4v1.4h-1.4zM114.2 813.9h1.4v1.4h-1.4zM62.6 822.1h1.4v1.4h-1.4zM117.2 799.9h1.4v1.4h-1.4zM132.1 806.0h1.4v1.4h-1.4zM131.5 801.7h1.4v1.4h-1.4zM136.9 844.2h1.4v1.4h-1.4zM118.5 818.4h1.4v1.4h-1.4zM71.9 830.0h1.4v1.4h-1.4zM98.0 805.6h1.4v1.4h-1.4zM94.1 823.0h1.4v1.4h-1.4zM87.8 818.2h1.4v1.4h-1.4zM110.3 810.9h1.4v1.4h-1.4zM94.6 829.2h1.4v1.4h-1.4zM112.6 803.5h1.4v1.4h-1.4zM97.0 844.7h1.4v1.4h-1.4zM108.0 804.2h1.4v1.4h-1.4zM120.2 791.5h1.4v1.4h-1.4zM82.6 850.0h1.4v1.4h-1.4zM124.0 809.5h1.4v1.4h-1.4zM106.1 805.4h1.4v1.4h-1.4zM119.1 795.6h1.4v1.4h-1.4zM110.8 803.2h1.4v1.4h-1.4zM87.6 833.1h1.4v1.4h-1.4zM83.0 832.9h1.4v1.4h-1.4zM98.6 830.8h1.4v1.4h-1.4zM100.5 841.1h1.4v1.4h-1.4zM118.2 783.3h1.4v1.4h-1.4zM107.9 799.2h1.4v1.4h-1.4zM119.7 804.2h1.4v1.4h-1.4zM114.4 817.1h1.4v1.4h-1.4zM127.0 809.8h1.4v1.4h-1.4zM96.4 826.2h1.4v1.4h-1.4zM125.3 805.7h1.4v1.4h-1.4zM124.3 803.3h1.4v1.4h-1.4zM117.8 829.7h1.4v1.4h-1.4zM124.3 803.1h1.4v1.4h-1.4zM113.8 839.2h1.4v1.4h-1.4zM116.5 784.4h1.4v1.4h-1.4zM97.0 819.4h1.4v1.4h-1.4zM106.5 809.7h1.4v1.4h-1.4zM99.9 807.2h1.4v1.4h-1.4zM81.1 818.3h1.4v1.4h-1.4zM132.4 775.3h1.4v1.4h-1.4zM113.4 798.5h1.4v1.4h-1.4zM104.4 818.8h1.4v1.4h-1.4zM122.0 829.2h1.4v1.4h-1.4zM91.2 835.8h1.4v1.4h-1.4zM110.1 821.0h1.4v1.4h-1.4zM97.0 819.3h1.4v1.4h-1.4zM115.3 806.1h1.4v1.4h-1.4zM124.0 799.2h1.4v1.4h-1.4zM114.4 798.6h1.4v1.4h-1.4zM58.3 814.8h1.4v1.4h-1.4zM113.0 806.8h1.4v1.4h-1.4zM95.8 791.6h1.4v1.4h-1.4zM98.7 819.2h1.4v1.4h-1.4zM126.2 806.1h1.4v1.4h-1.4zM104.9 831.1h1.4v1.4h-1.4zM93.8 826.7h1.4v1.4h-1.4zM112.0 805.9h1.4v1.4h-1.4zM112.3 801.5h1.4v1.4h-1.4zM114.3 794.8h1.4v1.4h-1.4zM98.5 825.2h1.4v1.4h-1.4zM108.3 795.8h1.4v1.4h-1.4zM125.1 806.7h1.4v1.4h-1.4zM113.0 811.6h1.4v1.4h-1.4zM97.5 819.5h1.4v1.4h-1.4zM107.3 803.3h1.4v1.4h-1.4zM107.5 822.9h1.4v1.4h-1.4zM104.1 802.5h1.4v1.4h-1.4zM114.3 810.8h1.4v1.4h-1.4zM119.1 817.3h1.4v1.4h-1.4zM107.0 813.3h1.4v1.4h-1.4zM96.7 816.4h1.4v1.4h-1.4zM115.6 820.8h1.4v1.4h-1.4zM120.2 808.5h1.4v1.4h-1.4zM94.7 812.9h1.4v1.4h-1.4zM128.9 829.0h1.4v1.4h-1.4zM120.3 793.4h1.4v1.4h-1.4zM112.3 808.1h1.4v1.4h-1.4zM118.1 811.7h1.4v1.4h-1.4zM107.1 811.7h1.4v1.4h-1.4zM78.9 828.5h1.4v1.4h-1.4zM94.9 802.7h1.4v1.4h-1.4zM135.2 799.7h1.4v1.4h-1.4zM120.4 813.0h1.4v1.4h-1.4zM106.2 815.7h1.4v1.4h-1.4zM88.3 796.8h1.4v1.4h-1.4zM136.9 787.7h1.4v1.4h-1.4zM104.9 814.3h1.4v1.4h-1.4zM139.2 815.4h1.4v1.4h-1.4zM128.0 829.7h1.4v1.4h-1.4zM115.7 811.0h1.4v1.4h-1.4zM145.5 795.1h1.4v1.4h-1.4zM110.5 806.6h1.4v1.4h-1.4zM120.7 797.9h1.4v1.4h-1.4zM122.3 793.3h1.4v1.4h-1.4zM74.6 828.9h1.4v1.4h-1.4zM93.0 788.4h1.4v1.4h-1.4zM97.3 808.1h1.4v1.4h-1.4zM111.1 790.5h1.4v1.4h-1.4zM91.7 825.3h1.4v1.4h-1.4zM84.3 786.2h1.4v1.4h-1.4zM90.2 818.4h1.4v1.4h-1.4zM141.8 796.8h1.4v1.4h-1.4zM102.6 827.2h1.4v1.4h-1.4zM115.5 814.8h1.4v1.4h-1.4zM129.7 798.2h1.4v1.4h-1.4zM104.6 789.4h1.4v1.4h-1.4zM125.0 817.4h1.4v1.4h-1.4zM94.9 806.2h1.4v1.4h-1.4zM115.7 794.9h1.4v1.4h-1.4zM103.8 823.2h1.4v1.4h-1.4zM95.8 813.3h1.4v1.4h-1.4zM110.8 820.4h1.4v1.4h-1.4zM99.2 812.7h1.4v1.4h-1.4zM115.1 808.1h1.4v1.4h-1.4zM105.1 806.0h1.4v1.4h-1.4zM119.3 819.6h1.4v1.4h-1.4zM109.3 807.1h1.4v1.4h-1.4zM109.4 801.4h1.4v1.4h-1.4zM98.1 844.7h1.4v1.4h-1.4zM97.4 826.4h1.4v1.4h-1.4zM93.9 824.2h1.4v1.4h-1.4zM131.1 794.4h1.4v1.4h-1.4zM98.9 810.5h1.4v1.4h-1.4zM92.9 819.6h1.4v1.4h-1.4zM124.2 790.5h1.4v1.4h-1.4zM89.3 823.0h1.4v1.4h-1.4zM91.0 820.8h1.4v1.4h-1.4zM76.6 822.1h1.4v1.4h-1.4zM113.7 790.1h1.4v1.4h-1.4zM119.7 816.7h1.4v1.4h-1.4zM103.9 813.1h1.4v1.4h-1.4zM113.6 791.3h1.4v1.4h-1.4zM135.6 819.4h1.4v1.4h-1.4zM109.4 820.6h1.4v1.4h-1.4zM87.3 793.9h1.4v1.4h-1.4zM108.3 816.3h1.4v1.4h-1.4zM122.2 794.4h1.4v1.4h-1.4zM107.8 824.7h1.4v1.4h-1.4zM93.6 827.2h1.4v1.4h-1.4zM98.8 822.9h1.4v1.4h-1.4zM127.2 798.2h1.4v1.4h-1.4zM116.4 789.5h1.4v1.4h-1.4zM114.4 800.0h1.4v1.4h-1.4zM108.3 822.8h1.4v1.4h-1.4zM101.6 805.7h1.4v1.4h-1.4zM79.6 829.5h1.4v1.4h-1.4zM118.5 821.7h1.4v1.4h-1.4zM115.3 804.7h1.4v1.4h-1.4zM99.5 805.2h1.4v1.4h-1.4zM97.3 836.7h1.4v1.4h-1.4zM119.5 821.8h1.4v1.4h-1.4zM106.8 797.8h1.4v1.4h-1.4zM118.7 803.9h1.4v1.4h-1.4zM124.6 796.3h1.4v1.4h-1.4zM105.1 813.3h1.4v1.4h-1.4zM107.5 796.4h1.4v1.4h-1.4zM134.1 798.5h1.4v1.4h-1.4zM125.9 782.0h1.4v1.4h-1.4zM75.8 832.9h1.4v1.4h-1.4zM115.9 824.7h1.4v1.4h-1.4zM94.3 815.5h1.4v1.4h-1.4zM112.5 821.0h1.4v1.4h-1.4zM87.5 823.1h1.4v1.4h-1.4zM119.3 777.7h1.4v1.4h-1.4zM89.2 824.8h1.4v1.4h-1.4zM97.5 824.5h1.4v1.4h-1.4zM100.0 829.2h1.4v1.4h-1.4zM70.7 848.5h1.4v1.4h-1.4zM118.0 802.8h1.4v1.4h-1.4zM110.3 783.9h1.4v1.4h-1.4zM103.2 813.6h1.4v1.4h-1.4zM121.2 804.8h1.4v1.4h-1.4zM77.8 815.0h1.4v1.4h-1.4zM131.7 784.5h1.4v1.4h-1.4zM124.6 784.7h1.4v1.4h-1.4zM138.7 793.2h1.4v1.4h-1.4zM134.9 784.1h1.4v1.4h-1.4zM121.5 804.2h1.4v1.4h-1.4zM105.9 838.6h1.4v1.4h-1.4zM111.9 812.3h1.4v1.4h-1.4zM124.9 794.8h1.4v1.4h-1.4zM115.5 799.4h1.4v1.4h-1.4zM119.9 816.6h1.4v1.4h-1.4zM115.7 804.4h1.4v1.4h-1.4zM94.1 809.5h1.4v1.4h-1.4zM70.4 795.8h1.4v1.4h-1.4zM106.5 813.6h1.4v1.4h-1.4zM119.1 817.9h1.4v1.4h-1.4zM95.8 826.8h1.4v1.4h-1.4zM95.4 811.6h1.4v1.4h-1.4zM91.4 856.7h1.4v1.4h-1.4zM100.4 822.0h1.4v1.4h-1.4zM114.3 815.3h1.4v1.4h-1.4zM76.9 822.0h1.4v1.4h-1.4zM109.6 814.1h1.4v1.4h-1.4zM88.4 804.2h1.4v1.4h-1.4zM117.5 795.6h1.4v1.4h-1.4zM64.4 856.5h1.4v1.4h-1.4zM110.5 803.8h1.4v1.4h-1.4zM82.5 839.5h1.4v1.4h-1.4zM109.0 812.3h1.4v1.4h-1.4zM100.8 837.9h1.4v1.4h-1.4zM97.1 821.5h1.4v1.4h-1.4zM99.1 813.3h1.4v1.4h-1.4zM90.3 790.6h1.4v1.4h-1.4zM96.5 792.0h1.4v1.4h-1.4zM98.7 799.6h1.4v1.4h-1.4zM109.2 816.8h1.4v1.4h-1.4zM89.3 819.7h1.4v1.4h-1.4zM110.3 800.9h1.4v1.4h-1.4zM113.6 804.1h1.4v1.4h-1.4zM126.0 808.0h1.4v1.4h-1.4zM112.2 816.0h1.4v1.4h-1.4zM107.6 782.1h1.4v1.4h-1.4zM85.9 826.5h1.4v1.4h-1.4zM107.2 814.3h1.4v1.4h-1.4zM100.0 817.2h1.4v1.4h-1.4zM93.6 813.0h1.4v1.4h-1.4zM90.6 834.0h1.4v1.4h-1.4zM114.1 815.0h1.4v1.4h-1.4zM82.1 810.4h1.4v1.4h-1.4zM118.7 820.1h1.4v1.4h-1.4zM104.1 843.6h1.4v1.4h-1.4zM96.2 812.2h1.4v1.4h-1.4zM83.1 812.0h1.4v1.4h-1.4zM127.2 809.7h1.4v1.4h-1.4zM117.3 814.6h1.4v1.4h-1.4zM50.8 802.7h1.4v1.4h-1.4zM87.9 827.4h1.4v1.4h-1.4zM122.2 768.9h1.4v1.4h-1.4zM122.7 794.4h1.4v1.4h-1.4zM156.1 773.6h1.4v1.4h-1.4zM95.8 806.2h1.4v1.4h-1.4zM108.8 821.2h1.4v1.4h-1.4zM100.6 817.5h1.4v1.4h-1.4zM124.0 779.8h1.4v1.4h-1.4zM121.1 790.2h1.4v1.4h-1.4zM133.9 799.4h1.4v1.4h-1.4zM110.4 773.3h1.4v1.4h-1.4zM128.0 783.2h1.4v1.4h-1.4zM104.0 796.1h1.4v1.4h-1.4zM116.5 814.0h1.4v1.4h-1.4zM107.7 823.5h1.4v1.4h-1.4zM111.6 804.5h1.4v1.4h-1.4zM130.9 813.8h1.4v1.4h-1.4zM103.0 812.7h1.4v1.4h-1.4zM111.1 802.8h1.4v1.4h-1.4zM98.0 802.8h1.4v1.4h-1.4zM86.9 805.0h1.4v1.4h-1.4zM97.7 808.9h1.4v1.4h-1.4zM96.8 798.0h1.4v1.4h-1.4zM101.1 800.7h1.4v1.4h-1.4zM123.0 801.7h1.4v1.4h-1.4zM107.7 811.7h1.4v1.4h-1.4zM115.2 803.4h1.4v1.4h-1.4zM108.2 825.5h1.4v1.4h-1.4zM120.6 800.2h1.4v1.4h-1.4zM83.7 817.1h1.4v1.4h-1.4zM108.1 801.5h1.4v1.4h-1.4zM114.4 804.1h1.4v1.4h-1.4zM99.1 824.5h1.4v1.4h-1.4zM88.8 808.5h1.4v1.4h-1.4zM107.5 817.7h1.4v1.4h-1.4zM97.9 800.7h1.4v1.4h-1.4zM103.2 824.1h1.4v1.4h-1.4zM122.5 816.2h1.4v1.4h-1.4zM102.3 803.2h1.4v1.4h-1.4zM90.3 817.8h1.4v1.4h-1.4zM124.8 800.7h1.4v1.4h-1.4zM103.3 801.6h1.4v1.4h-1.4zM99.5 833.9h1.4v1.4h-1.4zM79.4 816.5h1.4v1.4h-1.4zM126.5 788.2h1.4v1.4h-1.4zM107.9 820.2h1.4v1.4h-1.4zM100.9 815.1h1.4v1.4h-1.4zM104.5 820.0h1.4v1.4h-1.4zM102.1 784.0h1.4v1.4h-1.4zM83.2 794.8h1.4v1.4h-1.4zM86.8 788.6h1.4v1.4h-1.4zM85.7 794.1h1.4v1.4h-1.4zM82.2 844.9h1.4v1.4h-1.4zM94.9 833.7h1.4v1.4h-1.4zM118.3 782.5h1.4v1.4h-1.4zM110.7 800.8h1.4v1.4h-1.4zM112.5 824.7h1.4v1.4h-1.4zM113.7 768.3h1.4v1.4h-1.4zM139.8 802.0h1.4v1.4h-1.4zM96.2 798.3h1.4v1.4h-1.4zM104.0 795.1h1.4v1.4h-1.4zM93.5 800.1h1.4v1.4h-1.4zM116.2 808.5h1.4v1.4h-1.4zM106.4 811.5h1.4v1.4h-1.4zM126.6 798.4h1.4v1.4h-1.4zM98.5 841.7h1.4v1.4h-1.4zM104.1 796.2h1.4v1.4h-1.4zM106.1 826.3h1.4v1.4h-1.4zM119.3 825.2h1.4v1.4h-1.4zM100.4 809.4h1.4v1.4h-1.4zM69.2 845.0h1.4v1.4h-1.4zM99.4 819.1h1.4v1.4h-1.4zM93.2 824.1h1.4v1.4h-1.4zM125.4 808.0h1.4v1.4h-1.4zM142.3 805.7h1.4v1.4h-1.4zM88.2 855.3h1.4v1.4h-1.4zM101.9 812.6h1.4v1.4h-1.4zM110.7 823.3h1.4v1.4h-1.4zM97.1 821.4h1.4v1.4h-1.4zM123.8 792.0h1.4v1.4h-1.4zM103.6 820.0h1.4v1.4h-1.4zM134.7 800.3h1.4v1.4h-1.4zM95.4 811.4h1.4v1.4h-1.4zM114.0 812.1h1.4v1.4h-1.4zM111.1 815.1h1.4v1.4h-1.4zM62.4 806.2h1.4v1.4h-1.4zM96.0 815.3h1.4v1.4h-1.4zM119.7 788.8h1.4v1.4h-1.4zM90.2 820.8h1.4v1.4h-1.4zM107.2 820.3h1.4v1.4h-1.4zM96.5 813.2h1.4v1.4h-1.4zM104.3 799.5h1.4v1.4h-1.4zM137.0 785.7h1.4v1.4h-1.4zM97.6 820.8h1.4v1.4h-1.4zM137.1 809.4h1.4v1.4h-1.4zM103.5 787.0h1.4v1.4h-1.4zM131.6 789.1h1.4v1.4h-1.4zM98.9 807.8h1.4v1.4h-1.4zM110.8 814.3h1.4v1.4h-1.4zM119.4 810.6h1.4v1.4h-1.4zM95.6 809.7h1.4v1.4h-1.4zM86.7 819.1h1.4v1.4h-1.4zM123.3 798.0h1.4v1.4h-1.4zM94.3 821.5h1.4v1.4h-1.4zM102.6 790.9h1.4v1.4h-1.4zM101.4 826.6h1.4v1.4h-1.4zM98.4 823.8h1.4v1.4h-1.4zM149.6 779.2h1.4v1.4h-1.4zM98.5 825.4h1.4v1.4h-1.4zM116.8 803.4h1.4v1.4h-1.4zM88.7 818.8h1.4v1.4h-1.4zM133.7 775.0h1.4v1.4h-1.4zM88.0 835.4h1.4v1.4h-1.4zM131.3 793.4h1.4v1.4h-1.4zM111.3 812.5h1.4v1.4h-1.4zM112.8 811.5h1.4v1.4h-1.4zM83.4 820.7h1.4v1.4h-1.4zM107.7 808.7h1.4v1.4h-1.4zM116.8 778.3h1.4v1.4h-1.4zM96.2 833.7h1.4v1.4h-1.4zM89.5 810.5h1.4v1.4h-1.4zM103.7 807.0h1.4v1.4h-1.4zM111.6 801.5h1.4v1.4h-1.4zM89.6 830.1h1.4v1.4h-1.4zM127.5 802.0h1.4v1.4h-1.4zM84.9 815.8h1.4v1.4h-1.4zM120.1 799.0h1.4v1.4h-1.4zM96.6 809.3h1.4v1.4h-1.4zM95.1 778.0h1.4v1.4h-1.4zM117.7 812.6h1.4v1.4h-1.4zM115.2 812.6h1.4v1.4h-1.4zM126.8 775.5h1.4v1.4h-1.4zM80.3 825.1h1.4v1.4h-1.4zM82.7 813.2h1.4v1.4h-1.4zM118.9 804.2h1.4v1.4h-1.4zM116.2 800.5h1.4v1.4h-1.4zM109.1 812.1h1.4v1.4h-1.4zM102.3 826.1h1.4v1.4h-1.4zM104.9 817.0h1.4v1.4h-1.4zM129.5 799.2h1.4v1.4h-1.4zM109.6 798.4h1.4v1.4h-1.4zM110.8 804.0h1.4v1.4h-1.4zM103.2 827.0h1.4v1.4h-1.4zM112.2 825.7h1.4v1.4h-1.4zM80.0 804.5h1.4v1.4h-1.4zM66.3 833.0h1.4v1.4h-1.4zM105.0 808.1h1.4v1.4h-1.4zM96.5 810.7h1.4v1.4h-1.4zM99.8 821.1h1.4v1.4h-1.4zM101.2 830.0h1.4v1.4h-1.4zM107.3 788.5h1.4v1.4h-1.4zM102.1 841.8h1.4v1.4h-1.4zM84.9 830.2h1.4v1.4h-1.4zM118.7 796.0h1.4v1.4h-1.4zM107.4 820.5h1.4v1.4h-1.4zM114.6 809.5h1.4v1.4h-1.4zM152.2 797.1h1.4v1.4h-1.4zM97.7 804.3h1.4v1.4h-1.4zM116.1 802.3h1.4v1.4h-1.4zM92.7 832.5h1.4v1.4h-1.4zM79.5 817.3h1.4v1.4h-1.4zM85.7 823.7h1.4v1.4h-1.4zM121.0 772.2h1.4v1.4h-1.4zM73.4 813.7h1.4v1.4h-1.4zM97.8 801.3h1.4v1.4h-1.4zM122.5 812.9h1.4v1.4h-1.4zM103.4 794.2h1.4v1.4h-1.4zM121.7 787.0h1.4v1.4h-1.4zM114.9 796.8h1.4v1.4h-1.4zM102.7 821.8h1.4v1.4h-1.4zM109.7 820.2h1.4v1.4h-1.4zM125.2 800.6h1.4v1.4h-1.4zM111.6 812.7h1.4v1.4h-1.4zM88.0 837.1h1.4v1.4h-1.4zM107.9 797.1h1.4v1.4h-1.4zM117.3 798.9h1.4v1.4h-1.4zM105.4 808.1h1.4v1.4h-1.4zM98.1 817.5h1.4v1.4h-1.4zM97.1 826.8h1.4v1.4h-1.4zM81.7 823.3h1.4v1.4h-1.4zM124.4 796.3h1.4v1.4h-1.4zM124.0 812.5h1.4v1.4h-1.4zM81.5 796.1h1.4v1.4h-1.4zM93.2 819.2h1.4v1.4h-1.4zM145.3 769.3h1.4v1.4h-1.4zM105.4 823.3h1.4v1.4h-1.4zM93.1 807.0h1.4v1.4h-1.4zM99.4 839.8h1.4v1.4h-1.4zM77.8 817.8h1.4v1.4h-1.4zM103.9 801.4h1.4v1.4h-1.4zM74.5 818.4h1.4v1.4h-1.4zM146.7 816.4h1.4v1.4h-1.4zM99.4 813.7h1.4v1.4h-1.4zM139.7 786.5h1.4v1.4h-1.4zM127.1 807.1h1.4v1.4h-1.4zM96.7 820.2h1.4v1.4h-1.4zM134.7 800.2h1.4v1.4h-1.4zM134.9 784.9h1.4v1.4h-1.4zM101.1 811.4h1.4v1.4h-1.4zM105.4 807.1h1.4v1.4h-1.4zM130.3 805.6h1.4v1.4h-1.4zM129.5 800.7h1.4v1.4h-1.4zM101.9 796.5h1.4v1.4h-1.4zM112.8 798.1h1.4v1.4h-1.4zM133.5 786.7h1.4v1.4h-1.4zM65.4 841.4h1.4v1.4h-1.4zM81.7 799.5h1.4v1.4h-1.4zM81.8 836.8h1.4v1.4h-1.4zM115.7 801.7h1.4v1.4h-1.4zM109.4 812.9h1.4v1.4h-1.4zM138.4 783.8h1.4v1.4h-1.4zM113.7 809.5h1.4v1.4h-1.4zM136.9 798.7h1.4v1.4h-1.4zM117.6 818.5h1.4v1.4h-1.4zM113.1 790.4h1.4v1.4h-1.4zM75.9 852.0h1.4v1.4h-1.4zM107.8 794.1h1.4v1.4h-1.4zM106.4 840.9h1.4v1.4h-1.4zM95.6 818.2h1.4v1.4h-1.4zM94.4 825.6h1.4v1.4h-1.4zM76.6 801.1h1.4v1.4h-1.4zM104.2 816.9h1.4v1.4h-1.4zM127.7 791.7h1.4v1.4h-1.4zM126.6 810.0h1.4v1.4h-1.4zM108.8 818.9h1.4v1.4h-1.4zM93.8 793.1h1.4v1.4h-1.4zM87.0 819.4h1.4v1.4h-1.4zM92.1 812.5h1.4v1.4h-1.4zM87.7 814.4h1.4v1.4h-1.4zM121.1 812.3h1.4v1.4h-1.4zM105.6 804.4h1.4v1.4h-1.4zM108.8 835.3h1.4v1.4h-1.4zM105.4 813.5h1.4v1.4h-1.4zM114.9 812.0h1.4v1.4h-1.4zM98.1 811.6h1.4v1.4h-1.4zM116.9 799.6h1.4v1.4h-1.4zM113.0 799.5h1.4v1.4h-1.4zM84.7 814.9h1.4v1.4h-1.4zM112.0 805.3h1.4v1.4h-1.4zM120.8 812.6h1.4v1.4h-1.4zM134.6 783.6h1.4v1.4h-1.4zM102.7 812.9h1.4v1.4h-1.4zM122.2 814.9h1.4v1.4h-1.4zM99.6 835.4h1.4v1.4h-1.4zM94.1 820.2h1.4v1.4h-1.4zM112.0 821.5h1.4v1.4h-1.4zM104.2 805.1h1.4v1.4h-1.4zM91.0 822.1h1.4v1.4h-1.4zM77.2 833.2h1.4v1.4h-1.4zM84.1 823.0h1.4v1.4h-1.4zM99.8 790.0h1.4v1.4h-1.4zM95.6 824.8h1.4v1.4h-1.4zM147.7 814.1h1.4v1.4h-1.4zM109.3 808.2h1.4v1.4h-1.4zM111.8 812.8h1.4v1.4h-1.4zM125.7 785.1h1.4v1.4h-1.4zM108.6 829.3h1.4v1.4h-1.4zM129.5 789.1h1.4v1.4h-1.4zM96.9 838.3h1.4v1.4h-1.4zM91.4 816.2h1.4v1.4h-1.4zM122.7 816.9h1.4v1.4h-1.4zM101.2 823.5h1.4v1.4h-1.4zM113.7 809.2h1.4v1.4h-1.4zM118.8 803.4h1.4v1.4h-1.4zM92.0 808.0h1.4v1.4h-1.4zM121.0 794.6h1.4v1.4h-1.4zM106.5 790.3h1.4v1.4h-1.4zM91.9 830.7h1.4v1.4h-1.4zM122.8 799.7h1.4v1.4h-1.4zM106.5 798.8h1.4v1.4h-1.4zM108.7 820.9h1.4v1.4h-1.4zM119.9 810.2h1.4v1.4h-1.4zM95.6 830.1h1.4v1.4h-1.4zM112.6 798.8h1.4v1.4h-1.4zM113.9 806.0h1.4v1.4h-1.4zM104.8 812.0h1.4v1.4h-1.4zM101.1 822.0h1.4v1.4h-1.4zM128.3 792.3h1.4v1.4h-1.4zM74.3 839.2h1.4v1.4h-1.4zM126.8 816.3h1.4v1.4h-1.4zM83.8 808.4h1.4v1.4h-1.4zM105.8 805.5h1.4v1.4h-1.4zM106.6 823.5h1.4v1.4h-1.4zM82.7 814.3h1.4v1.4h-1.4zM107.5 802.3h1.4v1.4h-1.4zM131.0 818.6h1.4v1.4h-1.4zM87.1 833.2h1.4v1.4h-1.4zM100.5 819.9h1.4v1.4h-1.4zM63.7 821.6h1.4v1.4h-1.4zM110.3 786.4h1.4v1.4h-1.4zM123.5 819.4h1.4v1.4h-1.4zM96.2 828.3h1.4v1.4h-1.4zM105.6 811.8h1.4v1.4h-1.4zM73.7 834.0h1.4v1.4h-1.4zM137.8 794.2h1.4v1.4h-1.4zM125.8 804.9h1.4v1.4h-1.4zM97.4 804.7h1.4v1.4h-1.4zM115.5 807.3h1.4v1.4h-1.4zM134.4 790.1h1.4v1.4h-1.4zM106.6 807.4h1.4v1.4h-1.4zM117.0 786.0h1.4v1.4h-1.4zM104.3 823.3h1.4v1.4h-1.4zM102.2 808.2h1.4v1.4h-1.4zM92.9 808.8h1.4v1.4h-1.4zM87.8 802.8h1.4v1.4h-1.4zM85.7 844.6h1.4v1.4h-1.4zM128.9 788.1h1.4v1.4h-1.4zM106.6 806.7h1.4v1.4h-1.4zM113.1 818.6h1.4v1.4h-1.4zM111.5 785.2h1.4v1.4h-1.4zM94.5 801.3h1.4v1.4h-1.4zM108.8 815.6h1.4v1.4h-1.4zM88.6 825.6h1.4v1.4h-1.4zM99.6 842.1h1.4v1.4h-1.4zM86.5 822.9h1.4v1.4h-1.4zM102.3 793.2h1.4v1.4h-1.4zM133.7 842.0h1.4v1.4h-1.4zM109.9 807.7h1.4v1.4h-1.4zM94.7 846.7h1.4v1.4h-1.4zM127.7 787.0h1.4v1.4h-1.4zM120.0 790.1h1.4v1.4h-1.4zM76.6 829.8h1.4v1.4h-1.4zM124.8 796.9h1.4v1.4h-1.4zM95.2 806.5h1.4v1.4h-1.4zM126.4 795.4h1.4v1.4h-1.4zM70.6 812.7h1.4v1.4h-1.4zM130.8 785.5h1.4v1.4h-1.4zM109.0 803.9h1.4v1.4h-1.4zM143.3 803.7h1.4v1.4h-1.4zM101.5 823.4h1.4v1.4h-1.4zM95.3 791.2h1.4v1.4h-1.4zM126.2 775.0h1.4v1.4h-1.4zM105.1 819.4h1.4v1.4h-1.4zM89.8 819.8h1.4v1.4h-1.4zM114.8 812.4h1.4v1.4h-1.4zM88.4 825.9h1.4v1.4h-1.4zM111.5 820.6h1.4v1.4h-1.4zM98.4 798.7h1.4v1.4h-1.4zM125.3 806.6h1.4v1.4h-1.4zM95.1 816.9h1.4v1.4h-1.4zM104.8 826.3h1.4v1.4h-1.4zM99.0 798.3h1.4v1.4h-1.4zM131.6 813.4h1.4v1.4h-1.4zM95.4 834.5h1.4v1.4h-1.4zM104.9 802.3h1.4v1.4h-1.4zM83.4 816.7h1.4v1.4h-1.4zM120.1 806.1h1.4v1.4h-1.4zM124.0 783.9h1.4v1.4h-1.4zM120.3 829.1h1.4v1.4h-1.4zM96.6 813.5h1.4v1.4h-1.4zM120.4 810.2h1.4v1.4h-1.4zM143.6 769.3h1.4v1.4h-1.4zM97.7 814.3h1.4v1.4h-1.4zM97.6 819.8h1.4v1.4h-1.4zM111.9 803.9h1.4v1.4h-1.4zM106.2 795.5h1.4v1.4h-1.4zM97.5 799.5h1.4v1.4h-1.4zM98.3 828.3h1.4v1.4h-1.4zM121.8 810.5h1.4v1.4h-1.4zM123.6 794.1h1.4v1.4h-1.4zM93.4 825.5h1.4v1.4h-1.4zM91.1 817.2h1.4v1.4h-1.4zM107.0 812.4h1.4v1.4h-1.4zM103.1 815.3h1.4v1.4h-1.4zM76.0 825.5h1.4v1.4h-1.4zM131.1 806.0h1.4v1.4h-1.4zM89.8 825.6h1.4v1.4h-1.4zM122.0 804.1h1.4v1.4h-1.4zM74.3 821.1h1.4v1.4h-1.4zM82.5 807.4h1.4v1.4h-1.4zM130.8 823.2h1.4v1.4h-1.4zM110.0 808.0h1.4v1.4h-1.4zM89.4 827.9h1.4v1.4h-1.4zM116.7 806.7h1.4v1.4h-1.4zM94.8 804.3h1.4v1.4h-1.4zM108.6 832.1h1.4v1.4h-1.4zM113.1 795.5h1.4v1.4h-1.4zM123.3 808.9h1.4v1.4h-1.4zM67.2 826.8h1.4v1.4h-1.4zM116.2 793.0h1.4v1.4h-1.4zM126.5 805.2h1.4v1.4h-1.4zM99.2 794.7h1.4v1.4h-1.4zM86.9 823.5h1.4v1.4h-1.4zM144.5 793.0h1.4v1.4h-1.4zM142.2 800.3h1.4v1.4h-1.4zM105.8 818.1h1.4v1.4h-1.4zM96.6 804.3h1.4v1.4h-1.4zM110.9 816.8h1.4v1.4h-1.4zM81.6 813.7h1.4v1.4h-1.4zM91.4 810.9h1.4v1.4h-1.4zM91.8 834.7h1.4v1.4h-1.4zM96.1 817.8h1.4v1.4h-1.4zM94.6 801.2h1.4v1.4h-1.4zM104.3 792.9h1.4v1.4h-1.4zM83.5 825.3h1.4v1.4h-1.4zM86.6 827.9h1.4v1.4h-1.4zM128.7 807.5h1.4v1.4h-1.4zM98.6 808.3h1.4v1.4h-1.4zM119.8 805.0h1.4v1.4h-1.4zM103.9 810.0h1.4v1.4h-1.4zM96.0 821.2h1.4v1.4h-1.4zM78.1 831.5h1.4v1.4h-1.4zM98.9 801.5h1.4v1.4h-1.4zM108.5 769.0h1.4v1.4h-1.4zM115.9 818.1h1.4v1.4h-1.4zM95.0 817.4h1.4v1.4h-1.4zM106.9 806.5h1.4v1.4h-1.4zM78.6 827.1h1.4v1.4h-1.4zM135.4 814.7h1.4v1.4h-1.4zM105.9 824.5h1.4v1.4h-1.4zM102.7 809.3h1.4v1.4h-1.4zM116.0 821.3h1.4v1.4h-1.4zM129.3 790.4h1.4v1.4h-1.4zM115.8 799.5h1.4v1.4h-1.4zM94.2 819.8h1.4v1.4h-1.4zM122.8 827.9h1.4v1.4h-1.4zM115.7 801.8h1.4v1.4h-1.4zM67.2 771.6h1.4v1.4h-1.4zM117.5 818.1h1.4v1.4h-1.4zM91.8 812.4h1.4v1.4h-1.4zM115.1 804.1h1.4v1.4h-1.4zM81.4 799.0h1.4v1.4h-1.4zM120.6 810.2h1.4v1.4h-1.4zM100.2 813.8h1.4v1.4h-1.4zM119.7 811.2h1.4v1.4h-1.4zM95.3 826.9h1.4v1.4h-1.4zM76.0 835.2h1.4v1.4h-1.4zM72.1 818.0h1.4v1.4h-1.4zM101.0 798.5h1.4v1.4h-1.4zM101.7 809.3h1.4v1.4h-1.4zM86.1 834.9h1.4v1.4h-1.4zM114.0 789.4h1.4v1.4h-1.4zM131.1 816.0h1.4v1.4h-1.4zM94.0 794.5h1.4v1.4h-1.4zM96.3 818.0h1.4v1.4h-1.4zM109.0 807.7h1.4v1.4h-1.4zM96.3 822.2h1.4v1.4h-1.4zM130.0 774.0h1.4v1.4h-1.4zM103.2 829.9h1.4v1.4h-1.4zM116.7 804.0h1.4v1.4h-1.4zM109.0 793.6h1.4v1.4h-1.4zM115.6 802.3h1.4v1.4h-1.4zM106.6 829.3h1.4v1.4h-1.4zM96.7 823.0h1.4v1.4h-1.4zM111.6 800.2h1.4v1.4h-1.4zM153.3 769.3h1.4v1.4h-1.4zM119.1 802.5h1.4v1.4h-1.4zM116.6 806.3h1.4v1.4h-1.4zM97.6 807.3h1.4v1.4h-1.4zM121.0 786.6h1.4v1.4h-1.4zM85.5 807.0h1.4v1.4h-1.4zM139.0 803.4h1.4v1.4h-1.4zM85.9 820.5h1.4v1.4h-1.4zM103.7 819.9h1.4v1.4h-1.4zM101.8 847.3h1.4v1.4h-1.4zM93.6 828.4h1.4v1.4h-1.4zM87.5 806.9h1.4v1.4h-1.4zM101.4 820.1h1.4v1.4h-1.4zM84.8 801.2h1.4v1.4h-1.4zM92.6 803.3h1.4v1.4h-1.4zM103.0 815.6h1.4v1.4h-1.4zM110.7 804.3h1.4v1.4h-1.4zM112.8 809.0h1.4v1.4h-1.4zM102.2 803.9h1.4v1.4h-1.4zM100.2 825.4h1.4v1.4h-1.4zM110.0 813.9h1.4v1.4h-1.4zM83.6 823.5h1.4v1.4h-1.4zM99.3 831.4h1.4v1.4h-1.4zM83.0 863.8h1.4v1.4h-1.4zM106.4 815.5h1.4v1.4h-1.4zM128.0 817.4h1.4v1.4h-1.4zM104.2 827.8h1.4v1.4h-1.4zM112.4 819.3h1.4v1.4h-1.4zM95.1 827.2h1.4v1.4h-1.4zM111.5 812.1h1.4v1.4h-1.4zM75.8 827.0h1.4v1.4h-1.4zM133.4 799.8h1.4v1.4h-1.4zM107.9 807.2h1.4v1.4h-1.4zM123.3 810.7h1.4v1.4h-1.4zM101.0 842.4h1.4v1.4h-1.4zM134.5 807.4h1.4v1.4h-1.4zM122.2 835.0h1.4v1.4h-1.4zM94.2 812.3h1.4v1.4h-1.4zM133.2 809.8h1.4v1.4h-1.4zM111.4 810.8h1.4v1.4h-1.4zM109.8 800.9h1.4v1.4h-1.4zM131.4 814.9h1.4v1.4h-1.4zM118.1 817.7h1.4v1.4h-1.4zM104.0 850.4h1.4v1.4h-1.4zM98.9 822.2h1.4v1.4h-1.4zM99.1 821.8h1.4v1.4h-1.4zM117.3 832.0h1.4v1.4h-1.4zM117.9 795.9h1.4v1.4h-1.4zM83.6 809.2h1.4v1.4h-1.4zM79.2 802.7h1.4v1.4h-1.4zM120.8 808.3h1.4v1.4h-1.4zM125.9 784.4h1.4v1.4h-1.4zM116.2 809.4h1.4v1.4h-1.4zM98.6 816.1h1.4v1.4h-1.4zM110.7 808.2h1.4v1.4h-1.4zM100.3 797.6h1.4v1.4h-1.4zM114.4 794.5h1.4v1.4h-1.4zM102.7 806.1h1.4v1.4h-1.4zM106.0 826.8h1.4v1.4h-1.4zM104.8 815.5h1.4v1.4h-1.4zM114.9 824.3h1.4v1.4h-1.4zM100.1 822.4h1.4v1.4h-1.4zM97.3 810.7h1.4v1.4h-1.4zM114.6 797.5h1.4v1.4h-1.4zM98.1 816.9h1.4v1.4h-1.4zM94.8 815.6h1.4v1.4h-1.4zM106.6 799.4h1.4v1.4h-1.4zM117.1 787.5h1.4v1.4h-1.4zM92.3 809.2h1.4v1.4h-1.4zM98.0 832.5h1.4v1.4h-1.4zM104.2 816.9h1.4v1.4h-1.4zM110.2 812.4h1.4v1.4h-1.4zM114.0 813.6h1.4v1.4h-1.4zM114.6 806.5h1.4v1.4h-1.4zM122.8 799.2h1.4v1.4h-1.4zM106.1 806.3h1.4v1.4h-1.4zM87.8 807.7h1.4v1.4h-1.4zM106.2 816.2h1.4v1.4h-1.4zM92.2 818.9h1.4v1.4h-1.4zM118.0 786.9h1.4v1.4h-1.4zM119.0 814.3h1.4v1.4h-1.4zM89.6 812.6h1.4v1.4h-1.4zM104.4 806.5h1.4v1.4h-1.4zM110.4 815.7h1.4v1.4h-1.4zM111.2 801.3h1.4v1.4h-1.4zM109.4 826.0h1.4v1.4h-1.4zM86.3 796.5h1.4v1.4h-1.4zM116.5 826.9h1.4v1.4h-1.4zM121.4 788.0h1.4v1.4h-1.4zM71.5 833.4h1.4v1.4h-1.4zM87.4 795.6h1.4v1.4h-1.4zM112.8 824.0h1.4v1.4h-1.4zM115.8 787.5h1.4v1.4h-1.4zM101.9 828.6h1.4v1.4h-1.4zM122.2 808.8h1.4v1.4h-1.4zM104.3 808.5h1.4v1.4h-1.4zM120.8 797.6h1.4v1.4h-1.4zM115.7 809.4h1.4v1.4h-1.4zM116.4 816.9h1.4v1.4h-1.4zM88.2 812.9h1.4v1.4h-1.4zM125.0 795.7h1.4v1.4h-1.4zM92.0 794.2h1.4v1.4h-1.4zM114.4 807.6h1.4v1.4h-1.4zM135.8 780.9h1.4v1.4h-1.4zM124.5 803.2h1.4v1.4h-1.4zM114.3 787.7h1.4v1.4h-1.4zM86.5 813.4h1.4v1.4h-1.4zM146.4 796.1h1.4v1.4h-1.4zM101.7 814.1h1.4v1.4h-1.4zM120.3 808.7h1.4v1.4h-1.4zM124.4 803.8h1.4v1.4h-1.4zM82.0 789.2h1.4v1.4h-1.4zM88.7 799.3h1.4v1.4h-1.4zM122.8 820.0h1.4v1.4h-1.4zM96.4 809.1h1.4v1.4h-1.4zM105.9 807.6h1.4v1.4h-1.4zM121.7 799.6h1.4v1.4h-1.4zM143.0 809.8h1.4v1.4h-1.4zM128.5 792.0h1.4v1.4h-1.4zM100.8 804.0h1.4v1.4h-1.4zM95.7 839.5h1.4v1.4h-1.4zM85.7 828.2h1.4v1.4h-1.4zM100.8 800.5h1.4v1.4h-1.4zM109.5 841.4h1.4v1.4h-1.4zM123.4 792.7h1.4v1.4h-1.4zM98.6 824.5h1.4v1.4h-1.4zM89.9 798.9h1.4v1.4h-1.4zM128.1 806.5h1.4v1.4h-1.4zM78.0 828.7h1.4v1.4h-1.4zM96.1 801.0h1.4v1.4h-1.4zM130.7 821.3h1.4v1.4h-1.4zM64.8 826.7h1.4v1.4h-1.4zM96.8 816.5h1.4v1.4h-1.4zM78.9 838.7h1.4v1.4h-1.4zM92.6 810.3h1.4v1.4h-1.4zM97.2 814.3h1.4v1.4h-1.4zM101.9 828.3h1.4v1.4h-1.4zM131.6 756.1h1.4v1.4h-1.4zM99.6 840.5h1.4v1.4h-1.4zM100.0 807.5h1.4v1.4h-1.4zM77.2 812.6h1.4v1.4h-1.4zM99.7 826.9h1.4v1.4h-1.4zM107.7 808.3h1.4v1.4h-1.4zM101.1 806.3h1.4v1.4h-1.4zM87.0 833.7h1.4v1.4h-1.4zM148.1 807.2h1.4v1.4h-1.4zM98.4 803.0h1.4v1.4h-1.4zM86.4 808.3h1.4v1.4h-1.4zM147.6 786.4h1.4v1.4h-1.4zM90.4 829.9h1.4v1.4h-1.4zM77.2 841.2h1.4v1.4h-1.4zM116.9 807.8h1.4v1.4h-1.4zM107.1 810.5h1.4v1.4h-1.4zM89.7 817.7h1.4v1.4h-1.4zM96.2 826.9h1.4v1.4h-1.4zM117.8 793.2h1.4v1.4h-1.4zM123.1 802.0h1.4v1.4h-1.4zM103.6 835.5h1.4v1.4h-1.4zM98.2 820.4h1.4v1.4h-1.4zM100.3 824.0h1.4v1.4h-1.4zM119.4 811.4h1.4v1.4h-1.4zM108.3 819.1h1.4v1.4h-1.4zM123.5 811.9h1.4v1.4h-1.4zM59.5 837.6h1.4v1.4h-1.4zM105.1 821.7h1.4v1.4h-1.4zM119.2 807.1h1.4v1.4h-1.4zM109.3 819.1h1.4v1.4h-1.4zM126.6 795.3h1.4v1.4h-1.4zM96.0 807.7h1.4v1.4h-1.4zM116.1 790.5h1.4v1.4h-1.4zM99.3 813.4h1.4v1.4h-1.4zM98.7 828.6h1.4v1.4h-1.4zM126.4 811.0h1.4v1.4h-1.4zM122.5 787.4h1.4v1.4h-1.4zM124.2 801.7h1.4v1.4h-1.4zM116.7 805.7h1.4v1.4h-1.4zM99.5 815.1h1.4v1.4h-1.4zM105.6 814.6h1.4v1.4h-1.4zM111.4 818.2h1.4v1.4h-1.4zM113.3 800.6h1.4v1.4h-1.4zM101.1 778.7h1.4v1.4h-1.4zM123.8 808.8h1.4v1.4h-1.4zM118.1 796.8h1.4v1.4h-1.4zM106.3 810.0h1.4v1.4h-1.4zM119.7 790.6h1.4v1.4h-1.4zM125.1 814.7h1.4v1.4h-1.4zM121.5 792.5h1.4v1.4h-1.4zM83.5 814.2h1.4v1.4h-1.4zM117.4 775.9h1.4v1.4h-1.4zM81.1 816.6h1.4v1.4h-1.4zM106.8 815.1h1.4v1.4h-1.4zM112.7 799.3h1.4v1.4h-1.4zM114.3 823.0h1.4v1.4h-1.4zM134.8 778.8h1.4v1.4h-1.4zM94.4 817.2h1.4v1.4h-1.4zM125.0 782.9h1.4v1.4h-1.4zM144.0 758.2h1.4v1.4h-1.4zM99.5 828.1h1.4v1.4h-1.4zM83.7 807.1h1.4v1.4h-1.4zM103.4 812.4h1.4v1.4h-1.4zM112.5 805.0h1.4v1.4h-1.4zM101.7 821.0h1.4v1.4h-1.4zM106.5 819.0h1.4v1.4h-1.4zM127.3 787.8h1.4v1.4h-1.4zM133.7 809.3h1.4v1.4h-1.4zM118.9 810.3h1.4v1.4h-1.4zM94.3 840.9h1.4v1.4h-1.4zM101.6 791.6h1.4v1.4h-1.4zM164.4 767.6h1.4v1.4h-1.4zM114.7 823.0h1.4v1.4h-1.4zM97.2 828.3h1.4v1.4h-1.4zM103.0 821.9h1.4v1.4h-1.4zM106.9 800.9h1.4v1.4h-1.4zM114.5 815.9h1.4v1.4h-1.4zM101.0 798.2h1.4v1.4h-1.4zM118.1 805.7h1.4v1.4h-1.4zM79.1 810.7h1.4v1.4h-1.4zM111.4 801.3h1.4v1.4h-1.4zM93.0 814.7h1.4v1.4h-1.4zM118.6 780.2h1.4v1.4h-1.4zM118.0 826.9h1.4v1.4h-1.4zM109.5 802.6h1.4v1.4h-1.4zM90.0 811.0h1.4v1.4h-1.4zM120.6 814.8h1.4v1.4h-1.4zM102.8 820.0h1.4v1.4h-1.4zM124.8 778.5h1.4v1.4h-1.4zM98.0 804.8h1.4v1.4h-1.4zM111.8 779.8h1.4v1.4h-1.4zM95.0 813.9h1.4v1.4h-1.4zM123.6 815.5h1.4v1.4h-1.4zM99.5 806.2h1.4v1.4h-1.4zM131.9 804.2h1.4v1.4h-1.4zM102.9 809.8h1.4v1.4h-1.4zM90.7 799.9h1.4v1.4h-1.4zM105.1 812.3h1.4v1.4h-1.4zM118.8 800.1h1.4v1.4h-1.4zM87.7 812.3h1.4v1.4h-1.4zM117.4 805.1h1.4v1.4h-1.4zM109.2 805.9h1.4v1.4h-1.4zM125.4 791.2h1.4v1.4h-1.4zM115.7 837.8h1.4v1.4h-1.4zM99.0 783.1h1.4v1.4h-1.4zM121.4 809.2h1.4v1.4h-1.4zM93.5 796.3h1.4v1.4h-1.4zM98.8 804.5h1.4v1.4h-1.4zM92.0 821.1h1.4v1.4h-1.4zM134.9 815.8h1.4v1.4h-1.4zM105.4 831.0h1.4v1.4h-1.4zM99.0 791.3h1.4v1.4h-1.4zM98.3 804.1h1.4v1.4h-1.4zM95.8 828.3h1.4v1.4h-1.4zM120.5 806.0h1.4v1.4h-1.4zM117.0 798.1h1.4v1.4h-1.4zM79.5 812.0h1.4v1.4h-1.4zM114.9 817.9h1.4v1.4h-1.4zM88.1 803.7h1.4v1.4h-1.4zM77.2 830.9h1.4v1.4h-1.4zM94.4 803.2h1.4v1.4h-1.4zM102.9 820.4h1.4v1.4h-1.4zM96.9 814.8h1.4v1.4h-1.4zM111.7 808.2h1.4v1.4h-1.4zM128.0 777.2h1.4v1.4h-1.4zM74.6 821.9h1.4v1.4h-1.4zM122.5 803.4h1.4v1.4h-1.4zM83.7 818.6h1.4v1.4h-1.4zM95.5 808.1h1.4v1.4h-1.4zM79.6 810.3h1.4v1.4h-1.4zM89.3 805.3h1.4v1.4h-1.4zM93.4 808.5h1.4v1.4h-1.4zM115.6 829.3h1.4v1.4h-1.4zM94.2 823.6h1.4v1.4h-1.4zM103.7 822.1h1.4v1.4h-1.4zM95.1 818.0h1.4v1.4h-1.4zM103.5 800.5h1.4v1.4h-1.4zM130.1 779.5h1.4v1.4h-1.4zM107.5 818.2h1.4v1.4h-1.4zM96.4 824.3h1.4v1.4h-1.4zM84.6 818.3h1.4v1.4h-1.4zM97.2 816.5h1.4v1.4h-1.4zM118.3 787.2h1.4v1.4h-1.4zM102.3 803.3h1.4v1.4h-1.4zM120.2 822.2h1.4v1.4h-1.4zM102.1 810.2h1.4v1.4h-1.4zM128.6 803.1h1.4v1.4h-1.4zM89.4 792.7h1.4v1.4h-1.4zM85.0 803.3h1.4v1.4h-1.4zM126.6 821.6h1.4v1.4h-1.4zM112.0 795.7h1.4v1.4h-1.4zM94.8 822.2h1.4v1.4h-1.4zM108.3 802.2h1.4v1.4h-1.4zM131.7 801.3h1.4v1.4h-1.4zM105.5 790.8h1.4v1.4h-1.4zM114.1 804.6h1.4v1.4h-1.4zM105.9 791.0h1.4v1.4h-1.4zM98.0 803.8h1.4v1.4h-1.4zM133.3 821.5h1.4v1.4h-1.4zM98.4 813.1h1.4v1.4h-1.4zM98.9 813.2h1.4v1.4h-1.4zM105.9 809.8h1.4v1.4h-1.4zM87.1 785.8h1.4v1.4h-1.4zM116.0 781.4h1.4v1.4h-1.4zM111.2 812.5h1.4v1.4h-1.4zM124.2 787.2h1.4v1.4h-1.4zM103.8 814.5h1.4v1.4h-1.4zM83.6 822.0h1.4v1.4h-1.4zM127.2 802.4h1.4v1.4h-1.4zM115.4 793.7h1.4v1.4h-1.4zM93.6 811.9h1.4v1.4h-1.4zM91.0 815.2h1.4v1.4h-1.4zM97.9 820.3h1.4v1.4h-1.4zM86.0 805.3h1.4v1.4h-1.4zM100.8 790.3h1.4v1.4h-1.4zM129.8 797.4h1.4v1.4h-1.4zM106.5 778.1h1.4v1.4h-1.4zM110.7 783.0h1.4v1.4h-1.4zM141.6 776.6h1.4v1.4h-1.4zM119.7 797.4h1.4v1.4h-1.4zM96.1 825.0h1.4v1.4h-1.4zM98.0 829.9h1.4v1.4h-1.4zM123.2 800.9h1.4v1.4h-1.4zM109.6 777.2h1.4v1.4h-1.4zM104.4 825.9h1.4v1.4h-1.4zM126.7 795.1h1.4v1.4h-1.4zM100.8 792.0h1.4v1.4h-1.4zM120.3 802.3h1.4v1.4h-1.4zM95.9 804.2h1.4v1.4h-1.4zM122.0 775.4h1.4v1.4h-1.4zM116.2 815.6h1.4v1.4h-1.4zM119.1 785.1h1.4v1.4h-1.4zM110.4 823.5h1.4v1.4h-1.4zM105.8 802.2h1.4v1.4h-1.4zM127.3 812.6h1.4v1.4h-1.4zM111.1 831.6h1.4v1.4h-1.4zM85.8 833.0h1.4v1.4h-1.4zM99.5 824.0h1.4v1.4h-1.4zM112.1 816.5h1.4v1.4h-1.4zM112.4 796.5h1.4v1.4h-1.4zM132.2 795.0h1.4v1.4h-1.4zM112.4 804.7h1.4v1.4h-1.4zM85.2 814.1h1.4v1.4h-1.4zM90.7 810.4h1.4v1.4h-1.4zM93.9 828.4h1.4v1.4h-1.4zM105.8 812.8h1.4v1.4h-1.4zM106.4 810.6h1.4v1.4h-1.4zM119.9 821.5h1.4v1.4h-1.4zM115.5 788.0h1.4v1.4h-1.4zM101.8 804.8h1.4v1.4h-1.4zM130.7 763.2h1.4v1.4h-1.4zM89.6 822.2h1.4v1.4h-1.4zM101.7 826.5h1.4v1.4h-1.4zM113.0 828.8h1.4v1.4h-1.4zM98.4 815.4h1.4v1.4h-1.4zM134.5 795.2h1.4v1.4h-1.4zM120.3 803.7h1.4v1.4h-1.4zM96.8 822.4h1.4v1.4h-1.4zM87.7 804.6h1.4v1.4h-1.4zM108.5 803.6h1.4v1.4h-1.4zM112.5 803.0h1.4v1.4h-1.4zM125.3 810.8h1.4v1.4h-1.4zM82.2 837.8h1.4v1.4h-1.4zM111.0 834.9h1.4v1.4h-1.4zM96.5 832.0h1.4v1.4h-1.4zM104.8 785.6h1.4v1.4h-1.4zM124.8 790.9h1.4v1.4h-1.4zM101.8 777.4h1.4v1.4h-1.4zM103.3 802.9h1.4v1.4h-1.4zM96.2 811.8h1.4v1.4h-1.4zM59.3 788.1h1.4v1.4h-1.4zM102.5 802.2h1.4v1.4h-1.4zM91.4 825.4h1.4v1.4h-1.4zM119.1 811.6h1.4v1.4h-1.4zM125.7 801.4h1.4v1.4h-1.4zM130.0 796.0h1.4v1.4h-1.4zM125.8 807.1h1.4v1.4h-1.4zM110.1 827.4h1.4v1.4h-1.4zM78.1 824.5h1.4v1.4h-1.4zM92.2 796.1h1.4v1.4h-1.4zM110.1 824.0h1.4v1.4h-1.4zM123.3 803.5h1.4v1.4h-1.4zM132.9 820.2h1.4v1.4h-1.4zM91.2 823.8h1.4v1.4h-1.4zM114.9 813.3h1.4v1.4h-1.4zM90.7 820.5h1.4v1.4h-1.4zM107.0 810.0h1.4v1.4h-1.4zM120.1 798.6h1.4v1.4h-1.4zM132.0 800.5h1.4v1.4h-1.4zM104.2 829.0h1.4v1.4h-1.4zM101.0 810.8h1.4v1.4h-1.4zM103.3 808.9h1.4v1.4h-1.4zM101.3 789.3h1.4v1.4h-1.4zM127.1 811.5h1.4v1.4h-1.4zM117.9 811.7h1.4v1.4h-1.4zM123.3 786.5h1.4v1.4h-1.4zM114.5 802.4h1.4v1.4h-1.4zM104.9 801.1h1.4v1.4h-1.4zM111.7 811.7h1.4v1.4h-1.4zM118.9 778.4h1.4v1.4h-1.4zM114.0 771.3h1.4v1.4h-1.4zM95.1 807.2h1.4v1.4h-1.4zM96.2 812.4h1.4v1.4h-1.4zM76.3 820.0h1.4v1.4h-1.4zM74.0 835.2h1.4v1.4h-1.4zM110.0 823.4h1.4v1.4h-1.4zM105.7 821.7h1.4v1.4h-1.4zM105.6 819.5h1.4v1.4h-1.4zM89.8 820.1h1.4v1.4h-1.4zM97.5 815.3h1.4v1.4h-1.4zM105.5 808.7h1.4v1.4h-1.4zM105.8 810.9h1.4v1.4h-1.4zM73.7 822.1h1.4v1.4h-1.4zM110.1 806.4h1.4v1.4h-1.4zM89.8 816.7h1.4v1.4h-1.4zM117.3 829.0h1.4v1.4h-1.4zM78.6 805.4h1.4v1.4h-1.4zM77.0 851.0h1.4v1.4h-1.4zM108.2 816.7h1.4v1.4h-1.4zM116.4 821.1h1.4v1.4h-1.4zM84.0 824.2h1.4v1.4h-1.4zM80.6 823.7h1.4v1.4h-1.4zM115.1 817.3h1.4v1.4h-1.4zM122.3 758.3h1.4v1.4h-1.4zM113.7 832.2h1.4v1.4h-1.4zM73.5 856.9h1.4v1.4h-1.4zM121.5 812.4h1.4v1.4h-1.4zM72.6 815.8h1.4v1.4h-1.4zM106.7 791.1h1.4v1.4h-1.4zM89.1 812.9h1.4v1.4h-1.4zM108.9 811.2h1.4v1.4h-1.4zM79.9 837.7h1.4v1.4h-1.4zM124.5 815.1h1.4v1.4h-1.4zM127.0 792.5h1.4v1.4h-1.4zM128.3 809.2h1.4v1.4h-1.4zM129.8 793.8h1.4v1.4h-1.4zM123.7 773.6h1.4v1.4h-1.4zM104.4 801.7h1.4v1.4h-1.4zM105.9 790.5h1.4v1.4h-1.4zM110.5 798.1h1.4v1.4h-1.4zM87.1 827.9h1.4v1.4h-1.4zM138.4 780.1h1.4v1.4h-1.4zM74.8 812.5h1.4v1.4h-1.4zM95.1 810.9h1.4v1.4h-1.4zM133.8 808.8h1.4v1.4h-1.4zM111.0 819.4h1.4v1.4h-1.4zM101.6 813.5h1.4v1.4h-1.4zM89.9 815.6h1.4v1.4h-1.4zM128.4 791.4h1.4v1.4h-1.4zM111.0 812.0h1.4v1.4h-1.4zM86.8 829.2h1.4v1.4h-1.4zM101.3 829.3h1.4v1.4h-1.4zM123.0 801.5h1.4v1.4h-1.4zM116.9 799.2h1.4v1.4h-1.4zM101.0 789.9h1.4v1.4h-1.4zM91.1 815.3h1.4v1.4h-1.4zM73.1 857.4h1.4v1.4h-1.4zM79.2 826.1h1.4v1.4h-1.4zM113.2 814.9h1.4v1.4h-1.4zM114.6 779.3h1.4v1.4h-1.4zM104.5 811.3h1.4v1.4h-1.4zM132.5 818.2h1.4v1.4h-1.4zM100.1 819.1h1.4v1.4h-1.4zM120.6 767.1h1.4v1.4h-1.4zM119.6 800.3h1.4v1.4h-1.4zM108.3 812.8h1.4v1.4h-1.4zM92.9 815.0h1.4v1.4h-1.4zM85.3 806.9h1.4v1.4h-1.4zM130.1 800.4h1.4v1.4h-1.4zM87.9 800.4h1.4v1.4h-1.4zM136.7 782.2h1.4v1.4h-1.4zM123.4 786.2h1.4v1.4h-1.4zM103.4 814.0h1.4v1.4h-1.4zM128.3 820.6h1.4v1.4h-1.4zM99.9 819.1h1.4v1.4h-1.4zM109.6 832.2h1.4v1.4h-1.4zM119.5 771.9h1.4v1.4h-1.4zM122.7 801.1h1.4v1.4h-1.4zM108.8 802.0h1.4v1.4h-1.4zM91.6 787.1h1.4v1.4h-1.4zM128.9 818.7h1.4v1.4h-1.4zM124.7 784.8h1.4v1.4h-1.4zM114.6 816.7h1.4v1.4h-1.4zM109.1 798.2h1.4v1.4h-1.4zM122.9 793.4h1.4v1.4h-1.4zM124.8 781.9h1.4v1.4h-1.4zM112.5 835.5h1.4v1.4h-1.4zM81.1 802.9h1.4v1.4h-1.4zM141.3 801.7h1.4v1.4h-1.4zM139.3 781.6h1.4v1.4h-1.4zM118.4 803.7h1.4v1.4h-1.4zM147.7 791.1h1.4v1.4h-1.4zM98.9 812.0h1.4v1.4h-1.4zM87.5 819.8h1.4v1.4h-1.4zM91.0 807.8h1.4v1.4h-1.4zM130.4 802.9h1.4v1.4h-1.4zM90.7 806.8h1.4v1.4h-1.4zM105.7 793.1h1.4v1.4h-1.4zM93.1 804.2h1.4v1.4h-1.4zM83.1 818.9h1.4v1.4h-1.4zM105.7 775.8h1.4v1.4h-1.4zM131.8 796.6h1.4v1.4h-1.4zM109.7 811.6h1.4v1.4h-1.4zM108.1 804.5h1.4v1.4h-1.4zM97.3 808.8h1.4v1.4h-1.4zM104.9 827.3h1.4v1.4h-1.4zM106.6 816.7h1.4v1.4h-1.4zM113.5 819.1h1.4v1.4h-1.4zM77.4 801.3h1.4v1.4h-1.4zM120.6 790.6h1.4v1.4h-1.4zM128.5 804.1h1.4v1.4h-1.4zM73.8 814.3h1.4v1.4h-1.4zM82.0 822.1h1.4v1.4h-1.4zM98.7 809.7h1.4v1.4h-1.4zM98.5 814.5h1.4v1.4h-1.4zM107.0 805.0h1.4v1.4h-1.4zM114.7 823.2h1.4v1.4h-1.4zM85.8 836.5h1.4v1.4h-1.4zM87.2 805.2h1.4v1.4h-1.4zM94.4 813.0h1.4v1.4h-1.4zM114.4 802.9h1.4v1.4h-1.4zM111.3 794.2h1.4v1.4h-1.4zM80.4 852.2h1.4v1.4h-1.4zM106.7 803.8h1.4v1.4h-1.4zM80.7 821.8h1.4v1.4h-1.4zM131.6 781.4h1.4v1.4h-1.4zM104.5 808.4h1.4v1.4h-1.4zM118.9 814.3h1.4v1.4h-1.4zM100.1 831.4h1.4v1.4h-1.4zM110.7 816.6h1.4v1.4h-1.4zM102.8 802.6h1.4v1.4h-1.4zM95.9 809.7h1.4v1.4h-1.4zM128.5 787.1h1.4v1.4h-1.4zM112.7 807.9h1.4v1.4h-1.4zM117.3 812.6h1.4v1.4h-1.4zM61.1 822.4h1.4v1.4h-1.4zM64.5 823.4h1.4v1.4h-1.4zM107.0 809.0h1.4v1.4h-1.4zM121.2 795.5h1.4v1.4h-1.4zM79.8 817.8h1.4v1.4h-1.4zM106.1 816.9h1.4v1.4h-1.4zM117.7 820.9h1.4v1.4h-1.4zM121.5 792.5h1.4v1.4h-1.4zM116.0 826.8h1.4v1.4h-1.4zM137.4 780.5h1.4v1.4h-1.4zM127.4 793.6h1.4v1.4h-1.4zM104.6 809.3h1.4v1.4h-1.4zM105.7 803.3h1.4v1.4h-1.4zM90.2 791.1h1.4v1.4h-1.4zM125.3 799.5h1.4v1.4h-1.4zM68.2 845.6h1.4v1.4h-1.4zM108.7 799.6h1.4v1.4h-1.4zM104.1 827.3h1.4v1.4h-1.4zM80.2 848.9h1.4v1.4h-1.4zM112.0 794.3h1.4v1.4h-1.4zM103.3 823.7h1.4v1.4h-1.4zM92.8 802.2h1.4v1.4h-1.4zM116.2 811.9h1.4v1.4h-1.4zM88.4 827.7h1.4v1.4h-1.4zM136.0 790.7h1.4v1.4h-1.4zM114.6 820.7h1.4v1.4h-1.4zM101.5 813.8h1.4v1.4h-1.4zM120.4 801.2h1.4v1.4h-1.4zM106.0 806.0h1.4v1.4h-1.4zM92.2 788.9h1.4v1.4h-1.4zM107.6 816.1h1.4v1.4h-1.4zM102.7 831.1h1.4v1.4h-1.4zM106.5 819.6h1.4v1.4h-1.4zM95.8 819.2h1.4v1.4h-1.4zM102.2 839.4h1.4v1.4h-1.4zM114.4 804.0h1.4v1.4h-1.4zM117.7 814.6h1.4v1.4h-1.4zM84.9 796.7h1.4v1.4h-1.4zM109.6 810.6h1.4v1.4h-1.4zM82.0 813.4h1.4v1.4h-1.4zM106.9 792.0h1.4v1.4h-1.4zM119.9 813.9h1.4v1.4h-1.4zM100.6 804.5h1.4v1.4h-1.4zM123.3 794.3h1.4v1.4h-1.4zM115.9 803.7h1.4v1.4h-1.4zM119.8 809.4h1.4v1.4h-1.4zM81.8 825.3h1.4v1.4h-1.4zM103.6 818.6h1.4v1.4h-1.4zM115.4 800.5h1.4v1.4h-1.4zM107.5 812.4h1.4v1.4h-1.4zM116.4 818.2h1.4v1.4h-1.4zM110.6 817.0h1.4v1.4h-1.4zM113.8 807.2h1.4v1.4h-1.4zM105.3 813.0h1.4v1.4h-1.4zM100.8 792.8h1.4v1.4h-1.4zM91.4 819.6h1.4v1.4h-1.4zM82.8 799.5h1.4v1.4h-1.4zM76.9 801.4h1.4v1.4h-1.4zM97.0 825.3h1.4v1.4h-1.4zM111.9 805.8h1.4v1.4h-1.4zM86.8 849.7h1.4v1.4h-1.4zM107.3 810.8h1.4v1.4h-1.4zM80.0 817.3h1.4v1.4h-1.4zM109.7 806.1h1.4v1.4h-1.4zM111.7 790.0h1.4v1.4h-1.4zM106.5 804.8h1.4v1.4h-1.4zM102.5 807.2h1.4v1.4h-1.4zM114.2 812.2h1.4v1.4h-1.4zM102.5 820.4h1.4v1.4h-1.4zM105.9 813.6h1.4v1.4h-1.4zM103.6 809.1h1.4v1.4h-1.4zM113.8 788.3h1.4v1.4h-1.4zM96.5 822.7h1.4v1.4h-1.4zM94.3 810.9h1.4v1.4h-1.4zM93.2 817.6h1.4v1.4h-1.4zM115.2 809.3h1.4v1.4h-1.4zM92.0 822.7h1.4v1.4h-1.4zM53.6 819.3h1.4v1.4h-1.4zM106.5 807.3h1.4v1.4h-1.4zM106.7 824.5h1.4v1.4h-1.4zM118.3 811.9h1.4v1.4h-1.4zM102.4 821.3h1.4v1.4h-1.4zM86.7 820.6h1.4v1.4h-1.4zM114.4 796.3h1.4v1.4h-1.4zM95.2 819.9h1.4v1.4h-1.4zM112.8 795.0h1.4v1.4h-1.4zM126.8 808.3h1.4v1.4h-1.4zM120.7 799.1h1.4v1.4h-1.4zM110.5 807.2h1.4v1.4h-1.4zM88.2 803.3h1.4v1.4h-1.4zM87.7 823.6h1.4v1.4h-1.4zM125.8 806.6h1.4v1.4h-1.4zM105.3 817.3h1.4v1.4h-1.4zM102.6 828.1h1.4v1.4h-1.4zM75.3 822.7h1.4v1.4h-1.4zM110.3 835.5h1.4v1.4h-1.4zM106.8 832.9h1.4v1.4h-1.4zM126.3 819.3h1.4v1.4h-1.4zM100.8 805.7h1.4v1.4h-1.4zM89.5 843.8h1.4v1.4h-1.4zM96.1 824.7h1.4v1.4h-1.4zM105.6 793.9h1.4v1.4h-1.4zM92.0 807.6h1.4v1.4h-1.4zM95.4 808.3h1.4v1.4h-1.4zM97.4 796.5h1.4v1.4h-1.4zM86.3 802.6h1.4v1.4h-1.4zM97.4 796.8h1.4v1.4h-1.4zM87.1 834.5h1.4v1.4h-1.4zM119.8 815.8h1.4v1.4h-1.4zM117.1 816.4h1.4v1.4h-1.4zM120.4 815.4h1.4v1.4h-1.4zM116.9 804.1h1.4v1.4h-1.4zM120.3 794.3h1.4v1.4h-1.4zM109.3 821.3h1.4v1.4h-1.4zM116.0 839.1h1.4v1.4h-1.4zM119.6 787.1h1.4v1.4h-1.4zM65.1 845.2h1.4v1.4h-1.4zM126.6 806.2h1.4v1.4h-1.4zM102.7 831.7h1.4v1.4h-1.4zM109.1 810.6h1.4v1.4h-1.4zM124.5 808.4h1.4v1.4h-1.4zM96.8 821.8h1.4v1.4h-1.4zM97.8 830.1h1.4v1.4h-1.4zM120.8 818.7h1.4v1.4h-1.4zM116.2 817.0h1.4v1.4h-1.4zM127.7 810.5h1.4v1.4h-1.4zM106.6 806.2h1.4v1.4h-1.4zM112.4 819.1h1.4v1.4h-1.4zM100.8 819.1h1.4v1.4h-1.4zM86.2 834.4h1.4v1.4h-1.4zM114.8 813.2h1.4v1.4h-1.4zM121.7 805.8h1.4v1.4h-1.4zM112.7 782.3h1.4v1.4h-1.4zM125.7 805.8h1.4v1.4h-1.4zM88.9 823.3h1.4v1.4h-1.4zM104.6 823.7h1.4v1.4h-1.4zM98.4 816.2h1.4v1.4h-1.4zM129.6 794.2h1.4v1.4h-1.4zM109.0 789.0h1.4v1.4h-1.4zM135.6 815.8h1.4v1.4h-1.4zM129.5 803.1h1.4v1.4h-1.4zM75.1 828.0h1.4v1.4h-1.4zM106.9 803.9h1.4v1.4h-1.4zM105.5 802.2h1.4v1.4h-1.4zM105.6 806.6h1.4v1.4h-1.4zM108.1 810.5h1.4v1.4h-1.4zM103.4 818.7h1.4v1.4h-1.4zM103.1 832.9h1.4v1.4h-1.4zM103.4 809.5h1.4v1.4h-1.4zM107.1 823.1h1.4v1.4h-1.4zM98.9 807.3h1.4v1.4h-1.4zM96.1 818.3h1.4v1.4h-1.4zM108.4 829.8h1.4v1.4h-1.4zM95.7 789.1h1.4v1.4h-1.4zM115.1 824.9h1.4v1.4h-1.4zM77.9 819.8h1.4v1.4h-1.4zM89.4 810.6h1.4v1.4h-1.4zM133.9 794.4h1.4v1.4h-1.4zM92.6 820.6h1.4v1.4h-1.4zM101.8 773.9h1.4v1.4h-1.4zM107.0 793.2h1.4v1.4h-1.4zM116.1 804.4h1.4v1.4h-1.4zM82.2 814.7h1.4v1.4h-1.4zM82.8 806.9h1.4v1.4h-1.4zM114.3 803.8h1.4v1.4h-1.4zM98.3 811.1h1.4v1.4h-1.4zM105.3 789.1h1.4v1.4h-1.4zM108.5 799.1h1.4v1.4h-1.4zM94.9 802.8h1.4v1.4h-1.4zM129.5 787.5h1.4v1.4h-1.4zM102.7 831.2h1.4v1.4h-1.4zM90.8 811.3h1.4v1.4h-1.4zM119.8 820.2h1.4v1.4h-1.4zM127.0 785.4h1.4v1.4h-1.4zM100.0 814.3h1.4v1.4h-1.4zM126.5 784.6h1.4v1.4h-1.4zM111.0 802.6h1.4v1.4h-1.4zM108.9 824.1h1.4v1.4h-1.4zM134.0 786.8h1.4v1.4h-1.4zM88.1 783.9h1.4v1.4h-1.4zM85.3 807.9h1.4v1.4h-1.4zM114.8 807.7h1.4v1.4h-1.4zM81.8 802.5h1.4v1.4h-1.4zM102.5 818.2h1.4v1.4h-1.4zM77.4 830.2h1.4v1.4h-1.4zM104.0 817.6h1.4v1.4h-1.4zM101.6 834.3h1.4v1.4h-1.4zM104.6 804.9h1.4v1.4h-1.4zM108.3 813.1h1.4v1.4h-1.4zM107.3 808.0h1.4v1.4h-1.4zM104.5 802.1h1.4v1.4h-1.4zM93.5 803.2h1.4v1.4h-1.4zM101.3 825.0h1.4v1.4h-1.4zM92.3 814.6h1.4v1.4h-1.4zM90.2 817.7h1.4v1.4h-1.4zM122.8 802.0h1.4v1.4h-1.4zM98.2 793.2h1.4v1.4h-1.4zM110.8 796.1h1.4v1.4h-1.4zM103.3 816.0h1.4v1.4h-1.4zM117.9 806.6h1.4v1.4h-1.4zM128.0 803.3h1.4v1.4h-1.4zM109.0 802.3h1.4v1.4h-1.4zM94.0 817.1h1.4v1.4h-1.4zM109.5 796.8h1.4v1.4h-1.4zM93.6 797.8h1.4v1.4h-1.4zM130.4 808.6h1.4v1.4h-1.4zM119.8 799.7h1.4v1.4h-1.4zM114.0 804.1h1.4v1.4h-1.4zM116.2 798.6h1.4v1.4h-1.4zM118.5 799.4h1.4v1.4h-1.4zM99.3 806.4h1.4v1.4h-1.4zM84.9 823.4h1.4v1.4h-1.4zM89.3 820.8h1.4v1.4h-1.4zM94.4 802.7h1.4v1.4h-1.4zM96.8 804.3h1.4v1.4h-1.4zM114.2 820.3h1.4v1.4h-1.4zM110.7 803.0h1.4v1.4h-1.4zM91.0 812.2h1.4v1.4h-1.4zM77.9 843.3h1.4v1.4h-1.4zM104.9 800.8h1.4v1.4h-1.4zM118.2 805.0h1.4v1.4h-1.4zM126.2 802.9h1.4v1.4h-1.4zM94.5 800.7h1.4v1.4h-1.4zM116.7 818.0h1.4v1.4h-1.4zM57.3 801.0h1.4v1.4h-1.4zM134.8 788.5h1.4v1.4h-1.4zM130.2 816.1h1.4v1.4h-1.4zM121.5 805.6h1.4v1.4h-1.4zM91.2 802.4h1.4v1.4h-1.4zM94.0 837.7h1.4v1.4h-1.4zM85.8 854.8h1.4v1.4h-1.4zM78.6 844.0h1.4v1.4h-1.4zM121.4 817.4h1.4v1.4h-1.4zM118.2 796.2h1.4v1.4h-1.4zM86.3 833.4h1.4v1.4h-1.4zM94.0 804.0h1.4v1.4h-1.4zM117.4 806.8h1.4v1.4h-1.4zM115.3 799.4h1.4v1.4h-1.4zM115.6 764.6h1.4v1.4h-1.4zM108.1 803.8h1.4v1.4h-1.4zM104.1 796.5h1.4v1.4h-1.4zM120.7 793.5h1.4v1.4h-1.4zM95.7 803.5h1.4v1.4h-1.4zM126.1 793.5h1.4v1.4h-1.4zM76.6 824.1h1.4v1.4h-1.4zM120.3 788.1h1.4v1.4h-1.4zM76.8 801.3h1.4v1.4h-1.4zM102.9 817.1h1.4v1.4h-1.4zM93.8 842.6h1.4v1.4h-1.4zM88.8 820.0h1.4v1.4h-1.4zM88.7 804.1h1.4v1.4h-1.4zM91.4 824.8h1.4v1.4h-1.4zM111.5 811.7h1.4v1.4h-1.4zM85.9 820.1h1.4v1.4h-1.4zM111.6 809.0h1.4v1.4h-1.4zM99.1 808.3h1.4v1.4h-1.4zM90.7 803.1h1.4v1.4h-1.4zM107.6 804.2h1.4v1.4h-1.4zM84.9 820.0h1.4v1.4h-1.4zM96.1 808.3h1.4v1.4h-1.4zM92.9 795.3h1.4v1.4h-1.4zM88.7 813.2h1.4v1.4h-1.4zM91.1 810.8h1.4v1.4h-1.4zM122.0 781.8h1.4v1.4h-1.4zM113.5 803.2h1.4v1.4h-1.4zM104.4 795.4h1.4v1.4h-1.4zM113.2 818.8h1.4v1.4h-1.4zM109.5 795.2h1.4v1.4h-1.4zM119.7 778.9h1.4v1.4h-1.4zM102.6 820.3h1.4v1.4h-1.4zM108.3 806.3h1.4v1.4h-1.4zM101.1 816.3h1.4v1.4h-1.4zM109.4 811.3h1.4v1.4h-1.4zM98.0 816.8h1.4v1.4h-1.4zM121.8 810.5h1.4v1.4h-1.4zM116.1 815.3h1.4v1.4h-1.4zM115.4 809.0h1.4v1.4h-1.4zM115.5 799.4h1.4v1.4h-1.4zM125.3 807.6h1.4v1.4h-1.4zM127.1 801.4h1.4v1.4h-1.4zM116.8 799.6h1.4v1.4h-1.4zM101.3 799.9h1.4v1.4h-1.4zM106.4 810.6h1.4v1.4h-1.4zM93.9 811.3h1.4v1.4h-1.4zM121.8 793.6h1.4v1.4h-1.4zM115.6 800.4h1.4v1.4h-1.4zM89.7 823.8h1.4v1.4h-1.4zM104.4 793.0h1.4v1.4h-1.4zM113.7 810.2h1.4v1.4h-1.4zM74.3 795.5h1.4v1.4h-1.4zM105.1 818.3h1.4v1.4h-1.4zM90.2 800.1h1.4v1.4h-1.4zM81.7 822.3h1.4v1.4h-1.4zM111.1 833.4h1.4v1.4h-1.4zM89.4 822.4h1.4v1.4h-1.4zM97.7 824.2h1.4v1.4h-1.4zM106.7 822.1h1.4v1.4h-1.4zM115.7 827.7h1.4v1.4h-1.4zM102.1 829.4h1.4v1.4h-1.4zM114.6 824.0h1.4v1.4h-1.4zM90.7 823.1h1.4v1.4h-1.4zM99.1 803.0h1.4v1.4h-1.4zM117.3 829.6h1.4v1.4h-1.4zM107.7 793.5h1.4v1.4h-1.4zM122.3 809.0h1.4v1.4h-1.4zM103.0 799.5h1.4v1.4h-1.4zM81.7 799.0h1.4v1.4h-1.4zM141.7 793.3h1.4v1.4h-1.4zM80.5 835.6h1.4v1.4h-1.4zM96.1 799.6h1.4v1.4h-1.4zM113.0 834.7h1.4v1.4h-1.4zM73.3 845.1h1.4v1.4h-1.4zM108.3 800.3h1.4v1.4h-1.4zM112.0 821.2h1.4v1.4h-1.4zM122.5 822.7h1.4v1.4h-1.4zM125.0 814.7h1.4v1.4h-1.4zM124.9 815.8h1.4v1.4h-1.4zM102.8 807.9h1.4v1.4h-1.4zM88.1 820.4h1.4v1.4h-1.4zM119.1 809.0h1.4v1.4h-1.4zM79.9 822.8h1.4v1.4h-1.4zM104.5 803.0h1.4v1.4h-1.4zM96.9 790.8h1.4v1.4h-1.4zM92.1 804.5h1.4v1.4h-1.4zM111.3 808.5h1.4v1.4h-1.4zM105.6 819.1h1.4v1.4h-1.4zM78.8 822.9h1.4v1.4h-1.4zM131.6 797.8h1.4v1.4h-1.4zM103.6 815.7h1.4v1.4h-1.4zM83.7 826.0h1.4v1.4h-1.4zM101.7 815.6h1.4v1.4h-1.4zM104.5 796.9h1.4v1.4h-1.4zM116.9 815.2h1.4v1.4h-1.4zM105.6 830.3h1.4v1.4h-1.4zM116.6 781.9h1.4v1.4h-1.4zM115.4 812.3h1.4v1.4h-1.4zM107.2 820.0h1.4v1.4h-1.4zM115.1 807.8h1.4v1.4h-1.4zM96.9 816.2h1.4v1.4h-1.4zM106.2 824.0h1.4v1.4h-1.4zM101.2 840.0h1.4v1.4h-1.4zM141.4 815.3h1.4v1.4h-1.4zM81.2 817.3h1.4v1.4h-1.4zM137.3 804.4h1.4v1.4h-1.4zM93.4 800.3h1.4v1.4h-1.4zM97.9 805.6h1.4v1.4h-1.4zM120.4 801.1h1.4v1.4h-1.4zM115.4 790.8h1.4v1.4h-1.4zM111.9 798.1h1.4v1.4h-1.4zM94.5 796.2h1.4v1.4h-1.4zM99.2 811.7h1.4v1.4h-1.4zM104.9 807.8h1.4v1.4h-1.4zM112.6 834.5h1.4v1.4h-1.4zM110.0 798.7h1.4v1.4h-1.4zM73.2 824.2h1.4v1.4h-1.4zM103.9 778.0h1.4v1.4h-1.4zM104.3 821.3h1.4v1.4h-1.4zM83.2 807.0h1.4v1.4h-1.4zM91.0 811.1h1.4v1.4h-1.4zM95.5 797.9h1.4v1.4h-1.4zM110.1 821.7h1.4v1.4h-1.4zM127.2 776.1h1.4v1.4h-1.4zM104.1 833.1h1.4v1.4h-1.4zM104.1 788.7h1.4v1.4h-1.4zM108.7 801.8h1.4v1.4h-1.4zM118.9 802.5h1.4v1.4h-1.4zM75.4 829.4h1.4v1.4h-1.4zM97.4 836.7h1.4v1.4h-1.4zM115.1 814.9h1.4v1.4h-1.4zM102.8 816.2h1.4v1.4h-1.4zM123.3 796.7h1.4v1.4h-1.4zM93.7 799.4h1.4v1.4h-1.4zM105.7 811.7h1.4v1.4h-1.4zM77.5 830.1h1.4v1.4h-1.4zM70.3 820.0h1.4v1.4h-1.4zM113.1 812.5h1.4v1.4h-1.4zM112.7 795.8h1.4v1.4h-1.4zM73.5 800.0h1.4v1.4h-1.4zM76.4 835.5h1.4v1.4h-1.4zM117.5 805.1h1.4v1.4h-1.4zM85.9 835.7h1.4v1.4h-1.4zM104.4 820.0h1.4v1.4h-1.4zM111.0 756.4h1.4v1.4h-1.4zM65.7 807.7h1.4v1.4h-1.4zM115.9 803.0h1.4v1.4h-1.4zM68.5 847.3h1.4v1.4h-1.4zM110.5 792.1h1.4v1.4h-1.4zM113.9 819.2h1.4v1.4h-1.4zM125.6 790.9h1.4v1.4h-1.4zM95.8 780.0h1.4v1.4h-1.4zM108.7 823.9h1.4v1.4h-1.4zM118.7 813.7h1.4v1.4h-1.4zM77.4 822.0h1.4v1.4h-1.4zM126.2 824.1h1.4v1.4h-1.4zM106.0 782.2h1.4v1.4h-1.4zM113.4 793.6h1.4v1.4h-1.4zM88.7 801.1h1.4v1.4h-1.4zM102.6 816.5h1.4v1.4h-1.4zM97.1 793.9h1.4v1.4h-1.4zM95.8 808.8h1.4v1.4h-1.4zM135.0 804.4h1.4v1.4h-1.4zM106.2 797.8h1.4v1.4h-1.4zM100.9 809.3h1.4v1.4h-1.4zM87.1 816.1h1.4v1.4h-1.4zM112.8 808.4h1.4v1.4h-1.4zM103.8 814.7h1.4v1.4h-1.4zM82.7 817.4h1.4v1.4h-1.4zM97.2 790.4h1.4v1.4h-1.4zM127.4 785.4h1.4v1.4h-1.4zM98.1 825.6h1.4v1.4h-1.4zM81.1 807.8h1.4v1.4h-1.4zM92.2 804.5h1.4v1.4h-1.4zM132.6 810.8h1.4v1.4h-1.4zM95.4 806.2h1.4v1.4h-1.4zM100.0 828.3h1.4v1.4h-1.4zM89.7 814.6h1.4v1.4h-1.4zM87.5 831.0h1.4v1.4h-1.4zM110.4 771.0h1.4v1.4h-1.4zM108.5 803.0h1.4v1.4h-1.4zM119.4 804.3h1.4v1.4h-1.4zM124.0 799.9h1.4v1.4h-1.4zM111.2 782.9h1.4v1.4h-1.4zM79.6 828.9h1.4v1.4h-1.4zM121.3 809.3h1.4v1.4h-1.4zM124.1 805.6h1.4v1.4h-1.4zM83.7 832.1h1.4v1.4h-1.4zM67.6 812.7h1.4v1.4h-1.4zM86.6 814.2h1.4v1.4h-1.4zM113.0 794.6h1.4v1.4h-1.4zM115.8 811.9h1.4v1.4h-1.4zM78.1 810.1h1.4v1.4h-1.4zM111.4 789.2h1.4v1.4h-1.4zM95.3 808.6h1.4v1.4h-1.4zM119.5 822.5h1.4v1.4h-1.4zM127.4 770.4h1.4v1.4h-1.4zM122.2 781.5h1.4v1.4h-1.4zM139.7 790.1h1.4v1.4h-1.4zM84.8 817.0h1.4v1.4h-1.4zM107.3 803.5h1.4v1.4h-1.4zM115.2 788.5h1.4v1.4h-1.4zM112.7 789.2h1.4v1.4h-1.4zM111.9 809.4h1.4v1.4h-1.4zM99.1 828.5h1.4v1.4h-1.4zM118.3 808.5h1.4v1.4h-1.4zM90.9 814.1h1.4v1.4h-1.4zM99.9 825.8h1.4v1.4h-1.4zM108.0 812.4h1.4v1.4h-1.4zM124.9 797.4h1.4v1.4h-1.4zM94.9 822.3h1.4v1.4h-1.4zM108.8 811.5h1.4v1.4h-1.4zM143.3 805.3h1.4v1.4h-1.4zM122.8 808.6h1.4v1.4h-1.4zM97.6 791.1h1.4v1.4h-1.4zM104.0 828.0h1.4v1.4h-1.4zM104.8 796.6h1.4v1.4h-1.4zM101.7 799.5h1.4v1.4h-1.4zM107.1 821.3h1.4v1.4h-1.4zM99.0 817.0h1.4v1.4h-1.4zM100.6 829.2h1.4v1.4h-1.4zM102.5 827.1h1.4v1.4h-1.4zM90.1 802.2h1.4v1.4h-1.4zM107.0 786.6h1.4v1.4h-1.4zM104.2 802.2h1.4v1.4h-1.4zM81.6 815.6h1.4v1.4h-1.4zM102.0 796.3h1.4v1.4h-1.4zM111.0 796.0h1.4v1.4h-1.4zM123.2 786.1h1.4v1.4h-1.4zM102.1 826.5h1.4v1.4h-1.4zM143.6 778.9h1.4v1.4h-1.4zM94.5 814.9h1.4v1.4h-1.4zM98.0 826.4h1.4v1.4h-1.4zM105.4 841.7h1.4v1.4h-1.4zM91.3 821.6h1.4v1.4h-1.4zM116.9 782.4h1.4v1.4h-1.4zM116.8 807.4h1.4v1.4h-1.4zM95.9 799.1h1.4v1.4h-1.4zM104.9 802.5h1.4v1.4h-1.4zM104.0 813.1h1.4v1.4h-1.4zM102.8 812.6h1.4v1.4h-1.4zM98.1 836.6h1.4v1.4h-1.4zM100.0 804.1h1.4v1.4h-1.4zM99.5 808.7h1.4v1.4h-1.4zM127.8 812.9h1.4v1.4h-1.4zM98.4 801.8h1.4v1.4h-1.4zM108.7 818.6h1.4v1.4h-1.4zM91.4 824.4h1.4v1.4h-1.4zM98.6 804.1h1.4v1.4h-1.4zM119.7 794.2h1.4v1.4h-1.4zM114.8 810.9h1.4v1.4h-1.4zM134.8 809.6h1.4v1.4h-1.4zM91.7 819.6h1.4v1.4h-1.4zM86.5 818.4h1.4v1.4h-1.4zM107.0 809.6h1.4v1.4h-1.4zM105.5 806.8h1.4v1.4h-1.4zM114.0 795.4h1.4v1.4h-1.4zM128.0 803.0h1.4v1.4h-1.4zM103.3 813.5h1.4v1.4h-1.4zM82.6 818.5h1.4v1.4h-1.4zM84.3 821.1h1.4v1.4h-1.4zM118.1 802.5h1.4v1.4h-1.4zM124.3 795.2h1.4v1.4h-1.4zM115.3 830.4h1.4v1.4h-1.4zM98.8 804.8h1.4v1.4h-1.4zM108.0 793.4h1.4v1.4h-1.4zM87.6 834.9h1.4v1.4h-1.4zM75.5 848.3h1.4v1.4h-1.4zM92.8 811.4h1.4v1.4h-1.4zM64.0 847.7h1.4v1.4h-1.4zM126.5 802.3h1.4v1.4h-1.4zM94.8 804.7h1.4v1.4h-1.4zM90.7 809.8h1.4v1.4h-1.4zM118.7 810.6h1.4v1.4h-1.4zM125.6 789.4h1.4v1.4h-1.4zM112.3 814.7h1.4v1.4h-1.4zM119.7 807.7h1.4v1.4h-1.4zM64.8 820.8h1.4v1.4h-1.4zM85.6 847.8h1.4v1.4h-1.4zM133.6 808.5h1.4v1.4h-1.4zM85.4 827.4h1.4v1.4h-1.4zM106.7 806.6h1.4v1.4h-1.4zM94.5 808.5h1.4v1.4h-1.4zM94.2 804.0h1.4v1.4h-1.4zM115.0 798.3h1.4v1.4h-1.4zM87.2 829.3h1.4v1.4h-1.4zM117.4 807.1h1.4v1.4h-1.4zM98.5 816.3h1.4v1.4h-1.4zM114.6 811.4h1.4v1.4h-1.4zM106.2 832.2h1.4v1.4h-1.4zM98.2 804.5h1.4v1.4h-1.4zM90.0 804.6h1.4v1.4h-1.4zM117.4 793.6h1.4v1.4h-1.4zM88.4 835.4h1.4v1.4h-1.4zM115.5 815.6h1.4v1.4h-1.4zM84.4 840.8h1.4v1.4h-1.4zM105.2 814.7h1.4v1.4h-1.4zM114.1 796.6h1.4v1.4h-1.4zM100.6 820.3h1.4v1.4h-1.4zM99.9 809.2h1.4v1.4h-1.4zM104.9 812.6h1.4v1.4h-1.4zM83.4 818.7h1.4v1.4h-1.4zM87.9 822.7h1.4v1.4h-1.4zM102.1 816.5h1.4v1.4h-1.4zM102.6 807.1h1.4v1.4h-1.4zM88.2 809.6h1.4v1.4h-1.4zM113.6 806.3h1.4v1.4h-1.4zM113.8 801.8h1.4v1.4h-1.4zM108.7 798.2h1.4v1.4h-1.4zM112.2 811.5h1.4v1.4h-1.4zM80.3 797.8h1.4v1.4h-1.4zM129.8 798.7h1.4v1.4h-1.4zM106.7 808.1h1.4v1.4h-1.4zM133.0 789.8h1.4v1.4h-1.4zM106.2 808.0h1.4v1.4h-1.4zM117.0 808.7h1.4v1.4h-1.4zM89.6 827.5h1.4v1.4h-1.4zM91.6 826.4h1.4v1.4h-1.4zM103.0 836.3h1.4v1.4h-1.4zM86.6 808.3h1.4v1.4h-1.4zM118.0 821.9h1.4v1.4h-1.4zM132.1 811.7h1.4v1.4h-1.4zM110.6 825.1h1.4v1.4h-1.4zM82.8 826.0h1.4v1.4h-1.4zM91.1 825.1h1.4v1.4h-1.4zM114.8 811.0h1.4v1.4h-1.4zM116.9 813.1h1.4v1.4h-1.4zM100.1 806.2h1.4v1.4h-1.4zM107.2 817.0h1.4v1.4h-1.4zM78.8 838.8h1.4v1.4h-1.4zM93.0 820.4h1.4v1.4h-1.4zM130.5 785.5h1.4v1.4h-1.4zM100.4 796.8h1.4v1.4h-1.4zM120.6 811.3h1.4v1.4h-1.4zM134.9 793.8h1.4v1.4h-1.4zM118.4 810.0h1.4v1.4h-1.4zM89.2 803.8h1.4v1.4h-1.4zM109.4 810.8h1.4v1.4h-1.4zM103.2 810.4h1.4v1.4h-1.4zM67.1 827.3h1.4v1.4h-1.4zM106.1 800.1h1.4v1.4h-1.4zM94.2 789.1h1.4v1.4h-1.4zM139.4 774.7h1.4v1.4h-1.4zM58.1 814.0h1.4v1.4h-1.4zM107.9 808.8h1.4v1.4h-1.4zM88.6 825.7h1.4v1.4h-1.4zM75.8 815.5h1.4v1.4h-1.4zM104.3 777.5h1.4v1.4h-1.4zM104.1 805.3h1.4v1.4h-1.4zM109.9 813.5h1.4v1.4h-1.4zM85.3 838.9h1.4v1.4h-1.4zM86.3 793.6h1.4v1.4h-1.4zM102.6 804.0h1.4v1.4h-1.4zM120.2 794.4h1.4v1.4h-1.4zM83.0 809.7h1.4v1.4h-1.4zM91.1 805.5h1.4v1.4h-1.4zM108.0 806.3h1.4v1.4h-1.4zM90.9 815.5h1.4v1.4h-1.4zM115.2 814.3h1.4v1.4h-1.4zM109.1 820.2h1.4v1.4h-1.4zM131.9 795.1h1.4v1.4h-1.4zM83.8 822.1h1.4v1.4h-1.4zM51.0 793.4h1.4v1.4h-1.4zM111.9 803.5h1.4v1.4h-1.4zM91.3 785.7h1.4v1.4h-1.4zM98.1 808.7h1.4v1.4h-1.4zM122.1 809.4h1.4v1.4h-1.4zM128.2 780.5h1.4v1.4h-1.4zM155.9 796.2h1.4v1.4h-1.4zM105.6 809.3h1.4v1.4h-1.4zM100.6 807.2h1.4v1.4h-1.4zM94.5 848.8h1.4v1.4h-1.4zM92.0 818.1h1.4v1.4h-1.4zM121.9 798.7h1.4v1.4h-1.4zM105.0 801.3h1.4v1.4h-1.4zM120.8 789.3h1.4v1.4h-1.4zM100.4 813.9h1.4v1.4h-1.4zM114.5 803.1h1.4v1.4h-1.4zM103.6 784.2h1.4v1.4h-1.4zM115.8 779.7h1.4v1.4h-1.4zM94.1 820.2h1.4v1.4h-1.4zM90.0 816.0h1.4v1.4h-1.4zM112.1 812.0h1.4v1.4h-1.4zM68.9 832.6h1.4v1.4h-1.4zM117.8 787.9h1.4v1.4h-1.4zM118.4 799.0h1.4v1.4h-1.4zM99.2 827.8h1.4v1.4h-1.4zM87.9 830.9h1.4v1.4h-1.4zM74.2 817.8h1.4v1.4h-1.4zM106.0 799.3h1.4v1.4h-1.4zM122.7 776.0h1.4v1.4h-1.4zM123.2 798.1h1.4v1.4h-1.4zM114.7 808.2h1.4v1.4h-1.4zM71.2 816.1h1.4v1.4h-1.4zM126.5 780.8h1.4v1.4h-1.4zM110.0 780.8h1.4v1.4h-1.4zM92.5 794.4h1.4v1.4h-1.4zM123.6 782.9h1.4v1.4h-1.4zM85.7 813.5h1.4v1.4h-1.4zM107.8 810.0h1.4v1.4h-1.4zM85.1 830.6h1.4v1.4h-1.4zM117.1 796.8h1.4v1.4h-1.4zM98.6 806.1h1.4v1.4h-1.4zM104.8 801.7h1.4v1.4h-1.4zM126.0 795.7h1.4v1.4h-1.4zM99.8 826.2h1.4v1.4h-1.4zM150.9 793.3h1.4v1.4h-1.4zM96.1 795.0h1.4v1.4h-1.4zM88.5 831.6h1.4v1.4h-1.4zM94.4 809.9h1.4v1.4h-1.4zM102.9 812.1h1.4v1.4h-1.4zM117.8 806.3h1.4v1.4h-1.4zM137.9 807.5h1.4v1.4h-1.4zM80.6 813.9h1.4v1.4h-1.4zM123.5 814.9h1.4v1.4h-1.4zM95.9 821.0h1.4v1.4h-1.4zM137.2 817.5h1.4v1.4h-1.4zM55.0 824.7h1.4v1.4h-1.4zM113.4 795.0h1.4v1.4h-1.4zM120.2 788.7h1.4v1.4h-1.4zM110.8 829.0h1.4v1.4h-1.4zM98.4 836.3h1.4v1.4h-1.4zM117.8 825.0h1.4v1.4h-1.4zM144.1 772.4h1.4v1.4h-1.4zM108.0 797.3h1.4v1.4h-1.4zM112.5 807.9h1.4v1.4h-1.4zM110.9 783.8h1.4v1.4h-1.4zM116.3 808.1h1.4v1.4h-1.4zM85.4 787.4h1.4v1.4h-1.4zM111.2 791.6h1.4v1.4h-1.4zM88.3 805.4h1.4v1.4h-1.4zM113.8 798.7h1.4v1.4h-1.4zM107.4 811.1h1.4v1.4h-1.4zM124.3 802.1h1.4v1.4h-1.4zM133.3 798.7h1.4v1.4h-1.4zM112.0 853.8h1.4v1.4h-1.4zM129.4 819.1h1.4v1.4h-1.4zM96.9 798.5h1.4v1.4h-1.4zM90.6 815.1h1.4v1.4h-1.4zM129.9 794.8h1.4v1.4h-1.4zM100.5 809.5h1.4v1.4h-1.4zM89.4 808.7h1.4v1.4h-1.4zM138.6 792.4h1.4v1.4h-1.4zM122.1 806.6h1.4v1.4h-1.4zM106.3 779.3h1.4v1.4h-1.4zM88.9 794.3h1.4v1.4h-1.4zM117.2 809.0h1.4v1.4h-1.4zM104.3 783.1h1.4v1.4h-1.4zM108.8 798.7h1.4v1.4h-1.4zM103.6 802.5h1.4v1.4h-1.4zM86.7 818.0h1.4v1.4h-1.4zM108.2 796.4h1.4v1.4h-1.4zM103.5 802.1h1.4v1.4h-1.4zM61.9 849.0h1.4v1.4h-1.4zM64.0 845.0h1.4v1.4h-1.4zM99.9 800.1h1.4v1.4h-1.4zM108.8 809.3h1.4v1.4h-1.4zM96.2 834.2h1.4v1.4h-1.4zM131.7 800.0h1.4v1.4h-1.4zM125.6 805.7h1.4v1.4h-1.4zM62.3 851.0h1.4v1.4h-1.4zM99.6 831.0h1.4v1.4h-1.4zM131.4 808.9h1.4v1.4h-1.4zM115.0 802.2h1.4v1.4h-1.4zM93.5 829.4h1.4v1.4h-1.4zM102.6 816.1h1.4v1.4h-1.4zM98.1 819.1h1.4v1.4h-1.4zM89.7 829.6h1.4v1.4h-1.4zM121.2 816.8h1.4v1.4h-1.4zM72.0 823.3h1.4v1.4h-1.4zM107.4 797.4h1.4v1.4h-1.4zM149.6 762.0h1.4v1.4h-1.4zM99.3 812.3h1.4v1.4h-1.4zM104.6 805.0h1.4v1.4h-1.4zM115.3 785.8h1.4v1.4h-1.4zM106.2 799.7h1.4v1.4h-1.4zM102.2 802.3h1.4v1.4h-1.4zM119.7 785.4h1.4v1.4h-1.4zM111.3 802.7h1.4v1.4h-1.4zM146.6 777.5h1.4v1.4h-1.4z"/>
<defs><filter id="wavy" x="-10%" y="-10%" width="120%" height="120%"><feTurbulence type="fractalNoise" baseFrequency="0.07" numOctaves="1" seed="5" result="n"/><feDisplacementMap in="SourceGraphic" in2="n" scale="3" xChannelSelector="R" yChannelSelector="G"/></filter></defs><g filter="url(#wavy)">
<path d="M119.9,781.7 C123.8,782.7 129.0,786.6 131.6,789.9 C134.2,793.2 135.5,797.8 135.7,801.5 C135.9,805.2 135.4,808.2 132.8,812.1 C130.2,816.0 124.8,821.4 119.9,824.9 C115.0,828.4 109.4,831.0 103.6,833.1 C97.8,835.2 89.4,837.8 84.9,837.8 C80.4,837.8 78.3,835.2 76.7,833.1 C75.1,831.0 74.1,829.0 75.5,824.9 C76.9,820.8 81.2,814.2 84.9,808.6 C88.6,803.0 93.8,795.1 97.7,791.0 C101.6,786.9 104.5,785.5 108.2,784.0 C111.9,782.5 116.0,780.7 119.9,781.7Z" fill="#c8444c" fill-opacity="0.92" stroke="#1a1a1a" stroke-width="0.55"/>
<path d="M119.1,783.7 C122.6,784.6 127.3,788.1 129.7,791.2 C132.1,794.2 133.3,798.4 133.5,801.7 C133.6,805.1 133.2,807.8 130.8,811.4 C128.4,815.0 123.5,819.9 119.1,823.1 C114.6,826.3 109.5,828.6 104.2,830.6 C98.9,832.5 91.2,834.8 87.1,834.8 C83.0,834.8 81.1,832.5 79.7,830.6 C78.2,828.6 77.3,826.8 78.6,823.1 C79.8,819.4 83.8,813.4 87.1,808.2 C90.5,803.1 95.3,795.9 98.8,792.2 C102.3,788.4 105.0,787.2 108.4,785.8 C111.8,784.4 115.5,782.8 119.1,783.7Z" fill="#c13840" fill-opacity="0.92" stroke="#1a1a1a" stroke-width="0.55"/>
<path d="M118.2,785.7 C121.4,786.5 125.7,789.7 127.8,792.4 C130.0,795.1 131.1,798.9 131.2,802.0 C131.4,805.0 131.0,807.5 128.8,810.7 C126.7,813.9 122.2,818.4 118.2,821.3 C114.2,824.1 109.6,826.2 104.8,828.0 C100.0,829.8 93.1,831.9 89.4,831.9 C85.7,831.9 83.9,829.8 82.6,828.0 C81.3,826.2 80.5,824.6 81.6,821.3 C82.7,817.9 86.3,812.5 89.4,807.8 C92.4,803.2 96.7,796.7 99.9,793.3 C103.1,789.9 105.5,788.8 108.6,787.6 C111.6,786.3 115.0,784.8 118.2,785.7Z" fill="#bb2f38" fill-opacity="0.92" stroke="#1a1a1a" stroke-width="0.55"/>
<path d="M117.4,787.6 C120.2,788.4 124.0,791.2 126.0,793.7 C127.9,796.1 128.8,799.5 129.0,802.2 C129.1,804.9 128.8,807.1 126.8,810.0 C124.9,812.9 120.9,816.9 117.4,819.4 C113.8,822.0 109.6,823.9 105.4,825.5 C101.1,827.0 94.9,828.9 91.6,828.9 C88.3,828.9 86.7,827.0 85.6,825.5 C84.4,823.9 83.7,822.4 84.7,819.4 C85.7,816.4 88.9,811.6 91.6,807.4 C94.3,803.3 98.2,797.5 101.0,794.5 C103.9,791.5 106.0,790.5 108.7,789.3 C111.5,788.2 114.5,786.9 117.4,787.6Z" fill="#b62a33" fill-opacity="0.92" stroke="#1a1a1a" stroke-width="0.55"/>
<path d="M116.5,789.6 C119.0,790.3 122.4,792.8 124.1,794.9 C125.8,797.1 126.6,800.0 126.7,802.4 C126.9,804.8 126.6,806.8 124.9,809.3 C123.2,811.8 119.7,815.3 116.5,817.6 C113.3,819.9 109.7,821.5 105.9,822.9 C102.2,824.3 96.7,826.0 93.8,826.0 C90.9,826.0 89.5,824.3 88.5,822.9 C87.5,821.5 86.8,820.3 87.7,817.6 C88.6,815.0 91.4,810.7 93.8,807.0 C96.2,803.4 99.6,798.3 102.1,795.6 C104.6,793.0 106.5,792.1 108.9,791.1 C111.3,790.1 114.0,789.0 116.5,789.6Z" fill="#b2262f" fill-opacity="0.92" stroke="#1a1a1a" stroke-width="0.55"/>
<path d="M115.7,791.6 C117.8,792.1 120.7,794.3 122.2,796.2 C123.7,798.0 124.4,800.6 124.5,802.7 C124.6,804.8 124.4,806.4 122.9,808.6 C121.4,810.8 118.4,813.8 115.7,815.8 C112.9,817.7 109.8,819.2 106.5,820.4 C103.3,821.6 98.6,823.0 96.1,823.0 C93.5,823.0 92.3,821.6 91.5,820.4 C90.6,819.2 90.0,818.1 90.8,815.8 C91.6,813.5 94.0,809.8 96.1,806.7 C98.1,803.5 101.0,799.1 103.2,796.8 C105.4,794.5 107.0,793.7 109.1,792.9 C111.2,792.0 113.5,791.0 115.7,791.6Z" fill="#ae232c" fill-opacity="0.92" stroke="#1a1a1a" stroke-width="0.55"/>
<path d="M114.8,793.6 C116.6,794.0 119.1,795.9 120.3,797.4 C121.6,799.0 122.2,801.2 122.3,802.9 C122.4,804.7 122.1,806.1 120.9,807.9 C119.7,809.8 117.1,812.3 114.8,814.0 C112.5,815.6 109.9,816.8 107.1,817.8 C104.4,818.8 100.4,820.0 98.3,820.0 C96.2,820.0 95.2,818.8 94.4,817.8 C93.7,816.8 93.2,815.9 93.8,814.0 C94.5,812.0 96.5,808.9 98.3,806.3 C100.0,803.6 102.5,799.9 104.3,798.0 C106.2,796.0 107.5,795.4 109.3,794.7 C111.0,793.9 113.0,793.1 114.8,793.6Z" fill="#ab2129" fill-opacity="0.92" stroke="#1a1a1a" stroke-width="0.55"/>
<path d="M114.0,795.5 C115.5,795.9 117.4,797.4 118.4,798.7 C119.5,800.0 119.9,801.7 120.0,803.2 C120.1,804.6 119.9,805.7 118.9,807.2 C117.9,808.7 115.8,810.8 114.0,812.1 C112.1,813.5 109.9,814.5 107.7,815.3 C105.5,816.1 102.2,817.1 100.5,817.1 C98.8,817.1 98.0,816.1 97.4,815.3 C96.8,814.5 96.4,813.7 96.9,812.1 C97.4,810.6 99.1,808.0 100.5,805.9 C101.9,803.7 103.9,800.7 105.4,799.1 C106.9,797.5 108.0,797.0 109.5,796.4 C110.9,795.8 112.5,795.2 114.0,795.5Z" fill="#a81f27" fill-opacity="0.92" stroke="#1a1a1a" stroke-width="0.55"/>
<path d="M113.1,797.5 C114.3,797.8 115.8,799.0 116.6,800.0 C117.3,800.9 117.7,802.3 117.8,803.4 C117.8,804.5 117.7,805.4 116.9,806.5 C116.1,807.7 114.5,809.3 113.1,810.3 C111.7,811.4 110.0,812.1 108.3,812.7 C106.6,813.4 104.1,814.1 102.7,814.1 C101.4,814.1 100.8,813.4 100.3,812.7 C99.9,812.1 99.6,811.5 100.0,810.3 C100.4,809.1 101.7,807.2 102.7,805.5 C103.8,803.8 105.4,801.5 106.5,800.3 C107.7,799.1 108.5,798.7 109.6,798.2 C110.7,797.7 112.0,797.2 113.1,797.5Z" fill="#a51d25" fill-opacity="0.92" stroke="#1a1a1a" stroke-width="0.55"/>
<path d="M112.3,799.5 C113.1,799.7 114.1,800.5 114.7,801.2 C115.2,801.9 115.5,802.9 115.5,803.6 C115.6,804.4 115.5,805.0 114.9,805.8 C114.4,806.6 113.3,807.8 112.3,808.5 C111.2,809.2 110.1,809.7 108.9,810.2 C107.7,810.6 105.9,811.2 105.0,811.2 C104.0,811.2 103.6,810.6 103.3,810.2 C102.9,809.7 102.7,809.3 103.0,808.5 C103.3,807.6 104.2,806.3 105.0,805.1 C105.7,803.9 106.8,802.3 107.6,801.4 C108.4,800.6 109.1,800.3 109.8,800.0 C110.6,799.7 111.4,799.3 112.3,799.5Z" fill="#a21b23" fill-opacity="0.92" stroke="#1a1a1a" stroke-width="0.55"/>
<path d="M111.4,801.5 C111.9,801.6 112.5,802.1 112.8,802.5 C113.1,802.9 113.3,803.4 113.3,803.9 C113.3,804.3 113.3,804.7 113.0,805.1 C112.6,805.6 112.0,806.2 111.4,806.7 C110.8,807.1 110.2,807.4 109.5,807.7 C108.8,807.9 107.7,808.2 107.2,808.2 C106.7,808.2 106.4,807.9 106.2,807.7 C106.0,807.4 105.9,807.2 106.1,806.7 C106.2,806.2 106.8,805.4 107.2,804.7 C107.7,804.0 108.3,803.1 108.7,802.6 C109.2,802.1 109.6,801.9 110.0,801.8 C110.4,801.6 110.9,801.4 111.4,801.5Z" fill="#9f1a21" fill-opacity="0.92" stroke="#1a1a1a" stroke-width="0.55"/>
</g>
<path fill="#e07a84" fill-opacity="0.35" d="M107.3 795.6h1.4v1.4h-1.4zM109.5 800.8h1.4v1.4h-1.4zM115.2 769.2h1.4v1.4h-1.4zM132.8 800.5h1.4v1.4h-1.4zM110.9 828.5h1.4v1.4h-1.4zM106.5 814.6h1.4v1.4h-1.4zM117.0 814.1h1.4v1.4h-1.4zM125.6 796.0h1.4v1.4h-1.4zM81.8 799.0h1.4v1.4h-1.4zM106.9 818.2h1.4v1.4h-1.4zM118.2 813.3h1.4v1.4h-1.4zM112.1 794.9h1.4v1.4h-1.4zM97.3 824.1h1.4v1.4h-1.4zM82.5 843.1h1.4v1.4h-1.4zM109.0 819.6h1.4v1.4h-1.4zM93.7 814.4h1.4v1.4h-1.4zM96.1 825.5h1.4v1.4h-1.4zM117.6 803.8h1.4v1.4h-1.4zM92.9 831.1h1.4v1.4h-1.4zM135.2 801.5h1.4v1.4h-1.4zM104.0 805.8h1.4v1.4h-1.4zM120.2 792.7h1.4v1.4h-1.4zM99.7 799.0h1.4v1.4h-1.4zM77.9 823.5h1.4v1.4h-1.4zM94.2 814.4h1.4v1.4h-1.4zM75.5 804.7h1.4v1.4h-1.4zM107.1 822.4h1.4v1.4h-1.4zM117.0 797.0h1.4v1.4h-1.4zM123.0 790.8h1.4v1.4h-1.4zM130.9 815.1h1.4v1.4h-1.4zM111.3 819.0h1.4v1.4h-1.4zM104.7 790.3h1.4v1.4h-1.4zM113.9 813.3h1.4v1.4h-1.4zM120.0 802.3h1.4v1.4h-1.4zM95.7 795.7h1.4v1.4h-1.4zM100.7 826.7h1.4v1.4h-1.4zM115.3 802.4h1.4v1.4h-1.4zM98.5 818.5h1.4v1.4h-1.4zM99.3 822.5h1.4v1.4h-1.4zM127.4 812.2h1.4v1.4h-1.4zM95.2 823.5h1.4v1.4h-1.4zM110.1 812.5h1.4v1.4h-1.4zM86.4 813.7h1.4v1.4h-1.4zM104.7 793.3h1.4v1.4h-1.4zM75.2 802.9h1.4v1.4h-1.4zM115.4 803.7h1.4v1.4h-1.4zM127.7 798.4h1.4v1.4h-1.4zM96.3 805.0h1.4v1.4h-1.4zM121.2 803.3h1.4v1.4h-1.4zM80.0 817.1h1.4v1.4h-1.4zM110.9 810.9h1.4v1.4h-1.4zM103.2 827.7h1.4v1.4h-1.4zM107.4 793.0h1.4v1.4h-1.4zM89.6 820.0h1.4v1.4h-1.4zM102.1 815.7h1.4v1.4h-1.4zM113.0 835.0h1.4v1.4h-1.4zM118.4 806.5h1.4v1.4h-1.4zM131.4 785.1h1.4v1.4h-1.4zM116.4 785.0h1.4v1.4h-1.4zM92.9 818.3h1.4v1.4h-1.4zM109.3 806.7h1.4v1.4h-1.4zM103.8 797.6h1.4v1.4h-1.4zM106.7 781.4h1.4v1.4h-1.4zM97.0 810.4h1.4v1.4h-1.4zM116.8 805.6h1.4v1.4h-1.4zM80.2 806.1h1.4v1.4h-1.4zM109.0 817.8h1.4v1.4h-1.4zM96.6 853.2h1.4v1.4h-1.4zM139.8 764.3h1.4v1.4h-1.4zM93.5 826.5h1.4v1.4h-1.4zM71.4 821.2h1.4v1.4h-1.4zM115.6 838.5h1.4v1.4h-1.4zM90.5 848.8h1.4v1.4h-1.4zM114.6 795.1h1.4v1.4h-1.4zM109.6 808.7h1.4v1.4h-1.4zM78.1 829.5h1.4v1.4h-1.4zM124.5 792.2h1.4v1.4h-1.4zM111.1 788.2h1.4v1.4h-1.4zM123.5 820.2h1.4v1.4h-1.4zM114.0 796.1h1.4v1.4h-1.4zM94.8 815.4h1.4v1.4h-1.4zM99.3 852.8h1.4v1.4h-1.4zM78.1 820.7h1.4v1.4h-1.4zM124.2 817.2h1.4v1.4h-1.4zM98.5 820.6h1.4v1.4h-1.4zM88.1 818.0h1.4v1.4h-1.4zM129.1 803.0h1.4v1.4h-1.4zM86.4 821.4h1.4v1.4h-1.4zM97.2 801.6h1.4v1.4h-1.4zM84.1 822.8h1.4v1.4h-1.4zM125.4 808.2h1.4v1.4h-1.4zM109.3 807.7h1.4v1.4h-1.4zM100.9 817.0h1.4v1.4h-1.4zM104.8 812.1h1.4v1.4h-1.4zM85.9 800.2h1.4v1.4h-1.4zM107.0 816.1h1.4v1.4h-1.4zM109.5 806.2h1.4v1.4h-1.4zM52.7 850.7h1.4v1.4h-1.4zM87.8 791.0h1.4v1.4h-1.4zM95.1 812.6h1.4v1.4h-1.4zM92.3 816.5h1.4v1.4h-1.4zM109.4 816.7h1.4v1.4h-1.4zM84.9 815.6h1.4v1.4h-1.4zM102.5 792.4h1.4v1.4h-1.4zM90.6 847.6h1.4v1.4h-1.4zM104.9 817.9h1.4v1.4h-1.4zM97.4 794.5h1.4v1.4h-1.4zM93.8 824.9h1.4v1.4h-1.4zM112.2 804.0h1.4v1.4h-1.4zM81.5 805.5h1.4v1.4h-1.4zM114.5 831.6h1.4v1.4h-1.4zM94.1 789.4h1.4v1.4h-1.4zM108.7 799.1h1.4v1.4h-1.4zM105.3 810.3h1.4v1.4h-1.4zM82.4 808.6h1.4v1.4h-1.4zM105.6 812.3h1.4v1.4h-1.4zM135.1 800.5h1.4v1.4h-1.4zM120.2 809.8h1.4v1.4h-1.4zM115.0 808.5h1.4v1.4h-1.4zM125.4 793.7h1.4v1.4h-1.4zM75.7 821.1h1.4v1.4h-1.4zM101.8 819.4h1.4v1.4h-1.4zM99.8 801.7h1.4v1.4h-1.4zM111.4 787.4h1.4v1.4h-1.4zM103.2 815.6h1.4v1.4h-1.4zM82.7 852.9h1.4v1.4h-1.4zM113.7 812.8h1.4v1.4h-1.4zM82.4 837.9h1.4v1.4h-1.4zM102.3 799.3h1.4v1.4h-1.4zM116.1 786.0h1.4v1.4h-1.4zM95.0 810.5h1.4v1.4h-1.4zM115.2 805.8h1.4v1.4h-1.4zM82.5 822.3h1.4v1.4h-1.4zM81.4 820.3h1.4v1.4h-1.4zM120.3 775.3h1.4v1.4h-1.4zM102.9 806.7h1.4v1.4h-1.4zM141.6 792.5h1.4v1.4h-1.4zM96.6 804.7h1.4v1.4h-1.4zM87.1 817.6h1.4v1.4h-1.4zM115.5 824.2h1.4v1.4h-1.4zM108.0 789.9h1.4v1.4h-1.4zM104.7 805.9h1.4v1.4h-1.4zM95.1 841.4h1.4v1.4h-1.4zM140.6 782.0h1.4v1.4h-1.4zM117.1 803.0h1.4v1.4h-1.4zM109.6 802.5h1.4v1.4h-1.4zM102.1 804.4h1.4v1.4h-1.4zM81.6 834.5h1.4v1.4h-1.4zM91.9 828.2h1.4v1.4h-1.4zM89.3 822.0h1.4v1.4h-1.4zM130.4 791.2h1.4v1.4h-1.4zM129.6 818.8h1.4v1.4h-1.4zM112.7 798.2h1.4v1.4h-1.4zM108.8 808.8h1.4v1.4h-1.4zM103.1 823.7h1.4v1.4h-1.4zM135.4 776.4h1.4v1.4h-1.4zM124.9 788.2h1.4v1.4h-1.4zM95.5 824.5h1.4v1.4h-1.4zM111.5 830.1h1.4v1.4h-1.4zM128.0 781.0h1.4v1.4h-1.4zM116.0 814.3h1.4v1.4h-1.4zM123.6 817.2h1.4v1.4h-1.4zM131.9 817.8h1.4v1.4h-1.4zM90.5 793.8h1.4v1.4h-1.4zM103.6 813.5h1.4v1.4h-1.4zM112.4 822.8h1.4v1.4h-1.4zM109.9 804.9h1.4v1.4h-1.4zM116.9 822.9h1.4v1.4h-1.4zM116.0 777.8h1.4v1.4h-1.4zM111.3 806.9h1.4v1.4h-1.4zM106.7 779.4h1.4v1.4h-1.4zM87.2 801.0h1.4v1.4h-1.4zM84.6 832.3h1.4v1.4h-1.4zM122.1 810.8h1.4v1.4h-1.4zM99.6 810.7h1.4v1.4h-1.4zM88.8 815.4h1.4v1.4h-1.4zM106.8 817.3h1.4v1.4h-1.4zM77.6 825.9h1.4v1.4h-1.4zM117.1 808.7h1.4v1.4h-1.4zM112.8 815.2h1.4v1.4h-1.4zM124.8 808.8h1.4v1.4h-1.4zM115.5 790.0h1.4v1.4h-1.4zM100.3 803.1h1.4v1.4h-1.4zM115.0 801.5h1.4v1.4h-1.4zM89.4 818.7h1.4v1.4h-1.4zM108.1 817.6h1.4v1.4h-1.4zM109.6 814.8h1.4v1.4h-1.4zM111.6 824.9h1.4v1.4h-1.4zM103.8 811.1h1.4v1.4h-1.4zM117.1 809.5h1.4v1.4h-1.4zM84.8 828.3h1.4v1.4h-1.4zM99.1 830.5h1.4v1.4h-1.4zM86.6 809.2h1.4v1.4h-1.4zM119.3 792.7h1.4v1.4h-1.4zM110.3 791.7h1.4v1.4h-1.4zM81.7 828.7h1.4v1.4h-1.4zM98.7 831.4h1.4v1.4h-1.4zM110.8 815.0h1.4v1.4h-1.4zM116.3 800.0h1.4v1.4h-1.4zM101.1 812.9h1.4v1.4h-1.4zM66.5 813.6h1.4v1.4h-1.4zM110.1 783.8h1.4v1.4h-1.4zM118.3 779.0h1.4v1.4h-1.4zM104.2 824.1h1.4v1.4h-1.4zM105.3 802.6h1.4v1.4h-1.4zM125.5 802.5h1.4v1.4h-1.4zM78.3 823.8h1.4v1.4h-1.4zM83.8 840.6h1.4v1.4h-1.4zM122.5 809.8h1.4v1.4h-1.4zM102.1 803.1h1.4v1.4h-1.4zM88.3 834.9h1.4v1.4h-1.4zM138.4 803.1h1.4v1.4h-1.4zM137.1 806.4h1.4v1.4h-1.4zM107.8 790.2h1.4v1.4h-1.4zM104.4 802.3h1.4v1.4h-1.4zM121.0 808.3h1.4v1.4h-1.4zM105.7 814.4h1.4v1.4h-1.4zM117.7 805.1h1.4v1.4h-1.4zM118.9 819.1h1.4v1.4h-1.4zM99.0 796.3h1.4v1.4h-1.4zM107.1 799.4h1.4v1.4h-1.4zM101.0 833.6h1.4v1.4h-1.4zM126.3 798.1h1.4v1.4h-1.4zM95.9 839.1h1.4v1.4h-1.4zM95.0 821.3h1.4v1.4h-1.4zM121.0 820.6h1.4v1.4h-1.4zM101.4 825.1h1.4v1.4h-1.4zM96.3 834.9h1.4v1.4h-1.4zM113.9 800.5h1.4v1.4h-1.4zM115.9 808.9h1.4v1.4h-1.4zM115.5 802.2h1.4v1.4h-1.4zM98.9 807.6h1.4v1.4h-1.4zM104.3 836.6h1.4v1.4h-1.4zM94.7 816.7h1.4v1.4h-1.4zM79.4 810.5h1.4v1.4h-1.4zM91.9 815.4h1.4v1.4h-1.4zM131.5 785.8h1.4v1.4h-1.4zM87.0 813.5h1.4v1.4h-1.4zM94.0 807.0h1.4v1.4h-1.4zM111.8 813.6h1.4v1.4h-1.4zM124.7 807.9h1.4v1.4h-1.4zM137.9 801.6h1.4v1.4h-1.4zM101.8 810.5h1.4v1.4h-1.4zM94.0 830.2h1.4v1.4h-1.4zM101.0 798.7h1.4v1.4h-1.4zM91.6 806.7h1.4v1.4h-1.4zM106.2 843.6h1.4v1.4h-1.4zM93.4 808.4h1.4v1.4h-1.4zM119.9 823.5h1.4v1.4h-1.4zM79.3 830.9h1.4v1.4h-1.4zM130.2 794.4h1.4v1.4h-1.4zM109.8 829.6h1.4v1.4h-1.4zM148.2 822.2h1.4v1.4h-1.4zM84.6 818.6h1.4v1.4h-1.4zM96.3 825.9h1.4v1.4h-1.4zM135.6 799.2h1.4v1.4h-1.4zM107.0 826.7h1.4v1.4h-1.4zM86.9 839.5h1.4v1.4h-1.4zM69.7 817.3h1.4v1.4h-1.4zM93.5 820.7h1.4v1.4h-1.4zM95.1 813.2h1.4v1.4h-1.4zM104.7 803.1h1.4v1.4h-1.4zM102.4 771.3h1.4v1.4h-1.4zM112.9 796.4h1.4v1.4h-1.4zM86.5 830.0h1.4v1.4h-1.4zM113.7 807.6h1.4v1.4h-1.4zM77.9 834.1h1.4v1.4h-1.4zM107.8 803.5h1.4v1.4h-1.4zM126.4 817.9h1.4v1.4h-1.4zM107.4 818.4h1.4v1.4h-1.4zM124.2 794.6h1.4v1.4h-1.4zM113.4 795.0h1.4v1.4h-1.4zM110.5 814.8h1.4v1.4h-1.4zM106.4 817.3h1.4v1.4h-1.4zM121.3 795.0h1.4v1.4h-1.4zM125.1 815.5h1.4v1.4h-1.4zM117.6 799.4h1.4v1.4h-1.4zM138.3 812.5h1.4v1.4h-1.4zM102.7 787.0h1.4v1.4h-1.4zM109.5 805.3h1.4v1.4h-1.4zM120.0 803.0h1.4v1.4h-1.4zM109.1 797.4h1.4v1.4h-1.4zM115.8 800.2h1.4v1.4h-1.4zM132.0 791.8h1.4v1.4h-1.4zM93.6 803.9h1.4v1.4h-1.4zM93.0 838.5h1.4v1.4h-1.4zM120.2 793.8h1.4v1.4h-1.4zM104.2 805.0h1.4v1.4h-1.4zM99.8 804.8h1.4v1.4h-1.4zM120.0 790.3h1.4v1.4h-1.4zM79.5 805.0h1.4v1.4h-1.4zM92.4 815.1h1.4v1.4h-1.4zM102.7 829.7h1.4v1.4h-1.4zM83.6 841.9h1.4v1.4h-1.4zM100.9 820.5h1.4v1.4h-1.4zM90.9 811.3h1.4v1.4h-1.4zM134.0 794.3h1.4v1.4h-1.4zM97.2 823.4h1.4v1.4h-1.4zM104.3 808.1h1.4v1.4h-1.4zM88.7 813.0h1.4v1.4h-1.4zM100.1 816.8h1.4v1.4h-1.4zM76.1 842.1h1.4v1.4h-1.4zM121.8 807.0h1.4v1.4h-1.4zM111.0 821.1h1.4v1.4h-1.4zM136.0 841.3h1.4v1.4h-1.4zM104.7 794.4h1.4v1.4h-1.4zM125.4 817.5h1.4v1.4h-1.4zM102.0 821.2h1.4v1.4h-1.4zM96.7 813.2h1.4v1.4h-1.4zM82.9 802.0h1.4v1.4h-1.4zM129.8 792.3h1.4v1.4h-1.4zM95.5 832.4h1.4v1.4h-1.4zM105.9 813.6h1.4v1.4h-1.4zM113.8 819.7h1.4v1.4h-1.4zM147.2 775.4h1.4v1.4h-1.4zM110.7 811.1h1.4v1.4h-1.4zM98.9 790.0h1.4v1.4h-1.4zM126.8 794.6h1.4v1.4h-1.4zM106.7 806.6h1.4v1.4h-1.4zM114.9 803.6h1.4v1.4h-1.4zM105.2 805.9h1.4v1.4h-1.4zM102.5 811.7h1.4v1.4h-1.4zM96.1 812.2h1.4v1.4h-1.4zM92.4 811.2h1.4v1.4h-1.4zM103.5 810.1h1.4v1.4h-1.4zM119.9 813.8h1.4v1.4h-1.4zM97.9 806.0h1.4v1.4h-1.4zM107.5 824.3h1.4v1.4h-1.4zM105.2 786.1h1.4v1.4h-1.4zM106.1 824.0h1.4v1.4h-1.4zM117.5 807.0h1.4v1.4h-1.4zM127.7 805.6h1.4v1.4h-1.4zM119.2 809.3h1.4v1.4h-1.4zM94.6 817.1h1.4v1.4h-1.4zM86.0 832.6h1.4v1.4h-1.4zM147.1 811.1h1.4v1.4h-1.4zM111.1 795.1h1.4v1.4h-1.4zM105.5 810.4h1.4v1.4h-1.4zM108.7 799.5h1.4v1.4h-1.4zM99.0 819.1h1.4v1.4h-1.4zM97.6 810.7h1.4v1.4h-1.4zM100.6 825.2h1.4v1.4h-1.4zM104.4 812.5h1.4v1.4h-1.4zM104.9 810.9h1.4v1.4h-1.4zM113.9 795.8h1.4v1.4h-1.4zM114.0 835.3h1.4v1.4h-1.4zM102.5 818.7h1.4v1.4h-1.4zM101.0 808.3h1.4v1.4h-1.4zM115.6 801.6h1.4v1.4h-1.4zM102.4 810.1h1.4v1.4h-1.4zM88.1 826.6h1.4v1.4h-1.4zM87.1 795.6h1.4v1.4h-1.4zM106.8 826.5h1.4v1.4h-1.4zM118.0 779.1h1.4v1.4h-1.4zM109.8 816.6h1.4v1.4h-1.4zM87.9 824.6h1.4v1.4h-1.4zM94.7 799.9h1.4v1.4h-1.4zM100.2 798.9h1.4v1.4h-1.4zM120.3 823.2h1.4v1.4h-1.4zM100.6 802.6h1.4v1.4h-1.4zM98.0 808.6h1.4v1.4h-1.4zM62.6 822.1h1.4v1.4h-1.4zM118.5 818.4h1.4v1.4h-1.4zM87.8 818.2h1.4v1.4h-1.4zM120.2 791.5h1.4v1.4h-1.4zM100.5 841.1h1.4v1.4h-1.4zM114.4 817.1h1.4v1.4h-1.4zM99.9 807.2h1.4v1.4h-1.4zM81.1 818.3h1.4v1.4h-1.4zM113.4 798.5h1.4v1.4h-1.4zM122.0 829.2h1.4v1.4h-1.4zM115.3 806.1h1.4v1.4h-1.4zM58.3 814.8h1.4v1.4h-1.4zM104.9 831.1h1.4v1.4h-1.4zM93.8 826.7h1.4v1.4h-1.4zM112.0 805.9h1.4v1.4h-1.4zM114.3 794.8h1.4v1.4h-1.4zM107.3 803.3h1.4v1.4h-1.4zM107.5 822.9h1.4v1.4h-1.4zM104.1 802.5h1.4v1.4h-1.4zM114.3 810.8h1.4v1.4h-1.4zM120.3 793.4h1.4v1.4h-1.4zM118.1 811.7h1.4v1.4h-1.4zM122.3 793.3h1.4v1.4h-1.4zM93.0 788.4h1.4v1.4h-1.4zM97.3 808.1h1.4v1.4h-1.4zM111.1 790.5h1.4v1.4h-1.4zM104.6 789.4h1.4v1.4h-1.4zM119.3 819.6h1.4v1.4h-1.4zM109.4 801.4h1.4v1.4h-1.4zM93.9 824.2h1.4v1.4h-1.4zM92.9 819.6h1.4v1.4h-1.4zM89.3 823.0h1.4v1.4h-1.4zM113.6 791.3h1.4v1.4h-1.4zM109.4 820.6h1.4v1.4h-1.4zM87.3 793.9h1.4v1.4h-1.4zM127.2 798.2h1.4v1.4h-1.4zM108.3 822.8h1.4v1.4h-1.4zM79.6 829.5h1.4v1.4h-1.4zM118.7 803.9h1.4v1.4h-1.4zM125.9 782.0h1.4v1.4h-1.4zM75.8 832.9h1.4v1.4h-1.4zM112.5 821.0h1.4v1.4h-1.4zM97.5 824.5h1.4v1.4h-1.4zM100.0 829.2h1.4v1.4h-1.4zM70.7 848.5h1.4v1.4h-1.4zM121.2 804.8h1.4v1.4h-1.4zM77.8 815.0h1.4v1.4h-1.4zM121.5 804.2h1.4v1.4h-1.4zM111.9 812.3h1.4v1.4h-1.4zM115.7 804.4h1.4v1.4h-1.4zM70.4 795.8h1.4v1.4h-1.4zM91.4 856.7h1.4v1.4h-1.4zM114.3 815.3h1.4v1.4h-1.4zM76.9 822.0h1.4v1.4h-1.4zM82.5 839.5h1.4v1.4h-1.4zM100.8 837.9h1.4v1.4h-1.4zM99.1 813.3h1.4v1.4h-1.4zM96.5 792.0h1.4v1.4h-1.4zM89.3 819.7h1.4v1.4h-1.4zM107.6 782.1h1.4v1.4h-1.4zM107.2 814.3h1.4v1.4h-1.4zM100.0 817.2h1.4v1.4h-1.4zM93.6 813.0h1.4v1.4h-1.4zM114.1 815.0h1.4v1.4h-1.4zM118.7 820.1h1.4v1.4h-1.4zM127.2 809.7h1.4v1.4h-1.4zM50.8 802.7h1.4v1.4h-1.4zM124.0 779.8h1.4v1.4h-1.4zM133.9 799.4h1.4v1.4h-1.4zM104.0 796.1h1.4v1.4h-1.4zM116.5 814.0h1.4v1.4h-1.4zM111.6 804.5h1.4v1.4h-1.4zM97.7 808.9h1.4v1.4h-1.4zM83.7 817.1h1.4v1.4h-1.4zM108.1 801.5h1.4v1.4h-1.4zM103.2 824.1h1.4v1.4h-1.4zM122.5 816.2h1.4v1.4h-1.4zM99.5 833.9h1.4v1.4h-1.4zM85.7 794.1h1.4v1.4h-1.4zM96.2 798.3h1.4v1.4h-1.4zM119.3 825.2h1.4v1.4h-1.4zM100.4 809.4h1.4v1.4h-1.4zM88.2 855.3h1.4v1.4h-1.4zM110.7 823.3h1.4v1.4h-1.4zM97.1 821.4h1.4v1.4h-1.4zM103.6 820.0h1.4v1.4h-1.4zM111.1 815.1h1.4v1.4h-1.4zM62.4 806.2h1.4v1.4h-1.4zM119.7 788.8h1.4v1.4h-1.4zM86.7 819.1h1.4v1.4h-1.4zM98.4 823.8h1.4v1.4h-1.4zM88.7 818.8h1.4v1.4h-1.4zM107.7 808.7h1.4v1.4h-1.4zM89.5 810.5h1.4v1.4h-1.4zM96.6 809.3h1.4v1.4h-1.4zM115.2 812.6h1.4v1.4h-1.4zM126.8 775.5h1.4v1.4h-1.4zM82.7 813.2h1.4v1.4h-1.4zM116.2 800.5h1.4v1.4h-1.4zM102.3 826.1h1.4v1.4h-1.4zM109.6 798.4h1.4v1.4h-1.4zM112.2 825.7h1.4v1.4h-1.4zM101.2 830.0h1.4v1.4h-1.4zM102.1 841.8h1.4v1.4h-1.4zM107.4 820.5h1.4v1.4h-1.4zM152.2 797.1h1.4v1.4h-1.4zM92.7 832.5h1.4v1.4h-1.4zM125.2 800.6h1.4v1.4h-1.4zM88.0 837.1h1.4v1.4h-1.4zM81.5 796.1h1.4v1.4h-1.4zM99.4 839.8h1.4v1.4h-1.4zM99.4 813.7h1.4v1.4h-1.4zM139.7 786.5h1.4v1.4h-1.4zM96.7 820.2h1.4v1.4h-1.4zM134.9 784.9h1.4v1.4h-1.4zM101.1 811.4h1.4v1.4h-1.4zM130.3 805.6h1.4v1.4h-1.4zM115.7 801.7h1.4v1.4h-1.4zM109.4 812.9h1.4v1.4h-1.4zM138.4 783.8h1.4v1.4h-1.4zM117.6 818.5h1.4v1.4h-1.4zM75.9 852.0h1.4v1.4h-1.4zM107.8 794.1h1.4v1.4h-1.4zM93.8 793.1h1.4v1.4h-1.4zM122.2 814.9h1.4v1.4h-1.4zM99.6 835.4h1.4v1.4h-1.4zM125.7 785.1h1.4v1.4h-1.4zM91.9 830.7h1.4v1.4h-1.4zM108.7 820.9h1.4v1.4h-1.4zM104.8 812.0h1.4v1.4h-1.4zM128.3 792.3h1.4v1.4h-1.4zM83.8 808.4h1.4v1.4h-1.4zM131.0 818.6h1.4v1.4h-1.4zM100.5 819.9h1.4v1.4h-1.4zM63.7 821.6h1.4v1.4h-1.4zM123.5 819.4h1.4v1.4h-1.4zM96.2 828.3h1.4v1.4h-1.4zM105.6 811.8h1.4v1.4h-1.4zM73.7 834.0h1.4v1.4h-1.4zM92.9 808.8h1.4v1.4h-1.4zM95.2 806.5h1.4v1.4h-1.4zM130.8 785.5h1.4v1.4h-1.4zM109.0 803.9h1.4v1.4h-1.4zM126.2 775.0h1.4v1.4h-1.4zM89.8 819.8h1.4v1.4h-1.4zM111.5 820.6h1.4v1.4h-1.4zM99.0 798.3h1.4v1.4h-1.4zM131.6 813.4h1.4v1.4h-1.4zM83.4 816.7h1.4v1.4h-1.4zM106.2 795.5h1.4v1.4h-1.4zM121.8 810.5h1.4v1.4h-1.4zM123.6 794.1h1.4v1.4h-1.4zM107.0 812.4h1.4v1.4h-1.4zM82.5 807.4h1.4v1.4h-1.4zM110.0 808.0h1.4v1.4h-1.4zM110.9 816.8h1.4v1.4h-1.4zM96.1 817.8h1.4v1.4h-1.4zM95.0 817.4h1.4v1.4h-1.4zM106.9 806.5h1.4v1.4h-1.4zM102.7 809.3h1.4v1.4h-1.4zM67.2 771.6h1.4v1.4h-1.4zM81.4 799.0h1.4v1.4h-1.4zM131.1 816.0h1.4v1.4h-1.4zM94.0 794.5h1.4v1.4h-1.4zM115.6 802.3h1.4v1.4h-1.4zM101.4 820.1h1.4v1.4h-1.4zM84.8 801.2h1.4v1.4h-1.4zM110.7 804.3h1.4v1.4h-1.4zM100.2 825.4h1.4v1.4h-1.4zM110.0 813.9h1.4v1.4h-1.4zM83.6 823.5h1.4v1.4h-1.4zM104.2 827.8h1.4v1.4h-1.4zM95.1 827.2h1.4v1.4h-1.4zM111.5 812.1h1.4v1.4h-1.4zM75.8 827.0h1.4v1.4h-1.4zM111.4 810.8h1.4v1.4h-1.4zM118.1 817.7h1.4v1.4h-1.4zM99.1 821.8h1.4v1.4h-1.4zM125.9 784.4h1.4v1.4h-1.4zM114.4 794.5h1.4v1.4h-1.4zM106.0 826.8h1.4v1.4h-1.4zM104.8 815.5h1.4v1.4h-1.4zM114.9 824.3h1.4v1.4h-1.4zM97.3 810.7h1.4v1.4h-1.4zM98.1 816.9h1.4v1.4h-1.4zM118.0 786.9h1.4v1.4h-1.4zM109.4 826.0h1.4v1.4h-1.4zM116.5 826.9h1.4v1.4h-1.4zM121.4 788.0h1.4v1.4h-1.4zM87.4 795.6h1.4v1.4h-1.4zM116.4 816.9h1.4v1.4h-1.4zM88.2 812.9h1.4v1.4h-1.4zM92.0 794.2h1.4v1.4h-1.4zM135.8 780.9h1.4v1.4h-1.4zM121.7 799.6h1.4v1.4h-1.4zM143.0 809.8h1.4v1.4h-1.4zM109.5 841.4h1.4v1.4h-1.4zM128.1 806.5h1.4v1.4h-1.4zM78.0 828.7h1.4v1.4h-1.4zM64.8 826.7h1.4v1.4h-1.4zM92.6 810.3h1.4v1.4h-1.4zM97.2 814.3h1.4v1.4h-1.4zM101.9 828.3h1.4v1.4h-1.4zM100.0 807.5h1.4v1.4h-1.4zM77.2 812.6h1.4v1.4h-1.4zM148.1 807.2h1.4v1.4h-1.4zM98.4 803.0h1.4v1.4h-1.4zM147.6 786.4h1.4v1.4h-1.4zM90.4 829.9h1.4v1.4h-1.4zM116.9 807.8h1.4v1.4h-1.4zM100.3 824.0h1.4v1.4h-1.4zM59.5 837.6h1.4v1.4h-1.4zM105.1 821.7h1.4v1.4h-1.4zM109.3 819.1h1.4v1.4h-1.4zM96.0 807.7h1.4v1.4h-1.4zM116.1 790.5h1.4v1.4h-1.4zM122.5 787.4h1.4v1.4h-1.4zM124.2 801.7h1.4v1.4h-1.4zM99.5 815.1h1.4v1.4h-1.4zM118.1 796.8h1.4v1.4h-1.4zM119.7 790.6h1.4v1.4h-1.4zM125.1 814.7h1.4v1.4h-1.4zM106.8 815.1h1.4v1.4h-1.4zM114.3 823.0h1.4v1.4h-1.4zM94.4 817.2h1.4v1.4h-1.4zM125.0 782.9h1.4v1.4h-1.4zM144.0 758.2h1.4v1.4h-1.4zM83.7 807.1h1.4v1.4h-1.4zM112.5 805.0h1.4v1.4h-1.4zM101.7 821.0h1.4v1.4h-1.4zM106.5 819.0h1.4v1.4h-1.4zM164.4 767.6h1.4v1.4h-1.4zM114.7 823.0h1.4v1.4h-1.4zM93.0 814.7h1.4v1.4h-1.4zM118.0 826.9h1.4v1.4h-1.4zM109.5 802.6h1.4v1.4h-1.4zM99.5 806.2h1.4v1.4h-1.4zM105.1 812.3h1.4v1.4h-1.4zM95.5 808.1h1.4v1.4h-1.4zM115.6 829.3h1.4v1.4h-1.4zM96.4 824.3h1.4v1.4h-1.4zM120.2 822.2h1.4v1.4h-1.4zM89.4 792.7h1.4v1.4h-1.4zM85.0 803.3h1.4v1.4h-1.4zM126.6 821.6h1.4v1.4h-1.4zM112.0 795.7h1.4v1.4h-1.4zM94.8 822.2h1.4v1.4h-1.4zM93.6 811.9h1.4v1.4h-1.4zM106.5 778.1h1.4v1.4h-1.4zM100.8 792.0h1.4v1.4h-1.4zM122.0 775.4h1.4v1.4h-1.4zM127.3 812.6h1.4v1.4h-1.4zM115.5 788.0h1.4v1.4h-1.4zM113.0 828.8h1.4v1.4h-1.4zM96.8 822.4h1.4v1.4h-1.4zM82.2 837.8h1.4v1.4h-1.4zM104.8 785.6h1.4v1.4h-1.4zM101.8 777.4h1.4v1.4h-1.4zM59.3 788.1h1.4v1.4h-1.4zM91.4 825.4h1.4v1.4h-1.4zM119.1 811.6h1.4v1.4h-1.4zM125.7 801.4h1.4v1.4h-1.4zM78.1 824.5h1.4v1.4h-1.4zM92.2 796.1h1.4v1.4h-1.4zM110.1 824.0h1.4v1.4h-1.4zM123.3 803.5h1.4v1.4h-1.4zM114.9 813.3h1.4v1.4h-1.4zM90.7 820.5h1.4v1.4h-1.4zM117.9 811.7h1.4v1.4h-1.4zM123.3 786.5h1.4v1.4h-1.4zM104.9 801.1h1.4v1.4h-1.4zM111.7 811.7h1.4v1.4h-1.4zM110.0 823.4h1.4v1.4h-1.4zM105.5 808.7h1.4v1.4h-1.4zM105.8 810.9h1.4v1.4h-1.4zM108.2 816.7h1.4v1.4h-1.4zM84.0 824.2h1.4v1.4h-1.4zM73.5 856.9h1.4v1.4h-1.4zM106.7 791.1h1.4v1.4h-1.4zM79.9 837.7h1.4v1.4h-1.4zM124.5 815.1h1.4v1.4h-1.4zM127.0 792.5h1.4v1.4h-1.4zM87.1 827.9h1.4v1.4h-1.4zM111.0 819.4h1.4v1.4h-1.4zM123.0 801.5h1.4v1.4h-1.4zM101.0 789.9h1.4v1.4h-1.4zM104.5 811.3h1.4v1.4h-1.4zM123.4 786.2h1.4v1.4h-1.4zM99.9 819.1h1.4v1.4h-1.4zM122.9 793.4h1.4v1.4h-1.4zM112.5 835.5h1.4v1.4h-1.4zM141.3 801.7h1.4v1.4h-1.4zM91.0 807.8h1.4v1.4h-1.4zM90.7 806.8h1.4v1.4h-1.4zM108.1 804.5h1.4v1.4h-1.4zM106.6 816.7h1.4v1.4h-1.4zM113.5 819.1h1.4v1.4h-1.4zM77.4 801.3h1.4v1.4h-1.4zM73.8 814.3h1.4v1.4h-1.4zM94.4 813.0h1.4v1.4h-1.4zM111.3 794.2h1.4v1.4h-1.4zM117.3 812.6h1.4v1.4h-1.4zM121.2 795.5h1.4v1.4h-1.4zM106.1 816.9h1.4v1.4h-1.4zM117.7 820.9h1.4v1.4h-1.4zM125.3 799.5h1.4v1.4h-1.4zM68.2 845.6h1.4v1.4h-1.4zM112.0 794.3h1.4v1.4h-1.4zM92.8 802.2h1.4v1.4h-1.4zM88.4 827.7h1.4v1.4h-1.4zM101.5 813.8h1.4v1.4h-1.4zM92.2 788.9h1.4v1.4h-1.4zM95.8 819.2h1.4v1.4h-1.4zM102.2 839.4h1.4v1.4h-1.4zM82.0 813.4h1.4v1.4h-1.4zM103.6 818.6h1.4v1.4h-1.4zM107.5 812.4h1.4v1.4h-1.4zM113.8 807.2h1.4v1.4h-1.4zM80.0 817.3h1.4v1.4h-1.4zM103.6 809.1h1.4v1.4h-1.4zM113.8 788.3h1.4v1.4h-1.4zM118.3 811.9h1.4v1.4h-1.4zM95.2 819.9h1.4v1.4h-1.4zM125.8 806.6h1.4v1.4h-1.4zM110.3 835.5h1.4v1.4h-1.4zM106.8 832.9h1.4v1.4h-1.4zM89.5 843.8h1.4v1.4h-1.4zM96.1 824.7h1.4v1.4h-1.4zM92.0 807.6h1.4v1.4h-1.4zM119.8 815.8h1.4v1.4h-1.4zM117.1 816.4h1.4v1.4h-1.4zM116.0 839.1h1.4v1.4h-1.4zM126.6 806.2h1.4v1.4h-1.4zM96.8 821.8h1.4v1.4h-1.4zM114.8 813.2h1.4v1.4h-1.4zM112.7 782.3h1.4v1.4h-1.4zM125.7 805.8h1.4v1.4h-1.4zM88.9 823.3h1.4v1.4h-1.4zM129.5 803.1h1.4v1.4h-1.4zM75.1 828.0h1.4v1.4h-1.4zM106.9 803.9h1.4v1.4h-1.4zM98.9 807.3h1.4v1.4h-1.4zM107.0 793.2h1.4v1.4h-1.4zM116.1 804.4h1.4v1.4h-1.4zM98.3 811.1h1.4v1.4h-1.4zM105.3 789.1h1.4v1.4h-1.4zM119.8 820.2h1.4v1.4h-1.4zM108.9 824.1h1.4v1.4h-1.4zM85.3 807.9h1.4v1.4h-1.4zM114.8 807.7h1.4v1.4h-1.4zM77.4 830.2h1.4v1.4h-1.4zM107.3 808.0h1.4v1.4h-1.4zM98.2 793.2h1.4v1.4h-1.4zM128.0 803.3h1.4v1.4h-1.4zM130.4 808.6h1.4v1.4h-1.4zM114.0 804.1h1.4v1.4h-1.4zM116.2 798.6h1.4v1.4h-1.4zM96.8 804.3h1.4v1.4h-1.4zM118.2 805.0h1.4v1.4h-1.4zM126.2 802.9h1.4v1.4h-1.4zM130.2 816.1h1.4v1.4h-1.4zM91.2 802.4h1.4v1.4h-1.4zM121.4 817.4h1.4v1.4h-1.4zM76.6 824.1h1.4v1.4h-1.4zM85.9 820.1h1.4v1.4h-1.4zM90.7 803.1h1.4v1.4h-1.4zM92.9 795.3h1.4v1.4h-1.4zM88.7 813.2h1.4v1.4h-1.4zM91.1 810.8h1.4v1.4h-1.4zM113.5 803.2h1.4v1.4h-1.4zM104.4 795.4h1.4v1.4h-1.4zM119.7 778.9h1.4v1.4h-1.4zM109.4 811.3h1.4v1.4h-1.4zM104.4 793.0h1.4v1.4h-1.4zM113.7 810.2h1.4v1.4h-1.4zM81.7 822.3h1.4v1.4h-1.4zM102.1 829.4h1.4v1.4h-1.4zM80.5 835.6h1.4v1.4h-1.4zM96.1 799.6h1.4v1.4h-1.4zM113.0 834.7h1.4v1.4h-1.4zM112.0 821.2h1.4v1.4h-1.4zM122.5 822.7h1.4v1.4h-1.4zM79.9 822.8h1.4v1.4h-1.4zM92.1 804.5h1.4v1.4h-1.4zM105.6 819.1h1.4v1.4h-1.4zM131.6 797.8h1.4v1.4h-1.4zM104.5 796.9h1.4v1.4h-1.4zM116.9 815.2h1.4v1.4h-1.4zM105.6 830.3h1.4v1.4h-1.4zM116.6 781.9h1.4v1.4h-1.4zM115.4 812.3h1.4v1.4h-1.4zM141.4 815.3h1.4v1.4h-1.4zM115.4 790.8h1.4v1.4h-1.4zM111.9 798.1h1.4v1.4h-1.4zM99.2 811.7h1.4v1.4h-1.4zM112.6 834.5h1.4v1.4h-1.4zM104.1 788.7h1.4v1.4h-1.4zM118.9 802.5h1.4v1.4h-1.4zM75.4 829.4h1.4v1.4h-1.4zM77.5 830.1h1.4v1.4h-1.4zM112.7 795.8h1.4v1.4h-1.4zM117.5 805.1h1.4v1.4h-1.4zM85.9 835.7h1.4v1.4h-1.4zM104.4 820.0h1.4v1.4h-1.4zM77.4 822.0h1.4v1.4h-1.4zM88.7 801.1h1.4v1.4h-1.4zM100.9 809.3h1.4v1.4h-1.4zM119.4 804.3h1.4v1.4h-1.4zM124.0 799.9h1.4v1.4h-1.4zM79.6 828.9h1.4v1.4h-1.4zM113.0 794.6h1.4v1.4h-1.4zM95.3 808.6h1.4v1.4h-1.4zM139.7 790.1h1.4v1.4h-1.4zM99.1 828.5h1.4v1.4h-1.4zM99.9 825.8h1.4v1.4h-1.4zM104.8 796.6h1.4v1.4h-1.4zM101.7 799.5h1.4v1.4h-1.4zM90.1 802.2h1.4v1.4h-1.4zM104.2 802.2h1.4v1.4h-1.4zM102.0 796.3h1.4v1.4h-1.4zM123.2 786.1h1.4v1.4h-1.4zM94.5 814.9h1.4v1.4h-1.4zM95.9 799.1h1.4v1.4h-1.4zM99.5 808.7h1.4v1.4h-1.4zM98.4 801.8h1.4v1.4h-1.4zM108.7 818.6h1.4v1.4h-1.4zM86.5 818.4h1.4v1.4h-1.4zM87.6 834.9h1.4v1.4h-1.4zM125.6 789.4h1.4v1.4h-1.4zM133.6 808.5h1.4v1.4h-1.4zM85.4 827.4h1.4v1.4h-1.4zM87.2 829.3h1.4v1.4h-1.4zM117.4 807.1h1.4v1.4h-1.4zM117.4 793.6h1.4v1.4h-1.4zM84.4 840.8h1.4v1.4h-1.4zM102.6 807.1h1.4v1.4h-1.4zM88.2 809.6h1.4v1.4h-1.4zM112.2 811.5h1.4v1.4h-1.4zM117.0 808.7h1.4v1.4h-1.4zM89.6 827.5h1.4v1.4h-1.4zM103.0 836.3h1.4v1.4h-1.4zM86.6 808.3h1.4v1.4h-1.4zM82.8 826.0h1.4v1.4h-1.4zM107.2 817.0h1.4v1.4h-1.4zM78.8 838.8h1.4v1.4h-1.4zM93.0 820.4h1.4v1.4h-1.4zM100.4 796.8h1.4v1.4h-1.4zM120.6 811.3h1.4v1.4h-1.4zM103.2 810.4h1.4v1.4h-1.4zM67.1 827.3h1.4v1.4h-1.4zM58.1 814.0h1.4v1.4h-1.4zM104.1 805.3h1.4v1.4h-1.4zM85.3 838.9h1.4v1.4h-1.4zM90.9 815.5h1.4v1.4h-1.4zM109.1 820.2h1.4v1.4h-1.4zM111.9 803.5h1.4v1.4h-1.4zM91.3 785.7h1.4v1.4h-1.4zM128.2 780.5h1.4v1.4h-1.4zM155.9 796.2h1.4v1.4h-1.4zM121.9 798.7h1.4v1.4h-1.4zM103.6 784.2h1.4v1.4h-1.4zM90.0 816.0h1.4v1.4h-1.4zM87.9 830.9h1.4v1.4h-1.4zM106.0 799.3h1.4v1.4h-1.4zM126.5 780.8h1.4v1.4h-1.4zM85.1 830.6h1.4v1.4h-1.4zM126.0 795.7h1.4v1.4h-1.4zM88.5 831.6h1.4v1.4h-1.4zM117.8 806.3h1.4v1.4h-1.4zM137.9 807.5h1.4v1.4h-1.4zM95.9 821.0h1.4v1.4h-1.4zM116.3 808.1h1.4v1.4h-1.4zM85.4 787.4h1.4v1.4h-1.4zM88.3 805.4h1.4v1.4h-1.4zM113.8 798.7h1.4v1.4h-1.4zM124.3 802.1h1.4v1.4h-1.4zM133.3 798.7h1.4v1.4h-1.4zM90.6 815.1h1.4v1.4h-1.4zM138.6 792.4h1.4v1.4h-1.4zM117.2 809.0h1.4v1.4h-1.4zM108.8 798.7h1.4v1.4h-1.4zM103.6 802.5h1.4v1.4h-1.4zM103.5 802.1h1.4v1.4h-1.4zM99.9 800.1h1.4v1.4h-1.4zM99.6 831.0h1.4v1.4h-1.4zM115.0 802.2h1.4v1.4h-1.4z"/>
<line x1="48.4" y1="731" x2="48.4" y2="869.5" stroke="#555" stroke-width="1.2"/><line x1="48.4" y1="869.5" x2="180.4" y2="869.5" stroke="#555" stroke-width="1.2"/>
<text x="45.3" y="735.3" font-size="9.5" text-anchor="end" fill="#1a1a1a">0.20</text>
<line x1="46" y1="732" x2="48.4" y2="732" stroke="#555" stroke-width="1"/>
<text x="45.3" y="772.0999999999999" font-size="9.5" text-anchor="end" fill="#1a1a1a">0.15</text>
<line x1="46" y1="768.8" x2="48.4" y2="768.8" stroke="#555" stroke-width="1"/>
<text x="45.3" y="808.1999999999999" font-size="9.5" text-anchor="end" fill="#1a1a1a">0.10</text>
<line x1="46" y1="804.9" x2="48.4" y2="804.9" stroke="#555" stroke-width="1"/>
<text x="45.3" y="845.6999999999999" font-size="9.5" text-anchor="end" fill="#1a1a1a">0.05</text>
<line x1="46" y1="842.4" x2="48.4" y2="842.4" stroke="#555" stroke-width="1"/>
<text x="66.6" y="881" font-size="9.5" text-anchor="middle" fill="#1a1a1a">0.05</text>
<line x1="66.6" y1="869.5" x2="66.6" y2="871.8" stroke="#555" stroke-width="1"/>
<text x="98.1" y="881" font-size="9.5" text-anchor="middle" fill="#1a1a1a">0.10</text>
<line x1="98.1" y1="869.5" x2="98.1" y2="871.8" stroke="#555" stroke-width="1"/>
<text x="128.9" y="881" font-size="9.5" text-anchor="middle" fill="#1a1a1a">0.15</text>
<line x1="128.9" y1="869.5" x2="128.9" y2="871.8" stroke="#555" stroke-width="1"/>
<text x="159.4" y="881" font-size="9.5" text-anchor="middle" fill="#1a1a1a">0.20</text>
<line x1="159.4" y1="869.5" x2="159.4" y2="871.8" stroke="#555" stroke-width="1"/>
<text x="115.1" y="894.3" font-size="9.87" text-anchor="middle" fill="#1a1a1a">Myeloid Program</text>
<text transform="translate(21.4,789.9) rotate(-90)" font-size="9.75" text-anchor="middle" fill="#1a1a1a">MLL LSC DOWN</text>
<text x="51.9" y="739.8" font-size="10" fill="#1a1a1a" font-style="italic">R = 0.56, p &lt; 2.2e-16</text>
<text x="465.6" y="603.6" font-size="13.5" fill="#111">G</text>
<text x="590.8" y="602" font-size="9.5" text-anchor="middle" fill="#1a1a1a">Hazard Ratio (HR)</text>
<text x="535.5" y="615.5" font-size="9.5" text-anchor="middle" fill="#1a1a1a">0</text>
<text x="587.1" y="615.5" font-size="9.5" text-anchor="middle" fill="#1a1a1a">1</text>
<text x="640.6" y="615.5" font-size="9.5" text-anchor="middle" fill="#1a1a1a">2</text>
<line x1="587.1" y1="620" x2="587.1" y2="677" stroke="#555" stroke-width="0.9" stroke-dasharray="2,1.6"/>
<rect x="535.6" y="619.6" width="105.5" height="57.7" fill="none" stroke="#1a1a1a" stroke-width="1.3"/>
<text x="527" y="637.3" font-size="9.9" text-anchor="end" fill="#1a1a1a">TCGA AML</text>
<text x="527" y="664" font-size="9.9" text-anchor="end" fill="#1a1a1a">Beat AML</text>
<line x1="574.5" y1="633.4" x2="583.6" y2="633.4" stroke="#111" stroke-width="1.2"/><line x1="574.5" y1="631.6" x2="574.5" y2="635.2" stroke="#111" stroke-width="1.6"/><line x1="583.6" y1="631.6" x2="583.6" y2="635.2" stroke="#111" stroke-width="1.6"/>
<circle cx="579.2" cy="633.4" r="2.8" fill="#3f83c6" stroke="#111" stroke-width="0.9"/>
<line x1="551" y1="660.4" x2="579.2" y2="660.4" stroke="#303a8a" stroke-width="1"/>
<circle cx="559.1" cy="660.4" r="3" fill="#3f83c6" stroke="#111" stroke-width="0.9"/>
<text x="485.7" y="686.8" font-size="8.63" fill="#3a8fd0">Protective Effect (HR &lt; 1)</text>
<text x="591.8" y="686.8" font-size="8.63" fill="#e84a5a">Increased Risk (HR &gt; 1)</text>
<text x="180.5" y="710.8" font-size="14" fill="#111">H</text>
<line x1="237.8" y1="716.4" x2="237.8" y2="816.2" stroke="#333" stroke-width="1"/><line x1="237.8" y1="816.2" x2="394.8" y2="816.2" stroke="#333" stroke-width="1"/>
<text x="234.4" y="723.5" font-size="9.3" text-anchor="end" fill="#1a1a1a">1.00</text>
<line x1="235.6" y1="720.2" x2="237.8" y2="720.2" stroke="#333" stroke-width="0.9"/>
<text x="234.4" y="746.3" font-size="9.3" text-anchor="end" fill="#1a1a1a">0.75</text>
<line x1="235.6" y1="743" x2="237.8" y2="743" stroke="#333" stroke-width="0.9"/>
<text x="234.4" y="768.9" font-size="9.3" text-anchor="end" fill="#1a1a1a">0.50</text>
<line x1="235.6" y1="765.6" x2="237.8" y2="765.6" stroke="#333" stroke-width="0.9"/>
<text x="234.4" y="791.3" font-size="9.3" text-anchor="end" fill="#1a1a1a">0.25</text>
<line x1="235.6" y1="788" x2="237.8" y2="788" stroke="#333" stroke-width="0.9"/>
<text x="234.4" y="814.1999999999999" font-size="9.3" text-anchor="end" fill="#1a1a1a">0.00</text>
<line x1="235.6" y1="810.9" x2="237.8" y2="810.9" stroke="#333" stroke-width="0.9"/>
<text x="242" y="827.2" font-size="9.3" text-anchor="middle" fill="#1a1a1a">0</text>
<line x1="242" y1="816.2" x2="242" y2="818.4" stroke="#333" stroke-width="0.9"/>
<text x="292.3" y="827.2" font-size="9.3" text-anchor="middle" fill="#1a1a1a">1000</text>
<line x1="292.3" y1="816.2" x2="292.3" y2="818.4" stroke="#333" stroke-width="0.9"/>
<text x="341.6" y="827.2" font-size="9.3" text-anchor="middle" fill="#1a1a1a">2000</text>
<line x1="341.6" y1="816.2" x2="341.6" y2="818.4" stroke="#333" stroke-width="0.9"/>
<text x="389.8" y="827.2" font-size="9.3" text-anchor="middle" fill="#1a1a1a">3000</text>
<line x1="389.8" y1="816.2" x2="389.8" y2="818.4" stroke="#333" stroke-width="0.9"/>
<text transform="translate(208.3,759.8) rotate(-90)" font-size="10" text-anchor="middle" fill="#1a1a1a">Survival Probability</text>
<text x="244.6" y="808.1" font-size="9.85" fill="#1a1a1a">p = 0.00412</text>
<path d="M245.4,719.9 L247.4,719.9 L247.4,724.9 L251.1,724.9 L251.1,729.8 L253.6,729.8 L253.6,736 L256.1,736 L256.1,741 L258.5,741 L258.5,747.2 L259.8,747.2 L259.8,754.6 L263.5,754.6 L263.5,762.1 L267.2,762.1 L267.2,768.3 L270.9,768.3 L270.9,773.2 L274.7,773.2 L274.7,777 L279.6,777 L279.6,779.4 L283.3,779.4 L283.3,784.4 L285.8,784.4 L285.8,786.9 L292,786.9 L292,790.6 L311.9,790.6 L311.9,790.6 L311.9,790.6 L311.9,793.1 L325.5,793.1 L325.5,793.1 L325.5,793.1 L325.5,798.1 L354.1,798.1 L354.1,798.1" fill="none" stroke="#4a8ccc" stroke-width="1.5"/>
<path d="M245.4,719.9 L246.1,719.9 L246.1,727.3 L249.9,727.3 L249.9,729.8 L253.6,729.8 L253.6,733.5 L254.8,733.5 L254.8,739.7 L267.2,739.7 L267.2,742.2 L273.4,742.2 L273.4,743.5 L273.4,743.5 L273.4,749.2 L282.1,749.2 L282.1,749.2 L283.3,749.2 L283.3,753.4 L289.6,753.4 L289.6,757.1 L289.6,757.1 L289.6,760.8 L311.9,760.8 L311.9,760.8 L311.9,760.8 L311.9,764.6 L323.1,764.6 L323.1,764.6 L323.1,764.6 L323.1,772 L381.4,772 L381.4,772" fill="none" stroke="#e8323c" stroke-width="1.5"/>
<line x1="313.1" y1="791.1" x2="313.1" y2="795.1" stroke="#4a8ccc" stroke-width="0.9"/><line x1="326.0" y1="796.1" x2="326.0" y2="800.1" stroke="#4a8ccc" stroke-width="0.9"/><line x1="331.8" y1="796.1" x2="331.8" y2="800.1" stroke="#4a8ccc" stroke-width="0.9"/><line x1="347.8" y1="796.1" x2="347.8" y2="800.1" stroke="#4a8ccc" stroke-width="0.9"/><line x1="325.8" y1="796.1" x2="325.8" y2="800.1" stroke="#4a8ccc" stroke-width="0.9"/><line x1="345.7" y1="796.1" x2="345.7" y2="800.1" stroke="#4a8ccc" stroke-width="0.9"/><line x1="248.6" y1="722.9" x2="248.6" y2="726.9" stroke="#4a8ccc" stroke-width="0.9"/><line x1="296.0" y1="788.6" x2="296.0" y2="792.6" stroke="#4a8ccc" stroke-width="0.9"/><line x1="347.9" y1="796.1" x2="347.9" y2="800.1" stroke="#4a8ccc" stroke-width="0.9"/><line x1="315.9" y1="791.1" x2="315.9" y2="795.1" stroke="#4a8ccc" stroke-width="0.9"/><line x1="343.3" y1="796.1" x2="343.3" y2="800.1" stroke="#4a8ccc" stroke-width="0.9"/><line x1="257.7" y1="739.0" x2="257.7" y2="743.0" stroke="#4a8ccc" stroke-width="0.9"/><line x1="296.4" y1="788.6" x2="296.4" y2="792.6" stroke="#4a8ccc" stroke-width="0.9"/><line x1="272.2" y1="771.2" x2="272.2" y2="775.2" stroke="#4a8ccc" stroke-width="0.9"/><line x1="304.5" y1="788.6" x2="304.5" y2="792.6" stroke="#4a8ccc" stroke-width="0.9"/><line x1="307.8" y1="788.6" x2="307.8" y2="792.6" stroke="#4a8ccc" stroke-width="0.9"/><line x1="246.8" y1="717.9" x2="246.8" y2="721.9" stroke="#4a8ccc" stroke-width="0.9"/><line x1="269.0" y1="766.3" x2="269.0" y2="770.3" stroke="#4a8ccc" stroke-width="0.9"/><line x1="275.8" y1="775.0" x2="275.8" y2="779.0" stroke="#4a8ccc" stroke-width="0.9"/><line x1="345.0" y1="796.1" x2="345.0" y2="800.1" stroke="#4a8ccc" stroke-width="0.9"/><line x1="328.6" y1="796.1" x2="328.6" y2="800.1" stroke="#4a8ccc" stroke-width="0.9"/><line x1="262.7" y1="752.6" x2="262.7" y2="756.6" stroke="#4a8ccc" stroke-width="0.9"/>
<line x1="353.3" y1="770.0" x2="353.3" y2="774.0" stroke="#e8323c" stroke-width="0.9"/><line x1="357.2" y1="770.0" x2="357.2" y2="774.0" stroke="#e8323c" stroke-width="0.9"/><line x1="311.4" y1="758.8" x2="311.4" y2="762.8" stroke="#e8323c" stroke-width="0.9"/><line x1="281.0" y1="747.2" x2="281.0" y2="751.2" stroke="#e8323c" stroke-width="0.9"/><line x1="245.5" y1="717.9" x2="245.5" y2="721.9" stroke="#e8323c" stroke-width="0.9"/><line x1="335.5" y1="770.0" x2="335.5" y2="774.0" stroke="#e8323c" stroke-width="0.9"/><line x1="309.4" y1="758.8" x2="309.4" y2="762.8" stroke="#e8323c" stroke-width="0.9"/><line x1="348.7" y1="770.0" x2="348.7" y2="774.0" stroke="#e8323c" stroke-width="0.9"/><line x1="296.1" y1="758.8" x2="296.1" y2="762.8" stroke="#e8323c" stroke-width="0.9"/><line x1="350.1" y1="770.0" x2="350.1" y2="774.0" stroke="#e8323c" stroke-width="0.9"/><line x1="282.5" y1="747.2" x2="282.5" y2="751.2" stroke="#e8323c" stroke-width="0.9"/><line x1="354.5" y1="770.0" x2="354.5" y2="774.0" stroke="#e8323c" stroke-width="0.9"/><line x1="344.7" y1="770.0" x2="344.7" y2="774.0" stroke="#e8323c" stroke-width="0.9"/><line x1="301.7" y1="758.8" x2="301.7" y2="762.8" stroke="#e8323c" stroke-width="0.9"/><line x1="318.6" y1="762.6" x2="318.6" y2="766.6" stroke="#e8323c" stroke-width="0.9"/><line x1="338.2" y1="770.0" x2="338.2" y2="774.0" stroke="#e8323c" stroke-width="0.9"/>
<line x1="381.4" y1="770" x2="381.4" y2="774" stroke="#e8323c" stroke-width="0.9"/>
<text x="358.2" y="728.8" font-size="9.6" fill="#1a1a1a">TCGA AML</text>
<rect x="378.4" y="735.3000000000001" width="6.8" height="6.8" fill="#e8323c" fill-opacity="0.18"/><line x1="378.4" y1="738.7" x2="385.2" y2="738.7" stroke="#e8323c" stroke-width="1.3"/><line x1="381.8" y1="736.3000000000001" x2="381.8" y2="741.1" stroke="#e8323c" stroke-width="0.8"/>
<text x="387.8" y="741.8000000000001" font-size="9.6" fill="#1a1a1a">High</text>
<rect x="378.4" y="749.4" width="6.8" height="6.8" fill="#4a8ccc" fill-opacity="0.18"/><line x1="378.4" y1="752.8" x2="385.2" y2="752.8" stroke="#4a8ccc" stroke-width="1.3"/><line x1="381.8" y1="750.4" x2="381.8" y2="755.1999999999999" stroke="#4a8ccc" stroke-width="0.8"/>
<text x="387.8" y="755.9" font-size="9.6" fill="#1a1a1a">Low</text>
<text x="237.4" y="843.8" font-size="9.86" fill="#1a1a1a">Number at risk</text>
<text x="235.6" y="859.6" font-size="10" text-anchor="end" fill="#e8323c">High</text>
<text x="235.6" y="874.6" font-size="10" text-anchor="end" fill="#4a8ccc">Low</text>
<line x1="238.5" y1="850.5" x2="238.5" y2="877.4" stroke="#333" stroke-width="1"/><line x1="238.5" y1="877.4" x2="394.8" y2="877.4" stroke="#333" stroke-width="1"/>
<line x1="236.4" y1="856.6" x2="238.5" y2="856.6" stroke="#333" stroke-width="0.9"/>
<line x1="236.4" y1="872" x2="238.5" y2="872" stroke="#333" stroke-width="0.9"/>
<text x="248" y="859.6" font-size="9.4" text-anchor="middle" fill="#1a1a1a">38</text>
<text x="295.8" y="859.6" font-size="9.4" text-anchor="middle" fill="#1a1a1a">13</text>
<text x="342.2" y="859.6" font-size="9.4" text-anchor="middle" fill="#1a1a1a">2</text>
<text x="388.8" y="859.6" font-size="9.4" text-anchor="middle" fill="#1a1a1a">0</text>
<text x="249.5" y="874.6" font-size="9.4" text-anchor="middle" fill="#1a1a1a">113</text>
<text x="295.8" y="874.6" font-size="9.4" text-anchor="middle" fill="#1a1a1a">17</text>
<text x="342.2" y="874.6" font-size="9.4" text-anchor="middle" fill="#1a1a1a">3</text>
<text x="388.8" y="874.6" font-size="9.4" text-anchor="middle" fill="#1a1a1a">0</text>
<text x="242" y="886.4" font-size="9.3" text-anchor="middle" fill="#1a1a1a">0</text>
<line x1="244.5" y1="877.4" x2="244.5" y2="879.6" stroke="#333" stroke-width="0.9"/>
<text x="292.3" y="886.4" font-size="9.3" text-anchor="middle" fill="#1a1a1a">1000</text>
<line x1="294.8" y1="877.4" x2="294.8" y2="879.6" stroke="#333" stroke-width="0.9"/>
<text x="341.6" y="886.4" font-size="9.3" text-anchor="middle" fill="#1a1a1a">2000</text>
<line x1="344.1" y1="877.4" x2="344.1" y2="879.6" stroke="#333" stroke-width="0.9"/>
<text x="389.8" y="886.4" font-size="9.3" text-anchor="middle" fill="#1a1a1a">3000</text>
<line x1="392.3" y1="877.4" x2="392.3" y2="879.6" stroke="#333" stroke-width="0.9"/>
<text x="321.8" y="900" font-size="9.85" text-anchor="middle" fill="#1a1a1a">Time (Days)</text>
<text transform="translate(210.4,850.7) rotate(-90)" font-size="10.3" text-anchor="middle" fill="#1a1a1a">Expression</text>
<text x="423.2" y="711.3" font-size="14" fill="#111">I</text>
<line x1="476.8" y1="713.1" x2="476.8" y2="817.7" stroke="#333" stroke-width="1"/><line x1="476.8" y1="817.7" x2="656.7" y2="817.7" stroke="#333" stroke-width="1"/>
<text x="474.6" y="720.6999999999999" font-size="9.3" text-anchor="end" fill="#1a1a1a">1.00</text>
<line x1="474.8" y1="717.4" x2="476.8" y2="717.4" stroke="#333" stroke-width="0.9"/>
<text x="474.6" y="744.5999999999999" font-size="9.3" text-anchor="end" fill="#1a1a1a">0.75</text>
<line x1="474.8" y1="741.3" x2="476.8" y2="741.3" stroke="#333" stroke-width="0.9"/>
<text x="474.6" y="768.6999999999999" font-size="9.3" text-anchor="end" fill="#1a1a1a">0.50</text>
<line x1="474.8" y1="765.4" x2="476.8" y2="765.4" stroke="#333" stroke-width="0.9"/>
<text x="474.6" y="792.6999999999999" font-size="9.3" text-anchor="end" fill="#1a1a1a">0.25</text>
<line x1="474.8" y1="789.4" x2="476.8" y2="789.4" stroke="#333" stroke-width="0.9"/>
<text x="474.6" y="816.5" font-size="9.3" text-anchor="end" fill="#1a1a1a">0.00</text>
<line x1="474.8" y1="813.2" x2="476.8" y2="813.2" stroke="#333" stroke-width="0.9"/>
<text x="484.2" y="829.3" font-size="9.3" text-anchor="middle" fill="#1a1a1a">0</text>
<line x1="484.2" y1="817.7" x2="484.2" y2="819.9" stroke="#333" stroke-width="0.9"/>
<text x="518" y="829.3" font-size="9.3" text-anchor="middle" fill="#1a1a1a">1000</text>
<line x1="518" y1="817.7" x2="518" y2="819.9" stroke="#333" stroke-width="0.9"/>
<text x="551.2" y="829.3" font-size="9.3" text-anchor="middle" fill="#1a1a1a">2000</text>
<line x1="551.2" y1="817.7" x2="551.2" y2="819.9" stroke="#333" stroke-width="0.9"/>
<text x="584.3" y="829.3" font-size="9.3" text-anchor="middle" fill="#1a1a1a">3000</text>
<line x1="584.3" y1="817.7" x2="584.3" y2="819.9" stroke="#333" stroke-width="0.9"/>
<text x="616.5" y="829.3" font-size="9.3" text-anchor="middle" fill="#1a1a1a">4000</text>
<line x1="616.5" y1="817.7" x2="616.5" y2="819.9" stroke="#333" stroke-width="0.9"/>
<text x="648.4" y="829.3" font-size="9.3" text-anchor="middle" fill="#1a1a1a">5000</text>
<line x1="648.4" y1="817.7" x2="648.4" y2="819.9" stroke="#333" stroke-width="0.9"/>
<text transform="translate(445.6,763.2) rotate(-90)" font-size="10" text-anchor="middle" fill="#1a1a1a">Survival Probability</text>
<text x="486.5" y="808.8" font-size="9.85" fill="#1a1a1a">p = 0.00397</text>
<path d="M484.6,718.1 L485.0,718.1 L485.0,719.9 L485.4,719.9 L485.4,721.8 L485.7,721.8 L485.7,723.6 L486.1,723.6 L486.1,725.4 L486.6,725.4 L486.6,727.4 L487.0,727.4 L487.0,729.3 L487.5,729.3 L487.5,731.3 L488.2,731.3 L488.2,733.5 L488.9,733.5 L488.9,735.6 L489.7,735.6 L489.7,737.8 L490.4,737.8 L490.4,740.0 L491.1,740.0 L491.1,742.2 L491.9,742.2 L491.9,744.4 L492.6,744.4 L492.6,746.6 L493.4,746.6 L493.4,748.8 L494.0,748.8 L494.0,750.8 L494.6,750.8 L494.6,752.9 L495.1,752.9 L495.1,754.9 L495.7,754.9 L495.7,757.0 L496.3,757.0 L496.3,759.0 L497.0,759.0 L497.0,760.8 L497.8,760.8 L497.8,762.6 L498.5,762.6 L498.5,764.5 L499.2,764.5 L499.2,766.3 L500.3,766.3 L500.3,768.1 L501.4,768.1 L501.4,770.0 L502.5,770.0 L502.5,771.8 L503.6,771.8 L503.6,773.6 L505.1,773.6 L505.1,775.6 L506.5,775.6 L506.5,777.5 L508.0,777.5 L508.0,779.5 L512.4,779.5 L512.4,781.4 L516.7,781.4 L516.7,783.2 L528.4,783.2 L528.4,786.8 L545.9,786.8 L545.9,790.3 L563.4,790.3 L563.4,793.2 L569.2,793.2 L569.2,795.1 L575.1,795.1 L575.1,797.0 L585.3,797.0 L585.3,798.4 L586.0,798.4 L586.0,801.0 L586.8,801.0 L586.8,803.7 L661.2,803.7 L661.2,803.7" fill="none" stroke="#4a8ccc" stroke-width="1.5"/>
<path d="M484.6,718.1 L484.8,718.1 L484.8,720.0 L485.0,720.0 L485.0,721.9 L485.2,721.9 L485.2,723.8 L485.5,723.8 L485.5,725.6 L485.7,725.6 L485.7,727.5 L485.9,727.5 L485.9,729.4 L486.1,729.4 L486.1,731.3 L487.1,731.3 L487.1,733.2 L488.0,733.2 L488.0,735.2 L489.0,735.2 L489.0,737.1 L490.0,737.1 L490.0,739.1 L490.9,739.1 L490.9,741.0 L491.9,741.0 L491.9,743.0 L492.9,743.0 L492.9,744.9 L493.8,744.9 L493.8,746.9 L494.8,746.9 L494.8,748.8 L496.2,748.8 L496.2,751.0 L497.7,751.0 L497.7,753.2 L499.2,753.2 L499.2,755.1 L500.6,755.1 L500.6,757.1 L502.1,757.1 L502.1,759.0 L502.8,759.0 L502.8,760.8 L503.6,760.8 L503.6,762.6 L504.3,762.6 L504.3,764.5 L505.0,764.5 L505.0,766.3 L509.4,766.3 L509.4,768.5 L513.8,768.5 L513.8,770.7 L522.6,770.7 L522.6,773.6 L540.1,773.6 L540.1,776.5 L581.0,776.5 L581.0,776.5" fill="none" stroke="#e8323c" stroke-width="1.5"/>
<line x1="519.7" y1="781.2" x2="519.7" y2="785.2" stroke="#4a8ccc" stroke-width="0.9"/><line x1="502.8" y1="769.8" x2="502.8" y2="773.8" stroke="#4a8ccc" stroke-width="0.9"/><line x1="551.8" y1="788.3" x2="551.8" y2="792.3" stroke="#4a8ccc" stroke-width="0.9"/><line x1="494.6" y1="748.8" x2="494.6" y2="752.8" stroke="#4a8ccc" stroke-width="0.9"/><line x1="540.5" y1="784.8" x2="540.5" y2="788.8" stroke="#4a8ccc" stroke-width="0.9"/><line x1="523.8" y1="781.2" x2="523.8" y2="785.2" stroke="#4a8ccc" stroke-width="0.9"/><line x1="493.2" y1="744.6" x2="493.2" y2="748.6" stroke="#4a8ccc" stroke-width="0.9"/><line x1="537.7" y1="784.8" x2="537.7" y2="788.8" stroke="#4a8ccc" stroke-width="0.9"/><line x1="491.2" y1="740.2" x2="491.2" y2="744.2" stroke="#4a8ccc" stroke-width="0.9"/><line x1="530.5" y1="784.8" x2="530.5" y2="788.8" stroke="#4a8ccc" stroke-width="0.9"/><line x1="494.3" y1="748.8" x2="494.3" y2="752.8" stroke="#4a8ccc" stroke-width="0.9"/><line x1="496.9" y1="757.0" x2="496.9" y2="761.0" stroke="#4a8ccc" stroke-width="0.9"/><line x1="529.6" y1="784.8" x2="529.6" y2="788.8" stroke="#4a8ccc" stroke-width="0.9"/><line x1="569.0" y1="791.2" x2="569.0" y2="795.2" stroke="#4a8ccc" stroke-width="0.9"/><line x1="500.1" y1="764.3" x2="500.1" y2="768.3" stroke="#4a8ccc" stroke-width="0.9"/><line x1="509.9" y1="777.5" x2="509.9" y2="781.5" stroke="#4a8ccc" stroke-width="0.9"/><line x1="549.5" y1="788.3" x2="549.5" y2="792.3" stroke="#4a8ccc" stroke-width="0.9"/><line x1="580.9" y1="795.0" x2="580.9" y2="799.0" stroke="#4a8ccc" stroke-width="0.9"/><line x1="544.6" y1="784.8" x2="544.6" y2="788.8" stroke="#4a8ccc" stroke-width="0.9"/><line x1="526.9" y1="781.2" x2="526.9" y2="785.2" stroke="#4a8ccc" stroke-width="0.9"/><line x1="583.7" y1="795.0" x2="583.7" y2="799.0" stroke="#4a8ccc" stroke-width="0.9"/><line x1="492.1" y1="742.4" x2="492.1" y2="746.4" stroke="#4a8ccc" stroke-width="0.9"/><line x1="572.1" y1="793.1" x2="572.1" y2="797.1" stroke="#4a8ccc" stroke-width="0.9"/><line x1="516.4" y1="779.4" x2="516.4" y2="783.4" stroke="#4a8ccc" stroke-width="0.9"/><line x1="502.1" y1="768.0" x2="502.1" y2="772.0" stroke="#4a8ccc" stroke-width="0.9"/><line x1="499.5" y1="764.3" x2="499.5" y2="768.3" stroke="#4a8ccc" stroke-width="0.9"/><line x1="518.2" y1="781.2" x2="518.2" y2="785.2" stroke="#4a8ccc" stroke-width="0.9"/><line x1="568.0" y1="791.2" x2="568.0" y2="795.2" stroke="#4a8ccc" stroke-width="0.9"/><line x1="505.7" y1="773.6" x2="505.7" y2="777.6" stroke="#4a8ccc" stroke-width="0.9"/><line x1="545.0" y1="784.8" x2="545.0" y2="788.8" stroke="#4a8ccc" stroke-width="0.9"/><line x1="550.6" y1="788.3" x2="550.6" y2="792.3" stroke="#4a8ccc" stroke-width="0.9"/><line x1="524.5" y1="781.2" x2="524.5" y2="785.2" stroke="#4a8ccc" stroke-width="0.9"/><line x1="541.7" y1="784.8" x2="541.7" y2="788.8" stroke="#4a8ccc" stroke-width="0.9"/><line x1="493.7" y1="746.8" x2="493.7" y2="750.8" stroke="#4a8ccc" stroke-width="0.9"/><line x1="493.3" y1="744.6" x2="493.3" y2="748.6" stroke="#4a8ccc" stroke-width="0.9"/><line x1="508.2" y1="777.5" x2="508.2" y2="781.5" stroke="#4a8ccc" stroke-width="0.9"/><line x1="554.7" y1="788.3" x2="554.7" y2="792.3" stroke="#4a8ccc" stroke-width="0.9"/><line x1="529.9" y1="784.8" x2="529.9" y2="788.8" stroke="#4a8ccc" stroke-width="0.9"/><line x1="518.8" y1="781.2" x2="518.8" y2="785.2" stroke="#4a8ccc" stroke-width="0.9"/><line x1="545.4" y1="784.8" x2="545.4" y2="788.8" stroke="#4a8ccc" stroke-width="0.9"/><line x1="532.4" y1="784.8" x2="532.4" y2="788.8" stroke="#4a8ccc" stroke-width="0.9"/><line x1="517.4" y1="781.2" x2="517.4" y2="785.2" stroke="#4a8ccc" stroke-width="0.9"/><line x1="565.8" y1="791.2" x2="565.8" y2="795.2" stroke="#4a8ccc" stroke-width="0.9"/><line x1="556.5" y1="788.3" x2="556.5" y2="792.3" stroke="#4a8ccc" stroke-width="0.9"/><line x1="511.9" y1="777.5" x2="511.9" y2="781.5" stroke="#4a8ccc" stroke-width="0.9"/><line x1="544.3" y1="784.8" x2="544.3" y2="788.8" stroke="#4a8ccc" stroke-width="0.9"/><line x1="539.5" y1="784.8" x2="539.5" y2="788.8" stroke="#4a8ccc" stroke-width="0.9"/><line x1="573.8" y1="793.1" x2="573.8" y2="797.1" stroke="#4a8ccc" stroke-width="0.9"/><line x1="559.5" y1="788.3" x2="559.5" y2="792.3" stroke="#4a8ccc" stroke-width="0.9"/><line x1="516.2" y1="779.4" x2="516.2" y2="783.4" stroke="#4a8ccc" stroke-width="0.9"/><line x1="584.1" y1="795.0" x2="584.1" y2="799.0" stroke="#4a8ccc" stroke-width="0.9"/><line x1="499.6" y1="764.3" x2="499.6" y2="768.3" stroke="#4a8ccc" stroke-width="0.9"/><line x1="529.0" y1="784.8" x2="529.0" y2="788.8" stroke="#4a8ccc" stroke-width="0.9"/><line x1="562.2" y1="788.3" x2="562.2" y2="792.3" stroke="#4a8ccc" stroke-width="0.9"/><line x1="502.9" y1="769.8" x2="502.9" y2="773.8" stroke="#4a8ccc" stroke-width="0.9"/><line x1="535.9" y1="784.8" x2="535.9" y2="788.8" stroke="#4a8ccc" stroke-width="0.9"/><line x1="491.3" y1="740.2" x2="491.3" y2="744.2" stroke="#4a8ccc" stroke-width="0.9"/><line x1="553.5" y1="788.3" x2="553.5" y2="792.3" stroke="#4a8ccc" stroke-width="0.9"/><line x1="562.9" y1="788.3" x2="562.9" y2="792.3" stroke="#4a8ccc" stroke-width="0.9"/><line x1="544.2" y1="784.8" x2="544.2" y2="788.8" stroke="#4a8ccc" stroke-width="0.9"/><line x1="573.8" y1="793.1" x2="573.8" y2="797.1" stroke="#4a8ccc" stroke-width="0.9"/><line x1="518.7" y1="781.2" x2="518.7" y2="785.2" stroke="#4a8ccc" stroke-width="0.9"/><line x1="556.1" y1="788.3" x2="556.1" y2="792.3" stroke="#4a8ccc" stroke-width="0.9"/><line x1="546.2" y1="788.3" x2="546.2" y2="792.3" stroke="#4a8ccc" stroke-width="0.9"/><line x1="544.8" y1="784.8" x2="544.8" y2="788.8" stroke="#4a8ccc" stroke-width="0.9"/><line x1="532.7" y1="784.8" x2="532.7" y2="788.8" stroke="#4a8ccc" stroke-width="0.9"/><line x1="570.3" y1="793.1" x2="570.3" y2="797.1" stroke="#4a8ccc" stroke-width="0.9"/><line x1="580.6" y1="795.0" x2="580.6" y2="799.0" stroke="#4a8ccc" stroke-width="0.9"/><line x1="534.5" y1="784.8" x2="534.5" y2="788.8" stroke="#4a8ccc" stroke-width="0.9"/><line x1="553.1" y1="788.3" x2="553.1" y2="792.3" stroke="#4a8ccc" stroke-width="0.9"/>
<line x1="507.6" y1="764.3" x2="507.6" y2="768.3" stroke="#e8323c" stroke-width="0.9"/><line x1="577.4" y1="774.5" x2="577.4" y2="778.5" stroke="#e8323c" stroke-width="0.9"/><line x1="498.1" y1="751.2" x2="498.1" y2="755.2" stroke="#e8323c" stroke-width="0.9"/><line x1="553.0" y1="774.5" x2="553.0" y2="778.5" stroke="#e8323c" stroke-width="0.9"/><line x1="494.2" y1="744.9" x2="494.2" y2="748.9" stroke="#e8323c" stroke-width="0.9"/><line x1="509.6" y1="766.5" x2="509.6" y2="770.5" stroke="#e8323c" stroke-width="0.9"/><line x1="580.9" y1="774.5" x2="580.9" y2="778.5" stroke="#e8323c" stroke-width="0.9"/><line x1="506.0" y1="764.3" x2="506.0" y2="768.3" stroke="#e8323c" stroke-width="0.9"/><line x1="547.0" y1="774.5" x2="547.0" y2="778.5" stroke="#e8323c" stroke-width="0.9"/><line x1="529.7" y1="771.6" x2="529.7" y2="775.6" stroke="#e8323c" stroke-width="0.9"/><line x1="529.1" y1="771.6" x2="529.1" y2="775.6" stroke="#e8323c" stroke-width="0.9"/><line x1="533.1" y1="771.6" x2="533.1" y2="775.6" stroke="#e8323c" stroke-width="0.9"/><line x1="504.3" y1="762.5" x2="504.3" y2="766.5" stroke="#e8323c" stroke-width="0.9"/><line x1="564.9" y1="774.5" x2="564.9" y2="778.5" stroke="#e8323c" stroke-width="0.9"/><line x1="494.6" y1="744.9" x2="494.6" y2="748.9" stroke="#e8323c" stroke-width="0.9"/><line x1="508.3" y1="764.3" x2="508.3" y2="768.3" stroke="#e8323c" stroke-width="0.9"/><line x1="488.0" y1="731.2" x2="488.0" y2="735.2" stroke="#e8323c" stroke-width="0.9"/><line x1="511.4" y1="766.5" x2="511.4" y2="770.5" stroke="#e8323c" stroke-width="0.9"/><line x1="524.8" y1="771.6" x2="524.8" y2="775.6" stroke="#e8323c" stroke-width="0.9"/><line x1="571.7" y1="774.5" x2="571.7" y2="778.5" stroke="#e8323c" stroke-width="0.9"/><line x1="522.1" y1="768.7" x2="522.1" y2="772.7" stroke="#e8323c" stroke-width="0.9"/><line x1="496.9" y1="749.0" x2="496.9" y2="753.0" stroke="#e8323c" stroke-width="0.9"/><line x1="510.6" y1="766.5" x2="510.6" y2="770.5" stroke="#e8323c" stroke-width="0.9"/><line x1="580.2" y1="774.5" x2="580.2" y2="778.5" stroke="#e8323c" stroke-width="0.9"/><line x1="492.1" y1="741.0" x2="492.1" y2="745.0" stroke="#e8323c" stroke-width="0.9"/><line x1="545.0" y1="774.5" x2="545.0" y2="778.5" stroke="#e8323c" stroke-width="0.9"/><line x1="521.9" y1="768.7" x2="521.9" y2="772.7" stroke="#e8323c" stroke-width="0.9"/><line x1="548.8" y1="774.5" x2="548.8" y2="778.5" stroke="#e8323c" stroke-width="0.9"/><line x1="518.2" y1="768.7" x2="518.2" y2="772.7" stroke="#e8323c" stroke-width="0.9"/><line x1="551.7" y1="774.5" x2="551.7" y2="778.5" stroke="#e8323c" stroke-width="0.9"/><line x1="533.3" y1="771.6" x2="533.3" y2="775.6" stroke="#e8323c" stroke-width="0.9"/><line x1="547.8" y1="774.5" x2="547.8" y2="778.5" stroke="#e8323c" stroke-width="0.9"/><line x1="571.6" y1="774.5" x2="571.6" y2="778.5" stroke="#e8323c" stroke-width="0.9"/><line x1="541.3" y1="774.5" x2="541.3" y2="778.5" stroke="#e8323c" stroke-width="0.9"/><line x1="499.6" y1="753.1" x2="499.6" y2="757.1" stroke="#e8323c" stroke-width="0.9"/><line x1="492.2" y1="741.0" x2="492.2" y2="745.0" stroke="#e8323c" stroke-width="0.9"/><line x1="575.9" y1="774.5" x2="575.9" y2="778.5" stroke="#e8323c" stroke-width="0.9"/><line x1="532.5" y1="771.6" x2="532.5" y2="775.6" stroke="#e8323c" stroke-width="0.9"/><line x1="504.5" y1="762.5" x2="504.5" y2="766.5" stroke="#e8323c" stroke-width="0.9"/><line x1="575.9" y1="774.5" x2="575.9" y2="778.5" stroke="#e8323c" stroke-width="0.9"/><line x1="541.0" y1="774.5" x2="541.0" y2="778.5" stroke="#e8323c" stroke-width="0.9"/><line x1="555.3" y1="774.5" x2="555.3" y2="778.5" stroke="#e8323c" stroke-width="0.9"/><line x1="569.7" y1="774.5" x2="569.7" y2="778.5" stroke="#e8323c" stroke-width="0.9"/><line x1="513.2" y1="766.5" x2="513.2" y2="770.5" stroke="#e8323c" stroke-width="0.9"/><line x1="520.0" y1="768.7" x2="520.0" y2="772.7" stroke="#e8323c" stroke-width="0.9"/>
<line x1="661.2" y1="801.2" x2="661.2" y2="806.2" stroke="#4a8ccc" stroke-width="0.9"/>
<text x="604.9" y="728.7" font-size="9.6" fill="#1a1a1a">Beat AML</text>
<rect x="620" y="735.7" width="6.8" height="6.8" fill="#e8323c" fill-opacity="0.18"/><line x1="620" y1="739.1" x2="626.8" y2="739.1" stroke="#e8323c" stroke-width="1.3"/><line x1="623.4" y1="736.7" x2="623.4" y2="741.5" stroke="#e8323c" stroke-width="0.8"/>
<text x="628.9" y="742.2" font-size="9.6" fill="#1a1a1a">High</text>
<rect x="620" y="749.3000000000001" width="6.8" height="6.8" fill="#4a8ccc" fill-opacity="0.18"/><line x1="620" y1="752.7" x2="626.8" y2="752.7" stroke="#4a8ccc" stroke-width="1.3"/><line x1="623.4" y1="750.3000000000001" x2="623.4" y2="755.1" stroke="#4a8ccc" stroke-width="0.8"/>
<text x="628.9" y="755.8000000000001" font-size="9.6" fill="#1a1a1a">Low</text>
<text x="475.6" y="844" font-size="9.4" fill="#1a1a1a">Number at risk</text>
<text x="474.8" y="859.4" font-size="10" text-anchor="end" fill="#e8323c">High</text>
<text x="474.8" y="877.6" font-size="10" text-anchor="end" fill="#4a8ccc">Low</text>
<line x1="476.8" y1="851.7" x2="476.8" y2="879.6" stroke="#333" stroke-width="1"/><line x1="476.8" y1="879.6" x2="656.7" y2="879.6" stroke="#333" stroke-width="1"/>
<line x1="474.8" y1="856.1" x2="476.8" y2="856.1" stroke="#333" stroke-width="0.9"/>
<line x1="474.8" y1="874.3" x2="476.8" y2="874.3" stroke="#333" stroke-width="0.9"/>
<text x="487.7" y="859.4" font-size="9.4" text-anchor="middle" fill="#1a1a1a">162</text>
<text x="519.8" y="859.4" font-size="9.4" text-anchor="middle" fill="#1a1a1a">46</text>
<text x="552.3" y="859.4" font-size="9.4" text-anchor="middle" fill="#1a1a1a">14</text>
<text x="584" y="859.4" font-size="9.4" text-anchor="middle" fill="#1a1a1a">0</text>
<text x="616.5" y="859.4" font-size="9.4" text-anchor="middle" fill="#1a1a1a">0</text>
<text x="648.2" y="867.2" font-size="9.4" text-anchor="middle" fill="#1a1a1a">0</text>
<text x="487.7" y="877.6" font-size="9.4" text-anchor="middle" fill="#1a1a1a">487</text>
<text x="519.8" y="877.6" font-size="9.4" text-anchor="middle" fill="#1a1a1a">87</text>
<text x="552.3" y="877.6" font-size="9.4" text-anchor="middle" fill="#1a1a1a">30</text>
<text x="584" y="877.6" font-size="9.4" text-anchor="middle" fill="#1a1a1a">5</text>
<text x="616.5" y="877.6" font-size="9.4" text-anchor="middle" fill="#1a1a1a">1</text>
<text x="648.2" y="877.6" font-size="9.4" text-anchor="middle" fill="#1a1a1a">1</text>
<text x="484.2" y="889.2" font-size="9.3" text-anchor="middle" fill="#1a1a1a">0</text>
<line x1="484.2" y1="879.6" x2="484.2" y2="881.8" stroke="#333" stroke-width="0.9"/>
<text x="518" y="889.2" font-size="9.3" text-anchor="middle" fill="#1a1a1a">1000</text>
<line x1="518" y1="879.6" x2="518" y2="881.8" stroke="#333" stroke-width="0.9"/>
<text x="551.2" y="889.2" font-size="9.3" text-anchor="middle" fill="#1a1a1a">2000</text>
<line x1="551.2" y1="879.6" x2="551.2" y2="881.8" stroke="#333" stroke-width="0.9"/>
<text x="584.3" y="889.2" font-size="9.3" text-anchor="middle" fill="#1a1a1a">3000</text>
<line x1="584.3" y1="879.6" x2="584.3" y2="881.8" stroke="#333" stroke-width="0.9"/>
<text x="616.5" y="889.2" font-size="9.3" text-anchor="middle" fill="#1a1a1a">4000</text>
<line x1="616.5" y1="879.6" x2="616.5" y2="881.8" stroke="#333" stroke-width="0.9"/>
<text x="648.4" y="889.2" font-size="9.3" text-anchor="middle" fill="#1a1a1a">5000</text>
<line x1="648.4" y1="879.6" x2="648.4" y2="881.8" stroke="#333" stroke-width="0.9"/>
<text x="565" y="900.8" font-size="9.85" text-anchor="middle" fill="#1a1a1a">Time (Days)</text>
<text transform="translate(445.8,854.8) rotate(-90)" font-size="10.3" text-anchor="middle" fill="#1a1a1a">Expression</text>
</svg></body></html>
